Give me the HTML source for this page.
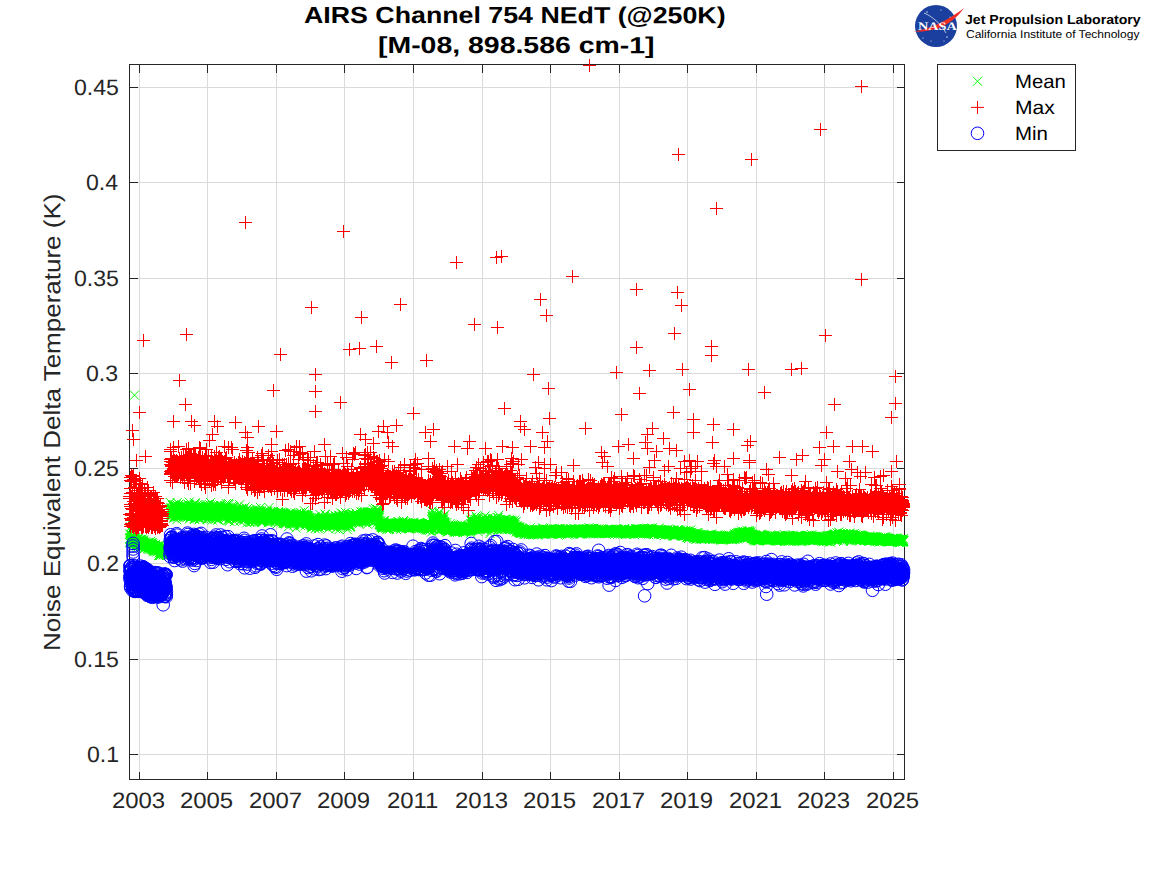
<!DOCTYPE html>
<html><head><meta charset="utf-8"><title>AIRS Channel 754 NEdT</title>
<style>
html,body{margin:0;padding:0;background:#fff;}
body{width:1167px;height:875px;position:relative;overflow:hidden;font-family:"Liberation Sans",sans-serif;}
.t{position:absolute;white-space:nowrap;line-height:1;color:#262626;transform-origin:0 0;font-family:"Liberation Sans",sans-serif;}
</style></head><body>
<svg width="1167" height="875" viewBox="0 0 1167 875" style="position:absolute;left:0;top:0">
<defs>
<marker id="mx" markerUnits="userSpaceOnUse" markerWidth="12" markerHeight="12" refX="6" refY="6" viewBox="0 0 12 12"><path d="M1.5 1.5L10.5 10.5M10.5 1.5L1.5 10.5" stroke="#00ff00" stroke-width="1" fill="none"/></marker>
<marker id="mp" markerUnits="userSpaceOnUse" markerWidth="14" markerHeight="14" refX="7" refY="7" viewBox="0 0 14 14"><path d="M0.5 7H13.5M7 0.5V13.5" stroke="#ff0000" stroke-width="1" fill="none"/></marker>
<marker id="mc" markerUnits="userSpaceOnUse" markerWidth="16" markerHeight="16" refX="8" refY="8" viewBox="0 0 16 16"><circle cx="8" cy="8" r="6.3" stroke="#0000ff" stroke-width="1" fill="none"/></marker>
</defs>
<rect x="0" y="0" width="1167" height="875" fill="#fff"/>
<path d="M139.5 64.5V779.5M207.5 64.5V779.5M276.5 64.5V779.5M344.5 64.5V779.5M413.5 64.5V779.5M482.5 64.5V779.5M550.5 64.5V779.5M619.5 64.5V779.5M687.5 64.5V779.5M756.5 64.5V779.5M824.5 64.5V779.5M893.5 64.5V779.5M129.5 87.5H904.5M129.5 182.5H904.5M129.5 278.5H904.5M129.5 373.5H904.5M129.5 468.5H904.5M129.5 563.5H904.5M129.5 659.5H904.5M129.5 754.5H904.5" stroke="#262626" stroke-opacity="0.17" stroke-width="1" fill="none" shape-rendering="crispEdges"/>
<path d="M129.5 64.5H904.5V779.5H129.5ZM139.5 779.5v-8M139.5 64.5v8M207.5 779.5v-8M207.5 64.5v8M276.5 779.5v-8M276.5 64.5v8M344.5 779.5v-8M344.5 64.5v8M413.5 779.5v-8M413.5 64.5v8M482.5 779.5v-8M482.5 64.5v8M550.5 779.5v-8M550.5 64.5v8M619.5 779.5v-8M619.5 64.5v8M687.5 779.5v-8M687.5 64.5v8M756.5 779.5v-8M756.5 64.5v8M824.5 779.5v-8M824.5 64.5v8M893.5 779.5v-8M893.5 64.5v8M129.5 87.5h8M904.5 87.5h-8M129.5 182.5h8M904.5 182.5h-8M129.5 278.5h8M904.5 278.5h-8M129.5 373.5h8M904.5 373.5h-8M129.5 468.5h8M904.5 468.5h-8M129.5 563.5h8M904.5 563.5h-8M129.5 659.5h8M904.5 659.5h-8M129.5 754.5h8M904.5 754.5h-8" stroke="#262626" stroke-width="1" fill="none" shape-rendering="crispEdges"/>
<polyline points="129.8,539.2 129.9,542.5 130.0,542.2 130.1,537.9 130.2,538.5 130.3,537.9 130.4,540.6 130.5,539.1 130.6,541.1 130.6,534.8 130.7,543.1 130.8,539.1 130.9,541.0 131.0,539.0 131.1,538.5 131.2,540.5 131.3,541.4 131.4,539.0 131.5,539.1 131.6,541.2 131.7,537.5 131.8,536.0 131.9,540.6 132.0,538.1 132.1,535.1 132.2,537.8 132.3,538.7 132.3,537.0 132.4,536.4 132.5,540.0 132.6,542.1 132.7,539.5 132.8,538.3 132.9,541.0 133.0,541.9 133.1,539.5 133.2,541.5 133.3,542.8 133.4,539.9 133.5,538.5 133.6,541.3 133.7,541.1 133.8,543.1 133.9,537.7 134.0,539.2 134.0,538.8 134.1,536.8 134.2,541.2 134.3,542.1 134.4,539.3 134.5,544.2 134.6,543.0 134.7,542.6 134.8,542.1 134.9,543.4 135.0,538.3 135.1,542.7 135.2,542.7 135.3,537.4 135.4,542.3 135.5,541.0 135.6,543.3 135.7,540.6 135.7,541.6 135.8,542.5 135.9,539.8 136.0,543.1 136.1,541.6 136.2,542.9 136.3,540.7 136.4,544.3 136.5,543.3 136.6,541.6 136.7,543.4 136.8,544.8 136.9,546.0 137.0,538.6 137.1,544.0 137.2,543.1 137.3,541.9 137.4,540.0 137.4,544.9 137.5,539.5 137.6,543.4 137.7,545.0 137.8,538.8 137.9,541.6 138.0,539.5 138.1,542.8 138.2,545.5 138.3,546.6 138.4,538.5 138.5,541.1 138.6,543.8 138.7,545.7 138.8,543.3 138.9,540.8 139.0,543.0 139.0,542.4 139.1,542.0 139.2,540.9 139.3,543.3 139.4,543.1 139.5,542.3 139.6,542.1 139.7,539.9 139.8,541.5 139.9,545.1 140.0,542.2 140.1,539.6 140.2,545.4 140.3,543.7 140.4,547.0 140.5,542.8 140.6,541.7 140.7,539.8 140.7,545.4 140.8,548.0 140.9,541.1 141.0,541.5 141.1,544.0 141.2,541.2 141.3,542.3 141.4,542.2 141.5,543.3 141.6,545.2 141.7,543.1 141.8,544.9 141.9,542.2 142.0,543.8 142.1,538.8 142.2,540.2 142.3,544.8 142.4,542.0 142.4,544.5 142.5,544.4 142.6,546.0 142.7,545.0 142.8,545.5 142.9,543.2 143.0,542.1 143.1,542.1 143.2,542.6 143.3,541.3 143.4,542.6 143.5,543.5 143.6,544.3 143.7,543.1 143.8,540.0 143.9,543.8 144.0,544.4 144.1,546.2 144.1,545.2 144.2,542.8 144.3,542.7 144.4,548.3 144.5,545.8 144.6,548.0 144.7,548.7 144.8,542.7 144.9,545.2 145.0,545.4 145.1,545.7 145.2,545.7 145.3,545.0 145.4,545.0 145.5,541.7 145.6,544.4 145.7,543.3 145.7,545.1 145.8,544.0 145.9,546.2 146.0,546.6 146.1,545.7 146.2,545.7 146.3,545.3 146.4,544.2 146.5,544.9 146.6,544.2 146.7,546.0 146.8,545.3 146.9,546.5 147.0,542.7 147.1,547.2 147.2,543.9 147.3,543.9 147.4,545.1 147.4,544.3 147.5,546.1 147.6,544.4 147.7,543.4 147.8,543.8 147.9,548.2 148.0,545.7 148.1,543.2 148.2,545.6 148.3,542.5 148.4,549.3 148.5,542.6 148.6,546.6 148.7,546.8 148.8,542.7 148.9,546.3 149.0,547.7 149.1,546.6 149.1,546.2 149.2,547.6 149.3,546.0 149.4,546.4 149.5,545.4 149.6,547.0 149.7,543.8 149.8,547.3 149.9,544.7 150.0,543.5 150.1,546.5 150.2,549.2 150.3,547.7 150.4,544.8 150.5,547.3 150.6,544.9 150.7,545.6 150.8,546.1 150.8,541.3 150.9,546.4 151.0,544.0 151.1,544.7 151.2,543.1 151.3,543.1 151.4,544.3 151.5,548.0 151.6,549.7 151.7,546.3 151.8,548.7 151.9,546.0 152.0,542.7 152.1,546.9 152.2,547.6 152.3,545.9 152.4,547.4 152.5,548.0 152.5,545.2 152.6,544.0 152.7,546.6 152.8,546.7 152.9,546.4 153.0,549.2 153.1,550.8 153.2,546.5 153.3,548.8 153.4,549.3 153.5,548.9 153.6,549.7 153.7,546.8 153.8,549.1 153.9,551.8 154.0,549.3 154.1,546.5 154.1,549.0 154.2,550.4 154.3,548.6 154.4,546.8 154.5,551.1 154.6,545.5 154.7,549.1 154.8,548.0 154.9,545.7 155.0,550.6 155.1,548.9 155.2,545.8 155.3,549.5 155.4,547.4 155.5,544.4 155.6,546.9 155.7,548.9 155.8,549.7 155.8,548.7 155.9,548.5 156.0,549.4 156.1,548.1 156.2,550.9 156.3,548.9 156.4,549.2 156.5,549.7 156.6,546.5 156.7,547.2 156.8,551.8 156.9,549.4 157.0,548.2 157.1,549.5 157.2,547.9 157.3,549.5 157.4,547.6 157.5,549.6 157.5,545.9 157.6,551.8 157.7,548.1 157.8,546.0 157.9,548.8 158.0,548.5 158.1,549.6 158.2,547.0 158.3,550.2 158.4,555.5 158.5,546.8 158.6,550.1 158.7,548.9 158.8,549.9 158.9,545.9 159.0,547.3 159.1,550.6 159.2,549.6 159.2,553.0 159.3,548.3 159.4,550.1 159.5,555.7 159.6,548.3 159.7,548.0 159.8,549.8 159.9,549.8 160.0,551.7 160.1,550.3 160.2,548.5 160.3,550.5 160.4,555.5 160.5,552.8 160.6,544.6 160.7,550.0 160.8,548.5 160.9,551.6 160.9,550.0 161.0,554.3 161.1,552.3 161.2,552.3 161.3,550.9 161.4,550.5 161.5,551.3 161.6,553.3 161.7,551.8 161.8,550.0 161.9,553.3 162.0,551.2 162.1,550.6 162.2,549.2 162.3,549.7 162.4,549.6 162.5,545.3 162.5,553.0 162.6,552.1 162.7,550.5 162.8,553.1 162.9,551.9 163.0,551.8 163.1,546.1 163.2,550.6 163.3,552.2 163.4,554.4 163.5,554.9 163.6,554.0 163.7,548.8 163.8,546.7 163.9,552.4 164.0,551.3 164.1,553.2 164.2,551.0 164.2,551.7 164.3,548.2 164.4,552.2 164.5,550.4 164.6,552.0 164.7,552.3 164.8,551.1 164.9,552.0 165.0,551.3 165.1,552.9 165.2,552.4 165.3,550.3 165.4,550.3 165.5,555.0 165.6,551.3 165.7,553.5 165.8,552.3 165.9,550.4 165.9,550.1 166.0,551.8 166.1,552.1 166.2,552.9 166.3,549.1 166.4,550.5 170.0,510.4 170.1,516.4 170.2,502.4 170.3,512.3 170.4,508.9 170.5,512.3 170.6,509.0 170.7,512.0 170.8,516.3 170.9,512.0 170.9,512.2 171.0,512.0 171.1,508.1 171.2,512.6 171.3,509.9 171.4,507.8 171.5,510.5 171.6,509.8 171.7,513.3 171.8,510.5 171.9,508.7 172.0,515.7 172.1,514.1 172.2,515.1 172.3,512.7 172.4,510.2 172.5,509.1 172.6,509.6 172.6,513.9 172.7,510.9 172.8,505.3 172.9,510.4 173.0,505.6 173.1,511.1 173.2,506.3 173.3,506.1 173.4,511.0 173.5,510.3 173.6,504.7 173.7,513.2 173.8,518.2 173.9,505.4 174.0,517.0 174.1,508.2 174.2,508.9 174.3,510.0 174.3,505.6 174.4,515.3 174.5,512.4 174.6,508.1 174.7,509.8 174.8,505.5 174.9,509.6 175.0,514.1 175.1,504.9 175.2,509.4 175.3,511.4 175.4,514.6 175.5,515.7 175.6,509.4 175.7,508.4 175.8,512.6 175.9,509.8 176.0,510.0 176.0,514.9 176.1,517.1 176.2,512.1 176.3,510.6 176.4,513.2 176.5,504.7 176.6,511.2 176.7,507.6 176.8,519.7 176.9,513.9 177.0,511.9 177.1,510.7 177.2,502.6 177.3,513.9 177.4,517.1 177.5,508.9 177.6,513.8 177.6,514.0 177.7,506.1 177.8,514.7 177.9,516.2 178.0,512.3 178.1,511.2 178.2,514.2 178.3,506.1 178.4,511.8 178.5,515.1 178.6,507.1 178.7,514.8 178.8,509.9 178.9,504.1 179.0,510.9 179.1,507.9 179.2,512.4 179.3,507.1 179.3,514.9 179.4,508.6 179.5,512.4 179.6,509.0 179.7,509.9 179.8,515.2 179.9,511.7 180.0,509.6 180.1,506.6 180.2,514.9 180.3,513.4 180.4,509.7 180.5,511.6 180.6,507.2 180.7,507.2 180.8,507.8 180.9,511.9 181.0,511.7 181.0,508.0 181.1,513.1 181.2,513.3 181.3,511.1 181.4,514.1 181.5,509.5 181.6,510.1 181.7,512.1 181.8,510.4 181.9,513.2 182.0,506.1 182.1,515.4 182.2,507.8 182.3,509.9 182.4,505.7 182.5,512.6 182.6,515.0 182.7,514.3 182.7,513.5 182.8,505.2 182.9,507.9 183.0,509.1 183.1,507.5 183.2,514.7 183.3,511.5 183.4,510.8 183.5,512.6 183.6,507.7 183.7,507.9 183.8,508.0 183.9,512.8 184.0,512.3 184.1,513.2 184.2,515.0 184.3,506.6 184.4,509.4 184.4,511.9 184.5,506.8 184.6,509.7 184.7,515.1 184.8,515.4 184.9,515.4 185.0,511.8 185.1,511.0 185.2,515.5 185.3,510.5 185.4,512.9 185.5,516.4 185.6,510.5 185.7,509.7 185.8,511.8 185.9,513.9 186.0,513.5 186.0,512.4 186.1,513.7 186.2,506.3 186.3,508.8 186.4,512.3 186.5,508.6 186.6,507.1 186.7,507.6 186.8,508.5 186.9,511.0 187.0,508.1 187.1,512.4 187.2,517.4 187.3,511.0 187.4,515.9 187.5,512.5 187.6,507.6 187.7,510.5 187.7,508.0 187.8,514.0 187.9,507.4 188.0,515.9 188.1,513.3 188.2,504.3 188.3,513.9 188.4,516.6 188.5,508.5 188.6,514.6 188.7,505.0 188.8,512.0 188.9,505.4 189.0,512.8 189.1,505.0 189.2,502.1 189.3,512.5 189.4,519.0 189.4,509.1 189.5,514.0 189.6,511.5 189.7,510.0 189.8,513.3 189.9,516.8 190.0,506.9 190.1,513.1 190.2,512.4 190.3,506.3 190.4,516.7 190.5,517.9 190.6,507.9 190.7,517.1 190.8,511.3 190.9,510.6 191.0,516.3 191.1,511.9 191.1,512.2 191.2,516.3 191.3,515.5 191.4,514.1 191.5,506.3 191.6,505.7 191.7,514.9 191.8,507.8 191.9,511.5 192.0,507.3 192.1,510.4 192.2,506.6 192.3,516.6 192.4,507.5 192.5,510.5 192.6,510.3 192.7,515.1 192.7,506.1 192.8,510.8 192.9,510.2 193.0,512.8 193.1,512.6 193.2,509.4 193.3,511.8 193.4,509.7 193.5,512.6 193.6,510.6 193.7,508.7 193.8,510.9 193.9,512.2 194.0,518.7 194.1,509.3 194.2,512.0 194.3,516.0 194.4,503.9 194.4,505.1 194.5,507.0 194.6,510.7 194.7,519.4 194.8,512.4 194.9,515.2 195.0,510.4 195.1,502.8 195.2,503.3 195.3,514.7 195.4,511.9 195.5,506.8 195.6,515.1 195.7,506.1 195.8,515.2 195.9,516.3 196.0,508.8 196.1,507.6 196.1,514.3 196.2,507.7 196.3,514.4 196.4,507.4 196.5,514.3 196.6,511.8 196.7,510.1 196.8,508.5 196.9,512.4 197.0,505.1 197.1,510.6 197.2,510.2 197.3,513.9 197.4,507.3 197.5,517.4 197.6,510.6 197.7,507.8 197.8,516.3 197.8,517.3 197.9,511.0 198.0,508.6 198.1,511.7 198.2,509.3 198.3,510.6 198.4,516.9 198.5,513.0 198.6,512.1 198.7,512.8 198.8,511.4 198.9,514.5 199.0,514.6 199.1,510.3 199.2,511.9 199.3,519.8 199.4,513.0 199.5,510.9 199.5,518.5 199.6,511.6 199.7,507.8 199.8,513.8 199.9,508.5 200.0,509.8 200.1,512.6 200.2,511.1 200.3,508.9 200.4,509.6 200.5,509.5 200.6,515.5 200.7,509.1 200.8,509.6 200.9,518.4 201.0,509.7 201.1,516.6 201.1,516.0 201.2,511.1 201.3,506.8 201.4,513.1 201.5,513.9 201.6,514.9 201.7,511.9 201.8,515.7 201.9,516.4 202.0,508.1 202.1,516.5 202.2,512.3 202.3,509.8 202.4,510.7 202.5,518.1 202.6,515.1 202.7,505.7 202.8,512.0 202.8,511.3 202.9,511.2 203.0,510.0 203.1,506.8 203.2,514.6 203.3,508.5 203.4,510.5 203.5,509.7 203.6,509.2 203.7,514.2 203.8,512.9 203.9,509.4 204.0,508.5 204.1,510.0 204.2,514.9 204.3,512.0 204.4,512.4 204.5,510.5 204.5,510.7 204.6,512.3 204.7,505.3 204.8,516.9 204.9,508.9 205.0,509.6 205.1,516.0 205.2,512.2 205.3,511.6 205.4,509.5 205.5,506.2 205.6,512.0 205.7,515.4 205.8,508.4 205.9,516.0 206.0,507.6 206.1,508.9 206.2,513.1 206.2,511.4 206.3,513.7 206.4,508.9 206.5,507.9 206.6,505.1 206.7,507.3 206.8,507.8 206.9,506.6 207.0,512.4 207.1,509.1 207.2,504.7 207.3,519.7 207.4,508.6 207.5,507.2 207.6,515.5 207.7,515.3 207.8,507.5 207.9,506.4 207.9,508.0 208.0,515.2 208.1,510.4 208.2,508.7 208.3,511.3 208.4,515.4 208.5,506.8 208.6,510.1 208.7,506.8 208.8,518.7 208.9,517.5 209.0,514.7 209.1,511.1 209.2,513.7 209.3,504.5 209.4,512.5 209.5,507.1 209.5,507.1 209.6,509.2 209.7,510.4 209.8,513.5 209.9,514.0 210.0,512.5 210.1,508.5 210.2,513.9 210.3,511.3 210.4,515.6 210.5,508.6 210.6,502.5 210.7,510.1 210.8,518.9 210.9,513.2 211.0,511.0 211.1,514.6 211.2,513.3 211.2,513.2 211.3,509.9 211.4,511.9 211.5,512.3 211.6,509.5 211.7,507.9 211.8,512.0 211.9,514.8 212.0,513.7 212.1,513.2 212.2,513.2 212.3,520.1 212.4,512.3 212.5,514.9 212.6,517.9 212.7,511.6 212.8,512.3 212.9,514.8 212.9,517.0 213.0,512.4 213.1,512.5 213.2,511.6 213.3,507.3 213.4,515.0 213.5,510.5 213.6,505.6 213.7,510.9 213.8,505.6 213.9,508.0 214.0,511.5 214.1,508.4 214.2,515.0 214.3,506.6 214.4,512.3 214.5,513.3 214.6,516.4 214.6,514.6 214.7,512.3 214.8,511.9 214.9,511.4 215.0,515.4 215.1,509.5 215.2,513.4 215.3,511.4 215.4,512.5 215.5,510.9 215.6,518.8 215.7,509.6 215.8,512.7 215.9,512.7 216.0,513.9 216.1,513.4 216.2,513.3 216.2,515.1 216.3,506.9 216.4,511.9 216.5,507.8 216.6,512.7 216.7,508.0 216.8,508.7 216.9,511.7 217.0,516.5 217.1,513.8 217.2,512.9 217.3,516.5 217.4,508.8 217.5,505.0 217.6,510.5 217.7,511.0 217.8,515.9 217.9,518.9 217.9,507.5 218.0,520.0 218.1,517.0 218.2,514.6 218.3,513.1 218.4,519.8 218.5,512.1 218.6,510.3 218.7,512.3 218.8,507.4 218.9,513.4 219.0,511.5 219.1,513.0 219.2,513.1 219.3,508.5 219.4,516.3 219.5,508.7 219.6,515.0 219.6,506.8 219.7,513.3 219.8,509.4 219.9,512.3 220.0,510.1 220.1,505.1 220.2,508.6 220.3,512.5 220.4,514.4 220.5,507.6 220.6,505.4 220.7,509.6 220.8,511.8 220.9,510.4 221.0,509.9 221.1,515.3 221.2,515.7 221.3,515.0 221.3,509.5 221.4,512.9 221.5,512.0 221.6,508.0 221.7,515.5 221.8,512.9 221.9,511.1 222.0,517.3 222.1,515.1 222.2,515.4 222.3,516.5 222.4,514.9 222.5,508.4 222.6,511.3 222.7,515.8 222.8,510.0 222.9,512.6 223.0,513.8 223.0,517.2 223.1,516.7 223.2,515.3 223.3,511.7 223.4,515.3 223.5,514.0 223.6,511.7 223.7,516.7 223.8,513.8 223.9,509.7 224.0,516.3 224.1,511.3 224.2,514.0 224.3,507.1 224.4,512.0 224.5,508.9 224.6,508.8 224.6,505.7 224.7,518.9 224.8,511.4 224.9,512.7 225.0,515.5 225.1,511.5 225.2,513.6 225.3,507.5 225.4,512.6 225.5,510.6 225.6,513.6 225.7,512.6 225.8,507.6 225.9,506.1 226.0,508.8 226.1,514.6 226.2,513.6 226.3,513.6 226.3,505.7 226.4,503.6 226.5,510.4 226.6,511.4 226.7,510.5 226.8,513.7 226.9,512.0 227.0,508.8 227.1,509.8 227.2,513.2 227.3,513.0 227.4,512.6 227.5,520.3 227.6,512.1 227.7,513.4 227.8,509.8 227.9,511.9 228.0,514.8 228.0,515.0 228.1,512.7 228.2,514.5 228.3,513.4 228.4,507.1 228.5,503.5 228.6,520.8 228.7,516.0 228.8,513.1 228.9,507.7 229.0,509.2 229.1,517.7 229.2,504.3 229.3,512.3 229.4,516.1 229.5,513.8 229.6,515.8 229.7,512.9 229.7,521.0 229.8,509.9 229.9,508.8 230.0,514.1 230.1,517.8 230.2,513.0 230.3,516.5 230.4,511.4 230.5,509.2 230.6,517.6 230.7,518.1 230.8,517.9 230.9,511.5 231.0,509.2 231.1,509.1 231.2,512.1 231.3,514.7 231.4,514.4 231.4,508.1 231.5,513.3 231.6,512.7 231.7,512.9 231.8,512.6 231.9,512.0 232.0,514.5 232.1,513.0 232.2,513.3 232.3,510.3 232.4,513.8 232.5,512.1 232.6,505.6 232.7,514.0 232.8,511.5 232.9,515.4 233.0,511.8 233.0,512.0 233.1,513.0 233.2,512.3 233.3,510.8 233.4,506.5 233.5,518.2 233.6,507.2 233.7,511.1 233.8,514.3 233.9,513.5 234.0,514.1 234.1,514.7 234.2,516.3 234.3,513.2 234.4,521.6 234.5,509.0 234.6,513.0 234.7,511.1 234.7,510.6 234.8,513.3 234.9,517.0 235.0,510.1 235.1,510.1 235.2,514.8 235.3,514.2 235.4,518.8 235.5,515.8 235.6,513.3 235.7,511.6 235.8,513.4 235.9,512.2 236.0,508.5 236.1,512.8 236.2,512.3 236.3,512.2 236.4,511.6 236.4,518.3 236.5,515.2 236.6,516.0 236.7,511.1 236.8,509.9 236.9,512.2 237.0,513.9 237.1,512.1 237.2,512.6 237.3,516.2 237.4,514.1 237.5,510.2 237.6,511.9 237.7,511.2 237.8,513.8 237.9,509.7 238.0,512.8 238.1,515.4 238.1,513.4 238.2,510.6 238.3,511.5 238.4,513.7 238.5,514.8 238.6,515.9 238.7,513.0 238.8,509.4 238.9,517.7 239.0,514.3 239.1,514.7 239.2,514.4 239.3,510.3 239.4,512.5 239.5,514.2 239.6,516.5 239.7,513.7 239.7,504.6 239.8,512.8 239.9,514.5 240.0,517.4 240.1,515.6 240.2,520.9 240.3,517.8 240.4,517.6 240.5,516.4 240.6,509.6 240.7,516.2 240.8,515.5 240.9,512.2 241.0,515.5 241.1,515.0 241.2,512.4 241.3,513.4 241.4,513.1 241.4,514.5 241.5,512.6 241.6,515.5 241.7,508.3 241.8,513.1 241.9,509.0 242.0,512.6 242.1,515.5 242.2,514.1 242.3,513.7 242.4,514.3 242.5,518.7 242.6,510.9 242.7,516.8 242.8,509.7 242.9,512.8 243.0,514.7 243.1,511.7 243.1,514.8 243.2,516.4 243.3,510.8 243.4,514.1 243.5,513.2 243.6,508.6 243.7,513.8 243.8,512.0 243.9,518.3 244.0,511.9 244.1,519.5 244.2,512.9 244.3,520.2 244.4,516.1 244.5,515.9 244.6,517.0 244.7,517.3 244.8,518.8 244.8,519.8 244.9,513.7 245.0,511.1 245.1,506.9 245.2,513.7 245.3,517.1 245.4,516.0 245.5,515.3 245.6,514.0 245.7,513.1 245.8,514.2 245.9,516.2 246.0,510.0 246.1,517.3 246.2,511.0 246.3,514.8 246.4,513.5 246.5,514.3 246.5,512.3 246.6,512.1 246.7,514.8 246.8,512.4 246.9,522.8 247.0,514.4 247.1,513.7 247.2,514.1 247.3,512.6 247.4,508.6 247.5,515.1 247.6,516.7 247.7,511.5 247.8,515.9 247.9,512.4 248.0,515.9 248.1,517.1 248.1,517.5 248.2,517.3 248.3,514.0 248.4,518.7 248.5,514.9 248.6,517.2 248.7,518.3 248.8,515.4 248.9,512.5 249.0,518.1 249.1,513.0 249.2,513.7 249.3,513.1 249.4,518.8 249.5,515.9 249.6,509.8 249.7,518.6 249.8,522.5 249.8,521.7 249.9,514.8 250.0,516.7 250.1,518.0 250.2,519.1 250.3,516.6 250.4,513.3 250.5,518.7 250.6,518.3 250.7,512.6 250.8,515.4 250.9,517.3 251.0,516.5 251.1,518.0 251.2,518.8 251.3,518.1 251.4,516.2 251.5,512.6 251.5,518.3 251.6,520.6 251.7,522.2 251.8,516.4 251.9,516.4 252.0,520.7 252.1,520.7 252.2,517.5 252.3,518.6 252.4,514.3 252.5,518.2 252.6,514.1 252.7,516.0 252.8,516.1 252.9,515.1 253.0,510.3 253.1,514.0 253.2,517.4 253.2,516.2 253.3,515.2 253.4,517.6 253.5,518.4 253.6,518.8 253.7,514.0 253.8,516.4 253.9,515.3 254.0,513.7 254.1,511.9 254.2,516.0 254.3,513.7 254.4,522.5 254.5,515.9 254.6,515.6 254.7,515.1 254.8,521.6 254.9,513.5 254.9,515.7 255.0,514.0 255.1,515.8 255.2,516.1 255.3,519.4 255.4,512.1 255.5,516.1 255.6,520.9 255.7,514.7 255.8,515.7 255.9,513.7 256.0,508.6 256.1,515.9 256.2,519.7 256.3,514.9 256.4,510.9 256.5,517.1 256.5,516.5 256.6,519.2 256.7,519.0 256.8,515.5 256.9,517.5 257.0,511.1 257.1,519.6 257.2,516.9 257.3,519.5 257.4,519.4 257.5,515.5 257.6,515.9 257.7,513.8 257.8,510.4 257.9,515.9 258.0,516.8 258.1,513.2 258.2,518.3 258.2,516.6 258.3,517.6 258.4,514.0 258.5,511.1 258.6,518.4 258.7,517.9 258.8,515.8 258.9,514.9 259.0,515.3 259.1,515.7 259.2,514.6 259.3,510.3 259.4,518.3 259.5,511.7 259.6,515.1 259.7,515.1 259.8,516.8 259.9,511.3 259.9,519.5 260.0,517.9 260.1,518.2 260.2,519.6 260.3,513.7 260.4,507.4 260.5,517.0 260.6,519.8 260.7,519.4 260.8,514.5 260.9,515.8 261.0,516.9 261.1,510.9 261.2,514.2 261.3,514.3 261.4,520.7 261.5,514.3 261.6,520.7 261.6,516.3 261.7,511.5 261.8,522.7 261.9,513.5 262.0,518.1 262.1,521.3 262.2,514.9 262.3,512.9 262.4,519.5 262.5,516.7 262.6,513.0 262.7,513.4 262.8,515.4 262.9,519.3 263.0,515.8 263.1,518.5 263.2,521.4 263.2,520.3 263.3,520.8 263.4,520.2 263.5,512.1 263.6,520.2 263.7,517.6 263.8,516.3 263.9,513.6 264.0,512.1 264.1,513.5 264.2,516.6 264.3,513.3 264.4,514.3 264.5,514.8 264.6,518.5 264.7,515.7 264.8,516.1 264.9,520.3 264.9,515.6 265.0,518.2 265.1,513.5 265.2,517.4 265.3,516.8 265.4,516.9 265.5,515.1 265.6,513.4 265.7,515.5 265.8,515.0 265.9,519.3 266.0,518.9 266.1,512.9 266.2,518.1 266.3,514.9 266.4,517.6 266.5,514.9 266.6,512.1 266.6,519.2 266.7,517.6 266.8,512.8 266.9,510.9 267.0,514.7 267.1,512.9 267.2,515.2 267.3,518.0 267.4,520.4 267.5,515.2 267.6,520.2 267.7,519.6 267.8,515.0 267.9,511.5 268.0,518.7 268.1,518.0 268.2,522.9 268.3,520.3 268.3,518.4 268.4,521.0 268.5,513.2 268.6,516.8 268.7,515.4 268.8,521.1 268.9,517.8 269.0,507.6 269.1,520.0 269.2,513.6 269.3,518.3 269.4,514.8 269.5,516.8 269.6,517.9 269.7,516.6 269.8,513.3 269.9,520.0 270.0,517.1 270.0,515.9 270.1,518.0 270.2,514.5 270.3,521.3 270.4,516.6 270.5,517.0 270.6,516.9 270.7,513.3 270.8,512.6 270.9,516.5 271.0,516.9 271.1,519.7 271.2,517.2 271.3,512.8 271.4,517.4 271.5,518.3 271.6,518.8 271.6,516.9 271.7,512.5 271.8,519.2 271.9,513.9 272.0,517.6 272.1,511.5 272.2,518.2 272.3,513.8 272.4,519.1 272.5,521.1 272.6,519.4 272.7,512.8 272.8,513.5 272.9,513.7 273.0,518.1 273.1,517.2 273.2,516.7 273.3,517.2 273.3,518.0 273.4,518.2 273.5,521.2 273.6,516.2 273.7,517.0 273.8,511.2 273.9,512.7 274.0,514.5 274.1,513.2 274.2,517.2 274.3,519.6 274.4,515.4 274.5,515.3 274.6,515.2 274.7,517.1 274.8,515.1 274.9,517.9 275.0,517.6 275.0,517.7 275.1,518.9 275.2,516.9 275.3,517.2 275.4,521.8 275.5,516.7 275.6,519.1 275.7,516.9 275.8,515.5 275.9,515.5 276.0,514.4 276.1,516.8 276.2,515.0 276.3,515.5 276.4,520.2 276.5,516.3 276.6,519.9 276.7,517.4 276.7,519.1 276.8,514.8 276.9,517.0 277.0,524.1 277.1,518.9 277.2,519.4 277.3,517.1 277.4,518.9 277.5,513.1 277.6,514.0 277.7,517.6 277.8,518.7 277.9,515.2 278.0,515.8 278.1,515.3 278.2,515.8 278.3,512.9 278.3,512.2 278.4,516.1 278.5,511.4 278.6,513.5 278.7,514.5 278.8,513.3 278.9,517.1 279.0,515.1 279.1,516.2 279.2,513.5 279.3,514.3 279.4,517.9 279.5,517.5 279.6,515.2 279.7,517.6 279.8,517.1 279.9,517.1 280.0,521.2 280.0,515.5 280.1,517.9 280.2,518.0 280.3,516.1 280.4,513.5 280.5,518.9 280.6,517.7 280.7,517.1 280.8,517.1 280.9,517.1 281.0,514.5 281.1,518.0 281.2,512.0 281.3,517.2 281.4,513.0 281.5,516.3 281.6,519.4 281.7,516.7 281.7,516.1 281.8,519.0 281.9,516.8 282.0,516.4 282.1,516.5 282.2,522.0 282.3,519.6 282.4,519.1 282.5,514.3 282.6,519.6 282.7,514.1 282.8,519.3 282.9,514.7 283.0,523.6 283.1,513.1 283.2,521.5 283.3,520.3 283.4,512.9 283.4,517.4 283.5,522.3 283.6,521.4 283.7,513.4 283.8,516.7 283.9,514.8 284.0,515.3 284.1,516.4 284.2,523.6 284.3,518.7 284.4,517.7 284.5,517.4 284.6,520.3 284.7,520.4 284.8,515.8 284.9,522.7 285.0,515.4 285.1,517.7 285.1,519.8 285.2,523.5 285.3,517.6 285.4,519.4 285.5,522.4 285.6,520.4 285.7,521.9 285.8,521.6 285.9,519.4 286.0,520.5 286.1,521.3 286.2,518.5 286.3,523.3 286.4,512.9 286.5,515.9 286.6,522.8 286.7,519.8 286.7,516.7 286.8,519.7 286.9,521.7 287.0,516.9 287.1,520.8 287.2,518.2 287.3,518.2 287.4,518.3 287.5,521.7 287.6,515.2 287.7,517.4 287.8,520.4 287.9,514.9 288.0,513.8 288.1,520.1 288.2,518.4 288.3,517.9 288.4,518.8 288.4,515.5 288.5,526.8 288.6,515.5 288.7,517.0 288.8,514.2 288.9,517.1 289.0,522.7 289.1,518.3 289.2,520.0 289.3,516.9 289.4,523.6 289.5,518.8 289.6,514.7 289.7,520.5 289.8,517.2 289.9,520.1 290.0,518.7 290.1,519.1 290.1,518.7 290.2,515.7 290.3,514.0 290.4,521.2 290.5,518.0 290.6,519.2 290.7,517.0 290.8,512.5 290.9,514.7 291.0,522.5 291.1,516.2 291.2,517.3 291.3,514.2 291.4,517.0 291.5,517.4 291.6,517.9 291.7,518.3 291.8,516.7 291.8,516.9 291.9,518.5 292.0,519.5 292.1,518.2 292.2,523.7 292.3,519.2 292.4,519.1 292.5,516.7 292.6,521.6 292.7,515.6 292.8,513.9 292.9,515.8 293.0,520.4 293.1,515.3 293.2,522.4 293.3,518.6 293.4,514.2 293.5,518.0 293.5,523.8 293.6,516.1 293.7,514.8 293.8,520.1 293.9,522.4 294.0,521.6 294.1,517.7 294.2,519.2 294.3,519.6 294.4,522.1 294.5,524.9 294.6,518.4 294.7,522.5 294.8,517.7 294.9,520.4 295.0,516.0 295.1,516.5 295.1,520.0 295.2,516.2 295.3,521.4 295.4,517.2 295.5,519.1 295.6,518.6 295.7,517.9 295.8,519.3 295.9,522.1 296.0,527.9 296.1,515.5 296.2,519.9 296.3,518.5 296.4,516.4 296.5,519.9 296.6,516.5 296.7,518.9 296.8,522.7 296.8,513.3 296.9,519.9 297.0,520.5 297.1,516.5 297.2,520.8 297.3,520.3 297.4,518.3 297.5,522.8 297.6,515.5 297.7,521.2 297.8,518.7 297.9,516.3 298.0,518.9 298.1,518.4 298.2,521.8 298.3,515.1 298.4,518.9 298.5,518.2 298.5,524.1 298.6,516.3 298.7,522.6 298.8,514.5 298.9,520.6 299.0,519.2 299.1,520.7 299.2,517.6 299.3,514.0 299.4,515.1 299.5,523.4 299.6,520.2 299.7,517.1 299.8,522.2 299.9,517.4 300.0,517.4 300.1,516.1 300.2,523.0 300.2,525.2 300.3,516.7 300.4,520.3 300.5,522.3 300.6,525.6 300.7,512.5 300.8,519.8 300.9,521.3 301.0,515.1 301.1,520.5 301.2,519.9 301.3,521.4 301.4,517.6 301.5,520.4 301.6,517.5 301.7,520.9 301.8,519.6 301.8,518.0 301.9,515.0 302.0,523.8 302.1,522.3 302.2,521.6 302.3,517.1 302.4,518.0 302.5,523.8 302.6,521.1 302.7,516.5 302.8,519.0 302.9,519.3 303.0,518.3 303.1,516.1 303.2,522.5 303.3,520.5 303.4,518.3 303.5,514.3 303.5,517.1 303.6,518.8 303.7,521.3 303.8,517.7 303.9,522.0 304.0,519.2 304.1,516.7 304.2,510.7 304.3,515.4 304.4,514.5 304.5,518.4 304.6,519.8 304.7,522.9 304.8,518.8 304.9,515.5 305.0,525.7 305.1,519.8 305.2,518.2 305.2,518.2 305.3,515.1 305.4,520.8 305.5,520.1 305.6,523.6 305.7,522.2 305.8,521.6 305.9,522.7 306.0,518.3 306.1,517.8 306.2,519.0 306.3,515.5 306.4,518.7 306.5,518.2 306.6,521.1 306.7,519.2 306.8,513.7 306.9,519.3 306.9,523.4 307.0,514.0 307.1,517.1 307.2,519.4 307.3,515.5 307.4,517.8 307.5,519.5 307.6,515.6 307.7,520.3 307.8,520.6 307.9,515.8 308.0,519.5 308.1,522.6 308.2,519.0 308.3,520.7 308.4,521.4 308.5,518.8 308.6,522.3 308.6,520.6 308.7,516.7 308.8,521.0 308.9,522.0 309.0,521.9 309.1,517.7 309.2,520.9 309.3,523.5 309.4,520.2 309.5,523.0 309.6,523.3 309.7,519.5 309.8,521.5 309.9,518.8 310.0,522.7 310.1,523.1 310.2,522.2 310.2,523.2 310.3,523.1 310.4,523.9 310.5,524.1 310.6,520.9 310.7,521.9 310.8,523.8 310.9,524.1 311.0,523.3 311.1,528.3 311.2,525.3 311.3,523.0 311.4,524.6 311.5,525.8 311.6,523.9 311.7,519.6 311.8,523.3 311.9,523.2 311.9,527.5 312.0,519.4 312.1,526.4 312.2,522.8 312.3,525.1 312.4,522.6 312.5,523.6 312.6,525.6 312.7,523.4 312.8,525.5 312.9,523.0 313.0,522.3 313.1,522.7 313.2,522.1 313.3,522.9 313.4,526.2 313.5,520.6 313.6,519.5 313.6,523.1 313.7,526.9 313.8,525.4 313.9,526.0 314.0,525.8 314.1,521.3 314.2,523.2 314.3,516.8 314.4,521.5 314.5,524.2 314.6,519.1 314.7,517.9 314.8,519.6 314.9,523.1 315.0,525.3 315.1,528.7 315.2,525.9 315.3,518.8 315.3,516.8 315.4,522.7 315.5,524.9 315.6,518.3 315.7,520.9 315.8,521.1 315.9,522.2 316.0,521.6 316.1,523.4 316.2,524.7 316.3,522.2 316.4,523.9 316.5,526.9 316.6,519.4 316.7,519.3 316.8,523.2 316.9,526.5 317.0,522.3 317.0,524.6 317.1,521.1 317.2,524.2 317.3,520.3 317.4,523.6 317.5,522.9 317.6,522.9 317.7,525.4 317.8,524.6 317.9,520.4 318.0,524.2 318.1,517.7 318.2,524.5 318.3,528.9 318.4,523.4 318.5,523.3 318.6,522.2 318.6,524.2 318.7,521.0 318.8,523.8 318.9,521.4 319.0,521.1 319.1,522.5 319.2,522.0 319.3,517.8 319.4,527.5 319.5,522.6 319.6,517.9 319.7,525.0 319.8,522.2 319.9,522.8 320.0,524.1 320.1,520.0 320.2,514.7 320.3,522.0 320.3,522.9 320.4,524.8 320.5,520.3 320.6,521.6 320.7,523.3 320.8,521.4 320.9,521.6 321.0,522.9 321.1,519.6 321.2,526.3 321.3,519.8 321.4,522.3 321.5,521.3 321.6,520.3 321.7,523.5 321.8,524.8 321.9,525.9 322.0,523.6 322.0,520.9 322.1,524.4 322.2,518.3 322.3,522.2 322.4,523.4 322.5,523.5 322.6,519.0 322.7,518.1 322.8,526.4 322.9,520.7 323.0,517.7 323.1,518.8 323.2,522.1 323.3,525.1 323.4,522.0 323.5,525.2 323.6,522.6 323.7,523.3 323.7,524.6 323.8,521.0 323.9,522.8 324.0,521.0 324.1,520.3 324.2,523.8 324.3,519.8 324.4,522.2 324.5,519.9 324.6,521.8 324.7,520.6 324.8,524.9 324.9,522.2 325.0,522.2 325.1,526.4 325.2,514.2 325.3,519.0 325.3,514.6 325.4,521.9 325.5,523.1 325.6,523.6 325.7,522.6 325.8,519.5 325.9,526.6 326.0,522.7 326.1,521.1 326.2,518.8 326.3,522.9 326.4,520.4 326.5,520.5 326.6,522.3 326.7,522.3 326.8,519.5 326.9,525.1 327.0,518.9 327.0,518.6 327.1,522.4 327.2,521.9 327.3,521.7 327.4,520.4 327.5,521.6 327.6,519.9 327.7,516.9 327.8,523.4 327.9,518.6 328.0,520.8 328.1,523.4 328.2,521.4 328.3,528.9 328.4,517.5 328.5,519.3 328.6,521.6 328.7,525.1 328.7,520.6 328.8,517.4 328.9,524.5 329.0,518.8 329.1,520.8 329.2,523.8 329.3,519.5 329.4,520.1 329.5,522.7 329.6,520.8 329.7,522.1 329.8,518.7 329.9,521.0 330.0,518.3 330.1,517.0 330.2,526.3 330.3,522.7 330.4,524.0 330.4,518.7 330.5,521.4 330.6,520.9 330.7,517.5 330.8,523.0 330.9,519.5 331.0,520.9 331.1,517.3 331.2,524.4 331.3,523.7 331.4,522.7 331.5,519.1 331.6,520.1 331.7,525.1 331.8,520.9 331.9,522.5 332.0,522.1 332.1,518.6 332.1,526.1 332.2,516.1 332.3,522.4 332.4,521.6 332.5,517.2 332.6,522.8 332.7,523.3 332.8,522.0 332.9,519.5 333.0,523.2 333.1,525.1 333.2,522.6 333.3,526.9 333.4,524.4 333.5,524.2 333.6,526.0 333.7,520.1 333.7,520.5 333.8,523.5 333.9,523.5 334.0,526.3 334.1,525.3 334.2,522.5 334.3,522.6 334.4,521.1 334.5,520.9 334.6,520.6 334.7,524.5 334.8,520.5 334.9,520.9 335.0,522.3 335.1,520.4 335.2,521.2 335.3,515.5 335.4,522.9 335.4,520.9 335.5,522.3 335.6,522.8 335.7,516.3 335.8,528.7 335.9,522.1 336.0,522.1 336.1,516.4 336.2,523.4 336.3,522.8 336.4,520.5 336.5,522.2 336.6,525.3 336.7,520.5 336.8,518.8 336.9,525.3 337.0,522.2 337.1,520.8 337.1,528.1 337.2,521.8 337.3,520.8 337.4,522.0 337.5,520.0 337.6,521.8 337.7,521.6 337.8,519.2 337.9,520.3 338.0,522.0 338.1,522.2 338.2,522.8 338.3,523.4 338.4,521.8 338.5,522.5 338.6,519.9 338.7,520.2 338.8,524.1 338.8,515.1 338.9,522.1 339.0,529.6 339.1,515.5 339.2,525.5 339.3,515.8 339.4,522.1 339.5,525.9 339.6,525.5 339.7,518.3 339.8,517.2 339.9,516.8 340.0,523.2 340.1,519.9 340.2,521.1 340.3,521.9 340.4,522.3 340.5,522.7 340.5,521.5 340.6,516.4 340.7,525.5 340.8,513.0 340.9,524.9 341.0,519.4 341.1,520.6 341.2,519.6 341.3,520.1 341.4,521.1 341.5,520.4 341.6,517.9 341.7,523.8 341.8,519.5 341.9,525.2 342.0,520.8 342.1,519.1 342.1,522.5 342.2,523.9 342.3,518.5 342.4,520.4 342.5,525.5 342.6,518.3 342.7,518.7 342.8,521.7 342.9,517.6 343.0,513.9 343.1,516.3 343.2,522.3 343.3,523.2 343.4,523.0 343.5,522.4 343.6,517.5 343.7,523.2 343.8,524.6 343.8,519.1 343.9,524.0 344.0,520.1 344.1,521.7 344.2,522.2 344.3,516.7 344.4,525.5 344.5,518.6 344.6,520.8 344.7,519.6 344.8,522.4 344.9,522.4 345.0,521.1 345.1,525.3 345.2,521.9 345.3,519.8 345.4,512.4 345.5,520.2 345.5,520.1 345.6,518.4 345.7,518.4 345.8,522.7 345.9,524.1 346.0,526.6 346.1,524.3 346.2,518.8 346.3,521.7 346.4,516.8 346.5,523.0 346.6,521.9 346.7,519.0 346.8,520.5 346.9,520.0 347.0,518.9 347.1,524.7 347.2,529.6 347.2,523.2 347.3,523.9 347.4,521.2 347.5,519.6 347.6,527.2 347.7,519.6 347.8,521.8 347.9,520.3 348.0,522.4 348.1,520.5 348.2,522.4 348.3,516.8 348.4,520.3 348.5,524.7 348.6,517.5 348.7,518.6 348.8,524.7 348.8,521.8 348.9,523.8 349.0,513.9 349.1,521.0 349.2,516.8 349.3,516.4 349.4,521.8 349.5,524.1 349.6,516.1 349.7,517.2 349.8,518.8 349.9,520.1 350.0,516.5 350.1,527.1 350.2,522.0 350.3,519.2 350.4,518.6 350.5,526.5 350.5,526.1 350.6,518.4 350.7,520.6 350.8,522.9 350.9,516.4 351.0,517.9 351.1,522.7 351.2,517.4 351.3,518.0 351.4,515.7 351.5,517.1 351.6,520.4 351.7,516.8 351.8,515.6 351.9,517.1 352.0,522.3 352.1,518.8 352.2,517.1 352.2,518.7 352.3,519.3 352.4,518.6 352.5,514.4 352.6,519.0 352.7,517.9 352.8,520.3 352.9,515.4 353.0,520.7 353.1,517.3 353.2,514.6 353.3,521.4 353.4,517.3 353.5,519.3 353.6,518.1 353.7,520.9 353.8,520.9 353.9,520.9 353.9,520.1 354.0,514.8 354.1,514.7 354.2,518.9 354.3,516.3 354.4,519.5 354.5,518.8 354.6,515.2 354.7,516.1 354.8,515.8 354.9,516.4 355.0,517.9 355.1,519.9 355.2,521.4 355.3,516.1 355.4,517.0 355.5,521.9 355.6,520.3 355.6,518.8 355.7,512.8 355.8,515.9 355.9,518.6 356.0,516.8 356.1,522.8 356.2,518.4 356.3,518.8 356.4,515.5 356.5,515.6 356.6,516.5 356.7,516.6 356.8,517.5 356.9,518.9 357.0,518.5 357.1,520.3 357.2,514.8 357.2,518.4 357.3,518.5 357.4,521.6 357.5,517.4 357.6,518.6 357.7,515.9 357.8,518.9 357.9,518.8 358.0,516.4 358.1,516.8 358.2,517.8 358.3,519.3 358.4,515.1 358.5,520.0 358.6,517.1 358.7,522.5 358.8,521.4 358.9,517.0 358.9,516.5 359.0,523.9 359.1,519.5 359.2,519.4 359.3,517.0 359.4,517.8 359.5,520.0 359.6,519.6 359.7,516.1 359.8,521.2 359.9,518.9 360.0,515.8 360.1,520.6 360.2,517.7 360.3,520.1 360.4,516.8 360.5,519.1 360.6,514.2 360.6,519.1 360.7,514.4 360.8,518.5 360.9,511.9 361.0,518.0 361.1,519.9 361.2,519.3 361.3,521.0 361.4,515.4 361.5,521.9 361.6,522.0 361.7,515.0 361.8,516.0 361.9,516.5 362.0,517.8 362.1,518.3 362.2,511.7 362.3,519.2 362.3,517.1 362.4,515.1 362.5,520.0 362.6,516.7 362.7,520.4 362.8,518.9 362.9,516.7 363.0,520.4 363.1,519.4 363.2,516.1 363.3,513.3 363.4,515.9 363.5,518.8 363.6,516.6 363.7,521.6 363.8,517.8 363.9,517.6 364.0,518.1 364.0,514.8 364.1,516.7 364.2,515.3 364.3,511.0 364.4,512.5 364.5,518.9 364.6,515.8 364.7,516.7 364.8,513.2 364.9,515.5 365.0,519.0 365.1,517.2 365.2,515.6 365.3,520.9 365.4,516.8 365.5,516.1 365.6,520.0 365.6,512.5 365.7,518.5 365.8,514.2 365.9,515.0 366.0,515.3 366.1,517.4 366.2,517.4 366.3,517.9 366.4,517.7 366.5,520.8 366.6,521.5 366.7,519.0 366.8,519.1 366.9,516.2 367.0,514.3 367.1,518.7 367.2,517.3 367.3,519.4 367.3,512.4 367.4,524.2 367.5,513.8 367.6,517.2 367.7,519.8 367.8,513.5 367.9,515.6 368.0,511.7 368.1,513.3 368.2,511.9 368.3,517.3 368.4,517.8 368.5,516.1 368.6,520.3 368.7,520.6 368.8,516.9 368.9,516.3 369.0,516.1 369.0,515.6 369.1,520.3 369.2,517.4 369.3,515.8 369.4,516.1 369.5,518.1 369.6,515.5 369.7,517.4 369.8,516.4 369.9,520.1 370.0,519.6 370.1,512.6 370.2,515.9 370.3,518.3 370.4,515.1 370.5,518.5 370.6,517.1 370.7,517.8 370.7,516.0 370.8,517.0 370.9,517.5 371.0,512.1 371.1,513.6 371.2,513.3 371.3,520.6 371.4,516.8 371.5,517.0 371.6,516.4 371.7,514.5 371.8,513.9 371.9,518.2 372.0,514.9 372.1,520.2 372.2,516.4 372.3,516.1 372.3,515.2 372.4,515.6 372.5,515.9 372.6,520.0 372.7,522.3 372.8,512.6 372.9,516.5 373.0,517.7 373.1,513.3 373.2,514.0 373.3,514.5 373.4,509.0 373.5,517.6 373.6,515.6 373.7,515.5 373.8,515.9 373.9,516.4 374.0,522.2 374.0,516.2 374.1,518.0 374.2,514.2 374.3,516.7 374.4,514.8 374.5,515.2 374.6,513.1 374.7,513.3 374.8,516.9 374.9,517.7 375.0,516.9 375.1,513.7 375.2,516.5 375.3,508.3 375.4,518.2 375.5,515.4 375.6,516.3 375.7,518.8 375.7,514.2 375.8,518.2 375.9,514.2 376.0,516.9 376.1,514.2 376.2,516.2 376.3,519.5 376.4,513.4 376.5,513.5 376.6,514.3 376.7,516.1 376.8,523.1 376.9,513.5 377.0,509.3 377.1,513.3 377.2,510.6 377.3,513.5 377.4,515.2 377.4,512.3 377.5,513.1 377.6,509.7 377.7,515.6 377.8,512.9 377.9,518.2 378.0,518.1 378.1,512.6 378.2,514.0 378.3,515.2 378.4,517.3 378.5,510.2 378.6,514.9 378.7,520.6 378.8,514.9 378.9,515.8 379.0,515.1 379.1,511.6 379.1,518.0 379.2,516.1 379.3,515.8 379.4,517.6 379.5,524.3 379.6,521.2 379.7,524.1 379.8,522.8 379.9,523.8 380.0,522.8 380.1,522.7 380.2,525.1 380.3,523.9 380.4,523.6 380.5,523.7 380.6,524.2 380.7,524.2 380.7,520.9 380.8,523.1 380.9,524.1 381.0,525.5 381.1,526.5 381.2,523.1 381.3,527.4 381.4,524.7 381.5,525.3 381.6,523.8 381.7,523.7 381.8,526.8 381.9,524.4 382.0,524.6 382.1,526.4 382.2,527.3 382.3,522.6 382.4,524.5 382.4,524.8 382.5,527.5 382.6,528.5 382.7,524.8 382.8,525.5 382.9,526.2 383.0,526.6 383.1,524.5 383.2,526.2 383.3,524.0 383.4,521.1 383.5,523.0 383.6,525.4 383.7,526.2 383.8,521.8 383.9,522.5 384.0,525.1 384.1,520.6 384.1,526.0 384.2,526.7 384.3,520.8 384.4,526.3 384.5,524.9 384.6,527.3 384.7,525.7 384.8,524.9 384.9,525.4 385.0,526.7 385.1,525.6 385.2,525.4 385.3,523.2 385.4,526.0 385.5,525.4 385.6,528.0 385.7,525.3 385.8,525.2 385.8,524.5 385.9,526.4 386.0,525.1 386.1,524.4 386.2,527.7 386.3,528.0 386.4,524.7 386.5,523.9 386.6,527.1 386.7,524.2 386.8,529.6 386.9,525.2 387.0,526.8 387.1,523.5 387.2,525.4 387.3,527.0 387.4,526.1 387.5,524.6 387.5,529.0 387.6,526.5 387.7,525.1 387.8,524.5 387.9,525.0 388.0,527.3 388.1,524.2 388.2,525.4 388.3,524.1 388.4,527.1 388.5,525.0 388.6,526.5 388.7,526.1 388.8,524.4 388.9,526.3 389.0,526.6 389.1,523.5 389.1,526.2 389.2,529.3 389.3,524.7 389.4,526.1 389.5,523.2 389.6,525.8 389.7,524.3 389.8,526.3 389.9,525.1 390.0,523.4 390.1,526.8 390.2,524.8 390.3,523.7 390.4,525.3 390.5,523.7 390.6,525.7 390.7,525.1 390.8,524.6 390.8,526.1 390.9,523.3 391.0,526.6 391.1,522.2 391.2,527.5 391.3,525.4 391.4,524.8 391.5,524.1 391.6,526.0 391.7,525.0 391.8,524.9 391.9,526.7 392.0,524.6 392.1,524.9 392.2,525.8 392.3,526.8 392.4,525.0 392.5,525.4 392.5,525.3 392.6,526.3 392.7,527.4 392.8,523.8 392.9,525.0 393.0,525.2 393.1,526.1 393.2,527.4 393.3,525.2 393.4,525.6 393.5,526.9 393.6,523.4 393.7,524.1 393.8,524.6 393.9,525.3 394.0,525.6 394.1,524.5 394.2,527.9 394.2,524.3 394.3,525.0 394.4,527.0 394.5,526.5 394.6,525.4 394.7,526.0 394.8,526.6 394.9,525.4 395.0,526.4 395.1,524.1 395.2,525.6 395.3,523.1 395.4,524.2 395.5,523.9 395.6,527.4 395.7,524.9 395.8,526.0 395.8,524.2 395.9,525.3 396.0,525.2 396.1,524.3 396.2,526.9 396.3,523.2 396.4,526.5 396.5,529.5 396.6,524.4 396.7,525.6 396.8,523.3 396.9,525.5 397.0,523.0 397.1,526.5 397.2,524.8 397.3,522.8 397.4,523.6 397.5,523.2 397.5,525.1 397.6,526.7 397.7,524.9 397.8,523.7 397.9,524.2 398.0,525.6 398.1,521.8 398.2,526.3 398.3,526.0 398.4,521.7 398.5,527.1 398.6,522.9 398.7,525.0 398.8,527.0 398.9,522.9 399.0,522.5 399.1,523.6 399.2,523.6 399.2,525.0 399.3,524.4 399.4,524.5 399.5,524.5 399.6,524.9 399.7,523.9 399.8,525.6 399.9,525.1 400.0,523.6 400.1,527.8 400.2,523.2 400.3,526.1 400.4,523.9 400.5,525.5 400.6,525.8 400.7,526.2 400.8,527.1 400.9,523.7 400.9,529.2 401.0,525.5 401.1,523.7 401.2,522.9 401.3,528.3 401.4,527.3 401.5,524.8 401.6,526.0 401.7,526.8 401.8,525.0 401.9,524.2 402.0,524.8 402.1,526.1 402.2,524.9 402.3,523.0 402.4,525.9 402.5,522.3 402.6,523.7 402.6,526.7 402.7,525.2 402.8,525.2 402.9,525.0 403.0,526.4 403.1,524.8 403.2,522.0 403.3,525.3 403.4,520.5 403.5,521.9 403.6,527.3 403.7,526.6 403.8,524.4 403.9,525.0 404.0,525.2 404.1,526.6 404.2,524.0 404.2,523.9 404.3,524.3 404.4,525.4 404.5,525.6 404.6,524.7 404.7,526.4 404.8,523.8 404.9,525.2 405.0,524.3 405.1,523.8 405.2,527.1 405.3,524.9 405.4,523.8 405.5,525.4 405.6,523.9 405.7,526.2 405.8,526.6 405.9,526.9 405.9,523.8 406.0,525.1 406.1,528.1 406.2,525.0 406.3,527.2 406.4,527.6 406.5,523.3 406.6,527.1 406.7,526.4 406.8,526.6 406.9,527.8 407.0,526.0 407.1,525.4 407.2,526.2 407.3,524.8 407.4,526.0 407.5,522.3 407.6,527.9 407.6,524.5 407.7,526.1 407.8,525.8 407.9,525.5 408.0,525.5 408.1,525.5 408.2,523.0 408.3,524.6 408.4,527.2 408.5,524.0 408.6,523.9 408.7,528.7 408.8,527.4 408.9,527.9 409.0,525.6 409.1,526.0 409.2,526.8 409.3,526.5 409.3,525.6 409.4,523.6 409.5,524.7 409.6,523.6 409.7,528.2 409.8,525.3 409.9,525.6 410.0,526.3 410.1,526.0 410.2,526.7 410.3,525.1 410.4,523.7 410.5,528.6 410.6,525.0 410.7,525.3 410.8,524.8 410.9,525.2 411.0,526.0 411.0,527.1 411.1,524.5 411.2,526.4 411.3,525.0 411.4,527.8 411.5,524.2 411.6,526.1 411.7,527.0 411.8,523.9 411.9,526.1 412.0,526.1 412.1,524.7 412.2,525.6 412.3,527.3 412.4,526.2 412.5,525.2 412.6,525.5 412.6,526.4 412.7,527.6 412.8,526.9 412.9,526.8 413.0,528.0 413.1,523.4 413.2,523.5 413.3,522.3 413.4,526.8 413.5,522.2 413.6,525.5 413.7,526.7 413.8,523.5 413.9,524.6 414.0,525.1 414.1,526.6 414.2,523.3 414.3,526.0 414.3,526.5 414.4,525.7 414.5,525.7 414.6,527.3 414.7,525.8 414.8,525.5 414.9,525.0 415.0,526.4 415.1,525.1 415.2,526.4 415.3,525.6 415.4,527.1 415.5,524.3 415.6,525.6 415.7,526.0 415.8,526.0 415.9,527.1 416.0,526.0 416.0,526.7 416.1,528.3 416.2,526.6 416.3,523.9 416.4,523.3 416.5,526.4 416.6,524.8 416.7,525.8 416.8,525.1 416.9,527.3 417.0,527.1 417.1,523.7 417.2,525.7 417.3,524.9 417.4,523.4 417.5,526.2 417.6,525.1 417.7,525.9 417.7,528.9 417.8,527.2 417.9,526.9 418.0,524.7 418.1,523.6 418.2,527.1 418.3,524.9 418.4,525.4 418.5,524.8 418.6,525.6 418.7,528.9 418.8,525.0 418.9,525.1 419.0,525.8 419.1,526.0 419.2,523.8 419.3,523.0 419.3,524.8 419.4,525.4 419.5,524.6 419.6,524.3 419.7,524.4 419.8,525.2 419.9,525.7 420.0,523.5 420.1,525.1 420.2,526.5 420.3,525.8 420.4,524.1 420.5,525.5 420.6,526.1 420.7,527.2 420.8,523.8 420.9,527.2 421.0,525.5 421.0,526.5 421.1,527.3 421.2,525.0 421.3,525.2 421.4,526.2 421.5,527.4 421.6,525.6 421.7,524.4 421.8,525.4 421.9,527.0 422.0,528.1 422.1,525.7 422.2,526.0 422.3,526.2 422.4,526.3 422.5,525.1 422.6,525.9 422.7,526.8 422.7,526.7 422.8,526.5 422.9,525.1 423.0,525.7 423.1,525.5 423.2,528.0 423.3,528.6 423.4,527.0 423.5,528.8 423.6,526.1 423.7,526.1 423.8,524.7 423.9,526.9 424.0,525.9 424.1,526.6 424.2,527.1 424.3,526.0 424.4,524.5 424.4,526.1 424.5,526.0 424.6,526.1 424.7,527.1 424.8,525.5 424.9,525.4 425.0,528.8 425.1,527.6 425.2,525.6 425.3,524.1 425.4,525.0 425.5,526.4 425.6,527.3 425.7,530.1 425.8,525.3 425.9,526.1 426.0,525.1 426.1,525.9 426.1,525.1 426.2,523.8 426.3,527.7 426.4,526.0 426.5,528.2 426.6,524.9 426.7,526.3 426.8,527.1 426.9,522.4 427.0,523.4 427.1,527.3 427.2,526.1 427.3,522.4 427.4,524.5 427.5,523.9 427.6,525.0 427.7,528.9 427.7,524.9 427.8,529.9 427.9,525.6 428.0,524.6 428.1,529.1 428.2,527.9 428.3,528.8 428.4,530.0 428.5,528.3 428.6,528.6 428.7,522.9 428.8,524.6 428.9,527.2 429.0,526.7 429.1,527.8 429.2,525.4 429.3,528.6 429.4,530.5 429.4,527.6 429.5,528.1 429.6,527.5 429.7,528.4 429.8,526.9 429.9,525.5 430.0,526.9 430.1,526.7 430.2,523.4 430.3,527.0 430.4,526.6 430.5,527.0 430.6,525.4 430.7,527.6 430.8,527.9 430.9,525.1 431.0,527.2 431.1,528.2 431.1,528.2 431.2,524.6 431.3,524.4 431.4,526.6 431.5,524.3 431.6,532.0 431.7,524.8 431.8,524.9 431.9,528.0 432.0,525.6 432.1,511.0 432.2,520.2 432.3,516.7 432.4,518.6 432.5,514.1 432.6,517.0 432.7,520.1 432.8,520.5 432.8,516.2 432.9,517.9 433.0,517.3 433.1,521.4 433.2,520.2 433.3,515.8 433.4,523.5 433.5,518.1 433.6,522.5 433.7,517.2 433.8,522.2 433.9,520.5 434.0,521.2 434.1,523.0 434.2,522.8 434.3,521.7 434.4,521.7 434.5,516.0 434.5,520.8 434.6,512.5 434.7,512.3 434.8,519.9 434.9,520.3 435.0,527.1 435.1,523.8 435.2,525.5 435.3,520.0 435.4,523.0 435.5,525.8 435.6,523.3 435.7,522.7 435.8,521.8 435.9,517.8 436.0,518.0 436.1,516.0 436.1,523.0 436.2,520.5 436.3,518.9 436.4,522.9 436.5,519.4 436.6,525.5 436.7,528.8 436.8,523.3 436.9,519.1 437.0,516.1 437.1,529.2 437.2,523.4 437.3,517.4 437.4,525.8 437.5,515.6 437.6,520.2 437.7,521.0 437.8,520.5 437.8,517.7 437.9,530.7 438.0,520.5 438.1,523.3 438.2,522.1 438.3,516.2 438.4,520.0 438.5,522.8 438.6,525.4 438.7,520.8 438.8,523.4 438.9,520.8 439.0,524.2 439.1,513.2 439.2,524.2 439.3,519.9 439.4,520.0 439.5,512.1 439.5,518.4 439.6,524.3 439.7,530.3 439.8,519.7 439.9,519.9 440.0,523.9 440.1,523.2 440.2,520.2 440.3,521.7 440.4,520.9 440.5,524.4 440.6,525.0 440.7,528.3 440.8,525.5 440.9,524.6 441.0,522.9 441.1,525.6 441.2,519.1 441.2,529.7 441.3,523.4 441.4,527.2 441.5,519.8 441.6,526.0 441.7,523.9 441.8,522.0 441.9,520.4 442.0,519.7 442.1,528.6 442.2,526.7 442.3,523.1 442.4,523.4 442.5,520.4 442.6,516.8 442.7,517.0 442.8,520.9 442.8,522.4 442.9,519.1 443.0,525.5 443.1,524.6 443.2,523.5 443.3,517.3 443.4,522.3 443.5,522.9 443.6,519.0 443.7,516.1 443.8,529.1 443.9,525.0 444.0,521.8 444.1,528.1 444.2,526.5 444.3,524.5 444.4,523.8 444.5,525.5 444.5,527.6 444.6,523.3 444.7,522.4 444.8,524.9 444.9,514.5 445.0,528.4 445.1,527.5 445.2,528.2 445.3,527.9 445.4,528.9 445.5,528.4 445.6,528.4 445.7,528.0 445.8,529.1 445.9,527.3 446.0,530.1 446.1,525.1 446.2,528.7 446.2,529.1 446.3,525.9 446.4,527.5 446.5,530.8 446.6,528.1 446.7,526.7 446.8,522.7 446.9,529.0 447.0,528.6 447.1,529.5 447.2,532.2 447.3,528.4 447.4,528.6 447.5,527.1 447.6,528.2 447.7,528.3 447.8,529.8 447.9,529.4 447.9,526.9 448.0,527.4 448.1,530.9 448.2,526.7 448.3,529.8 448.4,531.4 448.5,529.7 448.6,529.0 448.7,530.9 448.8,529.3 448.9,528.7 449.0,528.4 449.1,530.6 449.2,529.8 449.3,531.1 449.4,528.1 449.5,528.1 449.6,527.9 449.6,529.0 449.7,527.5 449.8,530.0 449.9,529.0 450.0,526.9 450.1,523.8 450.2,525.6 450.3,530.7 450.4,528.3 450.5,528.6 450.6,527.7 450.7,529.0 450.8,525.3 450.9,525.2 451.0,525.8 451.1,528.4 451.2,529.4 451.2,529.1 451.3,528.1 451.4,526.3 451.5,529.6 451.6,527.9 451.7,528.3 451.8,528.3 451.9,527.7 452.0,527.3 452.1,527.5 452.2,526.4 452.3,528.9 452.4,528.3 452.5,530.2 452.6,525.7 452.7,530.5 452.8,528.5 452.9,528.4 452.9,527.4 453.0,527.4 453.1,526.4 453.2,530.2 453.3,528.5 453.4,530.0 453.5,530.2 453.6,528.1 453.7,528.5 453.8,528.4 453.9,530.6 454.0,529.2 454.1,529.3 454.2,530.2 454.3,529.0 454.4,532.3 454.5,527.7 454.6,531.1 454.6,531.4 454.7,527.4 454.8,530.6 454.9,529.7 455.0,530.6 455.1,527.4 455.2,529.7 455.3,527.7 455.4,528.8 455.5,531.5 455.6,529.1 455.7,525.7 455.8,527.1 455.9,527.5 456.0,530.9 456.1,528.2 456.2,526.8 456.3,531.0 456.3,529.6 456.4,529.8 456.5,528.0 456.6,531.5 456.7,529.0 456.8,526.1 456.9,527.4 457.0,527.8 457.1,528.9 457.2,530.3 457.3,527.9 457.4,528.1 457.5,532.5 457.6,529.1 457.7,528.2 457.8,529.0 457.9,527.0 458.0,529.8 458.0,530.4 458.1,528.0 458.2,530.5 458.3,528.4 458.4,529.3 458.5,527.6 458.6,527.5 458.7,526.4 458.8,529.1 458.9,528.3 459.0,528.3 459.1,526.9 459.2,526.9 459.3,527.7 459.4,529.4 459.5,529.1 459.6,527.6 459.6,529.1 459.7,531.4 459.8,528.8 459.9,531.8 460.0,529.3 460.1,530.7 460.2,527.8 460.3,530.5 460.4,526.8 460.5,529.1 460.6,528.2 460.7,525.6 460.8,526.6 460.9,530.6 461.0,529.6 461.1,530.9 461.2,529.2 461.3,524.3 461.3,529.3 461.4,528.1 461.5,528.2 461.6,528.3 461.7,527.8 461.8,527.6 461.9,531.1 462.0,529.8 462.1,528.1 462.2,528.5 462.3,530.7 462.4,529.8 462.5,529.5 462.6,527.3 462.7,528.6 462.8,527.5 462.9,526.3 463.0,530.7 463.0,528.8 463.1,528.7 463.2,527.8 463.3,530.5 463.4,532.6 463.5,530.3 463.6,530.8 463.7,527.4 463.8,529.6 463.9,529.7 464.0,531.7 464.1,529.4 464.2,527.8 464.3,529.2 464.4,528.6 464.5,531.6 464.6,530.4 464.7,529.8 464.7,529.6 464.8,530.6 464.9,528.5 465.0,527.8 465.1,526.3 465.2,531.1 465.3,530.0 465.4,530.2 465.5,529.3 465.6,531.8 465.7,527.6 465.8,531.0 465.9,527.8 466.0,528.4 466.1,527.2 466.2,529.2 466.3,528.6 466.3,529.8 466.4,528.1 466.5,526.9 466.6,529.9 466.7,531.1 466.8,530.2 466.9,528.9 467.0,529.6 467.1,526.3 467.2,528.4 467.3,530.8 467.4,529.7 467.5,527.6 467.6,530.3 467.7,528.7 467.8,530.1 467.9,526.7 468.0,528.1 468.0,529.4 468.1,529.4 468.2,529.7 468.3,528.9 468.4,528.6 468.5,529.6 468.6,530.2 468.7,526.5 468.8,528.3 468.9,528.5 469.0,529.1 469.1,530.4 469.2,526.7 469.3,529.7 469.4,526.1 469.5,527.6 469.6,528.0 469.7,528.4 469.7,527.8 469.8,528.0 469.9,528.3 470.0,528.4 470.1,525.9 470.2,526.6 470.3,528.1 470.4,529.6 470.5,530.4 470.6,533.3 470.7,529.0 470.8,527.6 470.9,529.1 471.0,529.9 471.1,524.6 471.2,520.9 471.3,523.9 471.4,524.0 471.4,519.8 471.5,520.4 471.6,527.9 471.7,517.2 471.8,524.6 471.9,523.3 472.0,528.4 472.1,526.0 472.2,521.4 472.3,527.9 472.4,522.3 472.5,530.2 472.6,529.1 472.7,523.7 472.8,526.3 472.9,524.5 473.0,521.1 473.1,527.2 473.1,525.2 473.2,526.5 473.3,527.2 473.4,528.2 473.5,527.0 473.6,523.6 473.7,524.1 473.8,525.1 473.9,523.4 474.0,523.1 474.1,529.5 474.2,525.3 474.3,529.6 474.4,521.4 474.5,523.7 474.6,522.5 474.7,522.6 474.7,522.9 474.8,523.5 474.9,522.5 475.0,529.4 475.1,526.0 475.2,521.6 475.3,522.2 475.4,526.2 475.5,525.6 475.6,522.0 475.7,526.8 475.8,519.5 475.9,522.5 476.0,529.3 476.1,516.0 476.2,523.4 476.3,527.1 476.4,523.6 476.4,521.7 476.5,521.3 476.6,517.7 476.7,520.0 476.8,524.3 476.9,522.4 477.0,524.1 477.1,523.7 477.2,525.1 477.3,519.1 477.4,523.3 477.5,523.2 477.6,523.3 477.7,521.6 477.8,517.6 477.9,526.3 478.0,526.9 478.1,531.7 478.1,526.7 478.2,529.5 478.3,526.3 478.4,523.3 478.5,526.0 478.6,520.9 478.7,525.3 478.8,524.2 478.9,521.3 479.0,528.3 479.1,528.0 479.2,526.0 479.3,527.1 479.4,529.7 479.5,524.2 479.6,520.4 479.7,521.7 479.8,526.8 479.8,525.3 479.9,520.0 480.0,528.7 480.1,525.3 480.2,529.6 480.3,528.1 480.4,523.3 480.5,524.9 480.6,522.3 480.7,522.0 480.8,523.7 480.9,526.1 481.0,528.8 481.1,521.8 481.2,526.7 481.3,524.7 481.4,523.9 481.5,528.0 481.5,523.5 481.6,528.8 481.7,523.5 481.8,521.7 481.9,526.9 482.0,520.0 482.1,520.8 482.2,523.9 482.3,524.5 482.4,523.6 482.5,518.3 482.6,520.3 482.7,526.0 482.8,526.1 482.9,521.3 483.0,525.2 483.1,525.0 483.1,527.5 483.2,522.1 483.3,528.9 483.4,523.4 483.5,528.8 483.6,527.2 483.7,521.2 483.8,523.4 483.9,525.2 484.0,527.5 484.1,520.0 484.2,522.8 484.3,526.2 484.4,525.8 484.5,521.0 484.6,521.5 484.7,525.6 484.8,521.1 484.8,525.0 484.9,527.1 485.0,524.3 485.1,515.9 485.2,527.9 485.3,527.8 485.4,528.6 485.5,526.9 485.6,519.0 485.7,528.6 485.8,525.3 485.9,527.2 486.0,523.8 486.1,523.5 486.2,523.6 486.3,529.2 486.4,525.2 486.5,523.7 486.5,520.4 486.6,525.8 486.7,524.4 486.8,524.9 486.9,527.5 487.0,526.7 487.1,524.5 487.2,525.1 487.3,524.8 487.4,526.7 487.5,526.6 487.6,525.0 487.7,521.9 487.8,527.2 487.9,527.4 488.0,521.3 488.1,525.8 488.2,523.4 488.2,517.9 488.3,524.5 488.4,527.6 488.5,522.4 488.6,522.5 488.7,527.8 488.8,521.3 488.9,521.8 489.0,523.8 489.1,526.7 489.2,526.7 489.3,523.1 489.4,523.8 489.5,525.0 489.6,523.6 489.7,522.1 489.8,521.4 489.8,527.0 489.9,524.1 490.0,533.5 490.1,526.7 490.2,522.5 490.3,524.7 490.4,525.8 490.5,525.9 490.6,526.1 490.7,526.1 490.8,524.3 490.9,526.6 491.0,531.3 491.1,523.3 491.2,523.5 491.3,526.8 491.4,528.4 491.5,527.1 491.5,528.3 491.6,524.4 491.7,523.8 491.8,526.5 491.9,526.6 492.0,529.6 492.1,529.2 492.2,518.9 492.3,526.8 492.4,522.4 492.5,518.1 492.6,525.6 492.7,523.9 492.8,523.3 492.9,520.5 493.0,521.3 493.1,523.7 493.2,519.8 493.2,524.0 493.3,524.7 493.4,523.9 493.5,525.2 493.6,524.1 493.7,520.8 493.8,521.2 493.9,524.7 494.0,527.2 494.1,524.7 494.2,522.7 494.3,524.8 494.4,518.8 494.5,521.3 494.6,523.1 494.7,524.0 494.8,523.3 494.9,523.4 494.9,520.7 495.0,522.5 495.1,525.0 495.2,518.7 495.3,520.6 495.4,523.2 495.5,528.6 495.6,526.2 495.7,528.8 495.8,528.1 495.9,522.8 496.0,523.9 496.1,520.6 496.2,527.6 496.3,526.2 496.4,525.8 496.5,525.9 496.6,525.3 496.6,524.5 496.7,524.7 496.8,527.4 496.9,521.5 497.0,520.7 497.1,523.8 497.2,527.2 497.3,524.4 497.4,523.1 497.5,526.1 497.6,524.0 497.7,518.0 497.8,520.6 497.9,517.4 498.0,522.9 498.1,522.2 498.2,524.9 498.2,529.8 498.3,521.8 498.4,523.6 498.5,522.4 498.6,515.3 498.7,521.3 498.8,521.5 498.9,524.4 499.0,521.2 499.1,519.8 499.2,525.4 499.3,523.5 499.4,521.1 499.5,521.5 499.6,522.9 499.7,526.2 499.8,528.0 499.9,520.0 499.9,527.3 500.0,524.1 500.1,525.0 500.2,526.9 500.3,521.2 500.4,526.6 500.5,520.3 500.6,522.8 500.7,521.7 500.8,529.1 500.9,529.0 501.0,526.4 501.1,525.8 501.2,522.7 501.3,529.4 501.4,528.4 501.5,526.9 501.6,524.0 501.6,523.3 501.7,524.1 501.8,528.2 501.9,521.6 502.0,524.7 502.1,529.1 502.2,526.9 502.3,529.4 502.4,525.5 502.5,525.5 502.6,528.3 502.7,526.2 502.8,525.3 502.9,522.8 503.0,520.0 503.1,528.6 503.2,523.0 503.3,522.1 503.3,526.7 503.4,521.7 503.5,520.3 503.6,522.6 503.7,524.0 503.8,525.0 503.9,525.7 504.0,527.0 504.1,523.8 504.2,525.2 504.3,523.8 504.4,522.3 504.5,525.3 504.6,525.2 504.7,529.5 504.8,525.9 504.9,522.2 505.0,525.9 505.0,523.4 505.1,528.7 505.2,519.3 505.3,522.3 505.4,522.3 505.5,524.5 505.6,523.8 505.7,519.7 505.8,518.9 505.9,524.7 506.0,528.4 506.1,528.3 506.2,523.1 506.3,525.5 506.4,521.8 506.5,520.1 506.6,527.7 506.6,526.2 506.7,523.3 506.8,523.2 506.9,526.8 507.0,525.2 507.1,523.3 507.2,525.0 507.3,524.2 507.4,523.1 507.5,522.2 507.6,526.8 507.7,522.9 507.8,520.9 507.9,529.3 508.0,527.7 508.1,525.7 508.2,524.0 508.3,524.8 508.3,520.2 508.4,524.2 508.5,525.0 508.6,523.7 508.7,525.5 508.8,522.1 508.9,524.8 509.0,519.9 509.1,524.2 509.2,522.6 509.3,520.6 509.4,523.2 509.5,524.4 509.6,522.7 509.7,527.0 509.8,522.5 509.9,527.0 510.0,526.5 510.0,522.8 510.1,528.4 510.2,520.7 510.3,526.0 510.4,524.7 510.5,526.7 510.6,520.2 510.7,521.3 510.8,522.3 510.9,524.7 511.0,524.9 511.1,524.7 511.2,523.9 511.3,522.7 511.4,520.9 511.5,523.6 511.6,526.2 511.7,527.6 511.7,523.4 511.8,527.8 511.9,521.2 512.0,527.1 512.1,522.0 512.2,525.7 512.3,522.6 512.4,522.6 512.5,523.9 512.6,529.1 512.7,523.7 512.8,527.2 512.9,526.0 513.0,526.5 513.1,526.6 513.2,527.4 513.3,522.9 513.3,526.1 513.4,526.9 513.5,524.7 513.6,527.0 513.7,523.7 513.8,528.1 513.9,524.7 514.0,525.8 514.1,528.4 514.2,529.1 514.3,525.3 514.4,525.2 514.5,529.1 514.6,520.2 514.7,530.0 514.8,529.9 514.9,524.6 515.0,529.8 515.0,528.0 515.1,528.2 515.2,522.2 515.3,526.3 515.4,527.0 515.5,526.6 515.6,526.8 515.7,527.1 515.8,521.7 515.9,527.4 516.0,526.5 516.1,527.8 516.2,527.0 516.3,528.1 516.4,528.8 516.5,531.8 516.6,526.7 516.7,531.8 516.7,528.1 516.8,526.9 516.9,525.9 517.0,530.4 517.1,526.0 517.2,530.6 517.3,529.6 517.4,528.0 517.5,527.9 517.6,530.1 517.7,529.5 517.8,530.6 517.9,529.4 518.0,528.5 518.1,530.4 518.2,527.5 518.3,531.0 518.4,529.7 518.4,527.8 518.5,528.1 518.6,529.3 518.7,526.9 518.8,532.2 518.9,531.5 519.0,528.3 519.1,529.9 519.2,532.7 519.3,530.7 519.4,528.6 519.5,527.0 519.6,527.8 519.7,532.1 519.8,530.8 519.9,528.5 520.0,531.4 520.1,530.0 520.1,529.6 520.2,529.9 520.3,530.0 520.4,533.0 520.5,529.5 520.6,530.3 520.7,532.6 520.8,532.9 520.9,529.7 521.0,533.7 521.1,532.4 521.2,529.1 521.3,533.3 521.4,529.1 521.5,531.9 521.6,529.5 521.7,528.7 521.7,532.1 521.8,531.5 521.9,530.9 522.0,531.2 522.1,530.9 522.2,530.7 522.3,529.6 522.4,531.8 522.5,531.0 522.6,530.7 522.7,530.3 522.8,530.7 522.9,529.1 523.0,530.6 523.1,529.8 523.2,532.7 523.3,529.8 523.4,530.5 523.4,531.1 523.5,532.1 523.6,531.6 523.7,531.1 523.8,533.8 523.9,531.0 524.0,531.5 524.1,534.6 524.2,529.9 524.3,532.3 524.4,531.6 524.5,529.4 524.6,530.3 524.7,532.2 524.8,529.2 524.9,530.9 525.0,532.3 525.1,530.8 525.1,531.5 525.2,530.3 525.3,530.4 525.4,530.4 525.5,530.7 525.6,532.0 525.7,531.3 525.8,533.8 525.9,531.9 526.0,531.6 526.1,534.1 526.2,531.1 526.3,530.3 526.4,531.5 526.5,529.9 526.6,532.0 526.7,533.1 526.8,532.2 526.8,530.9 526.9,531.2 527.0,532.0 527.1,532.9 527.2,530.9 527.3,530.9 527.4,532.8 527.5,531.7 527.6,531.9 527.7,532.1 527.8,530.5 527.9,531.3 528.0,532.8 528.1,531.2 528.2,531.2 528.3,531.8 528.4,531.9 528.4,534.7 528.5,530.4 528.6,531.6 528.7,534.0 528.8,531.5 528.9,531.9 529.0,529.6 529.1,532.7 529.2,532.5 529.3,532.5 529.4,531.2 529.5,531.9 529.6,531.3 529.7,532.5 529.8,531.4 529.9,532.4 530.0,529.7 530.1,531.0 530.1,527.8 530.2,531.3 530.3,532.5 530.4,531.2 530.5,534.5 530.6,530.3 530.7,531.1 530.8,530.4 530.9,531.0 531.0,531.1 531.1,529.8 531.2,530.5 531.3,534.4 531.4,531.5 531.5,533.0 531.6,530.3 531.7,531.8 531.8,532.6 531.8,531.8 531.9,531.4 532.0,531.8 532.1,532.1 532.2,533.2 532.3,533.7 532.4,530.5 532.5,529.6 532.6,532.0 532.7,532.3 532.8,533.2 532.9,533.6 533.0,531.4 533.1,534.9 533.2,532.7 533.3,530.1 533.4,533.6 533.5,532.7 533.5,532.7 533.6,530.3 533.7,532.0 533.8,532.6 533.9,532.2 534.0,533.2 534.1,533.9 534.2,534.3 534.3,533.9 534.4,532.1 534.5,534.5 534.6,532.7 534.7,533.4 534.8,532.0 534.9,530.5 535.0,529.4 535.1,532.5 535.2,531.4 535.2,532.3 535.3,533.4 535.4,530.4 535.5,530.1 535.6,532.6 535.7,532.7 535.8,531.9 535.9,531.6 536.0,530.3 536.1,532.2 536.2,531.3 536.3,532.8 536.4,533.5 536.5,531.6 536.6,532.8 536.7,532.5 536.8,533.1 536.8,534.2 536.9,533.1 537.0,533.2 537.1,533.3 537.2,531.7 537.3,532.2 537.4,532.7 537.5,533.8 537.6,533.9 537.7,535.1 537.8,530.9 537.9,532.2 538.0,530.1 538.1,531.6 538.2,530.2 538.3,533.7 538.4,533.2 538.5,530.9 538.5,532.7 538.6,533.2 538.7,534.4 538.8,533.3 538.9,532.4 539.0,532.1 539.1,533.0 539.2,532.5 539.3,531.5 539.4,530.6 539.5,533.4 539.6,531.2 539.7,531.7 539.8,533.1 539.9,532.0 540.0,533.4 540.1,530.6 540.2,532.9 540.2,530.3 540.3,530.0 540.4,530.6 540.5,532.0 540.6,531.0 540.7,530.1 540.8,533.3 540.9,530.6 541.0,531.6 541.1,532.1 541.2,531.1 541.3,532.2 541.4,532.5 541.5,531.6 541.6,533.0 541.7,530.9 541.8,530.3 541.9,531.9 541.9,530.4 542.0,532.1 542.1,531.5 542.2,531.0 542.3,532.3 542.4,532.2 542.5,527.8 542.6,531.1 542.7,531.7 542.8,532.2 542.9,530.9 543.0,530.1 543.1,531.7 543.2,532.4 543.3,529.0 543.4,529.7 543.5,530.8 543.6,528.3 543.6,530.8 543.7,532.6 543.8,530.2 543.9,531.7 544.0,530.5 544.1,532.1 544.2,532.4 544.3,533.2 544.4,531.7 544.5,532.9 544.6,532.1 544.7,531.0 544.8,533.4 544.9,530.8 545.0,531.7 545.1,534.6 545.2,532.6 545.2,530.4 545.3,531.8 545.4,530.7 545.5,531.2 545.6,529.5 545.7,531.6 545.8,529.4 545.9,531.8 546.0,531.8 546.1,532.3 546.2,534.0 546.3,529.2 546.4,529.7 546.5,529.9 546.6,530.5 546.7,532.3 546.8,530.7 546.9,530.4 546.9,529.7 547.0,530.3 547.1,530.6 547.2,531.0 547.3,529.3 547.4,531.0 547.5,531.8 547.6,531.6 547.7,529.6 547.8,532.2 547.9,532.2 548.0,531.6 548.1,529.7 548.2,529.4 548.3,531.3 548.4,530.0 548.5,529.7 548.6,532.5 548.6,532.5 548.7,532.2 548.8,533.1 548.9,532.7 549.0,530.1 549.1,533.0 549.2,531.8 549.3,532.3 549.4,533.7 549.5,532.3 549.6,533.8 549.7,531.9 549.8,531.4 549.9,531.1 550.0,531.8 550.1,529.9 550.2,532.0 550.3,531.9 550.3,531.4 550.4,529.3 550.5,529.5 550.6,533.1 550.7,531.0 550.8,533.9 550.9,531.3 551.0,532.6 551.1,530.4 551.2,531.4 551.3,531.9 551.4,532.9 551.5,534.2 551.6,533.3 551.7,530.3 551.8,532.1 551.9,531.8 551.9,531.2 552.0,532.7 552.1,533.9 552.2,531.3 552.3,533.2 552.4,533.6 552.5,530.5 552.6,533.9 552.7,533.8 552.8,532.0 552.9,533.7 553.0,531.9 553.1,533.0 553.2,532.3 553.3,530.4 553.4,531.8 553.5,531.2 553.6,530.8 553.6,529.9 553.7,530.4 553.8,529.8 553.9,532.7 554.0,528.8 554.1,531.4 554.2,530.5 554.3,529.7 554.4,532.1 554.5,530.2 554.6,532.7 554.7,531.0 554.8,531.6 554.9,531.1 555.0,532.0 555.1,532.4 555.2,530.7 555.3,531.3 555.3,533.5 555.4,530.6 555.5,533.5 555.6,530.8 555.7,530.6 555.8,529.3 555.9,530.3 556.0,529.2 556.1,530.7 556.2,532.2 556.3,531.3 556.4,530.6 556.5,530.1 556.6,530.5 556.7,529.6 556.8,529.8 556.9,533.8 557.0,531.7 557.0,530.2 557.1,532.2 557.2,533.2 557.3,530.5 557.4,531.2 557.5,529.7 557.6,529.3 557.7,532.9 557.8,534.9 557.9,530.3 558.0,529.2 558.1,532.9 558.2,532.4 558.3,531.7 558.4,532.9 558.5,530.7 558.6,531.4 558.7,532.0 558.7,530.6 558.8,531.6 558.9,530.7 559.0,531.6 559.1,531.2 559.2,528.5 559.3,531.1 559.4,529.2 559.5,529.9 559.6,528.9 559.7,532.0 559.8,530.6 559.9,530.5 560.0,532.5 560.1,531.8 560.2,530.7 560.3,528.4 560.3,531.8 560.4,530.7 560.5,530.6 560.6,532.0 560.7,530.3 560.8,531.0 560.9,532.2 561.0,531.8 561.1,530.4 561.2,533.0 561.3,532.6 561.4,533.5 561.5,531.2 561.6,531.5 561.7,532.6 561.8,531.8 561.9,531.5 562.0,531.2 562.0,531.0 562.1,530.6 562.2,530.6 562.3,531.9 562.4,531.0 562.5,529.7 562.6,531.5 562.7,533.5 562.8,533.1 562.9,529.0 563.0,530.4 563.1,532.4 563.2,531.6 563.3,531.6 563.4,531.3 563.5,531.5 563.6,530.2 563.7,532.9 563.7,530.2 563.8,531.3 563.9,533.3 564.0,532.8 564.1,531.4 564.2,531.4 564.3,530.7 564.4,530.8 564.5,531.1 564.6,533.0 564.7,530.8 564.8,532.1 564.9,531.9 565.0,531.9 565.1,531.0 565.2,532.2 565.3,531.5 565.4,531.5 565.4,530.8 565.5,528.7 565.6,532.2 565.7,532.3 565.8,530.7 565.9,531.1 566.0,531.7 566.1,530.2 566.2,532.2 566.3,532.2 566.4,532.4 566.5,532.5 566.6,529.1 566.7,532.0 566.8,530.9 566.9,532.8 567.0,532.7 567.1,532.4 567.1,531.4 567.2,534.9 567.3,531.4 567.4,530.2 567.5,532.7 567.6,529.8 567.7,533.9 567.8,532.8 567.9,533.2 568.0,532.9 568.1,532.1 568.2,530.1 568.3,531.0 568.4,532.4 568.5,531.5 568.6,532.2 568.7,530.9 568.7,530.8 568.8,532.1 568.9,532.7 569.0,531.8 569.1,530.6 569.2,529.8 569.3,534.2 569.4,530.4 569.5,530.7 569.6,530.9 569.7,532.8 569.8,530.8 569.9,532.4 570.0,532.0 570.1,530.3 570.2,531.8 570.3,530.2 570.4,531.4 570.4,532.5 570.5,531.3 570.6,530.5 570.7,531.0 570.8,531.3 570.9,531.9 571.0,528.7 571.1,529.2 571.2,532.0 571.3,531.3 571.4,531.4 571.5,531.6 571.6,531.2 571.7,530.8 571.8,531.5 571.9,532.1 572.0,531.7 572.1,531.3 572.1,530.1 572.2,531.6 572.3,529.9 572.4,530.5 572.5,531.5 572.6,531.4 572.7,532.6 572.8,532.3 572.9,531.9 573.0,530.9 573.1,531.3 573.2,531.0 573.3,533.3 573.4,531.8 573.5,530.5 573.6,530.2 573.7,532.7 573.8,530.2 573.8,531.6 573.9,531.4 574.0,532.5 574.1,530.2 574.2,531.7 574.3,531.4 574.4,532.1 574.5,532.8 574.6,531.3 574.7,530.9 574.8,532.2 574.9,529.5 575.0,531.4 575.1,530.0 575.2,529.7 575.3,529.2 575.4,529.1 575.4,532.1 575.5,532.1 575.6,531.2 575.7,532.3 575.8,531.1 575.9,530.5 576.0,529.8 576.1,531.9 576.2,532.0 576.3,532.5 576.4,530.1 576.5,530.7 576.6,529.4 576.7,532.4 576.8,531.9 576.9,531.6 577.0,531.0 577.1,530.9 577.1,530.6 577.2,532.4 577.3,530.3 577.4,532.1 577.5,531.4 577.6,529.9 577.7,529.4 577.8,530.2 577.9,531.1 578.0,529.7 578.1,531.9 578.2,532.6 578.3,531.9 578.4,529.3 578.5,528.5 578.6,532.3 578.7,533.1 578.8,530.9 578.8,532.0 578.9,531.1 579.0,530.6 579.1,532.6 579.2,530.8 579.3,532.4 579.4,533.5 579.5,531.3 579.6,533.7 579.7,529.9 579.8,532.6 579.9,531.5 580.0,534.5 580.1,531.5 580.2,530.6 580.3,533.4 580.4,529.7 580.5,532.0 580.5,530.6 580.6,533.2 580.7,531.4 580.8,532.6 580.9,531.5 581.0,530.2 581.1,529.0 581.2,533.7 581.3,531.8 581.4,530.2 581.5,531.2 581.6,532.7 581.7,529.8 581.8,534.2 581.9,531.3 582.0,531.1 582.1,533.1 582.2,531.8 582.2,530.3 582.3,532.6 582.4,532.1 582.5,532.9 582.6,530.4 582.7,530.2 582.8,532.3 582.9,531.0 583.0,528.9 583.1,530.8 583.2,532.2 583.3,530.6 583.4,533.0 583.5,530.9 583.6,531.3 583.7,529.5 583.8,530.5 583.8,531.2 583.9,532.1 584.0,531.6 584.1,532.6 584.2,528.8 584.3,531.4 584.4,531.2 584.5,530.1 584.6,531.3 584.7,530.4 584.8,531.8 584.9,530.9 585.0,531.9 585.1,530.2 585.2,532.7 585.3,531.7 585.4,533.3 585.5,531.0 585.5,530.6 585.6,531.3 585.7,530.6 585.8,529.9 585.9,531.1 586.0,531.0 586.1,530.3 586.2,530.6 586.3,529.9 586.4,531.2 586.5,529.4 586.6,533.0 586.7,531.0 586.8,532.0 586.9,529.5 587.0,531.3 587.1,530.7 587.2,532.0 587.2,531.9 587.3,528.9 587.4,532.2 587.5,529.0 587.6,532.4 587.7,530.7 587.8,529.3 587.9,531.6 588.0,530.8 588.1,529.6 588.2,529.8 588.3,531.3 588.4,529.1 588.5,529.7 588.6,532.9 588.7,529.8 588.8,531.1 588.9,531.2 588.9,531.8 589.0,531.7 589.1,527.7 589.2,530.1 589.3,532.0 589.4,529.7 589.5,532.8 589.6,530.9 589.7,529.2 589.8,531.3 589.9,532.9 590.0,529.8 590.1,531.3 590.2,529.6 590.3,529.9 590.4,530.7 590.5,531.2 590.6,531.0 590.6,530.8 590.7,533.4 590.8,529.3 590.9,528.4 591.0,531.3 591.1,530.8 591.2,528.9 591.3,532.6 591.4,529.8 591.5,528.9 591.6,531.1 591.7,531.3 591.8,533.4 591.9,528.8 592.0,529.1 592.1,530.3 592.2,530.1 592.2,530.5 592.3,529.8 592.4,528.8 592.5,530.1 592.6,531.5 592.7,531.6 592.8,529.9 592.9,531.3 593.0,531.2 593.1,530.1 593.2,530.3 593.3,530.8 593.4,534.1 593.5,531.0 593.6,529.7 593.7,530.6 593.8,530.2 593.9,532.2 593.9,528.3 594.0,529.6 594.1,531.9 594.2,531.4 594.3,531.0 594.4,531.8 594.5,529.5 594.6,531.5 594.7,529.7 594.8,529.6 594.9,531.7 595.0,530.2 595.1,530.7 595.2,531.9 595.3,530.0 595.4,531.9 595.5,533.9 595.6,531.0 595.6,532.4 595.7,532.2 595.8,529.8 595.9,529.7 596.0,531.4 596.1,528.9 596.2,531.4 596.3,531.7 596.4,532.0 596.5,532.0 596.6,533.0 596.7,531.1 596.8,533.1 596.9,532.1 597.0,532.1 597.1,531.3 597.2,532.7 597.3,530.7 597.3,532.4 597.4,532.9 597.5,530.8 597.6,530.5 597.7,530.7 597.8,531.6 597.9,532.0 598.0,532.6 598.1,533.8 598.2,533.5 598.3,532.0 598.4,531.2 598.5,530.2 598.6,532.6 598.7,532.3 598.8,531.3 598.9,531.5 598.9,531.5 599.0,528.7 599.1,531.6 599.2,532.1 599.3,531.5 599.4,530.4 599.5,531.8 599.6,532.3 599.7,533.8 599.8,533.0 599.9,532.4 600.0,531.7 600.1,530.2 600.2,531.2 600.3,530.1 600.4,531.6 600.5,533.0 600.6,532.9 600.6,532.8 600.7,531.7 600.8,532.9 600.9,531.4 601.0,529.4 601.1,531.9 601.2,531.7 601.3,529.6 601.4,531.1 601.5,528.8 601.6,531.1 601.7,533.1 601.8,530.9 601.9,533.2 602.0,531.9 602.1,530.7 602.2,529.5 602.3,532.4 602.3,532.3 602.4,529.8 602.5,531.0 602.6,532.8 602.7,530.6 602.8,532.0 602.9,529.2 603.0,530.4 603.1,532.3 603.2,530.1 603.3,529.8 603.4,529.9 603.5,531.0 603.6,529.6 603.7,531.3 603.8,532.1 603.9,533.2 604.0,531.0 604.0,533.3 604.1,532.1 604.2,531.2 604.3,532.1 604.4,533.2 604.5,533.2 604.6,532.4 604.7,531.4 604.8,532.5 604.9,531.7 605.0,531.7 605.1,531.8 605.2,533.6 605.3,530.1 605.4,531.4 605.5,530.3 605.6,532.5 605.7,532.8 605.7,533.1 605.8,531.1 605.9,531.6 606.0,532.4 606.1,531.8 606.2,531.9 606.3,531.8 606.4,531.9 606.5,531.4 606.6,532.1 606.7,529.9 606.8,531.1 606.9,530.1 607.0,531.5 607.1,530.8 607.2,532.2 607.3,533.1 607.3,530.2 607.4,530.7 607.5,532.0 607.6,533.3 607.7,532.5 607.8,532.1 607.9,531.5 608.0,531.1 608.1,532.0 608.2,532.1 608.3,531.7 608.4,530.9 608.5,529.7 608.6,530.6 608.7,531.1 608.8,530.2 608.9,531.9 609.0,529.9 609.0,531.2 609.1,531.9 609.2,532.4 609.3,531.8 609.4,532.9 609.5,530.8 609.6,530.6 609.7,532.7 609.8,530.5 609.9,531.3 610.0,529.5 610.1,532.7 610.2,532.3 610.3,530.6 610.4,529.4 610.5,531.7 610.6,531.7 610.7,532.7 610.7,533.5 610.8,531.6 610.9,531.1 611.0,531.1 611.1,531.0 611.2,529.8 611.3,530.3 611.4,531.2 611.5,529.4 611.6,529.8 611.7,532.7 611.8,530.5 611.9,532.2 612.0,532.5 612.1,531.3 612.2,532.2 612.3,531.1 612.4,530.3 612.4,531.1 612.5,531.3 612.6,531.4 612.7,531.3 612.8,530.8 612.9,532.5 613.0,531.0 613.1,530.8 613.2,532.3 613.3,530.1 613.4,531.2 613.5,532.9 613.6,531.3 613.7,532.8 613.8,530.9 613.9,530.6 614.0,531.0 614.1,530.5 614.1,530.7 614.2,530.6 614.3,532.0 614.4,531.6 614.5,530.9 614.6,530.2 614.7,534.4 614.8,530.9 614.9,532.7 615.0,529.7 615.1,530.2 615.2,532.5 615.3,529.8 615.4,529.9 615.5,531.0 615.6,530.2 615.7,530.7 615.7,531.3 615.8,532.1 615.9,531.3 616.0,531.4 616.1,532.6 616.2,532.7 616.3,530.7 616.4,529.0 616.5,530.0 616.6,532.4 616.7,530.6 616.8,530.4 616.9,530.7 617.0,533.0 617.1,531.3 617.2,530.8 617.3,530.5 617.4,530.0 617.4,534.5 617.5,531.3 617.6,531.5 617.7,531.0 617.8,532.5 617.9,530.2 618.0,529.2 618.1,530.7 618.2,531.8 618.3,533.9 618.4,531.3 618.5,530.4 618.6,531.2 618.7,530.5 618.8,530.5 618.9,531.5 619.0,531.8 619.1,530.7 619.1,532.7 619.2,531.3 619.3,531.5 619.4,530.8 619.5,531.8 619.6,531.9 619.7,532.1 619.8,530.5 619.9,532.1 620.0,530.7 620.1,531.5 620.2,532.2 620.3,533.0 620.4,530.8 620.5,530.1 620.6,531.4 620.7,532.6 620.8,530.9 620.8,534.0 620.9,529.1 621.0,532.9 621.1,532.5 621.2,532.4 621.3,530.2 621.4,532.7 621.5,532.5 621.6,532.5 621.7,530.9 621.8,530.8 621.9,532.6 622.0,531.5 622.1,530.7 622.2,530.1 622.3,531.4 622.4,529.5 622.4,531.7 622.5,531.2 622.6,529.3 622.7,531.6 622.8,532.4 622.9,531.3 623.0,529.6 623.1,530.4 623.2,532.0 623.3,529.6 623.4,530.7 623.5,532.4 623.6,530.8 623.7,530.5 623.8,532.1 623.9,533.0 624.0,531.7 624.1,529.8 624.1,529.5 624.2,531.0 624.3,529.3 624.4,531.3 624.5,532.4 624.6,528.5 624.7,531.3 624.8,531.8 624.9,530.9 625.0,532.0 625.1,532.1 625.2,532.7 625.3,534.6 625.4,532.0 625.5,530.6 625.6,530.5 625.7,530.3 625.8,532.5 625.8,532.1 625.9,532.3 626.0,532.0 626.1,533.5 626.2,533.0 626.3,532.9 626.4,531.0 626.5,531.4 626.6,530.3 626.7,531.0 626.8,531.9 626.9,530.4 627.0,531.0 627.1,534.0 627.2,531.5 627.3,530.1 627.4,530.3 627.5,531.6 627.5,532.6 627.6,531.6 627.7,532.6 627.8,532.0 627.9,530.4 628.0,532.7 628.1,531.1 628.2,533.6 628.3,530.9 628.4,531.3 628.5,530.9 628.6,531.2 628.7,531.9 628.8,531.2 628.9,532.7 629.0,531.8 629.1,533.1 629.2,531.4 629.2,532.7 629.3,532.6 629.4,531.1 629.5,534.1 629.6,532.9 629.7,531.8 629.8,531.0 629.9,531.1 630.0,531.0 630.1,531.5 630.2,529.9 630.3,531.2 630.4,530.5 630.5,533.0 630.6,532.0 630.7,533.0 630.8,533.8 630.8,531.7 630.9,533.4 631.0,531.5 631.1,531.8 631.2,530.1 631.3,531.2 631.4,532.7 631.5,531.7 631.6,530.7 631.7,531.1 631.8,530.3 631.9,530.4 632.0,529.6 632.1,532.4 632.2,532.4 632.3,531.1 632.4,529.7 632.5,531.0 632.5,533.4 632.6,529.8 632.7,530.7 632.8,530.8 632.9,532.2 633.0,529.9 633.1,531.6 633.2,530.4 633.3,531.0 633.4,530.0 633.5,532.0 633.6,530.9 633.7,530.8 633.8,532.6 633.9,531.8 634.0,534.1 634.1,531.9 634.2,531.6 634.2,531.6 634.3,534.5 634.4,532.9 634.5,531.2 634.6,531.9 634.7,530.9 634.8,532.2 634.9,531.0 635.0,530.9 635.1,532.0 635.2,533.0 635.3,532.4 635.4,532.3 635.5,531.5 635.6,528.8 635.7,531.2 635.8,531.1 635.9,531.9 635.9,533.2 636.0,532.1 636.1,529.4 636.2,531.3 636.3,531.0 636.4,532.0 636.5,531.1 636.6,529.0 636.7,530.1 636.8,530.7 636.9,528.8 637.0,530.9 637.1,530.7 637.2,532.1 637.3,530.8 637.4,530.2 637.5,530.7 637.6,530.9 637.6,531.9 637.7,529.8 637.8,528.3 637.9,533.8 638.0,531.6 638.1,530.8 638.2,533.5 638.3,529.6 638.4,530.0 638.5,530.3 638.6,531.4 638.7,530.4 638.8,531.7 638.9,530.5 639.0,532.3 639.1,531.5 639.2,529.2 639.2,531.0 639.3,529.8 639.4,530.9 639.5,531.1 639.6,533.6 639.7,530.9 639.8,529.4 639.9,531.3 640.0,530.0 640.1,533.3 640.2,532.1 640.3,533.0 640.4,530.9 640.5,530.2 640.6,531.7 640.7,529.9 640.8,530.3 640.9,530.6 640.9,531.2 641.0,529.7 641.1,529.2 641.2,533.0 641.3,530.8 641.4,531.2 641.5,532.0 641.6,531.8 641.7,530.6 641.8,530.8 641.9,533.1 642.0,532.6 642.1,532.1 642.2,533.0 642.3,529.1 642.4,531.3 642.5,530.8 642.6,529.0 642.6,531.4 642.7,531.7 642.8,531.3 642.9,529.0 643.0,530.7 643.1,531.2 643.2,530.6 643.3,531.2 643.4,531.4 643.5,532.4 643.6,531.1 643.7,533.7 643.8,531.1 643.9,531.1 644.0,531.7 644.1,530.8 644.2,530.5 644.3,532.2 644.3,528.5 644.4,529.0 644.5,533.2 644.6,531.7 644.7,531.6 644.8,531.3 644.9,531.3 645.0,530.0 645.1,530.8 645.2,530.0 645.3,532.4 645.4,531.8 645.5,531.4 645.6,531.6 645.7,531.0 645.8,529.9 645.9,533.1 645.9,532.0 646.0,531.1 646.1,531.9 646.2,532.7 646.3,532.6 646.4,532.0 646.5,532.2 646.6,531.0 646.7,532.9 646.8,532.4 646.9,532.4 647.0,529.8 647.1,532.1 647.2,532.1 647.3,532.2 647.4,528.3 647.5,529.1 647.6,531.6 647.6,530.2 647.7,531.7 647.8,531.2 647.9,532.3 648.0,530.6 648.1,530.0 648.2,531.8 648.3,530.9 648.4,529.8 648.5,528.8 648.6,534.6 648.7,530.7 648.8,530.8 648.9,528.7 649.0,529.9 649.1,530.9 649.2,531.5 649.3,532.0 649.3,530.2 649.4,531.7 649.5,532.5 649.6,530.4 649.7,531.0 649.8,528.8 649.9,530.0 650.0,529.3 650.1,531.9 650.2,530.8 650.3,533.0 650.4,531.3 650.5,532.1 650.6,531.7 650.7,531.3 650.8,529.7 650.9,533.2 651.0,531.0 651.0,528.8 651.1,530.4 651.2,529.8 651.3,532.6 651.4,532.5 651.5,533.1 651.6,533.9 651.7,530.4 651.8,528.9 651.9,530.1 652.0,531.8 652.1,527.9 652.2,530.5 652.3,532.4 652.4,530.3 652.5,531.2 652.6,530.2 652.7,533.6 652.7,533.8 652.8,530.1 652.9,530.3 653.0,531.6 653.1,532.3 653.2,532.0 653.3,532.3 653.4,532.7 653.5,533.0 653.6,533.9 653.7,531.8 653.8,531.0 653.9,531.5 654.0,534.4 654.1,532.7 654.2,532.5 654.3,533.3 654.3,533.2 654.4,534.6 654.5,530.6 654.6,531.9 654.7,532.5 654.8,532.6 654.9,531.1 655.0,529.5 655.1,531.2 655.2,530.7 655.3,531.4 655.4,532.9 655.5,532.4 655.6,530.1 655.7,530.6 655.8,531.7 655.9,532.9 656.0,531.4 656.0,531.7 656.1,529.6 656.2,530.8 656.3,530.5 656.4,531.7 656.5,531.1 656.6,530.3 656.7,530.1 656.8,531.7 656.9,530.6 657.0,532.8 657.1,531.6 657.2,531.1 657.3,532.6 657.4,530.0 657.5,532.6 657.6,530.6 657.7,532.4 657.7,530.6 657.8,530.3 657.9,529.2 658.0,531.6 658.1,532.1 658.2,529.8 658.3,533.7 658.4,531.5 658.5,530.1 658.6,534.0 658.7,531.1 658.8,533.4 658.9,528.1 659.0,534.3 659.1,531.8 659.2,531.6 659.3,532.0 659.4,530.2 659.4,532.8 659.5,532.2 659.6,532.0 659.7,530.9 659.8,530.2 659.9,532.1 660.0,532.7 660.1,531.8 660.2,531.4 660.3,531.0 660.4,532.6 660.5,533.5 660.6,531.5 660.7,530.7 660.8,534.8 660.9,529.9 661.0,532.1 661.1,531.7 661.1,533.5 661.2,531.7 661.3,529.9 661.4,530.5 661.5,532.1 661.6,532.0 661.7,531.2 661.8,531.3 661.9,530.1 662.0,530.3 662.1,531.3 662.2,531.3 662.3,532.0 662.4,530.7 662.5,534.1 662.6,530.1 662.7,533.3 662.7,532.9 662.8,534.2 662.9,534.0 663.0,530.7 663.1,532.7 663.2,533.2 663.3,533.5 663.4,533.0 663.5,531.6 663.6,533.9 663.7,532.2 663.8,531.7 663.9,532.6 664.0,531.8 664.1,531.5 664.2,532.5 664.3,535.6 664.4,532.7 664.4,532.4 664.5,531.8 664.6,532.8 664.7,530.9 664.8,532.9 664.9,532.6 665.0,532.4 665.1,532.9 665.2,532.0 665.3,533.1 665.4,532.9 665.5,532.9 665.6,532.3 665.7,533.3 665.8,532.0 665.9,533.8 666.0,532.1 666.1,533.8 666.1,532.5 666.2,532.2 666.3,531.0 666.4,533.0 666.5,532.6 666.6,532.2 666.7,532.7 666.8,532.3 666.9,531.1 667.0,530.8 667.1,532.9 667.2,532.4 667.3,534.0 667.4,534.6 667.5,533.2 667.6,532.9 667.7,532.8 667.8,532.3 667.8,531.4 667.9,529.0 668.0,533.0 668.1,532.8 668.2,532.1 668.3,532.2 668.4,533.2 668.5,533.2 668.6,532.3 668.7,531.7 668.8,532.8 668.9,533.0 669.0,534.7 669.1,530.9 669.2,532.6 669.3,530.9 669.4,531.4 669.4,534.8 669.5,531.5 669.6,531.8 669.7,531.3 669.8,533.0 669.9,531.4 670.0,529.9 670.1,532.1 670.2,533.0 670.3,531.9 670.4,532.2 670.5,531.1 670.6,530.9 670.7,532.0 670.8,530.6 670.9,531.5 671.0,530.9 671.1,531.8 671.1,533.1 671.2,532.1 671.3,533.6 671.4,532.6 671.5,532.0 671.6,531.1 671.7,532.4 671.8,530.8 671.9,533.3 672.0,530.7 672.1,530.6 672.2,531.3 672.3,530.3 672.4,532.6 672.5,531.6 672.6,532.0 672.7,533.4 672.8,529.8 672.8,532.4 672.9,533.2 673.0,534.1 673.1,533.0 673.2,532.0 673.3,534.1 673.4,534.2 673.5,535.9 673.6,535.9 673.7,532.8 673.8,534.9 673.9,533.4 674.0,531.8 674.1,534.1 674.2,535.0 674.3,530.1 674.4,535.1 674.5,532.2 674.5,535.5 674.6,533.7 674.7,533.6 674.8,535.2 674.9,532.9 675.0,536.2 675.1,532.1 675.2,532.6 675.3,531.9 675.4,534.1 675.5,533.3 675.6,534.4 675.7,534.8 675.8,534.4 675.9,534.8 676.0,534.8 676.1,533.1 676.2,532.2 676.2,531.8 676.3,534.2 676.4,532.4 676.5,531.8 676.6,531.9 676.7,532.8 676.8,533.4 676.9,532.7 677.0,531.5 677.1,533.7 677.2,529.8 677.3,532.5 677.4,534.4 677.5,533.3 677.6,534.5 677.7,533.0 677.8,533.7 677.8,532.9 677.9,532.2 678.0,533.3 678.1,534.2 678.2,530.0 678.3,531.6 678.4,529.8 678.5,531.4 678.6,530.9 678.7,532.1 678.8,532.4 678.9,534.2 679.0,534.6 679.1,531.7 679.2,532.1 679.3,533.8 679.4,531.9 679.5,532.3 679.5,530.2 679.6,534.0 679.7,533.4 679.8,531.6 679.9,531.0 680.0,531.4 680.1,533.7 680.2,532.3 680.3,531.3 680.4,532.6 680.5,534.4 680.6,535.0 680.7,535.2 680.8,533.4 680.9,533.6 681.0,533.7 681.1,534.3 681.2,534.2 681.2,531.9 681.3,532.2 681.4,532.8 681.5,534.5 681.6,532.6 681.7,532.2 681.8,535.0 681.9,535.7 682.0,532.1 682.1,533.3 682.2,535.3 682.3,532.9 682.4,534.9 682.5,531.3 682.6,533.2 682.7,534.6 682.8,535.9 682.9,535.0 682.9,531.0 683.0,531.1 683.1,532.2 683.2,534.9 683.3,534.7 683.4,535.3 683.5,534.7 683.6,532.7 683.7,533.0 683.8,532.2 683.9,535.0 684.0,531.6 684.1,533.8 684.2,534.1 684.3,535.7 684.4,532.5 684.5,534.4 684.6,532.1 684.6,535.4 684.7,533.2 684.8,533.3 684.9,532.3 685.0,532.8 685.1,532.8 685.2,532.9 685.3,535.8 685.4,532.3 685.5,534.3 685.6,535.3 685.7,532.1 685.8,530.4 685.9,534.8 686.0,531.3 686.1,532.7 686.2,533.9 686.2,534.5 686.3,533.6 686.4,532.9 686.5,535.8 686.6,534.5 686.7,537.4 686.8,532.6 686.9,534.0 687.0,534.1 687.1,535.1 687.2,534.6 687.3,534.3 687.4,537.6 687.5,534.0 687.6,535.0 687.7,534.6 687.8,533.3 687.9,535.6 687.9,531.1 688.0,536.3 688.1,531.7 688.2,533.8 688.3,534.5 688.4,533.5 688.5,533.5 688.6,536.5 688.7,538.5 688.8,536.2 688.9,534.7 689.0,533.4 689.1,533.1 689.2,536.6 689.3,536.0 689.4,536.8 689.5,536.2 689.6,536.8 689.6,533.5 689.7,533.1 689.8,532.8 689.9,534.5 690.0,534.2 690.1,534.8 690.2,532.5 690.3,534.9 690.4,536.1 690.5,534.8 690.6,530.1 690.7,534.7 690.8,534.2 690.9,536.4 691.0,534.6 691.1,535.9 691.2,534.2 691.3,535.5 691.3,536.6 691.4,534.5 691.5,535.5 691.6,535.3 691.7,536.1 691.8,534.9 691.9,535.9 692.0,532.2 692.1,534.9 692.2,536.6 692.3,536.4 692.4,533.8 692.5,534.1 692.6,536.1 692.7,536.0 692.8,536.2 692.9,535.6 692.9,535.8 693.0,537.2 693.1,534.2 693.2,533.6 693.3,537.3 693.4,534.6 693.5,536.8 693.6,534.8 693.7,534.2 693.8,538.2 693.9,535.8 694.0,533.8 694.1,535.6 694.2,535.7 694.3,535.6 694.4,536.2 694.5,534.3 694.6,535.6 694.6,536.7 694.7,536.9 694.8,536.2 694.9,534.9 695.0,533.3 695.1,538.1 695.2,534.5 695.3,535.4 695.4,536.1 695.5,536.7 695.6,536.1 695.7,535.0 695.8,536.0 695.9,538.9 696.0,539.5 696.1,535.8 696.2,537.0 696.3,533.8 696.3,536.4 696.4,537.0 696.5,535.7 696.6,538.5 696.7,537.2 696.8,536.9 696.9,532.7 697.0,535.3 697.1,537.0 697.2,535.5 697.3,533.9 697.4,535.4 697.5,538.0 697.6,536.9 697.7,537.1 697.8,536.3 697.9,538.0 698.0,532.7 698.0,534.7 698.1,538.4 698.2,537.4 698.3,536.4 698.4,535.8 698.5,534.1 698.6,535.7 698.7,536.1 698.8,535.2 698.9,537.8 699.0,537.5 699.1,536.0 699.2,537.3 699.3,536.3 699.4,536.7 699.5,535.9 699.6,539.2 699.7,534.8 699.7,536.3 699.8,537.6 699.9,537.6 700.0,534.8 700.1,535.6 700.2,536.5 700.3,535.8 700.4,535.9 700.5,536.4 700.6,536.5 700.7,537.9 700.8,534.9 700.9,537.8 701.0,536.5 701.1,537.4 701.2,536.4 701.3,539.3 701.3,534.9 701.4,538.1 701.5,536.4 701.6,536.6 701.7,538.4 701.8,536.7 701.9,537.9 702.0,538.5 702.1,536.4 702.2,539.1 702.3,538.4 702.4,536.8 702.5,537.3 702.6,536.3 702.7,537.4 702.8,538.0 702.9,538.2 703.0,537.4 703.0,536.6 703.1,536.5 703.2,536.2 703.3,536.9 703.4,537.8 703.5,536.6 703.6,536.5 703.7,536.1 703.8,537.8 703.9,537.0 704.0,535.6 704.1,538.4 704.2,538.4 704.3,537.3 704.4,536.9 704.5,537.2 704.6,536.3 704.7,538.3 704.7,538.7 704.8,538.3 704.9,537.5 705.0,537.5 705.1,537.8 705.2,539.0 705.3,536.4 705.4,537.2 705.5,536.5 705.6,535.9 705.7,537.5 705.8,538.3 705.9,536.0 706.0,538.1 706.1,537.7 706.2,537.5 706.3,538.4 706.4,536.3 706.4,538.5 706.5,536.5 706.6,537.4 706.7,535.2 706.8,537.8 706.9,536.8 707.0,536.1 707.1,535.6 707.2,536.9 707.3,538.0 707.4,537.1 707.5,536.2 707.6,535.8 707.7,535.5 707.8,536.2 707.9,534.8 708.0,536.1 708.1,537.5 708.1,536.3 708.2,536.2 708.3,535.8 708.4,537.1 708.5,537.0 708.6,537.8 708.7,535.6 708.8,535.2 708.9,535.7 709.0,535.1 709.1,536.3 709.2,535.9 709.3,535.5 709.4,536.3 709.5,537.4 709.6,537.1 709.7,535.8 709.7,536.4 709.8,536.7 709.9,537.1 710.0,536.1 710.1,535.2 710.2,536.8 710.3,535.5 710.4,536.2 710.5,536.3 710.6,537.5 710.7,536.1 710.8,536.8 710.9,536.4 711.0,536.1 711.1,537.5 711.2,536.2 711.3,537.2 711.4,537.0 711.4,534.9 711.5,535.2 711.6,533.9 711.7,537.1 711.8,537.1 711.9,536.3 712.0,536.3 712.1,536.6 712.2,536.3 712.3,536.9 712.4,536.9 712.5,536.1 712.6,538.3 712.7,537.9 712.8,536.6 712.9,539.1 713.0,539.4 713.1,538.2 713.1,538.2 713.2,536.5 713.3,536.7 713.4,535.5 713.5,536.7 713.6,538.0 713.7,536.7 713.8,535.5 713.9,538.7 714.0,539.0 714.1,538.6 714.2,535.7 714.3,538.0 714.4,536.4 714.5,537.1 714.6,537.9 714.7,538.7 714.8,536.7 714.8,536.9 714.9,536.1 715.0,537.3 715.1,536.4 715.2,536.8 715.3,538.0 715.4,537.3 715.5,537.4 715.6,537.6 715.7,538.1 715.8,538.7 715.9,536.2 716.0,535.8 716.1,537.8 716.2,538.0 716.3,538.7 716.4,538.1 716.4,539.0 716.5,537.8 716.6,536.7 716.7,538.3 716.8,536.5 716.9,536.7 717.0,537.7 717.1,537.1 717.2,538.2 717.3,537.0 717.4,539.1 717.5,536.3 717.6,538.0 717.7,536.9 717.8,538.7 717.9,536.7 718.0,538.0 718.1,534.4 718.1,536.6 718.2,538.9 718.3,537.5 718.4,537.4 718.5,538.1 718.6,539.6 718.7,536.2 718.8,537.2 718.9,536.8 719.0,538.0 719.1,536.6 719.2,535.8 719.3,535.9 719.4,538.0 719.5,537.6 719.6,538.2 719.7,535.9 719.8,536.6 719.8,536.9 719.9,538.3 720.0,538.0 720.1,537.4 720.2,536.6 720.3,537.8 720.4,537.2 720.5,538.5 720.6,539.4 720.7,537.8 720.8,536.7 720.9,540.1 721.0,538.4 721.1,538.3 721.2,538.0 721.3,538.0 721.4,538.0 721.5,538.2 721.5,536.5 721.6,537.3 721.7,537.9 721.8,538.1 721.9,538.2 722.0,538.4 722.1,536.2 722.2,537.1 722.3,537.4 722.4,538.1 722.5,537.8 722.6,539.9 722.7,537.7 722.8,537.8 722.9,536.5 723.0,539.8 723.1,538.1 723.2,537.9 723.2,537.4 723.3,538.1 723.4,537.7 723.5,539.2 723.6,537.2 723.7,537.6 723.8,537.4 723.9,538.5 724.0,538.3 724.1,538.9 724.2,538.4 724.3,538.5 724.4,537.9 724.5,538.8 724.6,538.3 724.7,538.2 724.8,536.3 724.8,537.4 724.9,537.2 725.0,536.1 725.1,539.1 725.2,539.2 725.3,538.8 725.4,538.3 725.5,539.2 725.6,536.2 725.7,539.0 725.8,535.8 725.9,537.9 726.0,537.9 726.1,538.3 726.2,538.4 726.3,538.5 726.4,537.1 726.5,537.1 726.5,537.0 726.6,537.9 726.7,537.4 726.8,536.2 726.9,538.7 727.0,536.7 727.1,537.3 727.2,537.0 727.3,537.0 727.4,538.3 727.5,537.1 727.6,536.4 727.7,537.1 727.8,536.7 727.9,536.3 728.0,538.6 728.1,538.9 728.2,536.3 728.2,539.3 728.3,539.5 728.4,536.4 728.5,538.2 728.6,537.5 728.7,538.6 728.8,534.9 728.9,538.4 729.0,537.4 729.1,538.2 729.2,538.6 729.3,535.5 729.4,537.7 729.5,537.8 729.6,538.4 729.7,538.9 729.8,538.5 729.9,537.0 729.9,538.5 730.0,537.0 730.1,538.5 730.2,537.6 730.3,537.6 730.4,537.9 730.5,536.2 730.6,537.4 730.7,536.5 730.8,538.6 730.9,538.9 731.0,536.3 731.1,535.5 731.2,537.9 731.3,537.1 731.4,536.7 731.5,539.8 731.6,537.2 731.6,536.6 731.7,537.3 731.8,537.8 731.9,539.1 732.0,537.8 732.1,536.3 732.2,537.0 732.3,539.3 732.4,535.8 732.5,537.4 732.6,538.6 732.7,537.7 732.8,537.3 732.9,536.6 733.0,537.6 733.1,538.0 733.2,537.7 733.2,538.5 733.3,537.7 733.4,538.7 733.5,537.6 733.6,538.4 733.7,537.1 733.8,539.2 733.9,538.7 734.0,538.2 734.1,536.4 734.2,537.5 734.3,534.3 734.4,536.9 734.5,537.3 734.6,536.2 734.7,537.2 734.8,537.7 734.9,538.9 734.9,536.9 735.0,535.1 735.1,534.1 735.2,536.5 735.3,537.6 735.4,537.8 735.5,536.6 735.6,535.7 735.7,535.5 735.8,536.1 735.9,536.3 736.0,536.9 736.1,536.2 736.2,538.5 736.3,536.2 736.4,536.5 736.5,537.1 736.6,537.0 736.6,534.9 736.7,533.5 736.8,533.9 736.9,536.0 737.0,536.2 737.1,535.9 737.2,536.4 737.3,537.1 737.4,534.2 737.5,538.7 737.6,538.9 737.7,536.2 737.8,534.9 737.9,535.4 738.0,533.0 738.1,535.0 738.2,533.8 738.3,534.8 738.3,534.4 738.4,537.9 738.5,533.6 738.6,535.3 738.7,534.2 738.8,537.2 738.9,536.4 739.0,532.4 739.1,533.2 739.2,535.1 739.3,533.6 739.4,535.3 739.5,534.7 739.6,532.8 739.7,534.0 739.8,535.2 739.9,534.2 739.9,534.5 740.0,534.9 740.1,534.1 740.2,536.5 740.3,532.3 740.4,535.1 740.5,533.5 740.6,535.0 740.7,535.8 740.8,535.4 740.9,535.5 741.0,535.6 741.1,535.3 741.2,534.0 741.3,535.6 741.4,536.0 741.5,535.8 741.6,534.8 741.6,534.8 741.7,531.1 741.8,533.0 741.9,534.0 742.0,536.0 742.1,536.3 742.2,534.6 742.3,532.5 742.4,535.1 742.5,536.0 742.6,535.6 742.7,533.2 742.8,532.5 742.9,532.8 743.0,532.5 743.1,536.0 743.2,534.8 743.3,537.9 743.3,537.0 743.4,536.0 743.5,533.2 743.6,535.4 743.7,535.0 743.8,531.9 743.9,532.2 744.0,533.1 744.1,536.4 744.2,533.6 744.3,532.0 744.4,534.5 744.5,535.3 744.6,532.3 744.7,537.5 744.8,533.1 744.9,536.1 745.0,535.5 745.0,533.1 745.1,534.2 745.2,534.4 745.3,533.8 745.4,535.7 745.5,534.5 745.6,531.5 745.7,534.6 745.8,532.5 745.9,534.1 746.0,534.9 746.1,534.3 746.2,536.2 746.3,534.4 746.4,533.6 746.5,537.3 746.6,535.8 746.7,534.3 746.7,534.6 746.8,533.9 746.9,534.7 747.0,533.0 747.1,537.6 747.2,536.7 747.3,530.9 747.4,533.1 747.5,534.6 747.6,533.6 747.7,531.1 747.8,535.9 747.9,532.7 748.0,535.9 748.1,535.6 748.2,537.4 748.3,533.3 748.3,537.9 748.4,532.7 748.5,537.4 748.6,536.7 748.7,535.6 748.8,533.0 748.9,537.6 749.0,536.2 749.1,532.0 749.2,530.5 749.3,533.8 749.4,533.5 749.5,536.2 749.6,535.3 749.7,535.6 749.8,534.3 749.9,536.7 750.0,534.2 750.0,532.7 750.1,531.3 750.2,536.1 750.3,534.3 750.4,532.6 750.5,534.0 750.6,534.8 750.7,536.6 750.8,532.1 750.9,534.9 751.0,536.8 751.1,536.4 751.2,537.0 751.3,538.8 751.4,534.4 751.5,534.9 751.6,537.5 751.7,538.4 751.7,536.5 751.8,535.5 751.9,534.2 752.0,537.0 752.1,536.7 752.2,534.5 752.3,535.4 752.4,534.8 752.5,537.2 752.6,536.1 752.7,538.2 752.8,538.4 752.9,537.0 753.0,538.3 753.1,538.1 753.2,538.8 753.3,536.0 753.4,537.6 753.4,539.4 753.5,537.8 753.6,536.3 753.7,537.3 753.8,540.2 753.9,536.5 754.0,536.2 754.1,538.4 754.2,536.7 754.3,535.0 754.4,535.1 754.5,537.4 754.6,536.5 754.7,539.5 754.8,536.7 754.9,535.7 755.0,536.6 755.1,536.0 755.1,539.4 755.2,536.8 755.3,539.9 755.4,538.7 755.5,540.8 755.6,538.0 755.7,539.3 755.8,535.5 755.9,537.7 756.0,537.5 756.1,539.9 756.2,538.3 756.3,539.4 756.4,537.6 756.5,536.9 756.6,538.4 756.7,540.3 756.7,538.5 756.8,540.6 756.9,538.2 757.0,538.2 757.1,538.2 757.2,538.3 757.3,537.8 757.4,538.4 757.5,537.6 757.6,537.3 757.7,540.6 757.8,539.8 757.9,538.3 758.0,537.9 758.1,536.6 758.2,539.4 758.3,537.7 758.4,541.0 758.4,536.3 758.5,538.9 758.6,540.0 758.7,537.7 758.8,541.0 758.9,539.7 759.0,539.6 759.1,537.2 759.2,539.6 759.3,539.5 759.4,538.3 759.5,540.4 759.6,538.5 759.7,535.1 759.8,538.4 759.9,540.2 760.0,537.1 760.1,538.9 760.1,537.0 760.2,537.8 760.3,534.3 760.4,535.4 760.5,537.3 760.6,536.9 760.7,535.2 760.8,538.6 760.9,538.1 761.0,536.5 761.1,534.9 761.2,538.3 761.3,536.9 761.4,538.5 761.5,539.0 761.6,537.1 761.7,537.2 761.8,538.5 761.8,537.2 761.9,535.0 762.0,538.3 762.1,538.0 762.2,536.8 762.3,538.3 762.4,537.1 762.5,537.1 762.6,538.7 762.7,535.9 762.8,535.6 762.9,537.5 763.0,536.0 763.1,538.9 763.2,536.8 763.3,535.6 763.4,537.3 763.4,535.0 763.5,539.7 763.6,537.9 763.7,538.9 763.8,538.7 763.9,538.3 764.0,536.7 764.1,539.1 764.2,537.7 764.3,537.1 764.4,535.5 764.5,539.8 764.6,537.9 764.7,537.7 764.8,535.7 764.9,539.5 765.0,538.1 765.1,539.6 765.1,538.2 765.2,537.2 765.3,539.1 765.4,536.3 765.5,536.3 765.6,538.3 765.7,539.4 765.8,539.9 765.9,538.3 766.0,538.3 766.1,538.7 766.2,538.2 766.3,537.9 766.4,539.2 766.5,537.9 766.6,538.3 766.7,540.2 766.8,538.9 766.8,537.9 766.9,539.5 767.0,538.5 767.1,539.5 767.2,537.5 767.3,537.7 767.4,536.8 767.5,540.2 767.6,540.5 767.7,540.3 767.8,539.2 767.9,539.0 768.0,538.4 768.1,539.4 768.2,538.4 768.3,537.3 768.4,540.0 768.5,539.8 768.5,539.3 768.6,538.5 768.7,538.1 768.8,538.7 768.9,538.8 769.0,537.0 769.1,537.9 769.2,537.1 769.3,539.9 769.4,536.6 769.5,536.8 769.6,537.2 769.7,538.5 769.8,537.0 769.9,540.5 770.0,539.1 770.1,535.0 770.2,538.3 770.2,538.5 770.3,536.3 770.4,537.8 770.5,538.0 770.6,537.0 770.7,537.7 770.8,538.2 770.9,537.0 771.0,537.6 771.1,536.1 771.2,538.4 771.3,536.8 771.4,539.1 771.5,540.2 771.6,539.7 771.7,536.9 771.8,538.1 771.8,537.2 771.9,538.1 772.0,536.4 772.1,536.2 772.2,537.4 772.3,536.5 772.4,539.1 772.5,538.5 772.6,538.0 772.7,537.4 772.8,537.4 772.9,538.9 773.0,537.7 773.1,537.7 773.2,540.1 773.3,537.9 773.4,537.4 773.5,537.5 773.5,539.5 773.6,537.2 773.7,537.3 773.8,539.4 773.9,539.5 774.0,539.9 774.1,537.0 774.2,538.7 774.3,537.4 774.4,538.8 774.5,536.2 774.6,538.1 774.7,539.8 774.8,538.7 774.9,535.3 775.0,539.8 775.1,539.0 775.2,538.2 775.2,538.6 775.3,538.3 775.4,540.2 775.5,538.7 775.6,536.7 775.7,537.7 775.8,541.0 775.9,540.4 776.0,540.0 776.1,537.9 776.2,539.7 776.3,540.4 776.4,539.2 776.5,540.0 776.6,540.6 776.7,540.5 776.8,539.7 776.9,539.7 776.9,537.5 777.0,538.7 777.1,540.2 777.2,541.3 777.3,539.3 777.4,540.5 777.5,539.1 777.6,537.8 777.7,539.5 777.8,539.5 777.9,537.8 778.0,537.8 778.1,538.9 778.2,538.1 778.3,539.4 778.4,536.9 778.5,539.7 778.5,537.8 778.6,539.0 778.7,536.5 778.8,539.7 778.9,538.7 779.0,541.2 779.1,536.2 779.2,535.9 779.3,539.2 779.4,539.4 779.5,535.9 779.6,538.9 779.7,539.4 779.8,539.9 779.9,538.3 780.0,536.0 780.1,535.5 780.2,540.7 780.2,538.5 780.3,539.3 780.4,537.5 780.5,537.7 780.6,537.7 780.7,536.7 780.8,537.6 780.9,536.5 781.0,537.4 781.1,539.4 781.2,538.0 781.3,537.1 781.4,540.2 781.5,539.7 781.6,538.1 781.7,535.8 781.8,539.7 781.9,539.8 781.9,537.3 782.0,540.0 782.1,537.0 782.2,537.8 782.3,537.6 782.4,538.4 782.5,538.0 782.6,540.1 782.7,537.8 782.8,538.8 782.9,538.3 783.0,538.6 783.1,537.2 783.2,538.3 783.3,540.1 783.4,539.4 783.5,536.8 783.6,537.8 783.6,537.0 783.7,537.4 783.8,537.5 783.9,536.7 784.0,538.9 784.1,539.5 784.2,538.5 784.3,537.6 784.4,538.5 784.5,537.2 784.6,539.6 784.7,541.3 784.8,534.7 784.9,538.7 785.0,538.2 785.1,538.4 785.2,537.8 785.3,536.2 785.3,538.0 785.4,537.6 785.5,537.9 785.6,538.0 785.7,537.4 785.8,541.0 785.9,536.4 786.0,537.5 786.1,536.3 786.2,537.7 786.3,539.9 786.4,537.8 786.5,536.8 786.6,536.1 786.7,538.5 786.8,536.9 786.9,538.6 786.9,536.8 787.0,537.0 787.1,537.6 787.2,535.6 787.3,539.3 787.4,536.2 787.5,537.9 787.6,538.3 787.7,540.7 787.8,538.3 787.9,538.8 788.0,537.0 788.1,537.5 788.2,537.7 788.3,539.1 788.4,536.4 788.5,538.2 788.6,541.4 788.6,536.5 788.7,535.4 788.8,537.1 788.9,537.6 789.0,539.9 789.1,538.4 789.2,539.3 789.3,536.9 789.4,537.8 789.5,538.2 789.6,536.8 789.7,538.2 789.8,537.5 789.9,538.2 790.0,536.1 790.1,535.3 790.2,539.7 790.3,538.0 790.3,537.8 790.4,541.3 790.5,539.3 790.6,538.6 790.7,537.2 790.8,538.5 790.9,538.4 791.0,537.8 791.1,540.0 791.2,539.1 791.3,538.9 791.4,537.1 791.5,537.3 791.6,539.6 791.7,538.5 791.8,537.5 791.9,538.6 792.0,538.3 792.0,537.7 792.1,538.0 792.2,539.2 792.3,538.7 792.4,537.1 792.5,537.3 792.6,538.7 792.7,536.9 792.8,538.4 792.9,538.1 793.0,536.6 793.1,535.2 793.2,537.2 793.3,538.3 793.4,538.3 793.5,539.9 793.6,538.3 793.7,538.2 793.7,538.8 793.8,537.8 793.9,540.6 794.0,537.6 794.1,537.2 794.2,537.7 794.3,539.9 794.4,537.6 794.5,537.4 794.6,539.1 794.7,539.9 794.8,537.8 794.9,539.2 795.0,537.5 795.1,540.1 795.2,536.9 795.3,538.0 795.3,537.7 795.4,537.1 795.5,538.2 795.6,539.1 795.7,537.2 795.8,540.7 795.9,538.6 796.0,538.7 796.1,537.3 796.2,538.2 796.3,539.4 796.4,537.0 796.5,537.4 796.6,537.2 796.7,536.6 796.8,539.1 796.9,537.3 797.0,540.4 797.0,536.7 797.1,537.9 797.2,538.4 797.3,537.0 797.4,535.6 797.5,537.5 797.6,538.3 797.7,537.1 797.8,538.7 797.9,536.0 798.0,538.8 798.1,541.1 798.2,539.7 798.3,539.7 798.4,538.0 798.5,537.9 798.6,539.9 798.7,538.0 798.7,539.3 798.8,537.2 798.9,539.0 799.0,538.8 799.1,535.7 799.2,538.4 799.3,539.3 799.4,539.3 799.5,539.1 799.6,540.3 799.7,538.5 799.8,537.6 799.9,539.8 800.0,541.4 800.1,538.2 800.2,540.6 800.3,538.4 800.4,536.7 800.4,537.5 800.5,537.5 800.6,540.2 800.7,538.8 800.8,537.9 800.9,538.8 801.0,540.5 801.1,538.6 801.2,537.7 801.3,539.1 801.4,537.6 801.5,539.4 801.6,540.0 801.7,539.0 801.8,538.2 801.9,538.9 802.0,536.9 802.0,540.8 802.1,541.8 802.2,538.8 802.3,536.1 802.4,537.9 802.5,536.9 802.6,536.4 802.7,538.6 802.8,538.6 802.9,538.0 803.0,540.3 803.1,538.9 803.2,537.6 803.3,539.4 803.4,537.2 803.5,538.4 803.6,537.8 803.7,539.2 803.7,538.5 803.8,538.1 803.9,539.2 804.0,539.4 804.1,539.1 804.2,540.3 804.3,537.4 804.4,539.3 804.5,541.0 804.6,538.8 804.7,535.9 804.8,540.0 804.9,538.5 805.0,539.5 805.1,539.0 805.2,539.5 805.3,540.2 805.4,538.8 805.4,539.6 805.5,536.9 805.6,537.4 805.7,538.3 805.8,540.5 805.9,537.4 806.0,538.0 806.1,539.2 806.2,537.7 806.3,536.6 806.4,535.7 806.5,539.3 806.6,536.7 806.7,538.6 806.8,538.8 806.9,536.8 807.0,538.7 807.1,535.3 807.1,537.9 807.2,536.7 807.3,538.3 807.4,538.3 807.5,538.2 807.6,538.8 807.7,537.1 807.8,536.1 807.9,536.4 808.0,539.3 808.1,536.6 808.2,537.5 808.3,538.4 808.4,537.8 808.5,536.7 808.6,535.3 808.7,539.2 808.8,537.3 808.8,535.9 808.9,537.2 809.0,538.1 809.1,535.5 809.2,538.3 809.3,538.1 809.4,538.7 809.5,538.2 809.6,536.9 809.7,536.1 809.8,537.9 809.9,537.5 810.0,540.2 810.1,537.9 810.2,538.8 810.3,538.4 810.4,536.0 810.4,539.3 810.5,537.8 810.6,536.5 810.7,538.9 810.8,540.0 810.9,538.2 811.0,538.0 811.1,537.6 811.2,537.9 811.3,539.9 811.4,538.5 811.5,539.0 811.6,539.2 811.7,534.7 811.8,538.6 811.9,539.2 812.0,538.7 812.1,536.5 812.1,537.4 812.2,539.3 812.3,538.9 812.4,539.0 812.5,536.9 812.6,538.7 812.7,540.2 812.8,538.4 812.9,540.1 813.0,539.4 813.1,539.4 813.2,537.4 813.3,537.4 813.4,537.4 813.5,539.7 813.6,539.9 813.7,536.9 813.8,536.6 813.8,538.4 813.9,539.9 814.0,538.6 814.1,539.0 814.2,538.8 814.3,539.0 814.4,538.0 814.5,538.8 814.6,539.1 814.7,538.1 814.8,540.4 814.9,536.9 815.0,537.7 815.1,537.2 815.2,539.6 815.3,539.7 815.4,537.3 815.5,538.4 815.5,537.7 815.6,536.5 815.7,537.2 815.8,538.7 815.9,539.0 816.0,537.3 816.1,538.3 816.2,539.3 816.3,540.1 816.4,538.7 816.5,537.3 816.6,536.3 816.7,538.4 816.8,537.9 816.9,537.6 817.0,537.4 817.1,537.6 817.2,538.5 817.2,539.2 817.3,537.3 817.4,540.7 817.5,540.2 817.6,538.0 817.7,538.7 817.8,540.3 817.9,537.2 818.0,537.6 818.1,537.6 818.2,537.1 818.3,539.3 818.4,538.1 818.5,538.5 818.6,538.5 818.7,538.1 818.8,540.3 818.8,538.2 818.9,537.3 819.0,536.6 819.1,537.5 819.2,538.6 819.3,538.6 819.4,538.7 819.5,537.8 819.6,538.9 819.7,539.0 819.8,536.9 819.9,538.9 820.0,538.9 820.1,538.0 820.2,539.8 820.3,538.5 820.4,537.4 820.5,539.6 820.5,540.7 820.6,536.9 820.7,538.3 820.8,539.6 820.9,539.2 821.0,539.7 821.1,540.1 821.2,536.2 821.3,539.3 821.4,536.4 821.5,537.2 821.6,537.1 821.7,539.1 821.8,536.3 821.9,538.6 822.0,536.5 822.1,541.0 822.2,537.8 822.2,538.5 822.3,537.0 822.4,537.8 822.5,540.2 822.6,538.8 822.7,537.0 822.8,537.9 822.9,538.3 823.0,540.8 823.1,538.4 823.2,539.1 823.3,539.9 823.4,541.7 823.5,539.5 823.6,537.3 823.7,537.4 823.8,540.9 823.9,539.2 823.9,536.2 824.0,538.1 824.1,538.2 824.2,538.3 824.3,539.6 824.4,539.6 824.5,540.5 824.6,536.4 824.7,539.2 824.8,538.6 824.9,537.5 825.0,539.9 825.1,537.1 825.2,537.0 825.3,540.9 825.4,539.4 825.5,539.9 825.5,540.5 825.6,537.2 825.7,540.6 825.8,539.0 825.9,539.5 826.0,539.9 826.1,539.6 826.2,538.3 826.3,538.8 826.4,539.0 826.5,540.2 826.6,535.9 826.7,540.6 826.8,537.6 826.9,541.6 827.0,539.4 827.1,541.0 827.2,538.4 827.2,540.9 827.3,539.2 827.4,539.2 827.5,539.2 827.6,535.4 827.7,536.7 827.8,536.5 827.9,538.7 828.0,538.3 828.1,539.6 828.2,538.9 828.3,540.1 828.4,537.5 828.5,538.9 828.6,537.7 828.7,536.8 828.8,536.0 828.9,538.2 828.9,537.0 829.0,537.5 829.1,536.9 829.2,536.7 829.3,541.9 829.4,538.2 829.5,536.3 829.6,537.8 829.7,538.1 829.8,536.0 829.9,539.4 830.0,536.7 830.1,538.7 830.2,537.3 830.3,536.8 830.4,542.0 830.5,537.0 830.6,535.7 830.6,537.0 830.7,536.3 830.8,539.2 830.9,538.3 831.0,536.0 831.1,540.1 831.2,537.2 831.3,535.7 831.4,539.0 831.5,538.4 831.6,536.0 831.7,535.7 831.8,537.1 831.9,536.3 832.0,538.0 832.1,537.6 832.2,535.4 832.3,535.5 832.3,536.7 832.4,538.9 832.5,536.1 832.6,537.8 832.7,536.0 832.8,537.5 832.9,536.0 833.0,537.4 833.1,535.5 833.2,535.6 833.3,539.6 833.4,538.0 833.5,534.8 833.6,538.4 833.7,536.3 833.8,538.6 833.9,534.5 833.9,536.4 834.0,535.9 834.1,535.4 834.2,534.7 834.3,539.4 834.4,536.5 834.5,536.0 834.6,533.9 834.7,538.2 834.8,538.2 834.9,536.2 835.0,534.3 835.1,537.3 835.2,536.5 835.3,534.2 835.4,539.7 835.5,537.6 835.6,534.9 835.6,535.2 835.7,537.7 835.8,538.3 835.9,537.3 836.0,537.2 836.1,535.8 836.2,539.7 836.3,536.0 836.4,536.8 836.5,537.0 836.6,536.0 836.7,537.6 836.8,538.8 836.9,532.9 837.0,536.0 837.1,538.3 837.2,538.5 837.3,535.6 837.3,537.3 837.4,536.5 837.5,536.5 837.6,535.2 837.7,537.8 837.8,538.0 837.9,538.6 838.0,536.5 838.1,536.3 838.2,537.9 838.3,540.7 838.4,535.7 838.5,535.9 838.6,538.8 838.7,534.3 838.8,532.1 838.9,537.5 839.0,538.2 839.0,538.1 839.1,537.6 839.2,537.7 839.3,535.0 839.4,537.7 839.5,534.5 839.6,533.7 839.7,535.8 839.8,534.1 839.9,534.5 840.0,535.2 840.1,535.6 840.2,536.5 840.3,534.7 840.4,535.4 840.5,536.1 840.6,536.6 840.7,537.1 840.7,537.6 840.8,536.8 840.9,537.2 841.0,537.6 841.1,536.6 841.2,536.9 841.3,535.3 841.4,537.1 841.5,538.3 841.6,535.8 841.7,538.8 841.8,536.1 841.9,538.5 842.0,539.5 842.1,537.3 842.2,536.4 842.3,537.7 842.3,536.4 842.4,535.6 842.5,538.7 842.6,534.1 842.7,538.5 842.8,535.9 842.9,538.5 843.0,536.3 843.1,539.9 843.2,536.4 843.3,533.7 843.4,541.6 843.5,537.2 843.6,537.0 843.7,537.2 843.8,536.7 843.9,537.6 844.0,536.0 844.0,540.5 844.1,536.1 844.2,538.2 844.3,539.2 844.4,536.8 844.5,538.5 844.6,536.3 844.7,535.6 844.8,535.9 844.9,538.8 845.0,538.7 845.1,535.7 845.2,538.6 845.3,535.7 845.4,537.3 845.5,538.1 845.6,533.8 845.7,537.9 845.7,536.5 845.8,534.6 845.9,537.9 846.0,537.3 846.1,537.3 846.2,536.4 846.3,535.7 846.4,534.7 846.5,536.3 846.6,535.1 846.7,536.0 846.8,537.2 846.9,537.8 847.0,537.2 847.1,537.0 847.2,536.1 847.3,537.9 847.4,538.2 847.4,535.7 847.5,535.8 847.6,535.0 847.7,536.0 847.8,535.8 847.9,539.3 848.0,538.4 848.1,534.4 848.2,537.6 848.3,536.0 848.4,533.8 848.5,536.8 848.6,535.4 848.7,536.9 848.8,537.2 848.9,535.5 849.0,538.7 849.0,536.7 849.1,535.3 849.2,534.1 849.3,539.9 849.4,535.4 849.5,536.7 849.6,537.0 849.7,537.9 849.8,534.6 849.9,533.0 850.0,536.8 850.1,534.5 850.2,536.3 850.3,539.8 850.4,535.9 850.5,537.8 850.6,535.2 850.7,541.3 850.7,536.3 850.8,537.5 850.9,536.7 851.0,536.0 851.1,538.5 851.2,536.6 851.3,535.6 851.4,536.1 851.5,536.5 851.6,537.1 851.7,537.1 851.8,535.7 851.9,536.1 852.0,540.0 852.1,536.5 852.2,538.9 852.3,536.3 852.4,537.5 852.4,536.0 852.5,534.1 852.6,536.2 852.7,538.3 852.8,538.9 852.9,538.6 853.0,536.2 853.1,536.6 853.2,535.4 853.3,537.5 853.4,538.3 853.5,537.4 853.6,536.1 853.7,537.7 853.8,537.3 853.9,537.9 854.0,537.0 854.1,537.5 854.1,536.2 854.2,536.1 854.3,533.7 854.4,537.6 854.5,537.5 854.6,536.0 854.7,539.5 854.8,539.1 854.9,539.8 855.0,537.3 855.1,537.1 855.2,537.9 855.3,538.7 855.4,539.6 855.5,536.2 855.6,537.3 855.7,534.8 855.8,537.2 855.8,538.8 855.9,538.5 856.0,540.8 856.1,538.6 856.2,537.1 856.3,536.7 856.4,538.0 856.5,539.9 856.6,536.0 856.7,536.4 856.8,537.8 856.9,537.3 857.0,538.9 857.1,537.1 857.2,537.8 857.3,537.7 857.4,538.0 857.4,539.5 857.5,536.0 857.6,535.5 857.7,535.8 857.8,537.3 857.9,537.9 858.0,538.4 858.1,538.1 858.2,537.9 858.3,535.4 858.4,536.9 858.5,538.2 858.6,536.1 858.7,537.1 858.8,537.2 858.9,538.3 859.0,536.6 859.1,535.7 859.1,537.3 859.2,537.4 859.3,538.8 859.4,537.1 859.5,537.5 859.6,537.2 859.7,537.2 859.8,540.4 859.9,534.8 860.0,538.6 860.1,536.9 860.2,537.9 860.3,536.0 860.4,538.1 860.5,536.9 860.6,538.5 860.7,539.5 860.8,536.3 860.8,535.9 860.9,539.2 861.0,540.1 861.1,537.8 861.2,535.2 861.3,535.8 861.4,538.9 861.5,539.8 861.6,537.5 861.7,536.0 861.8,539.0 861.9,536.0 862.0,536.8 862.1,536.9 862.2,536.8 862.3,538.3 862.4,536.5 862.5,537.8 862.5,538.9 862.6,538.9 862.7,539.3 862.8,537.2 862.9,535.6 863.0,537.9 863.1,538.0 863.2,538.1 863.3,537.3 863.4,538.3 863.5,536.6 863.6,538.8 863.7,540.0 863.8,538.1 863.9,538.1 864.0,538.8 864.1,538.7 864.2,538.8 864.2,538.4 864.3,537.9 864.4,540.1 864.5,536.9 864.6,539.7 864.7,537.4 864.8,539.0 864.9,537.4 865.0,536.7 865.1,537.4 865.2,537.5 865.3,540.3 865.4,538.0 865.5,538.0 865.6,537.7 865.7,538.8 865.8,538.9 865.8,539.6 865.9,538.2 866.0,537.6 866.1,539.0 866.2,540.1 866.3,540.0 866.4,537.9 866.5,538.5 866.6,539.5 866.7,538.5 866.8,537.5 866.9,539.4 867.0,538.7 867.1,539.5 867.2,540.2 867.3,538.6 867.4,537.8 867.5,538.3 867.5,540.1 867.6,539.3 867.7,540.1 867.8,538.7 867.9,540.0 868.0,538.6 868.1,538.4 868.2,539.1 868.3,539.0 868.4,538.8 868.5,539.2 868.6,540.2 868.7,538.3 868.8,537.0 868.9,539.6 869.0,541.3 869.1,540.3 869.2,537.7 869.2,539.6 869.3,540.4 869.4,540.1 869.5,541.2 869.6,540.0 869.7,535.8 869.8,539.7 869.9,538.1 870.0,537.9 870.1,537.0 870.2,537.5 870.3,538.5 870.4,540.2 870.5,540.2 870.6,539.6 870.7,540.3 870.8,538.3 870.9,537.8 870.9,541.0 871.0,539.3 871.1,538.3 871.2,539.5 871.3,537.7 871.4,540.4 871.5,537.0 871.6,537.9 871.7,538.3 871.8,538.3 871.9,537.0 872.0,539.4 872.1,539.1 872.2,538.5 872.3,539.1 872.4,537.9 872.5,539.5 872.5,537.7 872.6,537.1 872.7,538.2 872.8,538.2 872.9,538.8 873.0,539.2 873.1,540.4 873.2,536.9 873.3,536.6 873.4,538.8 873.5,540.0 873.6,539.7 873.7,538.4 873.8,538.3 873.9,538.2 874.0,540.6 874.1,538.4 874.2,539.0 874.2,537.3 874.3,539.7 874.4,538.6 874.5,538.5 874.6,538.5 874.7,538.7 874.8,541.9 874.9,539.6 875.0,539.7 875.1,538.1 875.2,537.4 875.3,536.6 875.4,538.4 875.5,539.2 875.6,539.3 875.7,537.4 875.8,539.8 875.9,538.5 875.9,540.4 876.0,538.9 876.1,539.2 876.2,538.4 876.3,538.4 876.4,539.2 876.5,539.8 876.6,540.0 876.7,538.4 876.8,537.9 876.9,539.7 877.0,540.7 877.1,538.7 877.2,538.8 877.3,538.8 877.4,539.6 877.5,540.3 877.6,538.3 877.6,539.8 877.7,540.9 877.8,539.9 877.9,538.5 878.0,537.7 878.1,539.4 878.2,540.8 878.3,540.2 878.4,540.9 878.5,539.0 878.6,539.5 878.7,538.5 878.8,540.0 878.9,539.2 879.0,538.6 879.1,539.0 879.2,540.1 879.3,540.4 879.3,540.3 879.4,542.0 879.5,540.3 879.6,538.5 879.7,540.7 879.8,538.6 879.9,538.4 880.0,540.3 880.1,538.9 880.2,539.5 880.3,539.0 880.4,539.3 880.5,537.7 880.6,540.5 880.7,540.8 880.8,539.3 880.9,540.8 880.9,540.4 881.0,540.8 881.1,541.0 881.2,538.2 881.3,540.3 881.4,539.3 881.5,540.2 881.6,539.2 881.7,541.6 881.8,541.1 881.9,539.4 882.0,539.8 882.1,539.6 882.2,539.6 882.3,540.3 882.4,538.3 882.5,537.8 882.6,540.4 882.6,539.6 882.7,538.7 882.8,538.5 882.9,537.7 883.0,538.9 883.1,537.4 883.2,539.3 883.3,539.4 883.4,538.5 883.5,540.2 883.6,539.9 883.7,539.3 883.8,538.4 883.9,538.5 884.0,538.2 884.1,537.2 884.2,539.2 884.3,539.9 884.3,537.6 884.4,539.6 884.5,539.0 884.6,539.4 884.7,540.0 884.8,540.2 884.9,538.6 885.0,540.1 885.1,538.9 885.2,536.8 885.3,541.4 885.4,539.5 885.5,539.1 885.6,540.8 885.7,539.9 885.8,539.0 885.9,539.7 886.0,539.9 886.0,539.4 886.1,537.2 886.2,539.8 886.3,538.7 886.4,538.6 886.5,539.7 886.6,541.8 886.7,538.5 886.8,540.0 886.9,538.3 887.0,538.2 887.1,539.4 887.2,540.7 887.3,540.1 887.4,540.1 887.5,541.1 887.6,540.4 887.7,539.3 887.7,539.0 887.8,539.7 887.9,540.3 888.0,539.7 888.1,539.8 888.2,539.5 888.3,539.3 888.4,538.9 888.5,539.3 888.6,541.8 888.7,541.1 888.8,541.4 888.9,540.2 889.0,540.0 889.1,540.9 889.2,539.8 889.3,541.3 889.3,540.3 889.4,541.0 889.5,539.5 889.6,542.0 889.7,540.4 889.8,540.9 889.9,539.5 890.0,539.6 890.1,540.9 890.2,538.7 890.3,541.4 890.4,539.7 890.5,541.2 890.6,539.6 890.7,540.2 890.8,540.3 890.9,541.1 891.0,539.4 891.0,540.7 891.1,540.5 891.2,540.9 891.3,539.4 891.4,540.2 891.5,539.5 891.6,539.8 891.7,541.2 891.8,541.3 891.9,539.3 892.0,540.0 892.1,540.1 892.2,539.2 892.3,539.7 892.4,539.1 892.5,540.6 892.6,539.2 892.7,541.3 892.7,538.2 892.8,540.5 892.9,540.5 893.0,539.4 893.1,538.4 893.2,540.1 893.3,538.8 893.4,540.9 893.5,540.0 893.6,539.8 893.7,539.9 893.8,540.5 893.9,539.8 894.0,540.3 894.1,540.1 894.2,539.3 894.3,540.7 894.4,541.2 894.4,540.7 894.5,539.8 894.6,540.3 894.7,538.8 894.8,539.0 894.9,538.9 895.0,539.2 895.1,540.5 895.2,539.0 895.3,539.2 895.4,538.4 895.5,539.1 895.6,538.3 895.7,540.5 895.8,539.6 895.9,540.6 896.0,541.0 896.0,540.2 896.1,540.1 896.2,539.9 896.3,539.4 896.4,538.0 896.5,540.0 896.6,539.3 896.7,539.0 896.8,539.4 896.9,539.9 897.0,540.5 897.1,539.1 897.2,538.9 897.3,540.9 897.4,540.5 897.5,540.7 897.6,539.8 897.7,538.9 897.7,541.2 897.8,541.2 897.9,539.6 898.0,540.5 898.1,541.1 898.2,542.3 898.3,541.2 898.4,540.7 898.5,540.1 898.6,539.9 898.7,540.2 898.8,539.7 898.9,540.8 899.0,540.4 899.1,540.1 899.2,539.5 899.3,540.4 899.4,540.1 899.4,540.7 899.5,539.6 899.6,540.9 899.7,540.3 899.8,541.9 899.9,539.7 900.0,542.0 900.1,542.8 900.2,540.4 900.3,542.1 900.4,541.3 900.5,539.4 900.6,540.0 900.7,541.3 900.8,540.7 900.9,541.2 901.0,540.8 901.1,541.7 901.1,540.3 901.2,539.7 901.3,540.0 901.4,540.5 901.5,539.8 901.6,540.5 901.7,540.4 901.8,540.3 901.9,540.6 902.0,540.3 902.1,541.4 902.2,540.7 902.3,541.2 902.4,539.5 902.5,540.7 902.6,540.3 902.7,539.1 902.8,542.3 902.8,539.6 902.9,541.3 903.0,541.3 903.1,541.6 903.2,540.3 903.3,538.7 903.4,541.2 903.5,540.6 903.6,541.2 134.5,395.2 129.8,534.0 130.3,530.0 130.8,527.0 131.5,531.0 132.3,525.0 133.0,536.0" fill="none" stroke="none" marker-start="url(#mx)" marker-mid="url(#mx)" marker-end="url(#mx)"/>
<polyline points="129.5,498.5 129.5,496.5 129.5,514.5 130.5,480.5 130.5,526.5 130.5,477.5 130.5,488.5 130.5,493.5 130.5,524.5 130.5,518.5 130.5,506.5 130.5,504.5 130.5,526.5 131.5,520.5 131.5,519.5 131.5,496.5 131.5,515.5 131.5,481.5 131.5,523.5 131.5,506.5 131.5,508.5 131.5,518.5 131.5,513.5 131.5,475.5 132.5,518.5 132.5,509.5 132.5,518.5 132.5,513.5 132.5,525.5 132.5,476.5 132.5,492.5 132.5,523.5 132.5,518.5 132.5,526.5 133.5,517.5 133.5,523.5 133.5,480.5 133.5,525.5 133.5,525.5 133.5,526.5 133.5,479.5 133.5,527.5 133.5,501.5 133.5,479.5 133.5,475.5 134.5,520.5 134.5,480.5 134.5,493.5 134.5,498.5 134.5,487.5 134.5,522.5 134.5,481.5 134.5,522.5 134.5,503.5 134.5,525.5 134.5,480.5 135.5,518.5 135.5,504.5 135.5,499.5 135.5,527.5 135.5,507.5 135.5,526.5 135.5,506.5 135.5,480.5 135.5,515.5 135.5,524.5 136.5,518.5 136.5,493.5 136.5,480.5 136.5,496.5 136.5,529.5 136.5,484.5 136.5,506.5 136.5,519.5 136.5,487.5 136.5,510.5 136.5,524.5 137.5,509.5 137.5,518.5 137.5,515.5 137.5,509.5 137.5,501.5 137.5,506.5 137.5,494.5 137.5,527.5 137.5,496.5 137.5,515.5 138.5,524.5 138.5,510.5 138.5,515.5 138.5,527.5 138.5,500.5 138.5,525.5 138.5,490.5 138.5,523.5 138.5,518.5 138.5,513.5 138.5,505.5 139.5,496.5 139.5,524.5 139.5,511.5 139.5,507.5 139.5,484.5 139.5,511.5 139.5,478.5 139.5,521.5 139.5,487.5 139.5,524.5 139.5,520.5 140.5,493.5 140.5,521.5 140.5,496.5 140.5,504.5 140.5,483.5 140.5,516.5 140.5,524.5 140.5,511.5 140.5,494.5 140.5,498.5 141.5,503.5 141.5,502.5 141.5,501.5 141.5,527.5 141.5,516.5 141.5,525.5 141.5,520.5 141.5,499.5 141.5,488.5 141.5,520.5 141.5,502.5 142.5,521.5 142.5,527.5 142.5,518.5 142.5,524.5 142.5,527.5 142.5,484.5 142.5,493.5 142.5,518.5 142.5,503.5 142.5,521.5 143.5,501.5 143.5,502.5 143.5,523.5 143.5,511.5 143.5,514.5 143.5,526.5 143.5,514.5 143.5,515.5 143.5,512.5 143.5,499.5 143.5,518.5 144.5,512.5 144.5,516.5 144.5,503.5 144.5,494.5 144.5,504.5 144.5,490.5 144.5,521.5 144.5,504.5 144.5,517.5 144.5,515.5 144.5,512.5 145.5,524.5 145.5,518.5 145.5,495.5 145.5,513.5 145.5,513.5 145.5,516.5 145.5,516.5 145.5,505.5 145.5,515.5 145.5,526.5 146.5,526.5 146.5,525.5 146.5,516.5 146.5,516.5 146.5,511.5 146.5,524.5 146.5,524.5 146.5,505.5 146.5,511.5 146.5,519.5 146.5,527.5 147.5,519.5 147.5,503.5 147.5,526.5 147.5,502.5 147.5,495.5 147.5,487.5 147.5,524.5 147.5,514.5 147.5,494.5 147.5,519.5 148.5,526.5 148.5,490.5 148.5,520.5 148.5,493.5 148.5,492.5 148.5,527.5 148.5,495.5 148.5,517.5 148.5,524.5 148.5,519.5 148.5,507.5 149.5,517.5 149.5,509.5 149.5,516.5 149.5,498.5 149.5,524.5 149.5,525.5 149.5,512.5 149.5,524.5 149.5,507.5 149.5,510.5 149.5,511.5 150.5,496.5 150.5,513.5 150.5,506.5 150.5,523.5 150.5,518.5 150.5,505.5 150.5,504.5 150.5,499.5 150.5,509.5 150.5,510.5 151.5,521.5 151.5,516.5 151.5,523.5 151.5,518.5 151.5,514.5 151.5,524.5 151.5,524.5 151.5,527.5 151.5,496.5 151.5,500.5 151.5,524.5 152.5,518.5 152.5,517.5 152.5,515.5 152.5,519.5 152.5,519.5 152.5,516.5 152.5,527.5 152.5,521.5 152.5,507.5 152.5,520.5 153.5,523.5 153.5,510.5 153.5,523.5 153.5,516.5 153.5,500.5 153.5,521.5 153.5,513.5 153.5,502.5 153.5,492.5 153.5,524.5 153.5,505.5 154.5,524.5 154.5,524.5 154.5,524.5 154.5,526.5 154.5,509.5 154.5,500.5 154.5,522.5 154.5,514.5 154.5,504.5 154.5,502.5 154.5,510.5 155.5,526.5 155.5,523.5 155.5,509.5 155.5,509.5 155.5,496.5 155.5,503.5 155.5,511.5 155.5,528.5 155.5,509.5 155.5,505.5 156.5,510.5 156.5,523.5 156.5,509.5 156.5,511.5 156.5,498.5 156.5,524.5 156.5,498.5 156.5,509.5 156.5,523.5 156.5,516.5 156.5,512.5 157.5,518.5 157.5,520.5 157.5,520.5 157.5,527.5 157.5,520.5 157.5,498.5 157.5,509.5 157.5,526.5 157.5,502.5 157.5,523.5 158.5,526.5 158.5,503.5 158.5,510.5 158.5,523.5 158.5,526.5 158.5,523.5 158.5,507.5 158.5,523.5 158.5,518.5 158.5,525.5 158.5,505.5 159.5,527.5 159.5,506.5 159.5,511.5 159.5,527.5 159.5,515.5 159.5,525.5 159.5,513.5 159.5,521.5 159.5,527.5 159.5,521.5 160.5,511.5 160.5,526.5 160.5,524.5 160.5,506.5 160.5,525.5 160.5,505.5 160.5,512.5 160.5,524.5 160.5,506.5 160.5,515.5 160.5,514.5 161.5,525.5 161.5,525.5 161.5,520.5 161.5,511.5 161.5,525.5 161.5,523.5 161.5,523.5 161.5,524.5 161.5,521.5 161.5,521.5 161.5,515.5 162.5,513.5 162.5,511.5 162.5,525.5 162.5,518.5 162.5,514.5 162.5,516.5 162.5,525.5 162.5,525.5 162.5,509.5 162.5,513.5 170.5,451.5 170.5,474.5 170.5,473.5 170.5,471.5 170.5,461.5 170.5,480.5 170.5,449.5 170.5,471.5 170.5,459.5 170.5,464.5 170.5,473.5 171.5,472.5 171.5,461.5 171.5,466.5 171.5,472.5 171.5,458.5 171.5,470.5 171.5,459.5 171.5,470.5 171.5,465.5 171.5,471.5 171.5,464.5 172.5,465.5 172.5,465.5 172.5,462.5 172.5,465.5 172.5,461.5 172.5,482.5 172.5,470.5 172.5,465.5 172.5,471.5 172.5,470.5 173.5,470.5 173.5,461.5 173.5,468.5 173.5,473.5 173.5,471.5 173.5,447.5 173.5,474.5 173.5,459.5 173.5,469.5 173.5,469.5 173.5,465.5 174.5,460.5 174.5,467.5 174.5,466.5 174.5,476.5 174.5,473.5 174.5,464.5 174.5,461.5 174.5,462.5 174.5,466.5 174.5,463.5 175.5,476.5 175.5,461.5 175.5,466.5 175.5,467.5 175.5,469.5 175.5,462.5 175.5,465.5 175.5,467.5 175.5,468.5 175.5,464.5 175.5,465.5 176.5,468.5 176.5,476.5 176.5,461.5 176.5,470.5 176.5,474.5 176.5,460.5 176.5,474.5 176.5,474.5 176.5,467.5 176.5,472.5 176.5,474.5 177.5,466.5 177.5,468.5 177.5,462.5 177.5,464.5 177.5,467.5 177.5,467.5 177.5,475.5 177.5,466.5 177.5,461.5 177.5,471.5 178.5,472.5 178.5,469.5 178.5,466.5 178.5,463.5 178.5,464.5 178.5,474.5 178.5,471.5 178.5,468.5 178.5,446.5 178.5,465.5 178.5,462.5 179.5,465.5 179.5,467.5 179.5,459.5 179.5,460.5 179.5,458.5 179.5,465.5 179.5,470.5 179.5,460.5 179.5,461.5 179.5,459.5 180.5,464.5 180.5,461.5 180.5,462.5 180.5,461.5 180.5,477.5 180.5,466.5 180.5,463.5 180.5,464.5 180.5,471.5 180.5,471.5 180.5,468.5 181.5,457.5 181.5,471.5 181.5,472.5 181.5,470.5 181.5,469.5 181.5,467.5 181.5,473.5 181.5,465.5 181.5,472.5 181.5,464.5 181.5,465.5 182.5,465.5 182.5,464.5 182.5,464.5 182.5,471.5 182.5,475.5 182.5,463.5 182.5,462.5 182.5,473.5 182.5,465.5 182.5,468.5 183.5,468.5 183.5,471.5 183.5,463.5 183.5,473.5 183.5,471.5 183.5,456.5 183.5,466.5 183.5,465.5 183.5,469.5 183.5,467.5 183.5,463.5 184.5,465.5 184.5,469.5 184.5,467.5 184.5,466.5 184.5,478.5 184.5,482.5 184.5,462.5 184.5,468.5 184.5,469.5 184.5,462.5 185.5,468.5 185.5,463.5 185.5,456.5 185.5,469.5 185.5,470.5 185.5,470.5 185.5,466.5 185.5,464.5 185.5,468.5 185.5,469.5 185.5,471.5 186.5,473.5 186.5,471.5 186.5,464.5 186.5,467.5 186.5,460.5 186.5,470.5 186.5,470.5 186.5,473.5 186.5,469.5 186.5,449.5 186.5,463.5 187.5,468.5 187.5,466.5 187.5,466.5 187.5,458.5 187.5,463.5 187.5,457.5 187.5,465.5 187.5,463.5 187.5,480.5 187.5,458.5 188.5,464.5 188.5,466.5 188.5,483.5 188.5,475.5 188.5,469.5 188.5,463.5 188.5,476.5 188.5,473.5 188.5,455.5 188.5,465.5 188.5,448.5 189.5,467.5 189.5,462.5 189.5,465.5 189.5,467.5 189.5,455.5 189.5,467.5 189.5,474.5 189.5,467.5 189.5,472.5 189.5,475.5 190.5,468.5 190.5,469.5 190.5,469.5 190.5,465.5 190.5,478.5 190.5,469.5 190.5,483.5 190.5,472.5 190.5,454.5 190.5,461.5 190.5,462.5 191.5,456.5 191.5,470.5 191.5,461.5 191.5,461.5 191.5,471.5 191.5,471.5 191.5,466.5 191.5,466.5 191.5,464.5 191.5,462.5 191.5,463.5 192.5,468.5 192.5,466.5 192.5,472.5 192.5,461.5 192.5,459.5 192.5,470.5 192.5,463.5 192.5,466.5 192.5,467.5 192.5,461.5 193.5,460.5 193.5,469.5 193.5,454.5 193.5,470.5 193.5,459.5 193.5,471.5 193.5,469.5 193.5,468.5 193.5,470.5 193.5,468.5 193.5,460.5 194.5,471.5 194.5,468.5 194.5,469.5 194.5,455.5 194.5,481.5 194.5,472.5 194.5,472.5 194.5,468.5 194.5,461.5 194.5,463.5 195.5,462.5 195.5,473.5 195.5,470.5 195.5,455.5 195.5,466.5 195.5,464.5 195.5,471.5 195.5,462.5 195.5,463.5 195.5,471.5 195.5,470.5 196.5,467.5 196.5,461.5 196.5,461.5 196.5,472.5 196.5,469.5 196.5,475.5 196.5,465.5 196.5,467.5 196.5,463.5 196.5,476.5 196.5,459.5 197.5,471.5 197.5,476.5 197.5,463.5 197.5,461.5 197.5,463.5 197.5,461.5 197.5,470.5 197.5,468.5 197.5,464.5 197.5,467.5 198.5,475.5 198.5,467.5 198.5,466.5 198.5,478.5 198.5,464.5 198.5,466.5 198.5,475.5 198.5,468.5 198.5,459.5 198.5,464.5 198.5,457.5 199.5,465.5 199.5,470.5 199.5,448.5 199.5,476.5 199.5,475.5 199.5,481.5 199.5,465.5 199.5,468.5 199.5,471.5 199.5,473.5 200.5,475.5 200.5,458.5 200.5,465.5 200.5,463.5 200.5,448.5 200.5,469.5 200.5,480.5 200.5,456.5 200.5,473.5 200.5,469.5 200.5,468.5 201.5,477.5 201.5,463.5 201.5,472.5 201.5,479.5 201.5,484.5 201.5,466.5 201.5,464.5 201.5,462.5 201.5,466.5 201.5,468.5 201.5,469.5 202.5,474.5 202.5,467.5 202.5,470.5 202.5,460.5 202.5,465.5 202.5,468.5 202.5,457.5 202.5,469.5 202.5,473.5 202.5,469.5 203.5,469.5 203.5,468.5 203.5,462.5 203.5,468.5 203.5,465.5 203.5,469.5 203.5,468.5 203.5,469.5 203.5,462.5 203.5,468.5 203.5,477.5 204.5,483.5 204.5,467.5 204.5,464.5 204.5,473.5 204.5,468.5 204.5,459.5 204.5,466.5 204.5,476.5 204.5,460.5 204.5,468.5 205.5,464.5 205.5,487.5 205.5,466.5 205.5,464.5 205.5,455.5 205.5,467.5 205.5,468.5 205.5,467.5 205.5,463.5 205.5,465.5 205.5,479.5 206.5,462.5 206.5,466.5 206.5,462.5 206.5,467.5 206.5,449.5 206.5,474.5 206.5,469.5 206.5,468.5 206.5,470.5 206.5,471.5 207.5,468.5 207.5,468.5 207.5,474.5 207.5,465.5 207.5,468.5 207.5,464.5 207.5,466.5 207.5,476.5 207.5,465.5 207.5,471.5 207.5,479.5 208.5,471.5 208.5,468.5 208.5,465.5 208.5,456.5 208.5,464.5 208.5,464.5 208.5,473.5 208.5,472.5 208.5,462.5 208.5,472.5 208.5,465.5 209.5,478.5 209.5,481.5 209.5,472.5 209.5,467.5 209.5,477.5 209.5,473.5 209.5,474.5 209.5,471.5 209.5,481.5 209.5,473.5 210.5,465.5 210.5,473.5 210.5,470.5 210.5,461.5 210.5,471.5 210.5,468.5 210.5,467.5 210.5,468.5 210.5,473.5 210.5,463.5 210.5,463.5 211.5,472.5 211.5,469.5 211.5,460.5 211.5,469.5 211.5,485.5 211.5,456.5 211.5,470.5 211.5,471.5 211.5,461.5 211.5,464.5 212.5,472.5 212.5,461.5 212.5,471.5 212.5,467.5 212.5,469.5 212.5,464.5 212.5,471.5 212.5,470.5 212.5,472.5 212.5,480.5 212.5,467.5 213.5,468.5 213.5,463.5 213.5,477.5 213.5,466.5 213.5,472.5 213.5,462.5 213.5,467.5 213.5,471.5 213.5,484.5 213.5,467.5 213.5,472.5 214.5,469.5 214.5,473.5 214.5,481.5 214.5,471.5 214.5,466.5 214.5,474.5 214.5,468.5 214.5,468.5 214.5,465.5 214.5,456.5 215.5,469.5 215.5,467.5 215.5,484.5 215.5,465.5 215.5,473.5 215.5,476.5 215.5,460.5 215.5,473.5 215.5,471.5 215.5,469.5 215.5,470.5 216.5,462.5 216.5,471.5 216.5,470.5 216.5,461.5 216.5,468.5 216.5,463.5 216.5,469.5 216.5,464.5 216.5,452.5 216.5,462.5 217.5,466.5 217.5,467.5 217.5,468.5 217.5,474.5 217.5,479.5 217.5,461.5 217.5,473.5 217.5,467.5 217.5,467.5 217.5,467.5 217.5,468.5 218.5,469.5 218.5,473.5 218.5,457.5 218.5,471.5 218.5,469.5 218.5,472.5 218.5,471.5 218.5,478.5 218.5,465.5 218.5,462.5 218.5,468.5 219.5,471.5 219.5,468.5 219.5,470.5 219.5,456.5 219.5,465.5 219.5,466.5 219.5,462.5 219.5,466.5 219.5,468.5 219.5,471.5 220.5,464.5 220.5,461.5 220.5,471.5 220.5,478.5 220.5,470.5 220.5,469.5 220.5,464.5 220.5,470.5 220.5,477.5 220.5,459.5 220.5,474.5 221.5,459.5 221.5,476.5 221.5,473.5 221.5,468.5 221.5,470.5 221.5,477.5 221.5,464.5 221.5,475.5 221.5,472.5 221.5,482.5 222.5,476.5 222.5,461.5 222.5,469.5 222.5,463.5 222.5,469.5 222.5,472.5 222.5,461.5 222.5,471.5 222.5,471.5 222.5,466.5 222.5,469.5 223.5,474.5 223.5,471.5 223.5,477.5 223.5,464.5 223.5,463.5 223.5,475.5 223.5,462.5 223.5,475.5 223.5,469.5 223.5,472.5 223.5,467.5 224.5,446.5 224.5,475.5 224.5,475.5 224.5,471.5 224.5,462.5 224.5,473.5 224.5,469.5 224.5,475.5 224.5,461.5 224.5,471.5 225.5,467.5 225.5,469.5 225.5,473.5 225.5,473.5 225.5,476.5 225.5,458.5 225.5,472.5 225.5,471.5 225.5,464.5 225.5,474.5 225.5,465.5 226.5,467.5 226.5,471.5 226.5,466.5 226.5,467.5 226.5,457.5 226.5,465.5 226.5,464.5 226.5,466.5 226.5,472.5 226.5,468.5 227.5,469.5 227.5,470.5 227.5,475.5 227.5,475.5 227.5,472.5 227.5,469.5 227.5,474.5 227.5,469.5 227.5,469.5 227.5,472.5 227.5,468.5 228.5,465.5 228.5,464.5 228.5,469.5 228.5,471.5 228.5,473.5 228.5,447.5 228.5,471.5 228.5,485.5 228.5,487.5 228.5,482.5 228.5,467.5 229.5,466.5 229.5,471.5 229.5,478.5 229.5,469.5 229.5,477.5 229.5,465.5 229.5,468.5 229.5,469.5 229.5,469.5 229.5,470.5 230.5,470.5 230.5,469.5 230.5,465.5 230.5,472.5 230.5,470.5 230.5,471.5 230.5,476.5 230.5,473.5 230.5,471.5 230.5,477.5 230.5,468.5 231.5,447.5 231.5,467.5 231.5,464.5 231.5,469.5 231.5,469.5 231.5,470.5 231.5,471.5 231.5,473.5 231.5,472.5 231.5,471.5 232.5,469.5 232.5,468.5 232.5,470.5 232.5,469.5 232.5,465.5 232.5,468.5 232.5,473.5 232.5,470.5 232.5,466.5 232.5,471.5 232.5,449.5 233.5,465.5 233.5,478.5 233.5,475.5 233.5,469.5 233.5,475.5 233.5,471.5 233.5,473.5 233.5,466.5 233.5,468.5 233.5,469.5 233.5,470.5 234.5,468.5 234.5,463.5 234.5,465.5 234.5,472.5 234.5,469.5 234.5,478.5 234.5,477.5 234.5,469.5 234.5,471.5 234.5,462.5 235.5,474.5 235.5,475.5 235.5,467.5 235.5,467.5 235.5,483.5 235.5,474.5 235.5,475.5 235.5,466.5 235.5,469.5 235.5,473.5 235.5,471.5 236.5,469.5 236.5,473.5 236.5,466.5 236.5,464.5 236.5,473.5 236.5,474.5 236.5,476.5 236.5,469.5 236.5,467.5 236.5,471.5 237.5,470.5 237.5,471.5 237.5,470.5 237.5,477.5 237.5,472.5 237.5,477.5 237.5,467.5 237.5,466.5 237.5,475.5 237.5,465.5 237.5,465.5 238.5,465.5 238.5,462.5 238.5,473.5 238.5,478.5 238.5,473.5 238.5,474.5 238.5,469.5 238.5,466.5 238.5,473.5 238.5,465.5 238.5,464.5 239.5,467.5 239.5,476.5 239.5,472.5 239.5,470.5 239.5,459.5 239.5,466.5 239.5,472.5 239.5,470.5 239.5,467.5 239.5,476.5 240.5,468.5 240.5,463.5 240.5,470.5 240.5,476.5 240.5,474.5 240.5,475.5 240.5,467.5 240.5,473.5 240.5,471.5 240.5,470.5 240.5,465.5 241.5,476.5 241.5,471.5 241.5,468.5 241.5,474.5 241.5,482.5 241.5,464.5 241.5,472.5 241.5,479.5 241.5,479.5 241.5,466.5 242.5,468.5 242.5,461.5 242.5,470.5 242.5,463.5 242.5,465.5 242.5,477.5 242.5,465.5 242.5,462.5 242.5,471.5 242.5,471.5 242.5,472.5 243.5,476.5 243.5,467.5 243.5,470.5 243.5,474.5 243.5,469.5 243.5,477.5 243.5,475.5 243.5,471.5 243.5,470.5 243.5,471.5 243.5,472.5 244.5,462.5 244.5,465.5 244.5,467.5 244.5,467.5 244.5,468.5 244.5,468.5 244.5,471.5 244.5,469.5 244.5,472.5 244.5,472.5 245.5,470.5 245.5,469.5 245.5,467.5 245.5,474.5 245.5,469.5 245.5,472.5 245.5,475.5 245.5,484.5 245.5,463.5 245.5,467.5 245.5,481.5 246.5,463.5 246.5,477.5 246.5,466.5 246.5,472.5 246.5,476.5 246.5,466.5 246.5,476.5 246.5,450.5 246.5,487.5 246.5,468.5 247.5,474.5 247.5,489.5 247.5,478.5 247.5,477.5 247.5,470.5 247.5,447.5 247.5,474.5 247.5,469.5 247.5,461.5 247.5,460.5 247.5,470.5 248.5,470.5 248.5,472.5 248.5,473.5 248.5,458.5 248.5,473.5 248.5,466.5 248.5,474.5 248.5,472.5 248.5,480.5 248.5,474.5 248.5,452.5 249.5,470.5 249.5,472.5 249.5,475.5 249.5,476.5 249.5,467.5 249.5,466.5 249.5,476.5 249.5,472.5 249.5,478.5 249.5,475.5 250.5,482.5 250.5,476.5 250.5,465.5 250.5,470.5 250.5,475.5 250.5,466.5 250.5,472.5 250.5,476.5 250.5,478.5 250.5,477.5 250.5,463.5 251.5,479.5 251.5,467.5 251.5,472.5 251.5,467.5 251.5,488.5 251.5,472.5 251.5,473.5 251.5,475.5 251.5,472.5 251.5,469.5 252.5,480.5 252.5,459.5 252.5,477.5 252.5,463.5 252.5,461.5 252.5,482.5 252.5,476.5 252.5,463.5 252.5,475.5 252.5,473.5 252.5,467.5 253.5,470.5 253.5,483.5 253.5,469.5 253.5,475.5 253.5,468.5 253.5,464.5 253.5,486.5 253.5,477.5 253.5,470.5 253.5,471.5 254.5,472.5 254.5,467.5 254.5,476.5 254.5,490.5 254.5,471.5 254.5,473.5 254.5,466.5 254.5,475.5 254.5,463.5 254.5,473.5 254.5,482.5 255.5,472.5 255.5,489.5 255.5,468.5 255.5,472.5 255.5,474.5 255.5,479.5 255.5,481.5 255.5,475.5 255.5,466.5 255.5,482.5 255.5,478.5 256.5,478.5 256.5,465.5 256.5,477.5 256.5,473.5 256.5,479.5 256.5,484.5 256.5,469.5 256.5,474.5 256.5,474.5 256.5,470.5 257.5,477.5 257.5,492.5 257.5,469.5 257.5,469.5 257.5,475.5 257.5,464.5 257.5,476.5 257.5,457.5 257.5,479.5 257.5,469.5 257.5,484.5 258.5,485.5 258.5,468.5 258.5,484.5 258.5,481.5 258.5,479.5 258.5,470.5 258.5,480.5 258.5,469.5 258.5,475.5 258.5,461.5 259.5,477.5 259.5,473.5 259.5,477.5 259.5,474.5 259.5,476.5 259.5,471.5 259.5,469.5 259.5,472.5 259.5,469.5 259.5,481.5 259.5,489.5 260.5,479.5 260.5,481.5 260.5,470.5 260.5,474.5 260.5,469.5 260.5,479.5 260.5,476.5 260.5,470.5 260.5,483.5 260.5,475.5 260.5,479.5 261.5,480.5 261.5,455.5 261.5,482.5 261.5,475.5 261.5,474.5 261.5,472.5 261.5,470.5 261.5,484.5 261.5,472.5 261.5,482.5 262.5,470.5 262.5,453.5 262.5,480.5 262.5,474.5 262.5,470.5 262.5,483.5 262.5,468.5 262.5,470.5 262.5,478.5 262.5,482.5 262.5,474.5 263.5,470.5 263.5,486.5 263.5,474.5 263.5,471.5 263.5,475.5 263.5,460.5 263.5,459.5 263.5,469.5 263.5,478.5 263.5,477.5 264.5,474.5 264.5,491.5 264.5,477.5 264.5,480.5 264.5,471.5 264.5,472.5 264.5,478.5 264.5,472.5 264.5,467.5 264.5,473.5 264.5,468.5 265.5,477.5 265.5,479.5 265.5,471.5 265.5,474.5 265.5,476.5 265.5,481.5 265.5,480.5 265.5,476.5 265.5,477.5 265.5,482.5 265.5,478.5 266.5,478.5 266.5,470.5 266.5,476.5 266.5,478.5 266.5,476.5 266.5,470.5 266.5,466.5 266.5,479.5 266.5,479.5 266.5,476.5 267.5,471.5 267.5,473.5 267.5,476.5 267.5,480.5 267.5,476.5 267.5,472.5 267.5,473.5 267.5,470.5 267.5,485.5 267.5,473.5 267.5,463.5 268.5,478.5 268.5,486.5 268.5,471.5 268.5,480.5 268.5,472.5 268.5,472.5 268.5,473.5 268.5,470.5 268.5,455.5 268.5,475.5 269.5,485.5 269.5,474.5 269.5,469.5 269.5,479.5 269.5,483.5 269.5,463.5 269.5,479.5 269.5,469.5 269.5,467.5 269.5,480.5 269.5,484.5 270.5,486.5 270.5,477.5 270.5,460.5 270.5,477.5 270.5,479.5 270.5,481.5 270.5,484.5 270.5,463.5 270.5,480.5 270.5,478.5 270.5,473.5 271.5,451.5 271.5,484.5 271.5,481.5 271.5,466.5 271.5,485.5 271.5,473.5 271.5,489.5 271.5,488.5 271.5,481.5 271.5,487.5 272.5,473.5 272.5,476.5 272.5,459.5 272.5,479.5 272.5,477.5 272.5,478.5 272.5,478.5 272.5,485.5 272.5,477.5 272.5,475.5 272.5,478.5 273.5,480.5 273.5,479.5 273.5,472.5 273.5,475.5 273.5,475.5 273.5,472.5 273.5,469.5 273.5,474.5 273.5,463.5 273.5,475.5 274.5,470.5 274.5,475.5 274.5,476.5 274.5,487.5 274.5,487.5 274.5,488.5 274.5,477.5 274.5,474.5 274.5,481.5 274.5,471.5 274.5,476.5 275.5,473.5 275.5,476.5 275.5,480.5 275.5,471.5 275.5,478.5 275.5,477.5 275.5,477.5 275.5,479.5 275.5,474.5 275.5,476.5 275.5,474.5 276.5,468.5 276.5,484.5 276.5,480.5 276.5,479.5 276.5,472.5 276.5,467.5 276.5,477.5 276.5,471.5 276.5,485.5 276.5,485.5 277.5,473.5 277.5,483.5 277.5,479.5 277.5,475.5 277.5,462.5 277.5,460.5 277.5,480.5 277.5,480.5 277.5,491.5 277.5,476.5 277.5,476.5 278.5,476.5 278.5,473.5 278.5,482.5 278.5,479.5 278.5,474.5 278.5,478.5 278.5,481.5 278.5,478.5 278.5,478.5 278.5,480.5 279.5,472.5 279.5,480.5 279.5,473.5 279.5,477.5 279.5,483.5 279.5,474.5 279.5,482.5 279.5,480.5 279.5,484.5 279.5,469.5 279.5,459.5 280.5,472.5 280.5,488.5 280.5,478.5 280.5,475.5 280.5,477.5 280.5,479.5 280.5,476.5 280.5,489.5 280.5,478.5 280.5,470.5 280.5,470.5 281.5,477.5 281.5,477.5 281.5,482.5 281.5,482.5 281.5,483.5 281.5,472.5 281.5,479.5 281.5,474.5 281.5,478.5 281.5,472.5 282.5,484.5 282.5,464.5 282.5,479.5 282.5,472.5 282.5,483.5 282.5,499.5 282.5,470.5 282.5,481.5 282.5,482.5 282.5,480.5 282.5,468.5 283.5,481.5 283.5,482.5 283.5,474.5 283.5,483.5 283.5,480.5 283.5,482.5 283.5,468.5 283.5,475.5 283.5,479.5 283.5,469.5 284.5,477.5 284.5,486.5 284.5,490.5 284.5,484.5 284.5,481.5 284.5,472.5 284.5,472.5 284.5,472.5 284.5,478.5 284.5,464.5 284.5,480.5 285.5,468.5 285.5,474.5 285.5,474.5 285.5,480.5 285.5,471.5 285.5,472.5 285.5,483.5 285.5,485.5 285.5,476.5 285.5,474.5 285.5,450.5 286.5,477.5 286.5,476.5 286.5,471.5 286.5,464.5 286.5,477.5 286.5,476.5 286.5,482.5 286.5,482.5 286.5,485.5 286.5,474.5 287.5,480.5 287.5,470.5 287.5,478.5 287.5,479.5 287.5,472.5 287.5,476.5 287.5,490.5 287.5,472.5 287.5,482.5 287.5,474.5 287.5,481.5 288.5,463.5 288.5,469.5 288.5,475.5 288.5,486.5 288.5,476.5 288.5,470.5 288.5,474.5 288.5,449.5 288.5,468.5 288.5,477.5 289.5,476.5 289.5,474.5 289.5,479.5 289.5,473.5 289.5,480.5 289.5,480.5 289.5,486.5 289.5,479.5 289.5,477.5 289.5,471.5 289.5,474.5 290.5,470.5 290.5,484.5 290.5,464.5 290.5,479.5 290.5,480.5 290.5,481.5 290.5,451.5 290.5,489.5 290.5,475.5 290.5,468.5 290.5,473.5 291.5,473.5 291.5,484.5 291.5,477.5 291.5,472.5 291.5,491.5 291.5,476.5 291.5,474.5 291.5,476.5 291.5,482.5 291.5,469.5 292.5,473.5 292.5,478.5 292.5,469.5 292.5,480.5 292.5,485.5 292.5,478.5 292.5,482.5 292.5,475.5 292.5,477.5 292.5,479.5 292.5,477.5 293.5,491.5 293.5,475.5 293.5,482.5 293.5,475.5 293.5,486.5 293.5,485.5 293.5,479.5 293.5,455.5 293.5,472.5 293.5,463.5 294.5,482.5 294.5,474.5 294.5,473.5 294.5,477.5 294.5,493.5 294.5,451.5 294.5,478.5 294.5,482.5 294.5,489.5 294.5,472.5 294.5,482.5 295.5,474.5 295.5,471.5 295.5,479.5 295.5,477.5 295.5,469.5 295.5,477.5 295.5,488.5 295.5,473.5 295.5,473.5 295.5,484.5 295.5,479.5 296.5,473.5 296.5,480.5 296.5,475.5 296.5,473.5 296.5,446.5 296.5,473.5 296.5,482.5 296.5,487.5 296.5,474.5 296.5,474.5 297.5,474.5 297.5,478.5 297.5,473.5 297.5,478.5 297.5,482.5 297.5,472.5 297.5,479.5 297.5,484.5 297.5,483.5 297.5,473.5 297.5,485.5 298.5,473.5 298.5,484.5 298.5,469.5 298.5,481.5 298.5,476.5 298.5,476.5 298.5,459.5 298.5,473.5 298.5,480.5 298.5,479.5 299.5,482.5 299.5,473.5 299.5,482.5 299.5,454.5 299.5,473.5 299.5,485.5 299.5,486.5 299.5,471.5 299.5,473.5 299.5,446.5 299.5,480.5 300.5,477.5 300.5,473.5 300.5,482.5 300.5,452.5 300.5,480.5 300.5,479.5 300.5,481.5 300.5,482.5 300.5,476.5 300.5,481.5 301.5,481.5 301.5,477.5 301.5,474.5 301.5,479.5 301.5,487.5 301.5,477.5 301.5,475.5 301.5,480.5 301.5,475.5 301.5,479.5 301.5,478.5 302.5,475.5 302.5,480.5 302.5,453.5 302.5,474.5 302.5,469.5 302.5,474.5 302.5,479.5 302.5,485.5 302.5,495.5 302.5,477.5 302.5,476.5 303.5,489.5 303.5,459.5 303.5,483.5 303.5,480.5 303.5,487.5 303.5,477.5 303.5,479.5 303.5,468.5 303.5,474.5 303.5,477.5 304.5,475.5 304.5,474.5 304.5,483.5 304.5,469.5 304.5,468.5 304.5,469.5 304.5,473.5 304.5,472.5 304.5,475.5 304.5,473.5 304.5,487.5 305.5,473.5 305.5,476.5 305.5,480.5 305.5,490.5 305.5,476.5 305.5,474.5 305.5,483.5 305.5,475.5 305.5,468.5 305.5,468.5 306.5,474.5 306.5,469.5 306.5,483.5 306.5,479.5 306.5,487.5 306.5,478.5 306.5,475.5 306.5,481.5 306.5,481.5 306.5,472.5 306.5,487.5 307.5,478.5 307.5,482.5 307.5,474.5 307.5,483.5 307.5,457.5 307.5,477.5 307.5,472.5 307.5,478.5 307.5,478.5 307.5,481.5 307.5,469.5 308.5,483.5 308.5,479.5 308.5,476.5 308.5,471.5 308.5,479.5 308.5,460.5 308.5,460.5 308.5,480.5 308.5,478.5 308.5,479.5 309.5,470.5 309.5,486.5 309.5,483.5 309.5,476.5 309.5,478.5 309.5,470.5 309.5,473.5 309.5,480.5 309.5,473.5 309.5,471.5 309.5,475.5 310.5,460.5 310.5,476.5 310.5,484.5 310.5,484.5 310.5,457.5 310.5,484.5 310.5,481.5 310.5,503.5 310.5,486.5 310.5,476.5 311.5,487.5 311.5,474.5 311.5,480.5 311.5,482.5 311.5,471.5 311.5,484.5 311.5,487.5 311.5,475.5 311.5,480.5 311.5,485.5 311.5,485.5 312.5,486.5 312.5,503.5 312.5,480.5 312.5,487.5 312.5,473.5 312.5,474.5 312.5,480.5 312.5,480.5 312.5,473.5 312.5,476.5 312.5,480.5 313.5,481.5 313.5,490.5 313.5,486.5 313.5,482.5 313.5,481.5 313.5,485.5 313.5,495.5 313.5,479.5 313.5,477.5 313.5,465.5 314.5,481.5 314.5,475.5 314.5,471.5 314.5,477.5 314.5,477.5 314.5,486.5 314.5,489.5 314.5,479.5 314.5,479.5 314.5,487.5 314.5,481.5 315.5,479.5 315.5,468.5 315.5,466.5 315.5,485.5 315.5,492.5 315.5,474.5 315.5,484.5 315.5,480.5 315.5,498.5 315.5,486.5 316.5,477.5 316.5,480.5 316.5,476.5 316.5,486.5 316.5,494.5 316.5,462.5 316.5,485.5 316.5,478.5 316.5,475.5 316.5,474.5 316.5,475.5 317.5,462.5 317.5,479.5 317.5,483.5 317.5,480.5 317.5,487.5 317.5,484.5 317.5,488.5 317.5,477.5 317.5,474.5 317.5,487.5 317.5,465.5 318.5,470.5 318.5,478.5 318.5,483.5 318.5,487.5 318.5,493.5 318.5,487.5 318.5,482.5 318.5,478.5 318.5,476.5 318.5,477.5 319.5,475.5 319.5,481.5 319.5,486.5 319.5,483.5 319.5,476.5 319.5,484.5 319.5,487.5 319.5,480.5 319.5,480.5 319.5,481.5 319.5,483.5 320.5,470.5 320.5,464.5 320.5,474.5 320.5,481.5 320.5,483.5 320.5,478.5 320.5,486.5 320.5,482.5 320.5,482.5 320.5,481.5 321.5,474.5 321.5,489.5 321.5,482.5 321.5,472.5 321.5,484.5 321.5,485.5 321.5,474.5 321.5,481.5 321.5,489.5 321.5,483.5 321.5,481.5 322.5,481.5 322.5,483.5 322.5,475.5 322.5,478.5 322.5,482.5 322.5,480.5 322.5,487.5 322.5,471.5 322.5,491.5 322.5,478.5 322.5,477.5 323.5,480.5 323.5,486.5 323.5,479.5 323.5,488.5 323.5,487.5 323.5,481.5 323.5,480.5 323.5,480.5 323.5,482.5 323.5,474.5 324.5,488.5 324.5,482.5 324.5,483.5 324.5,478.5 324.5,479.5 324.5,489.5 324.5,473.5 324.5,484.5 324.5,479.5 324.5,475.5 324.5,502.5 325.5,479.5 325.5,486.5 325.5,481.5 325.5,474.5 325.5,483.5 325.5,456.5 325.5,483.5 325.5,482.5 325.5,486.5 325.5,484.5 326.5,483.5 326.5,482.5 326.5,478.5 326.5,475.5 326.5,485.5 326.5,479.5 326.5,482.5 326.5,487.5 326.5,488.5 326.5,488.5 326.5,485.5 327.5,486.5 327.5,486.5 327.5,485.5 327.5,497.5 327.5,463.5 327.5,488.5 327.5,484.5 327.5,465.5 327.5,473.5 327.5,479.5 327.5,494.5 328.5,479.5 328.5,486.5 328.5,489.5 328.5,488.5 328.5,484.5 328.5,483.5 328.5,478.5 328.5,491.5 328.5,484.5 328.5,489.5 329.5,473.5 329.5,475.5 329.5,469.5 329.5,487.5 329.5,482.5 329.5,482.5 329.5,485.5 329.5,484.5 329.5,484.5 329.5,481.5 329.5,479.5 330.5,484.5 330.5,488.5 330.5,481.5 330.5,484.5 330.5,482.5 330.5,486.5 330.5,479.5 330.5,492.5 330.5,491.5 330.5,484.5 331.5,483.5 331.5,476.5 331.5,488.5 331.5,485.5 331.5,485.5 331.5,477.5 331.5,487.5 331.5,492.5 331.5,479.5 331.5,469.5 331.5,489.5 332.5,487.5 332.5,487.5 332.5,498.5 332.5,490.5 332.5,485.5 332.5,472.5 332.5,483.5 332.5,478.5 332.5,479.5 332.5,490.5 332.5,479.5 333.5,483.5 333.5,490.5 333.5,481.5 333.5,482.5 333.5,479.5 333.5,482.5 333.5,477.5 333.5,464.5 333.5,481.5 333.5,469.5 334.5,486.5 334.5,483.5 334.5,463.5 334.5,482.5 334.5,486.5 334.5,487.5 334.5,485.5 334.5,490.5 334.5,470.5 334.5,483.5 334.5,486.5 335.5,477.5 335.5,481.5 335.5,475.5 335.5,485.5 335.5,494.5 335.5,478.5 335.5,480.5 335.5,481.5 335.5,489.5 335.5,485.5 336.5,489.5 336.5,486.5 336.5,487.5 336.5,475.5 336.5,475.5 336.5,489.5 336.5,494.5 336.5,478.5 336.5,479.5 336.5,494.5 336.5,493.5 337.5,479.5 337.5,481.5 337.5,488.5 337.5,485.5 337.5,485.5 337.5,487.5 337.5,479.5 337.5,480.5 337.5,490.5 337.5,476.5 337.5,487.5 338.5,481.5 338.5,489.5 338.5,483.5 338.5,482.5 338.5,488.5 338.5,483.5 338.5,470.5 338.5,473.5 338.5,486.5 338.5,482.5 339.5,488.5 339.5,481.5 339.5,478.5 339.5,489.5 339.5,483.5 339.5,482.5 339.5,477.5 339.5,490.5 339.5,488.5 339.5,479.5 339.5,487.5 340.5,486.5 340.5,489.5 340.5,484.5 340.5,493.5 340.5,475.5 340.5,476.5 340.5,487.5 340.5,488.5 340.5,486.5 340.5,497.5 341.5,486.5 341.5,477.5 341.5,491.5 341.5,485.5 341.5,483.5 341.5,487.5 341.5,487.5 341.5,483.5 341.5,488.5 341.5,486.5 341.5,484.5 342.5,484.5 342.5,475.5 342.5,480.5 342.5,481.5 342.5,482.5 342.5,491.5 342.5,484.5 342.5,482.5 342.5,478.5 342.5,482.5 342.5,479.5 343.5,479.5 343.5,483.5 343.5,476.5 343.5,480.5 343.5,487.5 343.5,483.5 343.5,479.5 343.5,481.5 343.5,463.5 343.5,488.5 344.5,488.5 344.5,472.5 344.5,481.5 344.5,482.5 344.5,486.5 344.5,477.5 344.5,480.5 344.5,487.5 344.5,480.5 344.5,478.5 344.5,484.5 345.5,481.5 345.5,495.5 345.5,483.5 345.5,474.5 345.5,485.5 345.5,483.5 345.5,484.5 345.5,483.5 345.5,485.5 345.5,474.5 346.5,482.5 346.5,489.5 346.5,479.5 346.5,478.5 346.5,479.5 346.5,475.5 346.5,493.5 346.5,480.5 346.5,485.5 346.5,477.5 346.5,457.5 347.5,477.5 347.5,474.5 347.5,479.5 347.5,486.5 347.5,478.5 347.5,486.5 347.5,490.5 347.5,466.5 347.5,487.5 347.5,488.5 348.5,479.5 348.5,480.5 348.5,474.5 348.5,480.5 348.5,488.5 348.5,484.5 348.5,482.5 348.5,480.5 348.5,479.5 348.5,481.5 348.5,493.5 349.5,489.5 349.5,484.5 349.5,482.5 349.5,480.5 349.5,488.5 349.5,481.5 349.5,482.5 349.5,482.5 349.5,490.5 349.5,484.5 349.5,491.5 350.5,480.5 350.5,480.5 350.5,478.5 350.5,484.5 350.5,478.5 350.5,481.5 350.5,490.5 350.5,486.5 350.5,482.5 350.5,483.5 351.5,469.5 351.5,473.5 351.5,486.5 351.5,478.5 351.5,479.5 351.5,469.5 351.5,477.5 351.5,483.5 351.5,481.5 351.5,484.5 351.5,483.5 352.5,491.5 352.5,459.5 352.5,490.5 352.5,480.5 352.5,483.5 352.5,485.5 352.5,491.5 352.5,487.5 352.5,483.5 352.5,477.5 353.5,483.5 353.5,478.5 353.5,478.5 353.5,480.5 353.5,481.5 353.5,480.5 353.5,488.5 353.5,482.5 353.5,478.5 353.5,483.5 353.5,476.5 354.5,484.5 354.5,485.5 354.5,486.5 354.5,478.5 354.5,454.5 354.5,487.5 354.5,491.5 354.5,485.5 354.5,483.5 354.5,482.5 354.5,480.5 355.5,479.5 355.5,480.5 355.5,487.5 355.5,482.5 355.5,452.5 355.5,481.5 355.5,485.5 355.5,487.5 355.5,486.5 355.5,478.5 356.5,482.5 356.5,493.5 356.5,485.5 356.5,483.5 356.5,480.5 356.5,476.5 356.5,474.5 356.5,481.5 356.5,483.5 356.5,478.5 356.5,482.5 357.5,485.5 357.5,484.5 357.5,487.5 357.5,475.5 357.5,483.5 357.5,485.5 357.5,483.5 357.5,476.5 357.5,475.5 357.5,489.5 358.5,493.5 358.5,483.5 358.5,479.5 358.5,478.5 358.5,483.5 358.5,486.5 358.5,481.5 358.5,480.5 358.5,485.5 358.5,480.5 358.5,480.5 359.5,479.5 359.5,482.5 359.5,480.5 359.5,480.5 359.5,479.5 359.5,482.5 359.5,486.5 359.5,480.5 359.5,477.5 359.5,490.5 359.5,485.5 360.5,478.5 360.5,473.5 360.5,486.5 360.5,477.5 360.5,480.5 360.5,468.5 360.5,483.5 360.5,485.5 360.5,467.5 360.5,478.5 361.5,479.5 361.5,473.5 361.5,473.5 361.5,484.5 361.5,495.5 361.5,479.5 361.5,478.5 361.5,495.5 361.5,478.5 361.5,481.5 361.5,482.5 362.5,476.5 362.5,478.5 362.5,480.5 362.5,483.5 362.5,480.5 362.5,480.5 362.5,473.5 362.5,475.5 362.5,480.5 362.5,476.5 363.5,477.5 363.5,478.5 363.5,485.5 363.5,473.5 363.5,482.5 363.5,481.5 363.5,479.5 363.5,473.5 363.5,477.5 363.5,474.5 363.5,481.5 364.5,477.5 364.5,477.5 364.5,455.5 364.5,483.5 364.5,466.5 364.5,489.5 364.5,471.5 364.5,472.5 364.5,473.5 364.5,467.5 364.5,481.5 365.5,471.5 365.5,463.5 365.5,480.5 365.5,478.5 365.5,464.5 365.5,466.5 365.5,458.5 365.5,454.5 365.5,478.5 365.5,473.5 366.5,481.5 366.5,481.5 366.5,477.5 366.5,475.5 366.5,481.5 366.5,483.5 366.5,476.5 366.5,474.5 366.5,479.5 366.5,472.5 366.5,477.5 367.5,479.5 367.5,468.5 367.5,459.5 367.5,464.5 367.5,471.5 367.5,478.5 367.5,472.5 367.5,477.5 367.5,475.5 367.5,452.5 368.5,483.5 368.5,474.5 368.5,481.5 368.5,477.5 368.5,475.5 368.5,485.5 368.5,473.5 368.5,459.5 368.5,483.5 368.5,477.5 368.5,471.5 369.5,473.5 369.5,468.5 369.5,479.5 369.5,482.5 369.5,479.5 369.5,480.5 369.5,483.5 369.5,477.5 369.5,471.5 369.5,472.5 369.5,478.5 370.5,477.5 370.5,477.5 370.5,469.5 370.5,452.5 370.5,484.5 370.5,476.5 370.5,483.5 370.5,478.5 370.5,456.5 370.5,483.5 371.5,486.5 371.5,480.5 371.5,484.5 371.5,474.5 371.5,470.5 371.5,466.5 371.5,477.5 371.5,485.5 371.5,473.5 371.5,468.5 371.5,477.5 372.5,476.5 372.5,476.5 372.5,470.5 372.5,485.5 372.5,472.5 372.5,475.5 372.5,467.5 372.5,479.5 372.5,486.5 372.5,482.5 373.5,469.5 373.5,480.5 373.5,469.5 373.5,474.5 373.5,473.5 373.5,457.5 373.5,478.5 373.5,474.5 373.5,475.5 373.5,484.5 373.5,467.5 374.5,472.5 374.5,488.5 374.5,476.5 374.5,470.5 374.5,479.5 374.5,481.5 374.5,471.5 374.5,476.5 374.5,473.5 374.5,458.5 374.5,478.5 375.5,473.5 375.5,482.5 375.5,474.5 375.5,489.5 375.5,484.5 375.5,475.5 375.5,478.5 375.5,483.5 375.5,480.5 375.5,470.5 376.5,473.5 376.5,473.5 376.5,474.5 376.5,466.5 376.5,480.5 376.5,495.5 376.5,477.5 376.5,477.5 376.5,475.5 376.5,479.5 376.5,461.5 377.5,474.5 377.5,479.5 377.5,462.5 377.5,472.5 377.5,485.5 377.5,480.5 377.5,476.5 377.5,477.5 377.5,461.5 377.5,480.5 378.5,474.5 378.5,483.5 378.5,478.5 378.5,480.5 378.5,467.5 378.5,467.5 378.5,488.5 378.5,475.5 378.5,474.5 378.5,484.5 378.5,480.5 379.5,492.5 379.5,487.5 379.5,478.5 379.5,460.5 379.5,474.5 379.5,472.5 379.5,483.5 379.5,483.5 379.5,480.5 379.5,497.5 379.5,479.5 380.5,481.5 380.5,480.5 380.5,481.5 380.5,487.5 380.5,481.5 380.5,466.5 380.5,497.5 380.5,482.5 380.5,480.5 380.5,481.5 381.5,490.5 381.5,498.5 381.5,486.5 381.5,482.5 381.5,499.5 381.5,494.5 381.5,493.5 381.5,479.5 381.5,468.5 381.5,481.5 381.5,481.5 382.5,465.5 382.5,491.5 382.5,483.5 382.5,478.5 382.5,488.5 382.5,504.5 382.5,475.5 382.5,485.5 382.5,478.5 382.5,478.5 383.5,478.5 383.5,490.5 383.5,485.5 383.5,479.5 383.5,483.5 383.5,485.5 383.5,475.5 383.5,470.5 383.5,470.5 383.5,479.5 383.5,503.5 384.5,459.5 384.5,489.5 384.5,489.5 384.5,482.5 384.5,489.5 384.5,484.5 384.5,480.5 384.5,485.5 384.5,481.5 384.5,482.5 384.5,479.5 385.5,497.5 385.5,489.5 385.5,483.5 385.5,476.5 385.5,479.5 385.5,479.5 385.5,477.5 385.5,482.5 385.5,483.5 385.5,492.5 386.5,491.5 386.5,476.5 386.5,490.5 386.5,478.5 386.5,488.5 386.5,484.5 386.5,483.5 386.5,484.5 386.5,479.5 386.5,477.5 386.5,492.5 387.5,475.5 387.5,487.5 387.5,478.5 387.5,485.5 387.5,483.5 387.5,484.5 387.5,479.5 387.5,485.5 387.5,492.5 387.5,487.5 388.5,490.5 388.5,461.5 388.5,481.5 388.5,487.5 388.5,475.5 388.5,488.5 388.5,483.5 388.5,482.5 388.5,491.5 388.5,479.5 388.5,490.5 389.5,477.5 389.5,477.5 389.5,488.5 389.5,489.5 389.5,476.5 389.5,497.5 389.5,493.5 389.5,483.5 389.5,477.5 389.5,481.5 389.5,483.5 390.5,482.5 390.5,478.5 390.5,480.5 390.5,485.5 390.5,487.5 390.5,483.5 390.5,486.5 390.5,496.5 390.5,476.5 390.5,491.5 391.5,491.5 391.5,484.5 391.5,483.5 391.5,484.5 391.5,485.5 391.5,488.5 391.5,489.5 391.5,483.5 391.5,479.5 391.5,479.5 391.5,492.5 392.5,483.5 392.5,478.5 392.5,472.5 392.5,487.5 392.5,483.5 392.5,484.5 392.5,471.5 392.5,480.5 392.5,480.5 392.5,483.5 393.5,493.5 393.5,480.5 393.5,477.5 393.5,488.5 393.5,487.5 393.5,480.5 393.5,483.5 393.5,479.5 393.5,492.5 393.5,485.5 393.5,475.5 394.5,487.5 394.5,488.5 394.5,476.5 394.5,483.5 394.5,471.5 394.5,475.5 394.5,474.5 394.5,497.5 394.5,478.5 394.5,486.5 395.5,487.5 395.5,488.5 395.5,488.5 395.5,484.5 395.5,479.5 395.5,477.5 395.5,486.5 395.5,479.5 395.5,488.5 395.5,482.5 395.5,490.5 396.5,475.5 396.5,492.5 396.5,482.5 396.5,486.5 396.5,477.5 396.5,498.5 396.5,485.5 396.5,489.5 396.5,487.5 396.5,494.5 396.5,476.5 397.5,482.5 397.5,477.5 397.5,483.5 397.5,489.5 397.5,489.5 397.5,481.5 397.5,477.5 397.5,484.5 397.5,487.5 397.5,500.5 398.5,485.5 398.5,480.5 398.5,486.5 398.5,481.5 398.5,490.5 398.5,482.5 398.5,485.5 398.5,472.5 398.5,470.5 398.5,483.5 398.5,484.5 399.5,487.5 399.5,487.5 399.5,486.5 399.5,482.5 399.5,484.5 399.5,488.5 399.5,477.5 399.5,490.5 399.5,484.5 399.5,491.5 400.5,483.5 400.5,487.5 400.5,467.5 400.5,490.5 400.5,491.5 400.5,482.5 400.5,489.5 400.5,484.5 400.5,488.5 400.5,483.5 400.5,483.5 401.5,487.5 401.5,489.5 401.5,486.5 401.5,487.5 401.5,483.5 401.5,490.5 401.5,498.5 401.5,480.5 401.5,493.5 401.5,479.5 401.5,502.5 402.5,486.5 402.5,487.5 402.5,496.5 402.5,482.5 402.5,480.5 402.5,479.5 402.5,485.5 402.5,491.5 402.5,484.5 402.5,485.5 403.5,486.5 403.5,484.5 403.5,486.5 403.5,479.5 403.5,475.5 403.5,481.5 403.5,482.5 403.5,490.5 403.5,487.5 403.5,480.5 403.5,491.5 404.5,489.5 404.5,464.5 404.5,495.5 404.5,486.5 404.5,482.5 404.5,465.5 404.5,489.5 404.5,487.5 404.5,480.5 404.5,494.5 405.5,485.5 405.5,482.5 405.5,485.5 405.5,487.5 405.5,494.5 405.5,493.5 405.5,477.5 405.5,484.5 405.5,486.5 405.5,487.5 405.5,498.5 406.5,489.5 406.5,481.5 406.5,494.5 406.5,490.5 406.5,477.5 406.5,491.5 406.5,487.5 406.5,480.5 406.5,487.5 406.5,489.5 406.5,487.5 407.5,482.5 407.5,485.5 407.5,485.5 407.5,484.5 407.5,488.5 407.5,498.5 407.5,487.5 407.5,488.5 407.5,491.5 407.5,488.5 408.5,484.5 408.5,484.5 408.5,483.5 408.5,494.5 408.5,484.5 408.5,482.5 408.5,484.5 408.5,490.5 408.5,490.5 408.5,479.5 408.5,491.5 409.5,486.5 409.5,470.5 409.5,493.5 409.5,483.5 409.5,482.5 409.5,482.5 409.5,484.5 409.5,488.5 409.5,488.5 409.5,488.5 410.5,490.5 410.5,485.5 410.5,471.5 410.5,465.5 410.5,492.5 410.5,485.5 410.5,483.5 410.5,490.5 410.5,470.5 410.5,489.5 410.5,486.5 411.5,489.5 411.5,485.5 411.5,483.5 411.5,487.5 411.5,479.5 411.5,489.5 411.5,496.5 411.5,481.5 411.5,482.5 411.5,488.5 411.5,483.5 412.5,488.5 412.5,485.5 412.5,484.5 412.5,490.5 412.5,483.5 412.5,483.5 412.5,480.5 412.5,488.5 412.5,485.5 412.5,483.5 413.5,489.5 413.5,467.5 413.5,491.5 413.5,490.5 413.5,484.5 413.5,483.5 413.5,492.5 413.5,485.5 413.5,483.5 413.5,485.5 413.5,478.5 414.5,464.5 414.5,480.5 414.5,489.5 414.5,483.5 414.5,487.5 414.5,493.5 414.5,492.5 414.5,477.5 414.5,488.5 414.5,482.5 415.5,488.5 415.5,492.5 415.5,491.5 415.5,492.5 415.5,489.5 415.5,482.5 415.5,468.5 415.5,483.5 415.5,491.5 415.5,487.5 415.5,486.5 416.5,484.5 416.5,489.5 416.5,490.5 416.5,490.5 416.5,482.5 416.5,490.5 416.5,486.5 416.5,479.5 416.5,491.5 416.5,478.5 416.5,482.5 417.5,492.5 417.5,463.5 417.5,495.5 417.5,491.5 417.5,489.5 417.5,483.5 417.5,497.5 417.5,483.5 417.5,487.5 417.5,491.5 418.5,488.5 418.5,479.5 418.5,488.5 418.5,487.5 418.5,493.5 418.5,488.5 418.5,494.5 418.5,492.5 418.5,482.5 418.5,491.5 418.5,497.5 419.5,493.5 419.5,493.5 419.5,489.5 419.5,488.5 419.5,485.5 419.5,483.5 419.5,485.5 419.5,492.5 419.5,487.5 419.5,489.5 420.5,488.5 420.5,490.5 420.5,491.5 420.5,495.5 420.5,486.5 420.5,497.5 420.5,490.5 420.5,488.5 420.5,489.5 420.5,495.5 420.5,493.5 421.5,496.5 421.5,490.5 421.5,496.5 421.5,491.5 421.5,493.5 421.5,489.5 421.5,501.5 421.5,490.5 421.5,469.5 421.5,494.5 421.5,482.5 422.5,492.5 422.5,492.5 422.5,487.5 422.5,488.5 422.5,495.5 422.5,491.5 422.5,494.5 422.5,494.5 422.5,483.5 422.5,496.5 423.5,487.5 423.5,490.5 423.5,491.5 423.5,493.5 423.5,493.5 423.5,491.5 423.5,491.5 423.5,493.5 423.5,495.5 423.5,490.5 423.5,493.5 424.5,493.5 424.5,490.5 424.5,491.5 424.5,491.5 424.5,499.5 424.5,493.5 424.5,494.5 424.5,494.5 424.5,490.5 424.5,493.5 425.5,487.5 425.5,487.5 425.5,493.5 425.5,491.5 425.5,493.5 425.5,494.5 425.5,499.5 425.5,492.5 425.5,492.5 425.5,485.5 425.5,497.5 426.5,492.5 426.5,490.5 426.5,495.5 426.5,492.5 426.5,490.5 426.5,490.5 426.5,495.5 426.5,496.5 426.5,493.5 426.5,492.5 426.5,500.5 427.5,492.5 427.5,490.5 427.5,495.5 427.5,491.5 427.5,488.5 427.5,494.5 427.5,492.5 427.5,499.5 427.5,495.5 427.5,497.5 428.5,498.5 428.5,495.5 428.5,497.5 428.5,466.5 428.5,491.5 428.5,493.5 428.5,497.5 428.5,458.5 428.5,496.5 428.5,497.5 428.5,480.5 429.5,491.5 429.5,491.5 429.5,498.5 429.5,488.5 429.5,489.5 429.5,495.5 429.5,490.5 429.5,495.5 429.5,491.5 429.5,502.5 430.5,491.5 430.5,495.5 430.5,494.5 430.5,481.5 430.5,495.5 430.5,495.5 430.5,491.5 430.5,483.5 430.5,502.5 430.5,488.5 430.5,489.5 431.5,493.5 431.5,494.5 431.5,498.5 431.5,491.5 431.5,489.5 431.5,495.5 431.5,492.5 431.5,491.5 431.5,492.5 431.5,486.5 431.5,493.5 432.5,489.5 432.5,487.5 432.5,484.5 432.5,486.5 432.5,492.5 432.5,482.5 432.5,497.5 432.5,468.5 432.5,488.5 432.5,502.5 433.5,487.5 433.5,484.5 433.5,487.5 433.5,479.5 433.5,494.5 433.5,487.5 433.5,486.5 433.5,482.5 433.5,488.5 433.5,491.5 433.5,471.5 434.5,478.5 434.5,489.5 434.5,483.5 434.5,485.5 434.5,479.5 434.5,466.5 434.5,492.5 434.5,488.5 434.5,489.5 434.5,469.5 435.5,487.5 435.5,488.5 435.5,488.5 435.5,482.5 435.5,491.5 435.5,492.5 435.5,486.5 435.5,472.5 435.5,486.5 435.5,487.5 435.5,490.5 436.5,484.5 436.5,489.5 436.5,485.5 436.5,486.5 436.5,485.5 436.5,470.5 436.5,493.5 436.5,491.5 436.5,481.5 436.5,491.5 436.5,485.5 437.5,488.5 437.5,472.5 437.5,491.5 437.5,485.5 437.5,485.5 437.5,487.5 437.5,481.5 437.5,482.5 437.5,473.5 437.5,473.5 438.5,484.5 438.5,488.5 438.5,489.5 438.5,484.5 438.5,490.5 438.5,476.5 438.5,485.5 438.5,489.5 438.5,483.5 438.5,487.5 438.5,484.5 439.5,469.5 439.5,492.5 439.5,483.5 439.5,484.5 439.5,488.5 439.5,485.5 439.5,488.5 439.5,486.5 439.5,488.5 439.5,481.5 440.5,488.5 440.5,492.5 440.5,481.5 440.5,489.5 440.5,488.5 440.5,490.5 440.5,476.5 440.5,486.5 440.5,485.5 440.5,490.5 440.5,491.5 441.5,473.5 441.5,483.5 441.5,489.5 441.5,489.5 441.5,489.5 441.5,482.5 441.5,484.5 441.5,489.5 441.5,491.5 441.5,500.5 442.5,482.5 442.5,471.5 442.5,484.5 442.5,485.5 442.5,486.5 442.5,489.5 442.5,490.5 442.5,498.5 442.5,487.5 442.5,502.5 442.5,496.5 443.5,492.5 443.5,484.5 443.5,491.5 443.5,481.5 443.5,491.5 443.5,492.5 443.5,485.5 443.5,499.5 443.5,490.5 443.5,485.5 443.5,492.5 444.5,485.5 444.5,488.5 444.5,481.5 444.5,494.5 444.5,486.5 444.5,483.5 444.5,486.5 444.5,493.5 444.5,507.5 444.5,487.5 445.5,487.5 445.5,491.5 445.5,490.5 445.5,493.5 445.5,490.5 445.5,492.5 445.5,481.5 445.5,484.5 445.5,489.5 445.5,484.5 445.5,485.5 446.5,494.5 446.5,489.5 446.5,489.5 446.5,489.5 446.5,487.5 446.5,487.5 446.5,488.5 446.5,492.5 446.5,490.5 446.5,490.5 447.5,496.5 447.5,491.5 447.5,494.5 447.5,466.5 447.5,494.5 447.5,486.5 447.5,485.5 447.5,493.5 447.5,491.5 447.5,493.5 447.5,483.5 448.5,500.5 448.5,489.5 448.5,499.5 448.5,488.5 448.5,488.5 448.5,480.5 448.5,491.5 448.5,490.5 448.5,488.5 448.5,492.5 448.5,487.5 449.5,493.5 449.5,492.5 449.5,491.5 449.5,487.5 449.5,487.5 449.5,496.5 449.5,490.5 449.5,490.5 449.5,490.5 449.5,489.5 450.5,484.5 450.5,491.5 450.5,488.5 450.5,502.5 450.5,495.5 450.5,500.5 450.5,489.5 450.5,492.5 450.5,484.5 450.5,494.5 450.5,490.5 451.5,494.5 451.5,494.5 451.5,489.5 451.5,493.5 451.5,489.5 451.5,491.5 451.5,471.5 451.5,484.5 451.5,486.5 451.5,501.5 452.5,482.5 452.5,492.5 452.5,496.5 452.5,493.5 452.5,488.5 452.5,502.5 452.5,493.5 452.5,496.5 452.5,490.5 452.5,493.5 452.5,486.5 453.5,489.5 453.5,484.5 453.5,491.5 453.5,488.5 453.5,486.5 453.5,494.5 453.5,489.5 453.5,489.5 453.5,492.5 453.5,487.5 453.5,491.5 454.5,490.5 454.5,488.5 454.5,490.5 454.5,494.5 454.5,491.5 454.5,490.5 454.5,487.5 454.5,493.5 454.5,496.5 454.5,490.5 455.5,485.5 455.5,501.5 455.5,491.5 455.5,499.5 455.5,484.5 455.5,484.5 455.5,486.5 455.5,488.5 455.5,478.5 455.5,482.5 455.5,490.5 456.5,487.5 456.5,492.5 456.5,504.5 456.5,486.5 456.5,489.5 456.5,490.5 456.5,485.5 456.5,492.5 456.5,492.5 456.5,491.5 457.5,489.5 457.5,490.5 457.5,491.5 457.5,492.5 457.5,490.5 457.5,464.5 457.5,493.5 457.5,497.5 457.5,496.5 457.5,485.5 457.5,500.5 458.5,483.5 458.5,492.5 458.5,503.5 458.5,489.5 458.5,495.5 458.5,495.5 458.5,493.5 458.5,488.5 458.5,492.5 458.5,490.5 458.5,490.5 459.5,486.5 459.5,488.5 459.5,494.5 459.5,486.5 459.5,485.5 459.5,492.5 459.5,492.5 459.5,489.5 459.5,497.5 459.5,491.5 460.5,492.5 460.5,478.5 460.5,491.5 460.5,495.5 460.5,485.5 460.5,494.5 460.5,489.5 460.5,489.5 460.5,488.5 460.5,484.5 460.5,480.5 461.5,481.5 461.5,494.5 461.5,491.5 461.5,482.5 461.5,493.5 461.5,492.5 461.5,488.5 461.5,504.5 461.5,492.5 461.5,491.5 462.5,495.5 462.5,486.5 462.5,491.5 462.5,497.5 462.5,499.5 462.5,491.5 462.5,498.5 462.5,489.5 462.5,484.5 462.5,494.5 462.5,496.5 463.5,489.5 463.5,496.5 463.5,484.5 463.5,486.5 463.5,488.5 463.5,490.5 463.5,491.5 463.5,492.5 463.5,507.5 463.5,488.5 463.5,489.5 464.5,498.5 464.5,490.5 464.5,494.5 464.5,492.5 464.5,491.5 464.5,493.5 464.5,488.5 464.5,492.5 464.5,494.5 464.5,492.5 465.5,490.5 465.5,489.5 465.5,490.5 465.5,496.5 465.5,493.5 465.5,489.5 465.5,497.5 465.5,489.5 465.5,480.5 465.5,491.5 465.5,485.5 466.5,477.5 466.5,488.5 466.5,490.5 466.5,490.5 466.5,489.5 466.5,492.5 466.5,491.5 466.5,487.5 466.5,493.5 466.5,493.5 467.5,489.5 467.5,491.5 467.5,490.5 467.5,489.5 467.5,491.5 467.5,494.5 467.5,493.5 467.5,486.5 467.5,491.5 467.5,495.5 467.5,496.5 468.5,490.5 468.5,494.5 468.5,492.5 468.5,487.5 468.5,493.5 468.5,489.5 468.5,487.5 468.5,510.5 468.5,496.5 468.5,493.5 468.5,488.5 469.5,494.5 469.5,491.5 469.5,494.5 469.5,491.5 469.5,493.5 469.5,487.5 469.5,492.5 469.5,493.5 469.5,496.5 469.5,485.5 470.5,499.5 470.5,499.5 470.5,492.5 470.5,489.5 470.5,495.5 470.5,485.5 470.5,490.5 470.5,494.5 470.5,496.5 470.5,493.5 470.5,491.5 471.5,485.5 471.5,485.5 471.5,488.5 471.5,477.5 471.5,483.5 471.5,484.5 471.5,482.5 471.5,483.5 471.5,487.5 471.5,482.5 472.5,482.5 472.5,487.5 472.5,483.5 472.5,481.5 472.5,478.5 472.5,482.5 472.5,478.5 472.5,481.5 472.5,484.5 472.5,481.5 472.5,482.5 473.5,484.5 473.5,486.5 473.5,488.5 473.5,487.5 473.5,485.5 473.5,484.5 473.5,483.5 473.5,481.5 473.5,474.5 473.5,483.5 473.5,480.5 474.5,486.5 474.5,478.5 474.5,477.5 474.5,481.5 474.5,486.5 474.5,481.5 474.5,481.5 474.5,486.5 474.5,482.5 474.5,484.5 475.5,491.5 475.5,482.5 475.5,492.5 475.5,470.5 475.5,487.5 475.5,476.5 475.5,476.5 475.5,486.5 475.5,482.5 475.5,483.5 475.5,485.5 476.5,481.5 476.5,477.5 476.5,483.5 476.5,480.5 476.5,488.5 476.5,483.5 476.5,467.5 476.5,478.5 476.5,495.5 476.5,484.5 477.5,485.5 477.5,474.5 477.5,485.5 477.5,487.5 477.5,482.5 477.5,482.5 477.5,485.5 477.5,486.5 477.5,482.5 477.5,486.5 477.5,489.5 478.5,485.5 478.5,483.5 478.5,486.5 478.5,499.5 478.5,488.5 478.5,484.5 478.5,486.5 478.5,482.5 478.5,484.5 478.5,482.5 478.5,464.5 479.5,483.5 479.5,482.5 479.5,483.5 479.5,483.5 479.5,480.5 479.5,482.5 479.5,485.5 479.5,482.5 479.5,474.5 479.5,491.5 480.5,468.5 480.5,484.5 480.5,485.5 480.5,479.5 480.5,482.5 480.5,477.5 480.5,485.5 480.5,486.5 480.5,484.5 480.5,483.5 480.5,481.5 481.5,485.5 481.5,480.5 481.5,487.5 481.5,479.5 481.5,478.5 481.5,482.5 481.5,484.5 481.5,481.5 481.5,483.5 481.5,484.5 482.5,481.5 482.5,486.5 482.5,483.5 482.5,485.5 482.5,481.5 482.5,478.5 482.5,485.5 482.5,486.5 482.5,481.5 482.5,483.5 482.5,479.5 483.5,478.5 483.5,487.5 483.5,488.5 483.5,481.5 483.5,489.5 483.5,481.5 483.5,485.5 483.5,483.5 483.5,484.5 483.5,475.5 483.5,462.5 484.5,480.5 484.5,483.5 484.5,487.5 484.5,479.5 484.5,483.5 484.5,483.5 484.5,483.5 484.5,479.5 484.5,485.5 484.5,479.5 485.5,483.5 485.5,489.5 485.5,483.5 485.5,478.5 485.5,483.5 485.5,476.5 485.5,480.5 485.5,483.5 485.5,480.5 485.5,481.5 485.5,471.5 486.5,482.5 486.5,486.5 486.5,474.5 486.5,481.5 486.5,487.5 486.5,483.5 486.5,482.5 486.5,483.5 486.5,483.5 486.5,486.5 487.5,490.5 487.5,483.5 487.5,480.5 487.5,461.5 487.5,486.5 487.5,484.5 487.5,483.5 487.5,480.5 487.5,476.5 487.5,486.5 487.5,477.5 488.5,476.5 488.5,478.5 488.5,483.5 488.5,485.5 488.5,484.5 488.5,461.5 488.5,470.5 488.5,489.5 488.5,481.5 488.5,486.5 489.5,470.5 489.5,481.5 489.5,495.5 489.5,479.5 489.5,489.5 489.5,482.5 489.5,484.5 489.5,476.5 489.5,481.5 489.5,491.5 489.5,488.5 490.5,466.5 490.5,483.5 490.5,481.5 490.5,486.5 490.5,487.5 490.5,484.5 490.5,481.5 490.5,459.5 490.5,483.5 490.5,482.5 490.5,482.5 491.5,475.5 491.5,479.5 491.5,478.5 491.5,484.5 491.5,481.5 491.5,460.5 491.5,482.5 491.5,476.5 491.5,482.5 491.5,481.5 492.5,485.5 492.5,479.5 492.5,485.5 492.5,477.5 492.5,484.5 492.5,482.5 492.5,479.5 492.5,475.5 492.5,465.5 492.5,491.5 492.5,476.5 493.5,486.5 493.5,478.5 493.5,483.5 493.5,483.5 493.5,479.5 493.5,484.5 493.5,476.5 493.5,493.5 493.5,487.5 493.5,478.5 494.5,482.5 494.5,483.5 494.5,482.5 494.5,482.5 494.5,479.5 494.5,482.5 494.5,478.5 494.5,478.5 494.5,484.5 494.5,478.5 494.5,478.5 495.5,478.5 495.5,485.5 495.5,475.5 495.5,487.5 495.5,472.5 495.5,481.5 495.5,483.5 495.5,489.5 495.5,479.5 495.5,479.5 495.5,485.5 496.5,482.5 496.5,493.5 496.5,476.5 496.5,466.5 496.5,497.5 496.5,481.5 496.5,475.5 496.5,486.5 496.5,483.5 496.5,493.5 497.5,459.5 497.5,476.5 497.5,481.5 497.5,480.5 497.5,489.5 497.5,483.5 497.5,487.5 497.5,477.5 497.5,484.5 497.5,485.5 497.5,485.5 498.5,484.5 498.5,482.5 498.5,495.5 498.5,484.5 498.5,484.5 498.5,480.5 498.5,483.5 498.5,485.5 498.5,468.5 498.5,490.5 499.5,471.5 499.5,489.5 499.5,477.5 499.5,487.5 499.5,476.5 499.5,486.5 499.5,488.5 499.5,493.5 499.5,476.5 499.5,487.5 499.5,490.5 500.5,478.5 500.5,477.5 500.5,479.5 500.5,484.5 500.5,479.5 500.5,477.5 500.5,487.5 500.5,485.5 500.5,481.5 500.5,484.5 500.5,474.5 501.5,480.5 501.5,484.5 501.5,484.5 501.5,478.5 501.5,485.5 501.5,474.5 501.5,480.5 501.5,479.5 501.5,489.5 501.5,494.5 502.5,485.5 502.5,474.5 502.5,475.5 502.5,487.5 502.5,492.5 502.5,481.5 502.5,485.5 502.5,477.5 502.5,476.5 502.5,488.5 502.5,491.5 503.5,485.5 503.5,484.5 503.5,483.5 503.5,481.5 503.5,481.5 503.5,489.5 503.5,485.5 503.5,484.5 503.5,484.5 503.5,478.5 504.5,481.5 504.5,484.5 504.5,480.5 504.5,476.5 504.5,486.5 504.5,484.5 504.5,479.5 504.5,482.5 504.5,486.5 504.5,483.5 504.5,486.5 505.5,484.5 505.5,486.5 505.5,495.5 505.5,485.5 505.5,487.5 505.5,488.5 505.5,491.5 505.5,491.5 505.5,482.5 505.5,474.5 505.5,483.5 506.5,489.5 506.5,466.5 506.5,480.5 506.5,475.5 506.5,504.5 506.5,485.5 506.5,487.5 506.5,481.5 506.5,477.5 506.5,490.5 507.5,474.5 507.5,493.5 507.5,484.5 507.5,482.5 507.5,479.5 507.5,484.5 507.5,479.5 507.5,486.5 507.5,481.5 507.5,487.5 507.5,479.5 508.5,477.5 508.5,477.5 508.5,491.5 508.5,484.5 508.5,483.5 508.5,493.5 508.5,479.5 508.5,488.5 508.5,486.5 508.5,486.5 509.5,488.5 509.5,487.5 509.5,494.5 509.5,501.5 509.5,477.5 509.5,486.5 509.5,480.5 509.5,489.5 509.5,483.5 509.5,490.5 509.5,495.5 510.5,485.5 510.5,484.5 510.5,482.5 510.5,486.5 510.5,481.5 510.5,470.5 510.5,464.5 510.5,479.5 510.5,498.5 510.5,483.5 510.5,486.5 511.5,487.5 511.5,481.5 511.5,495.5 511.5,473.5 511.5,482.5 511.5,477.5 511.5,458.5 511.5,492.5 511.5,490.5 511.5,478.5 512.5,484.5 512.5,473.5 512.5,484.5 512.5,463.5 512.5,488.5 512.5,473.5 512.5,501.5 512.5,487.5 512.5,484.5 512.5,483.5 512.5,494.5 513.5,461.5 513.5,493.5 513.5,482.5 513.5,486.5 513.5,484.5 513.5,489.5 513.5,492.5 513.5,481.5 513.5,494.5 513.5,484.5 514.5,490.5 514.5,480.5 514.5,486.5 514.5,486.5 514.5,489.5 514.5,497.5 514.5,493.5 514.5,490.5 514.5,492.5 514.5,491.5 514.5,487.5 515.5,490.5 515.5,498.5 515.5,493.5 515.5,492.5 515.5,498.5 515.5,486.5 515.5,488.5 515.5,483.5 515.5,492.5 515.5,490.5 515.5,479.5 516.5,488.5 516.5,489.5 516.5,488.5 516.5,500.5 516.5,493.5 516.5,491.5 516.5,495.5 516.5,495.5 516.5,483.5 516.5,486.5 517.5,491.5 517.5,479.5 517.5,492.5 517.5,489.5 517.5,488.5 517.5,491.5 517.5,495.5 517.5,494.5 517.5,477.5 517.5,492.5 517.5,495.5 518.5,488.5 518.5,494.5 518.5,464.5 518.5,491.5 518.5,494.5 518.5,491.5 518.5,485.5 518.5,491.5 518.5,486.5 518.5,489.5 519.5,490.5 519.5,492.5 519.5,489.5 519.5,499.5 519.5,493.5 519.5,494.5 519.5,493.5 519.5,494.5 519.5,488.5 519.5,475.5 519.5,497.5 520.5,496.5 520.5,494.5 520.5,500.5 520.5,487.5 520.5,487.5 520.5,488.5 520.5,495.5 520.5,484.5 520.5,495.5 520.5,490.5 520.5,496.5 521.5,497.5 521.5,494.5 521.5,488.5 521.5,489.5 521.5,499.5 521.5,459.5 521.5,492.5 521.5,494.5 521.5,501.5 521.5,495.5 522.5,500.5 522.5,492.5 522.5,492.5 522.5,492.5 522.5,493.5 522.5,499.5 522.5,489.5 522.5,499.5 522.5,491.5 522.5,497.5 522.5,490.5 523.5,493.5 523.5,506.5 523.5,491.5 523.5,495.5 523.5,493.5 523.5,486.5 523.5,497.5 523.5,492.5 523.5,488.5 523.5,492.5 524.5,498.5 524.5,486.5 524.5,499.5 524.5,486.5 524.5,497.5 524.5,490.5 524.5,488.5 524.5,503.5 524.5,495.5 524.5,496.5 524.5,489.5 525.5,500.5 525.5,498.5 525.5,495.5 525.5,492.5 525.5,498.5 525.5,491.5 525.5,498.5 525.5,498.5 525.5,499.5 525.5,485.5 525.5,496.5 526.5,493.5 526.5,491.5 526.5,478.5 526.5,491.5 526.5,494.5 526.5,496.5 526.5,493.5 526.5,500.5 526.5,496.5 526.5,499.5 527.5,488.5 527.5,497.5 527.5,494.5 527.5,500.5 527.5,493.5 527.5,496.5 527.5,491.5 527.5,492.5 527.5,490.5 527.5,502.5 527.5,492.5 528.5,494.5 528.5,493.5 528.5,493.5 528.5,497.5 528.5,496.5 528.5,494.5 528.5,495.5 528.5,500.5 528.5,491.5 528.5,488.5 529.5,492.5 529.5,497.5 529.5,498.5 529.5,491.5 529.5,496.5 529.5,491.5 529.5,496.5 529.5,491.5 529.5,496.5 529.5,494.5 529.5,486.5 530.5,492.5 530.5,491.5 530.5,504.5 530.5,492.5 530.5,497.5 530.5,488.5 530.5,505.5 530.5,499.5 530.5,493.5 530.5,489.5 530.5,492.5 531.5,489.5 531.5,497.5 531.5,484.5 531.5,496.5 531.5,503.5 531.5,497.5 531.5,502.5 531.5,496.5 531.5,494.5 531.5,493.5 532.5,492.5 532.5,503.5 532.5,491.5 532.5,490.5 532.5,496.5 532.5,494.5 532.5,499.5 532.5,499.5 532.5,505.5 532.5,481.5 532.5,496.5 533.5,494.5 533.5,492.5 533.5,495.5 533.5,495.5 533.5,496.5 533.5,496.5 533.5,501.5 533.5,504.5 533.5,491.5 533.5,495.5 534.5,497.5 534.5,494.5 534.5,491.5 534.5,496.5 534.5,488.5 534.5,497.5 534.5,489.5 534.5,491.5 534.5,494.5 534.5,503.5 534.5,502.5 535.5,497.5 535.5,501.5 535.5,498.5 535.5,491.5 535.5,494.5 535.5,467.5 535.5,492.5 535.5,497.5 535.5,493.5 535.5,492.5 536.5,494.5 536.5,494.5 536.5,489.5 536.5,499.5 536.5,497.5 536.5,487.5 536.5,492.5 536.5,504.5 536.5,473.5 536.5,495.5 536.5,499.5 537.5,488.5 537.5,500.5 537.5,494.5 537.5,496.5 537.5,483.5 537.5,499.5 537.5,499.5 537.5,502.5 537.5,493.5 537.5,493.5 537.5,497.5 538.5,462.5 538.5,496.5 538.5,490.5 538.5,491.5 538.5,495.5 538.5,494.5 538.5,487.5 538.5,487.5 538.5,498.5 538.5,493.5 539.5,496.5 539.5,494.5 539.5,484.5 539.5,478.5 539.5,508.5 539.5,494.5 539.5,490.5 539.5,489.5 539.5,495.5 539.5,500.5 539.5,489.5 540.5,500.5 540.5,500.5 540.5,494.5 540.5,504.5 540.5,492.5 540.5,491.5 540.5,494.5 540.5,498.5 540.5,493.5 540.5,506.5 541.5,498.5 541.5,489.5 541.5,492.5 541.5,502.5 541.5,492.5 541.5,496.5 541.5,493.5 541.5,496.5 541.5,493.5 541.5,493.5 541.5,489.5 542.5,497.5 542.5,498.5 542.5,494.5 542.5,496.5 542.5,496.5 542.5,494.5 542.5,498.5 542.5,492.5 542.5,496.5 542.5,493.5 542.5,488.5 543.5,486.5 543.5,492.5 543.5,486.5 543.5,492.5 543.5,495.5 543.5,490.5 543.5,490.5 543.5,502.5 543.5,494.5 543.5,493.5 544.5,468.5 544.5,490.5 544.5,485.5 544.5,498.5 544.5,485.5 544.5,492.5 544.5,495.5 544.5,495.5 544.5,464.5 544.5,485.5 544.5,480.5 545.5,497.5 545.5,490.5 545.5,493.5 545.5,498.5 545.5,491.5 545.5,495.5 545.5,491.5 545.5,495.5 545.5,497.5 545.5,493.5 546.5,488.5 546.5,492.5 546.5,493.5 546.5,480.5 546.5,492.5 546.5,498.5 546.5,494.5 546.5,496.5 546.5,510.5 546.5,498.5 546.5,495.5 547.5,494.5 547.5,495.5 547.5,497.5 547.5,494.5 547.5,488.5 547.5,500.5 547.5,493.5 547.5,498.5 547.5,488.5 547.5,495.5 547.5,488.5 548.5,495.5 548.5,496.5 548.5,494.5 548.5,490.5 548.5,501.5 548.5,496.5 548.5,488.5 548.5,491.5 548.5,502.5 548.5,488.5 549.5,487.5 549.5,502.5 549.5,509.5 549.5,503.5 549.5,492.5 549.5,496.5 549.5,497.5 549.5,495.5 549.5,491.5 549.5,499.5 549.5,498.5 550.5,497.5 550.5,464.5 550.5,492.5 550.5,489.5 550.5,505.5 550.5,493.5 550.5,500.5 550.5,495.5 550.5,496.5 550.5,500.5 551.5,490.5 551.5,503.5 551.5,496.5 551.5,503.5 551.5,500.5 551.5,492.5 551.5,495.5 551.5,488.5 551.5,493.5 551.5,500.5 551.5,497.5 552.5,491.5 552.5,497.5 552.5,493.5 552.5,492.5 552.5,495.5 552.5,496.5 552.5,491.5 552.5,497.5 552.5,493.5 552.5,494.5 552.5,487.5 553.5,496.5 553.5,500.5 553.5,497.5 553.5,492.5 553.5,498.5 553.5,506.5 553.5,499.5 553.5,498.5 553.5,489.5 553.5,499.5 554.5,494.5 554.5,492.5 554.5,498.5 554.5,494.5 554.5,487.5 554.5,494.5 554.5,496.5 554.5,493.5 554.5,498.5 554.5,499.5 554.5,498.5 555.5,489.5 555.5,497.5 555.5,494.5 555.5,493.5 555.5,495.5 555.5,498.5 555.5,501.5 555.5,497.5 555.5,475.5 555.5,490.5 556.5,496.5 556.5,489.5 556.5,493.5 556.5,501.5 556.5,495.5 556.5,491.5 556.5,494.5 556.5,496.5 556.5,496.5 556.5,499.5 556.5,472.5 557.5,498.5 557.5,494.5 557.5,497.5 557.5,494.5 557.5,500.5 557.5,491.5 557.5,496.5 557.5,497.5 557.5,497.5 557.5,508.5 557.5,490.5 558.5,493.5 558.5,489.5 558.5,493.5 558.5,500.5 558.5,496.5 558.5,497.5 558.5,502.5 558.5,495.5 558.5,495.5 558.5,499.5 559.5,497.5 559.5,497.5 559.5,493.5 559.5,494.5 559.5,494.5 559.5,497.5 559.5,498.5 559.5,498.5 559.5,491.5 559.5,499.5 559.5,490.5 560.5,497.5 560.5,494.5 560.5,492.5 560.5,492.5 560.5,490.5 560.5,494.5 560.5,497.5 560.5,495.5 560.5,495.5 560.5,497.5 561.5,472.5 561.5,472.5 561.5,495.5 561.5,498.5 561.5,486.5 561.5,496.5 561.5,496.5 561.5,489.5 561.5,504.5 561.5,500.5 561.5,497.5 562.5,482.5 562.5,503.5 562.5,498.5 562.5,501.5 562.5,497.5 562.5,496.5 562.5,497.5 562.5,493.5 562.5,499.5 562.5,494.5 562.5,501.5 563.5,496.5 563.5,493.5 563.5,507.5 563.5,490.5 563.5,489.5 563.5,502.5 563.5,492.5 563.5,502.5 563.5,498.5 563.5,496.5 564.5,498.5 564.5,493.5 564.5,488.5 564.5,497.5 564.5,503.5 564.5,492.5 564.5,493.5 564.5,490.5 564.5,501.5 564.5,492.5 564.5,493.5 565.5,506.5 565.5,492.5 565.5,488.5 565.5,504.5 565.5,492.5 565.5,490.5 565.5,491.5 565.5,501.5 565.5,504.5 565.5,495.5 566.5,492.5 566.5,481.5 566.5,489.5 566.5,478.5 566.5,488.5 566.5,498.5 566.5,494.5 566.5,489.5 566.5,498.5 566.5,484.5 566.5,496.5 567.5,497.5 567.5,497.5 567.5,489.5 567.5,490.5 567.5,495.5 567.5,496.5 567.5,493.5 567.5,497.5 567.5,495.5 567.5,507.5 567.5,497.5 568.5,495.5 568.5,497.5 568.5,496.5 568.5,479.5 568.5,498.5 568.5,496.5 568.5,490.5 568.5,491.5 568.5,497.5 568.5,498.5 569.5,495.5 569.5,487.5 569.5,496.5 569.5,492.5 569.5,493.5 569.5,495.5 569.5,500.5 569.5,505.5 569.5,492.5 569.5,500.5 569.5,494.5 570.5,492.5 570.5,501.5 570.5,491.5 570.5,500.5 570.5,490.5 570.5,493.5 570.5,499.5 570.5,493.5 570.5,491.5 570.5,494.5 571.5,497.5 571.5,508.5 571.5,496.5 571.5,490.5 571.5,490.5 571.5,495.5 571.5,497.5 571.5,497.5 571.5,499.5 571.5,490.5 571.5,493.5 572.5,498.5 572.5,494.5 572.5,494.5 572.5,492.5 572.5,493.5 572.5,505.5 572.5,487.5 572.5,492.5 572.5,496.5 572.5,489.5 572.5,496.5 573.5,495.5 573.5,481.5 573.5,499.5 573.5,490.5 573.5,495.5 573.5,494.5 573.5,465.5 573.5,490.5 573.5,496.5 573.5,498.5 574.5,501.5 574.5,491.5 574.5,493.5 574.5,497.5 574.5,495.5 574.5,497.5 574.5,492.5 574.5,488.5 574.5,498.5 574.5,493.5 574.5,486.5 575.5,494.5 575.5,513.5 575.5,495.5 575.5,494.5 575.5,492.5 575.5,497.5 575.5,495.5 575.5,494.5 575.5,505.5 575.5,499.5 576.5,491.5 576.5,498.5 576.5,493.5 576.5,495.5 576.5,489.5 576.5,486.5 576.5,489.5 576.5,496.5 576.5,493.5 576.5,497.5 576.5,487.5 577.5,501.5 577.5,500.5 577.5,500.5 577.5,499.5 577.5,499.5 577.5,490.5 577.5,490.5 577.5,497.5 577.5,494.5 577.5,499.5 577.5,485.5 578.5,513.5 578.5,497.5 578.5,497.5 578.5,492.5 578.5,499.5 578.5,492.5 578.5,500.5 578.5,494.5 578.5,494.5 578.5,488.5 579.5,490.5 579.5,495.5 579.5,492.5 579.5,492.5 579.5,488.5 579.5,493.5 579.5,495.5 579.5,498.5 579.5,505.5 579.5,502.5 579.5,481.5 580.5,493.5 580.5,481.5 580.5,499.5 580.5,493.5 580.5,500.5 580.5,494.5 580.5,494.5 580.5,488.5 580.5,497.5 580.5,504.5 581.5,500.5 581.5,494.5 581.5,494.5 581.5,494.5 581.5,488.5 581.5,489.5 581.5,497.5 581.5,494.5 581.5,493.5 581.5,496.5 581.5,495.5 582.5,493.5 582.5,493.5 582.5,496.5 582.5,487.5 582.5,493.5 582.5,507.5 582.5,501.5 582.5,480.5 582.5,497.5 582.5,495.5 583.5,495.5 583.5,499.5 583.5,489.5 583.5,497.5 583.5,493.5 583.5,500.5 583.5,501.5 583.5,490.5 583.5,492.5 583.5,484.5 583.5,502.5 584.5,500.5 584.5,495.5 584.5,488.5 584.5,486.5 584.5,493.5 584.5,495.5 584.5,497.5 584.5,490.5 584.5,487.5 584.5,496.5 584.5,506.5 585.5,505.5 585.5,496.5 585.5,492.5 585.5,498.5 585.5,492.5 585.5,501.5 585.5,493.5 585.5,503.5 585.5,491.5 585.5,493.5 586.5,490.5 586.5,496.5 586.5,497.5 586.5,497.5 586.5,496.5 586.5,491.5 586.5,497.5 586.5,501.5 586.5,496.5 586.5,501.5 586.5,492.5 587.5,492.5 587.5,498.5 587.5,505.5 587.5,489.5 587.5,493.5 587.5,498.5 587.5,492.5 587.5,488.5 587.5,499.5 587.5,493.5 588.5,495.5 588.5,494.5 588.5,493.5 588.5,498.5 588.5,490.5 588.5,496.5 588.5,497.5 588.5,479.5 588.5,497.5 588.5,487.5 588.5,498.5 589.5,498.5 589.5,498.5 589.5,490.5 589.5,505.5 589.5,488.5 589.5,491.5 589.5,510.5 589.5,489.5 589.5,491.5 589.5,497.5 589.5,491.5 590.5,501.5 590.5,497.5 590.5,501.5 590.5,496.5 590.5,493.5 590.5,498.5 590.5,498.5 590.5,497.5 590.5,480.5 590.5,501.5 591.5,494.5 591.5,488.5 591.5,495.5 591.5,492.5 591.5,496.5 591.5,497.5 591.5,503.5 591.5,495.5 591.5,497.5 591.5,496.5 591.5,496.5 592.5,485.5 592.5,502.5 592.5,501.5 592.5,494.5 592.5,486.5 592.5,491.5 592.5,483.5 592.5,495.5 592.5,498.5 592.5,500.5 593.5,507.5 593.5,494.5 593.5,501.5 593.5,486.5 593.5,494.5 593.5,498.5 593.5,493.5 593.5,493.5 593.5,503.5 593.5,489.5 593.5,504.5 594.5,492.5 594.5,495.5 594.5,491.5 594.5,498.5 594.5,495.5 594.5,491.5 594.5,493.5 594.5,484.5 594.5,493.5 594.5,492.5 594.5,503.5 595.5,492.5 595.5,495.5 595.5,494.5 595.5,496.5 595.5,499.5 595.5,492.5 595.5,496.5 595.5,496.5 595.5,500.5 595.5,496.5 596.5,499.5 596.5,495.5 596.5,497.5 596.5,494.5 596.5,492.5 596.5,498.5 596.5,493.5 596.5,490.5 596.5,499.5 596.5,489.5 596.5,505.5 597.5,494.5 597.5,492.5 597.5,492.5 597.5,493.5 597.5,493.5 597.5,498.5 597.5,499.5 597.5,503.5 597.5,498.5 597.5,494.5 598.5,496.5 598.5,493.5 598.5,507.5 598.5,492.5 598.5,491.5 598.5,502.5 598.5,495.5 598.5,495.5 598.5,487.5 598.5,496.5 598.5,497.5 599.5,505.5 599.5,494.5 599.5,493.5 599.5,495.5 599.5,494.5 599.5,498.5 599.5,495.5 599.5,493.5 599.5,494.5 599.5,495.5 599.5,493.5 600.5,495.5 600.5,495.5 600.5,495.5 600.5,487.5 600.5,496.5 600.5,495.5 600.5,502.5 600.5,494.5 600.5,486.5 600.5,493.5 601.5,497.5 601.5,501.5 601.5,491.5 601.5,496.5 601.5,500.5 601.5,497.5 601.5,487.5 601.5,484.5 601.5,498.5 601.5,490.5 601.5,500.5 602.5,498.5 602.5,501.5 602.5,497.5 602.5,501.5 602.5,497.5 602.5,462.5 602.5,496.5 602.5,494.5 602.5,497.5 602.5,485.5 603.5,505.5 603.5,496.5 603.5,491.5 603.5,501.5 603.5,487.5 603.5,483.5 603.5,499.5 603.5,493.5 603.5,493.5 603.5,494.5 603.5,495.5 604.5,499.5 604.5,496.5 604.5,497.5 604.5,500.5 604.5,498.5 604.5,494.5 604.5,490.5 604.5,491.5 604.5,483.5 604.5,496.5 604.5,493.5 605.5,499.5 605.5,497.5 605.5,489.5 605.5,494.5 605.5,506.5 605.5,495.5 605.5,490.5 605.5,492.5 605.5,487.5 605.5,492.5 606.5,491.5 606.5,498.5 606.5,498.5 606.5,500.5 606.5,496.5 606.5,491.5 606.5,500.5 606.5,491.5 606.5,497.5 606.5,499.5 606.5,495.5 607.5,493.5 607.5,494.5 607.5,466.5 607.5,496.5 607.5,493.5 607.5,498.5 607.5,492.5 607.5,487.5 607.5,496.5 607.5,495.5 608.5,507.5 608.5,504.5 608.5,497.5 608.5,493.5 608.5,487.5 608.5,501.5 608.5,492.5 608.5,500.5 608.5,485.5 608.5,501.5 608.5,492.5 609.5,497.5 609.5,484.5 609.5,495.5 609.5,497.5 609.5,506.5 609.5,495.5 609.5,505.5 609.5,490.5 609.5,492.5 609.5,496.5 609.5,497.5 610.5,495.5 610.5,500.5 610.5,510.5 610.5,485.5 610.5,489.5 610.5,495.5 610.5,484.5 610.5,498.5 610.5,495.5 610.5,490.5 611.5,493.5 611.5,496.5 611.5,495.5 611.5,498.5 611.5,498.5 611.5,500.5 611.5,494.5 611.5,477.5 611.5,496.5 611.5,506.5 611.5,490.5 612.5,495.5 612.5,501.5 612.5,492.5 612.5,496.5 612.5,495.5 612.5,495.5 612.5,498.5 612.5,496.5 612.5,492.5 612.5,498.5 613.5,498.5 613.5,494.5 613.5,488.5 613.5,497.5 613.5,487.5 613.5,496.5 613.5,494.5 613.5,481.5 613.5,494.5 613.5,499.5 613.5,494.5 614.5,502.5 614.5,492.5 614.5,491.5 614.5,498.5 614.5,494.5 614.5,497.5 614.5,478.5 614.5,494.5 614.5,495.5 614.5,495.5 614.5,494.5 615.5,489.5 615.5,488.5 615.5,501.5 615.5,492.5 615.5,491.5 615.5,493.5 615.5,492.5 615.5,494.5 615.5,492.5 615.5,495.5 616.5,488.5 616.5,497.5 616.5,500.5 616.5,491.5 616.5,497.5 616.5,500.5 616.5,495.5 616.5,491.5 616.5,503.5 616.5,498.5 616.5,495.5 617.5,491.5 617.5,488.5 617.5,492.5 617.5,501.5 617.5,491.5 617.5,500.5 617.5,495.5 617.5,495.5 617.5,494.5 617.5,494.5 618.5,501.5 618.5,490.5 618.5,491.5 618.5,500.5 618.5,495.5 618.5,496.5 618.5,498.5 618.5,490.5 618.5,496.5 618.5,489.5 618.5,492.5 619.5,505.5 619.5,495.5 619.5,498.5 619.5,497.5 619.5,493.5 619.5,493.5 619.5,508.5 619.5,488.5 619.5,494.5 619.5,499.5 619.5,491.5 620.5,493.5 620.5,495.5 620.5,502.5 620.5,502.5 620.5,497.5 620.5,499.5 620.5,490.5 620.5,492.5 620.5,489.5 620.5,492.5 621.5,496.5 621.5,495.5 621.5,495.5 621.5,476.5 621.5,493.5 621.5,494.5 621.5,499.5 621.5,498.5 621.5,497.5 621.5,492.5 621.5,505.5 622.5,502.5 622.5,495.5 622.5,494.5 622.5,501.5 622.5,493.5 622.5,497.5 622.5,491.5 622.5,506.5 622.5,502.5 622.5,483.5 623.5,491.5 623.5,498.5 623.5,493.5 623.5,492.5 623.5,499.5 623.5,498.5 623.5,495.5 623.5,497.5 623.5,494.5 623.5,501.5 623.5,498.5 624.5,492.5 624.5,498.5 624.5,490.5 624.5,490.5 624.5,493.5 624.5,488.5 624.5,495.5 624.5,497.5 624.5,495.5 624.5,497.5 624.5,498.5 625.5,494.5 625.5,482.5 625.5,498.5 625.5,497.5 625.5,494.5 625.5,495.5 625.5,493.5 625.5,494.5 625.5,485.5 625.5,495.5 626.5,489.5 626.5,492.5 626.5,494.5 626.5,495.5 626.5,484.5 626.5,496.5 626.5,497.5 626.5,495.5 626.5,497.5 626.5,497.5 626.5,490.5 627.5,496.5 627.5,501.5 627.5,491.5 627.5,499.5 627.5,478.5 627.5,491.5 627.5,496.5 627.5,496.5 627.5,492.5 627.5,498.5 628.5,496.5 628.5,496.5 628.5,495.5 628.5,493.5 628.5,497.5 628.5,497.5 628.5,494.5 628.5,498.5 628.5,494.5 628.5,499.5 628.5,495.5 629.5,494.5 629.5,495.5 629.5,498.5 629.5,505.5 629.5,492.5 629.5,496.5 629.5,492.5 629.5,492.5 629.5,494.5 629.5,493.5 630.5,502.5 630.5,497.5 630.5,493.5 630.5,494.5 630.5,506.5 630.5,496.5 630.5,494.5 630.5,494.5 630.5,503.5 630.5,492.5 630.5,498.5 631.5,484.5 631.5,496.5 631.5,498.5 631.5,498.5 631.5,493.5 631.5,494.5 631.5,503.5 631.5,492.5 631.5,493.5 631.5,497.5 631.5,484.5 632.5,489.5 632.5,495.5 632.5,497.5 632.5,503.5 632.5,497.5 632.5,494.5 632.5,492.5 632.5,499.5 632.5,497.5 632.5,497.5 633.5,497.5 633.5,506.5 633.5,497.5 633.5,494.5 633.5,496.5 633.5,496.5 633.5,475.5 633.5,490.5 633.5,493.5 633.5,495.5 633.5,458.5 634.5,495.5 634.5,490.5 634.5,495.5 634.5,493.5 634.5,476.5 634.5,496.5 634.5,493.5 634.5,496.5 634.5,493.5 634.5,494.5 635.5,491.5 635.5,491.5 635.5,502.5 635.5,495.5 635.5,494.5 635.5,488.5 635.5,496.5 635.5,492.5 635.5,488.5 635.5,495.5 635.5,498.5 636.5,498.5 636.5,505.5 636.5,495.5 636.5,497.5 636.5,491.5 636.5,500.5 636.5,491.5 636.5,493.5 636.5,504.5 636.5,490.5 636.5,495.5 637.5,495.5 637.5,492.5 637.5,492.5 637.5,499.5 637.5,487.5 637.5,494.5 637.5,498.5 637.5,498.5 637.5,495.5 637.5,490.5 638.5,494.5 638.5,491.5 638.5,490.5 638.5,496.5 638.5,490.5 638.5,498.5 638.5,488.5 638.5,494.5 638.5,495.5 638.5,493.5 638.5,500.5 639.5,491.5 639.5,495.5 639.5,497.5 639.5,497.5 639.5,493.5 639.5,479.5 639.5,496.5 639.5,499.5 639.5,489.5 639.5,497.5 640.5,493.5 640.5,494.5 640.5,494.5 640.5,494.5 640.5,497.5 640.5,498.5 640.5,497.5 640.5,496.5 640.5,484.5 640.5,489.5 640.5,497.5 641.5,498.5 641.5,499.5 641.5,483.5 641.5,499.5 641.5,497.5 641.5,496.5 641.5,497.5 641.5,507.5 641.5,497.5 641.5,494.5 641.5,487.5 642.5,495.5 642.5,491.5 642.5,498.5 642.5,497.5 642.5,498.5 642.5,491.5 642.5,498.5 642.5,496.5 642.5,492.5 642.5,493.5 643.5,496.5 643.5,493.5 643.5,497.5 643.5,495.5 643.5,502.5 643.5,499.5 643.5,498.5 643.5,496.5 643.5,499.5 643.5,497.5 643.5,490.5 644.5,496.5 644.5,497.5 644.5,493.5 644.5,497.5 644.5,496.5 644.5,475.5 644.5,496.5 644.5,502.5 644.5,494.5 644.5,493.5 645.5,493.5 645.5,500.5 645.5,494.5 645.5,495.5 645.5,496.5 645.5,499.5 645.5,494.5 645.5,494.5 645.5,492.5 645.5,501.5 645.5,492.5 646.5,497.5 646.5,492.5 646.5,491.5 646.5,496.5 646.5,499.5 646.5,475.5 646.5,493.5 646.5,498.5 646.5,495.5 646.5,493.5 646.5,495.5 647.5,497.5 647.5,503.5 647.5,493.5 647.5,497.5 647.5,499.5 647.5,497.5 647.5,493.5 647.5,500.5 647.5,507.5 647.5,499.5 648.5,497.5 648.5,491.5 648.5,499.5 648.5,501.5 648.5,489.5 648.5,492.5 648.5,494.5 648.5,496.5 648.5,507.5 648.5,490.5 648.5,500.5 649.5,494.5 649.5,489.5 649.5,493.5 649.5,502.5 649.5,492.5 649.5,467.5 649.5,491.5 649.5,491.5 649.5,504.5 649.5,499.5 650.5,496.5 650.5,500.5 650.5,492.5 650.5,497.5 650.5,490.5 650.5,491.5 650.5,493.5 650.5,497.5 650.5,487.5 650.5,494.5 650.5,486.5 651.5,489.5 651.5,493.5 651.5,489.5 651.5,494.5 651.5,498.5 651.5,493.5 651.5,504.5 651.5,496.5 651.5,492.5 651.5,488.5 651.5,496.5 652.5,495.5 652.5,493.5 652.5,491.5 652.5,496.5 652.5,491.5 652.5,499.5 652.5,499.5 652.5,496.5 652.5,496.5 652.5,496.5 653.5,494.5 653.5,492.5 653.5,494.5 653.5,480.5 653.5,496.5 653.5,497.5 653.5,487.5 653.5,477.5 653.5,495.5 653.5,495.5 653.5,486.5 654.5,487.5 654.5,493.5 654.5,496.5 654.5,498.5 654.5,494.5 654.5,495.5 654.5,495.5 654.5,493.5 654.5,495.5 654.5,492.5 655.5,494.5 655.5,501.5 655.5,491.5 655.5,488.5 655.5,490.5 655.5,493.5 655.5,493.5 655.5,487.5 655.5,490.5 655.5,496.5 655.5,493.5 656.5,488.5 656.5,498.5 656.5,501.5 656.5,493.5 656.5,491.5 656.5,500.5 656.5,499.5 656.5,497.5 656.5,499.5 656.5,496.5 656.5,494.5 657.5,496.5 657.5,492.5 657.5,496.5 657.5,504.5 657.5,491.5 657.5,494.5 657.5,492.5 657.5,496.5 657.5,498.5 657.5,500.5 658.5,507.5 658.5,495.5 658.5,500.5 658.5,492.5 658.5,497.5 658.5,495.5 658.5,485.5 658.5,486.5 658.5,498.5 658.5,491.5 658.5,498.5 659.5,498.5 659.5,499.5 659.5,494.5 659.5,491.5 659.5,496.5 659.5,493.5 659.5,496.5 659.5,494.5 659.5,495.5 659.5,493.5 660.5,505.5 660.5,487.5 660.5,486.5 660.5,496.5 660.5,493.5 660.5,481.5 660.5,491.5 660.5,495.5 660.5,492.5 660.5,497.5 660.5,498.5 661.5,504.5 661.5,501.5 661.5,496.5 661.5,488.5 661.5,497.5 661.5,500.5 661.5,496.5 661.5,497.5 661.5,489.5 661.5,496.5 661.5,492.5 662.5,486.5 662.5,487.5 662.5,491.5 662.5,491.5 662.5,492.5 662.5,496.5 662.5,497.5 662.5,492.5 662.5,496.5 662.5,497.5 663.5,494.5 663.5,500.5 663.5,489.5 663.5,490.5 663.5,495.5 663.5,490.5 663.5,495.5 663.5,498.5 663.5,493.5 663.5,494.5 663.5,494.5 664.5,493.5 664.5,486.5 664.5,484.5 664.5,492.5 664.5,489.5 664.5,496.5 664.5,491.5 664.5,494.5 664.5,470.5 664.5,488.5 665.5,497.5 665.5,493.5 665.5,497.5 665.5,487.5 665.5,500.5 665.5,494.5 665.5,500.5 665.5,489.5 665.5,497.5 665.5,494.5 665.5,496.5 666.5,493.5 666.5,502.5 666.5,500.5 666.5,489.5 666.5,499.5 666.5,496.5 666.5,497.5 666.5,490.5 666.5,504.5 666.5,498.5 666.5,496.5 667.5,488.5 667.5,498.5 667.5,497.5 667.5,499.5 667.5,498.5 667.5,488.5 667.5,498.5 667.5,502.5 667.5,495.5 667.5,489.5 668.5,490.5 668.5,488.5 668.5,495.5 668.5,495.5 668.5,492.5 668.5,505.5 668.5,497.5 668.5,492.5 668.5,466.5 668.5,497.5 668.5,493.5 669.5,504.5 669.5,490.5 669.5,492.5 669.5,496.5 669.5,487.5 669.5,490.5 669.5,494.5 669.5,494.5 669.5,490.5 669.5,492.5 670.5,496.5 670.5,498.5 670.5,493.5 670.5,491.5 670.5,497.5 670.5,508.5 670.5,497.5 670.5,499.5 670.5,492.5 670.5,498.5 670.5,498.5 671.5,492.5 671.5,497.5 671.5,491.5 671.5,500.5 671.5,490.5 671.5,497.5 671.5,492.5 671.5,483.5 671.5,492.5 671.5,488.5 671.5,495.5 672.5,492.5 672.5,492.5 672.5,493.5 672.5,496.5 672.5,494.5 672.5,492.5 672.5,495.5 672.5,504.5 672.5,496.5 672.5,496.5 673.5,491.5 673.5,495.5 673.5,498.5 673.5,489.5 673.5,489.5 673.5,496.5 673.5,485.5 673.5,490.5 673.5,496.5 673.5,493.5 673.5,489.5 674.5,505.5 674.5,497.5 674.5,491.5 674.5,493.5 674.5,488.5 674.5,490.5 674.5,492.5 674.5,499.5 674.5,505.5 674.5,491.5 675.5,497.5 675.5,484.5 675.5,498.5 675.5,498.5 675.5,493.5 675.5,496.5 675.5,486.5 675.5,497.5 675.5,485.5 675.5,497.5 675.5,493.5 676.5,492.5 676.5,505.5 676.5,497.5 676.5,502.5 676.5,492.5 676.5,489.5 676.5,478.5 676.5,493.5 676.5,498.5 676.5,494.5 676.5,493.5 677.5,499.5 677.5,492.5 677.5,491.5 677.5,499.5 677.5,495.5 677.5,496.5 677.5,489.5 677.5,494.5 677.5,509.5 677.5,496.5 678.5,492.5 678.5,486.5 678.5,491.5 678.5,492.5 678.5,493.5 678.5,495.5 678.5,494.5 678.5,495.5 678.5,488.5 678.5,491.5 678.5,495.5 679.5,498.5 679.5,500.5 679.5,490.5 679.5,494.5 679.5,492.5 679.5,507.5 679.5,489.5 679.5,488.5 679.5,494.5 679.5,490.5 680.5,494.5 680.5,495.5 680.5,493.5 680.5,498.5 680.5,510.5 680.5,494.5 680.5,491.5 680.5,500.5 680.5,492.5 680.5,468.5 680.5,495.5 681.5,493.5 681.5,488.5 681.5,498.5 681.5,492.5 681.5,496.5 681.5,495.5 681.5,498.5 681.5,496.5 681.5,492.5 681.5,499.5 682.5,498.5 682.5,496.5 682.5,489.5 682.5,499.5 682.5,499.5 682.5,496.5 682.5,500.5 682.5,505.5 682.5,493.5 682.5,492.5 682.5,498.5 683.5,495.5 683.5,491.5 683.5,489.5 683.5,497.5 683.5,502.5 683.5,492.5 683.5,502.5 683.5,491.5 683.5,498.5 683.5,500.5 683.5,492.5 684.5,490.5 684.5,495.5 684.5,500.5 684.5,495.5 684.5,494.5 684.5,493.5 684.5,514.5 684.5,494.5 684.5,479.5 684.5,505.5 685.5,493.5 685.5,488.5 685.5,495.5 685.5,496.5 685.5,491.5 685.5,494.5 685.5,492.5 685.5,493.5 685.5,496.5 685.5,496.5 685.5,492.5 686.5,495.5 686.5,497.5 686.5,492.5 686.5,489.5 686.5,491.5 686.5,472.5 686.5,497.5 686.5,487.5 686.5,492.5 686.5,499.5 687.5,494.5 687.5,495.5 687.5,489.5 687.5,491.5 687.5,490.5 687.5,503.5 687.5,502.5 687.5,496.5 687.5,491.5 687.5,495.5 687.5,485.5 688.5,497.5 688.5,499.5 688.5,500.5 688.5,497.5 688.5,497.5 688.5,489.5 688.5,500.5 688.5,498.5 688.5,497.5 688.5,488.5 688.5,497.5 689.5,494.5 689.5,495.5 689.5,496.5 689.5,494.5 689.5,497.5 689.5,489.5 689.5,493.5 689.5,496.5 689.5,496.5 689.5,490.5 690.5,503.5 690.5,466.5 690.5,471.5 690.5,494.5 690.5,500.5 690.5,490.5 690.5,496.5 690.5,488.5 690.5,501.5 690.5,496.5 690.5,490.5 691.5,498.5 691.5,468.5 691.5,493.5 691.5,497.5 691.5,492.5 691.5,496.5 691.5,499.5 691.5,496.5 691.5,495.5 691.5,501.5 692.5,491.5 692.5,499.5 692.5,494.5 692.5,498.5 692.5,496.5 692.5,501.5 692.5,496.5 692.5,497.5 692.5,492.5 692.5,485.5 692.5,496.5 693.5,499.5 693.5,491.5 693.5,497.5 693.5,492.5 693.5,500.5 693.5,498.5 693.5,488.5 693.5,497.5 693.5,495.5 693.5,506.5 693.5,488.5 694.5,494.5 694.5,504.5 694.5,503.5 694.5,492.5 694.5,492.5 694.5,493.5 694.5,488.5 694.5,506.5 694.5,496.5 694.5,498.5 695.5,500.5 695.5,493.5 695.5,466.5 695.5,480.5 695.5,498.5 695.5,501.5 695.5,491.5 695.5,502.5 695.5,502.5 695.5,502.5 695.5,493.5 696.5,489.5 696.5,492.5 696.5,494.5 696.5,505.5 696.5,497.5 696.5,493.5 696.5,510.5 696.5,491.5 696.5,493.5 696.5,497.5 697.5,506.5 697.5,500.5 697.5,491.5 697.5,505.5 697.5,500.5 697.5,507.5 697.5,504.5 697.5,496.5 697.5,494.5 697.5,494.5 697.5,501.5 698.5,495.5 698.5,498.5 698.5,494.5 698.5,490.5 698.5,488.5 698.5,494.5 698.5,497.5 698.5,497.5 698.5,492.5 698.5,495.5 698.5,498.5 699.5,497.5 699.5,498.5 699.5,491.5 699.5,506.5 699.5,493.5 699.5,502.5 699.5,496.5 699.5,493.5 699.5,492.5 699.5,497.5 700.5,502.5 700.5,501.5 700.5,494.5 700.5,495.5 700.5,502.5 700.5,497.5 700.5,499.5 700.5,502.5 700.5,491.5 700.5,497.5 700.5,501.5 701.5,499.5 701.5,496.5 701.5,492.5 701.5,492.5 701.5,496.5 701.5,494.5 701.5,487.5 701.5,471.5 701.5,494.5 701.5,484.5 702.5,496.5 702.5,493.5 702.5,502.5 702.5,501.5 702.5,490.5 702.5,497.5 702.5,491.5 702.5,490.5 702.5,493.5 702.5,498.5 702.5,496.5 703.5,503.5 703.5,496.5 703.5,493.5 703.5,503.5 703.5,497.5 703.5,499.5 703.5,490.5 703.5,501.5 703.5,494.5 703.5,494.5 703.5,492.5 704.5,497.5 704.5,492.5 704.5,495.5 704.5,502.5 704.5,489.5 704.5,491.5 704.5,492.5 704.5,488.5 704.5,495.5 704.5,499.5 705.5,493.5 705.5,505.5 705.5,498.5 705.5,501.5 705.5,500.5 705.5,493.5 705.5,494.5 705.5,497.5 705.5,495.5 705.5,496.5 705.5,490.5 706.5,499.5 706.5,491.5 706.5,501.5 706.5,508.5 706.5,492.5 706.5,495.5 706.5,495.5 706.5,491.5 706.5,498.5 706.5,499.5 707.5,498.5 707.5,487.5 707.5,497.5 707.5,501.5 707.5,494.5 707.5,495.5 707.5,493.5 707.5,505.5 707.5,493.5 707.5,506.5 707.5,500.5 708.5,502.5 708.5,500.5 708.5,495.5 708.5,496.5 708.5,488.5 708.5,491.5 708.5,488.5 708.5,502.5 708.5,494.5 708.5,514.5 708.5,493.5 709.5,501.5 709.5,495.5 709.5,493.5 709.5,496.5 709.5,495.5 709.5,494.5 709.5,501.5 709.5,495.5 709.5,497.5 709.5,493.5 710.5,492.5 710.5,498.5 710.5,490.5 710.5,495.5 710.5,486.5 710.5,497.5 710.5,509.5 710.5,495.5 710.5,495.5 710.5,492.5 710.5,497.5 711.5,502.5 711.5,508.5 711.5,498.5 711.5,500.5 711.5,501.5 711.5,504.5 711.5,498.5 711.5,494.5 711.5,492.5 711.5,495.5 712.5,495.5 712.5,497.5 712.5,505.5 712.5,496.5 712.5,502.5 712.5,495.5 712.5,495.5 712.5,493.5 712.5,498.5 712.5,492.5 712.5,503.5 713.5,496.5 713.5,500.5 713.5,495.5 713.5,510.5 713.5,492.5 713.5,496.5 713.5,498.5 713.5,493.5 713.5,494.5 713.5,463.5 713.5,497.5 714.5,493.5 714.5,495.5 714.5,501.5 714.5,504.5 714.5,498.5 714.5,511.5 714.5,493.5 714.5,496.5 714.5,503.5 714.5,495.5 715.5,492.5 715.5,494.5 715.5,503.5 715.5,498.5 715.5,496.5 715.5,494.5 715.5,497.5 715.5,502.5 715.5,497.5 715.5,501.5 715.5,498.5 716.5,503.5 716.5,498.5 716.5,517.5 716.5,508.5 716.5,466.5 716.5,511.5 716.5,498.5 716.5,500.5 716.5,495.5 716.5,494.5 717.5,487.5 717.5,502.5 717.5,501.5 717.5,500.5 717.5,503.5 717.5,495.5 717.5,497.5 717.5,501.5 717.5,505.5 717.5,503.5 717.5,493.5 718.5,502.5 718.5,495.5 718.5,504.5 718.5,500.5 718.5,502.5 718.5,492.5 718.5,496.5 718.5,505.5 718.5,495.5 718.5,485.5 718.5,494.5 719.5,488.5 719.5,501.5 719.5,496.5 719.5,480.5 719.5,501.5 719.5,499.5 719.5,499.5 719.5,491.5 719.5,493.5 719.5,505.5 720.5,493.5 720.5,501.5 720.5,488.5 720.5,502.5 720.5,502.5 720.5,501.5 720.5,499.5 720.5,493.5 720.5,494.5 720.5,499.5 720.5,501.5 721.5,489.5 721.5,504.5 721.5,501.5 721.5,504.5 721.5,502.5 721.5,500.5 721.5,495.5 721.5,494.5 721.5,493.5 721.5,497.5 722.5,496.5 722.5,503.5 722.5,504.5 722.5,504.5 722.5,495.5 722.5,502.5 722.5,496.5 722.5,497.5 722.5,497.5 722.5,505.5 722.5,497.5 723.5,507.5 723.5,507.5 723.5,493.5 723.5,492.5 723.5,501.5 723.5,495.5 723.5,500.5 723.5,504.5 723.5,500.5 723.5,490.5 723.5,500.5 724.5,501.5 724.5,494.5 724.5,497.5 724.5,501.5 724.5,508.5 724.5,495.5 724.5,466.5 724.5,498.5 724.5,493.5 724.5,496.5 725.5,495.5 725.5,497.5 725.5,498.5 725.5,497.5 725.5,496.5 725.5,498.5 725.5,498.5 725.5,501.5 725.5,499.5 725.5,508.5 725.5,488.5 726.5,495.5 726.5,499.5 726.5,502.5 726.5,496.5 726.5,499.5 726.5,495.5 726.5,502.5 726.5,504.5 726.5,504.5 726.5,493.5 727.5,495.5 727.5,474.5 727.5,498.5 727.5,497.5 727.5,503.5 727.5,495.5 727.5,495.5 727.5,503.5 727.5,495.5 727.5,500.5 727.5,480.5 728.5,500.5 728.5,501.5 728.5,490.5 728.5,497.5 728.5,499.5 728.5,491.5 728.5,497.5 728.5,480.5 728.5,503.5 728.5,494.5 729.5,498.5 729.5,500.5 729.5,499.5 729.5,498.5 729.5,493.5 729.5,497.5 729.5,498.5 729.5,495.5 729.5,510.5 729.5,500.5 729.5,490.5 730.5,499.5 730.5,490.5 730.5,495.5 730.5,496.5 730.5,511.5 730.5,500.5 730.5,497.5 730.5,495.5 730.5,503.5 730.5,498.5 730.5,490.5 731.5,503.5 731.5,498.5 731.5,499.5 731.5,497.5 731.5,498.5 731.5,496.5 731.5,501.5 731.5,493.5 731.5,509.5 731.5,501.5 732.5,498.5 732.5,501.5 732.5,499.5 732.5,501.5 732.5,497.5 732.5,496.5 732.5,498.5 732.5,503.5 732.5,485.5 732.5,501.5 732.5,499.5 733.5,500.5 733.5,496.5 733.5,503.5 733.5,479.5 733.5,501.5 733.5,491.5 733.5,502.5 733.5,501.5 733.5,500.5 733.5,495.5 734.5,486.5 734.5,506.5 734.5,509.5 734.5,500.5 734.5,493.5 734.5,499.5 734.5,495.5 734.5,490.5 734.5,505.5 734.5,502.5 734.5,503.5 735.5,495.5 735.5,495.5 735.5,502.5 735.5,502.5 735.5,496.5 735.5,502.5 735.5,492.5 735.5,502.5 735.5,502.5 735.5,502.5 735.5,502.5 736.5,501.5 736.5,501.5 736.5,501.5 736.5,498.5 736.5,491.5 736.5,496.5 736.5,498.5 736.5,493.5 736.5,499.5 736.5,502.5 737.5,500.5 737.5,506.5 737.5,501.5 737.5,500.5 737.5,496.5 737.5,494.5 737.5,497.5 737.5,487.5 737.5,497.5 737.5,493.5 737.5,496.5 738.5,508.5 738.5,512.5 738.5,505.5 738.5,496.5 738.5,501.5 738.5,513.5 738.5,502.5 738.5,502.5 738.5,499.5 738.5,500.5 739.5,495.5 739.5,502.5 739.5,480.5 739.5,501.5 739.5,494.5 739.5,500.5 739.5,497.5 739.5,498.5 739.5,501.5 739.5,504.5 739.5,495.5 740.5,501.5 740.5,498.5 740.5,509.5 740.5,507.5 740.5,496.5 740.5,494.5 740.5,505.5 740.5,499.5 740.5,495.5 740.5,507.5 740.5,508.5 741.5,511.5 741.5,501.5 741.5,498.5 741.5,500.5 741.5,500.5 741.5,501.5 741.5,495.5 741.5,502.5 741.5,510.5 741.5,498.5 742.5,505.5 742.5,488.5 742.5,498.5 742.5,500.5 742.5,499.5 742.5,499.5 742.5,501.5 742.5,495.5 742.5,501.5 742.5,491.5 742.5,495.5 743.5,499.5 743.5,504.5 743.5,507.5 743.5,509.5 743.5,501.5 743.5,502.5 743.5,503.5 743.5,504.5 743.5,504.5 743.5,504.5 744.5,508.5 744.5,497.5 744.5,497.5 744.5,498.5 744.5,499.5 744.5,499.5 744.5,509.5 744.5,499.5 744.5,477.5 744.5,495.5 744.5,499.5 745.5,497.5 745.5,502.5 745.5,478.5 745.5,506.5 745.5,508.5 745.5,498.5 745.5,503.5 745.5,506.5 745.5,507.5 745.5,502.5 745.5,504.5 746.5,477.5 746.5,501.5 746.5,502.5 746.5,502.5 746.5,494.5 746.5,505.5 746.5,501.5 746.5,499.5 746.5,503.5 746.5,502.5 747.5,505.5 747.5,501.5 747.5,500.5 747.5,498.5 747.5,498.5 747.5,500.5 747.5,496.5 747.5,500.5 747.5,501.5 747.5,501.5 747.5,496.5 748.5,507.5 748.5,499.5 748.5,499.5 748.5,503.5 748.5,501.5 748.5,503.5 748.5,503.5 748.5,502.5 748.5,502.5 748.5,500.5 749.5,504.5 749.5,491.5 749.5,501.5 749.5,501.5 749.5,505.5 749.5,505.5 749.5,503.5 749.5,495.5 749.5,504.5 749.5,498.5 749.5,460.5 750.5,496.5 750.5,499.5 750.5,489.5 750.5,500.5 750.5,501.5 750.5,495.5 750.5,495.5 750.5,496.5 750.5,499.5 750.5,496.5 750.5,498.5 751.5,505.5 751.5,499.5 751.5,503.5 751.5,507.5 751.5,496.5 751.5,498.5 751.5,495.5 751.5,499.5 751.5,498.5 751.5,499.5 752.5,505.5 752.5,482.5 752.5,497.5 752.5,496.5 752.5,501.5 752.5,499.5 752.5,494.5 752.5,503.5 752.5,500.5 752.5,504.5 752.5,502.5 753.5,499.5 753.5,500.5 753.5,500.5 753.5,493.5 753.5,497.5 753.5,496.5 753.5,502.5 753.5,496.5 753.5,488.5 753.5,500.5 754.5,491.5 754.5,503.5 754.5,505.5 754.5,506.5 754.5,497.5 754.5,502.5 754.5,498.5 754.5,502.5 754.5,502.5 754.5,480.5 754.5,506.5 755.5,488.5 755.5,497.5 755.5,495.5 755.5,499.5 755.5,500.5 755.5,505.5 755.5,499.5 755.5,504.5 755.5,498.5 755.5,494.5 755.5,502.5 756.5,501.5 756.5,496.5 756.5,504.5 756.5,502.5 756.5,498.5 756.5,501.5 756.5,501.5 756.5,502.5 756.5,515.5 756.5,493.5 757.5,500.5 757.5,499.5 757.5,502.5 757.5,501.5 757.5,499.5 757.5,498.5 757.5,503.5 757.5,494.5 757.5,510.5 757.5,498.5 757.5,497.5 758.5,498.5 758.5,499.5 758.5,501.5 758.5,507.5 758.5,496.5 758.5,507.5 758.5,505.5 758.5,502.5 758.5,501.5 758.5,505.5 759.5,501.5 759.5,502.5 759.5,501.5 759.5,505.5 759.5,499.5 759.5,496.5 759.5,502.5 759.5,513.5 759.5,500.5 759.5,499.5 759.5,500.5 760.5,509.5 760.5,502.5 760.5,511.5 760.5,502.5 760.5,512.5 760.5,498.5 760.5,482.5 760.5,498.5 760.5,501.5 760.5,497.5 760.5,504.5 761.5,501.5 761.5,499.5 761.5,509.5 761.5,498.5 761.5,496.5 761.5,508.5 761.5,498.5 761.5,499.5 761.5,501.5 761.5,510.5 762.5,496.5 762.5,499.5 762.5,483.5 762.5,494.5 762.5,499.5 762.5,498.5 762.5,498.5 762.5,493.5 762.5,504.5 762.5,494.5 762.5,496.5 763.5,504.5 763.5,495.5 763.5,502.5 763.5,495.5 763.5,498.5 763.5,498.5 763.5,508.5 763.5,505.5 763.5,499.5 763.5,498.5 764.5,490.5 764.5,510.5 764.5,496.5 764.5,498.5 764.5,494.5 764.5,501.5 764.5,497.5 764.5,498.5 764.5,503.5 764.5,508.5 764.5,501.5 765.5,502.5 765.5,498.5 765.5,492.5 765.5,504.5 765.5,500.5 765.5,505.5 765.5,497.5 765.5,500.5 765.5,505.5 765.5,502.5 765.5,504.5 766.5,495.5 766.5,502.5 766.5,501.5 766.5,504.5 766.5,494.5 766.5,498.5 766.5,498.5 766.5,499.5 766.5,499.5 766.5,469.5 767.5,505.5 767.5,503.5 767.5,500.5 767.5,500.5 767.5,505.5 767.5,497.5 767.5,497.5 767.5,501.5 767.5,492.5 767.5,501.5 767.5,503.5 768.5,504.5 768.5,501.5 768.5,505.5 768.5,497.5 768.5,501.5 768.5,502.5 768.5,490.5 768.5,474.5 768.5,500.5 768.5,501.5 769.5,500.5 769.5,505.5 769.5,514.5 769.5,509.5 769.5,500.5 769.5,497.5 769.5,499.5 769.5,505.5 769.5,500.5 769.5,499.5 769.5,488.5 770.5,498.5 770.5,504.5 770.5,505.5 770.5,496.5 770.5,511.5 770.5,499.5 770.5,512.5 770.5,495.5 770.5,504.5 770.5,507.5 770.5,512.5 771.5,502.5 771.5,503.5 771.5,499.5 771.5,503.5 771.5,501.5 771.5,504.5 771.5,511.5 771.5,504.5 771.5,498.5 771.5,497.5 772.5,499.5 772.5,502.5 772.5,504.5 772.5,504.5 772.5,507.5 772.5,500.5 772.5,502.5 772.5,504.5 772.5,505.5 772.5,509.5 772.5,501.5 773.5,499.5 773.5,498.5 773.5,503.5 773.5,491.5 773.5,505.5 773.5,507.5 773.5,505.5 773.5,483.5 773.5,503.5 773.5,497.5 774.5,491.5 774.5,504.5 774.5,504.5 774.5,506.5 774.5,501.5 774.5,495.5 774.5,500.5 774.5,503.5 774.5,499.5 774.5,503.5 774.5,490.5 775.5,500.5 775.5,498.5 775.5,504.5 775.5,500.5 775.5,501.5 775.5,502.5 775.5,512.5 775.5,504.5 775.5,502.5 775.5,501.5 776.5,496.5 776.5,495.5 776.5,497.5 776.5,497.5 776.5,507.5 776.5,495.5 776.5,498.5 776.5,506.5 776.5,496.5 776.5,504.5 776.5,506.5 777.5,498.5 777.5,506.5 777.5,498.5 777.5,506.5 777.5,502.5 777.5,505.5 777.5,496.5 777.5,504.5 777.5,495.5 777.5,504.5 777.5,505.5 778.5,496.5 778.5,506.5 778.5,505.5 778.5,501.5 778.5,499.5 778.5,505.5 778.5,499.5 778.5,499.5 778.5,501.5 778.5,502.5 779.5,507.5 779.5,496.5 779.5,500.5 779.5,500.5 779.5,502.5 779.5,500.5 779.5,499.5 779.5,505.5 779.5,501.5 779.5,496.5 779.5,497.5 780.5,496.5 780.5,501.5 780.5,500.5 780.5,496.5 780.5,493.5 780.5,495.5 780.5,504.5 780.5,505.5 780.5,499.5 780.5,507.5 781.5,498.5 781.5,504.5 781.5,497.5 781.5,503.5 781.5,496.5 781.5,492.5 781.5,499.5 781.5,503.5 781.5,499.5 781.5,500.5 781.5,497.5 782.5,502.5 782.5,498.5 782.5,511.5 782.5,501.5 782.5,500.5 782.5,504.5 782.5,497.5 782.5,496.5 782.5,495.5 782.5,506.5 782.5,502.5 783.5,506.5 783.5,496.5 783.5,491.5 783.5,501.5 783.5,506.5 783.5,503.5 783.5,503.5 783.5,504.5 783.5,502.5 783.5,504.5 784.5,505.5 784.5,502.5 784.5,502.5 784.5,497.5 784.5,500.5 784.5,505.5 784.5,512.5 784.5,504.5 784.5,499.5 784.5,503.5 784.5,498.5 785.5,512.5 785.5,498.5 785.5,501.5 785.5,502.5 785.5,494.5 785.5,499.5 785.5,504.5 785.5,500.5 785.5,498.5 785.5,514.5 786.5,497.5 786.5,504.5 786.5,503.5 786.5,492.5 786.5,502.5 786.5,500.5 786.5,500.5 786.5,507.5 786.5,491.5 786.5,513.5 786.5,500.5 787.5,506.5 787.5,497.5 787.5,504.5 787.5,512.5 787.5,499.5 787.5,501.5 787.5,502.5 787.5,501.5 787.5,505.5 787.5,504.5 787.5,506.5 788.5,494.5 788.5,502.5 788.5,498.5 788.5,500.5 788.5,501.5 788.5,496.5 788.5,498.5 788.5,501.5 788.5,501.5 788.5,503.5 789.5,508.5 789.5,497.5 789.5,497.5 789.5,502.5 789.5,508.5 789.5,499.5 789.5,495.5 789.5,498.5 789.5,506.5 789.5,510.5 789.5,501.5 790.5,502.5 790.5,506.5 790.5,503.5 790.5,505.5 790.5,501.5 790.5,504.5 790.5,505.5 790.5,497.5 790.5,502.5 790.5,499.5 791.5,493.5 791.5,501.5 791.5,475.5 791.5,504.5 791.5,510.5 791.5,496.5 791.5,491.5 791.5,498.5 791.5,501.5 791.5,507.5 791.5,507.5 792.5,507.5 792.5,489.5 792.5,502.5 792.5,508.5 792.5,500.5 792.5,494.5 792.5,498.5 792.5,502.5 792.5,507.5 792.5,495.5 792.5,518.5 793.5,500.5 793.5,492.5 793.5,504.5 793.5,497.5 793.5,498.5 793.5,499.5 793.5,508.5 793.5,499.5 793.5,501.5 793.5,499.5 794.5,499.5 794.5,493.5 794.5,505.5 794.5,503.5 794.5,500.5 794.5,503.5 794.5,488.5 794.5,508.5 794.5,501.5 794.5,501.5 794.5,505.5 795.5,499.5 795.5,501.5 795.5,504.5 795.5,491.5 795.5,506.5 795.5,508.5 795.5,501.5 795.5,491.5 795.5,501.5 795.5,505.5 796.5,506.5 796.5,496.5 796.5,504.5 796.5,498.5 796.5,497.5 796.5,499.5 796.5,505.5 796.5,503.5 796.5,503.5 796.5,498.5 796.5,500.5 797.5,502.5 797.5,503.5 797.5,500.5 797.5,499.5 797.5,503.5 797.5,495.5 797.5,499.5 797.5,493.5 797.5,499.5 797.5,495.5 797.5,501.5 798.5,498.5 798.5,492.5 798.5,507.5 798.5,500.5 798.5,497.5 798.5,495.5 798.5,514.5 798.5,501.5 798.5,504.5 798.5,500.5 799.5,498.5 799.5,503.5 799.5,502.5 799.5,498.5 799.5,500.5 799.5,499.5 799.5,510.5 799.5,506.5 799.5,501.5 799.5,501.5 799.5,496.5 800.5,500.5 800.5,509.5 800.5,501.5 800.5,497.5 800.5,495.5 800.5,501.5 800.5,506.5 800.5,505.5 800.5,500.5 800.5,499.5 801.5,490.5 801.5,494.5 801.5,501.5 801.5,497.5 801.5,495.5 801.5,506.5 801.5,506.5 801.5,502.5 801.5,517.5 801.5,502.5 801.5,502.5 802.5,509.5 802.5,502.5 802.5,500.5 802.5,503.5 802.5,501.5 802.5,502.5 802.5,499.5 802.5,492.5 802.5,508.5 802.5,505.5 802.5,503.5 803.5,500.5 803.5,509.5 803.5,507.5 803.5,504.5 803.5,499.5 803.5,506.5 803.5,506.5 803.5,499.5 803.5,498.5 803.5,491.5 804.5,501.5 804.5,508.5 804.5,502.5 804.5,504.5 804.5,504.5 804.5,496.5 804.5,507.5 804.5,502.5 804.5,495.5 804.5,503.5 804.5,488.5 805.5,500.5 805.5,503.5 805.5,505.5 805.5,481.5 805.5,505.5 805.5,496.5 805.5,514.5 805.5,501.5 805.5,508.5 805.5,505.5 806.5,504.5 806.5,499.5 806.5,504.5 806.5,496.5 806.5,497.5 806.5,501.5 806.5,512.5 806.5,499.5 806.5,499.5 806.5,513.5 806.5,500.5 807.5,504.5 807.5,510.5 807.5,500.5 807.5,496.5 807.5,515.5 807.5,501.5 807.5,505.5 807.5,508.5 807.5,505.5 807.5,501.5 807.5,497.5 808.5,505.5 808.5,498.5 808.5,496.5 808.5,495.5 808.5,487.5 808.5,505.5 808.5,502.5 808.5,514.5 808.5,503.5 808.5,497.5 809.5,496.5 809.5,502.5 809.5,501.5 809.5,507.5 809.5,499.5 809.5,493.5 809.5,519.5 809.5,504.5 809.5,507.5 809.5,508.5 809.5,508.5 810.5,502.5 810.5,506.5 810.5,498.5 810.5,504.5 810.5,497.5 810.5,504.5 810.5,496.5 810.5,506.5 810.5,499.5 810.5,495.5 811.5,506.5 811.5,503.5 811.5,499.5 811.5,500.5 811.5,502.5 811.5,504.5 811.5,502.5 811.5,500.5 811.5,509.5 811.5,504.5 811.5,501.5 812.5,498.5 812.5,506.5 812.5,497.5 812.5,505.5 812.5,502.5 812.5,497.5 812.5,503.5 812.5,503.5 812.5,502.5 812.5,512.5 812.5,500.5 813.5,504.5 813.5,504.5 813.5,497.5 813.5,520.5 813.5,502.5 813.5,492.5 813.5,506.5 813.5,504.5 813.5,502.5 813.5,502.5 814.5,503.5 814.5,496.5 814.5,498.5 814.5,497.5 814.5,503.5 814.5,498.5 814.5,497.5 814.5,507.5 814.5,501.5 814.5,502.5 814.5,494.5 815.5,503.5 815.5,497.5 815.5,501.5 815.5,488.5 815.5,498.5 815.5,499.5 815.5,502.5 815.5,504.5 815.5,505.5 815.5,500.5 816.5,499.5 816.5,492.5 816.5,505.5 816.5,507.5 816.5,500.5 816.5,506.5 816.5,507.5 816.5,499.5 816.5,500.5 816.5,502.5 816.5,499.5 817.5,504.5 817.5,497.5 817.5,505.5 817.5,503.5 817.5,503.5 817.5,510.5 817.5,502.5 817.5,508.5 817.5,501.5 817.5,487.5 817.5,500.5 818.5,500.5 818.5,500.5 818.5,503.5 818.5,508.5 818.5,512.5 818.5,506.5 818.5,503.5 818.5,503.5 818.5,501.5 818.5,502.5 819.5,505.5 819.5,507.5 819.5,504.5 819.5,493.5 819.5,502.5 819.5,505.5 819.5,510.5 819.5,504.5 819.5,493.5 819.5,501.5 819.5,502.5 820.5,503.5 820.5,501.5 820.5,504.5 820.5,501.5 820.5,502.5 820.5,499.5 820.5,498.5 820.5,496.5 820.5,505.5 820.5,496.5 821.5,502.5 821.5,499.5 821.5,500.5 821.5,506.5 821.5,513.5 821.5,498.5 821.5,498.5 821.5,501.5 821.5,501.5 821.5,465.5 821.5,505.5 822.5,506.5 822.5,511.5 822.5,501.5 822.5,505.5 822.5,499.5 822.5,501.5 822.5,501.5 822.5,501.5 822.5,503.5 822.5,497.5 823.5,504.5 823.5,499.5 823.5,495.5 823.5,501.5 823.5,502.5 823.5,505.5 823.5,504.5 823.5,497.5 823.5,497.5 823.5,508.5 823.5,492.5 824.5,504.5 824.5,505.5 824.5,498.5 824.5,507.5 824.5,509.5 824.5,499.5 824.5,505.5 824.5,500.5 824.5,506.5 824.5,501.5 824.5,498.5 825.5,503.5 825.5,503.5 825.5,500.5 825.5,498.5 825.5,514.5 825.5,501.5 825.5,502.5 825.5,502.5 825.5,501.5 825.5,509.5 826.5,500.5 826.5,499.5 826.5,500.5 826.5,492.5 826.5,502.5 826.5,499.5 826.5,504.5 826.5,500.5 826.5,482.5 826.5,498.5 826.5,503.5 827.5,500.5 827.5,501.5 827.5,501.5 827.5,498.5 827.5,493.5 827.5,497.5 827.5,505.5 827.5,497.5 827.5,510.5 827.5,504.5 828.5,498.5 828.5,501.5 828.5,506.5 828.5,495.5 828.5,503.5 828.5,496.5 828.5,520.5 828.5,489.5 828.5,507.5 828.5,497.5 828.5,502.5 829.5,506.5 829.5,501.5 829.5,501.5 829.5,498.5 829.5,503.5 829.5,504.5 829.5,488.5 829.5,497.5 829.5,500.5 829.5,493.5 829.5,504.5 830.5,504.5 830.5,494.5 830.5,495.5 830.5,506.5 830.5,508.5 830.5,519.5 830.5,516.5 830.5,504.5 830.5,498.5 830.5,505.5 831.5,514.5 831.5,497.5 831.5,506.5 831.5,508.5 831.5,504.5 831.5,501.5 831.5,499.5 831.5,497.5 831.5,498.5 831.5,504.5 831.5,502.5 832.5,496.5 832.5,506.5 832.5,507.5 832.5,500.5 832.5,507.5 832.5,505.5 832.5,496.5 832.5,505.5 832.5,498.5 832.5,512.5 833.5,500.5 833.5,514.5 833.5,506.5 833.5,512.5 833.5,497.5 833.5,500.5 833.5,508.5 833.5,493.5 833.5,503.5 833.5,495.5 833.5,492.5 834.5,500.5 834.5,509.5 834.5,496.5 834.5,502.5 834.5,508.5 834.5,499.5 834.5,505.5 834.5,503.5 834.5,503.5 834.5,508.5 834.5,505.5 835.5,508.5 835.5,501.5 835.5,502.5 835.5,500.5 835.5,510.5 835.5,501.5 835.5,496.5 835.5,506.5 835.5,495.5 835.5,504.5 836.5,489.5 836.5,501.5 836.5,498.5 836.5,503.5 836.5,494.5 836.5,515.5 836.5,503.5 836.5,499.5 836.5,502.5 836.5,504.5 836.5,501.5 837.5,503.5 837.5,471.5 837.5,495.5 837.5,508.5 837.5,491.5 837.5,493.5 837.5,502.5 837.5,506.5 837.5,502.5 837.5,505.5 838.5,501.5 838.5,500.5 838.5,505.5 838.5,500.5 838.5,504.5 838.5,502.5 838.5,495.5 838.5,500.5 838.5,504.5 838.5,502.5 838.5,500.5 839.5,501.5 839.5,496.5 839.5,499.5 839.5,506.5 839.5,502.5 839.5,498.5 839.5,498.5 839.5,505.5 839.5,502.5 839.5,502.5 839.5,504.5 840.5,505.5 840.5,510.5 840.5,503.5 840.5,514.5 840.5,503.5 840.5,501.5 840.5,495.5 840.5,505.5 840.5,502.5 840.5,499.5 841.5,507.5 841.5,495.5 841.5,499.5 841.5,508.5 841.5,513.5 841.5,506.5 841.5,514.5 841.5,492.5 841.5,504.5 841.5,509.5 841.5,510.5 842.5,502.5 842.5,505.5 842.5,505.5 842.5,507.5 842.5,503.5 842.5,500.5 842.5,503.5 842.5,498.5 842.5,505.5 842.5,502.5 843.5,511.5 843.5,496.5 843.5,508.5 843.5,510.5 843.5,505.5 843.5,497.5 843.5,500.5 843.5,500.5 843.5,508.5 843.5,500.5 843.5,505.5 844.5,503.5 844.5,501.5 844.5,497.5 844.5,500.5 844.5,498.5 844.5,503.5 844.5,501.5 844.5,506.5 844.5,504.5 844.5,509.5 844.5,501.5 845.5,500.5 845.5,502.5 845.5,507.5 845.5,508.5 845.5,504.5 845.5,478.5 845.5,500.5 845.5,510.5 845.5,505.5 845.5,501.5 846.5,508.5 846.5,509.5 846.5,499.5 846.5,498.5 846.5,509.5 846.5,488.5 846.5,504.5 846.5,505.5 846.5,506.5 846.5,498.5 846.5,502.5 847.5,506.5 847.5,513.5 847.5,505.5 847.5,504.5 847.5,509.5 847.5,499.5 847.5,494.5 847.5,485.5 847.5,503.5 847.5,500.5 848.5,507.5 848.5,499.5 848.5,504.5 848.5,501.5 848.5,509.5 848.5,510.5 848.5,497.5 848.5,504.5 848.5,501.5 848.5,508.5 848.5,498.5 849.5,502.5 849.5,515.5 849.5,500.5 849.5,503.5 849.5,502.5 849.5,501.5 849.5,497.5 849.5,502.5 849.5,504.5 849.5,504.5 849.5,506.5 850.5,501.5 850.5,485.5 850.5,505.5 850.5,507.5 850.5,508.5 850.5,515.5 850.5,499.5 850.5,503.5 850.5,504.5 850.5,502.5 851.5,501.5 851.5,504.5 851.5,469.5 851.5,506.5 851.5,504.5 851.5,503.5 851.5,502.5 851.5,502.5 851.5,501.5 851.5,504.5 851.5,503.5 852.5,507.5 852.5,505.5 852.5,502.5 852.5,508.5 852.5,503.5 852.5,504.5 852.5,500.5 852.5,503.5 852.5,508.5 852.5,496.5 853.5,503.5 853.5,510.5 853.5,503.5 853.5,499.5 853.5,506.5 853.5,502.5 853.5,506.5 853.5,500.5 853.5,511.5 853.5,506.5 853.5,506.5 854.5,500.5 854.5,499.5 854.5,501.5 854.5,507.5 854.5,516.5 854.5,502.5 854.5,499.5 854.5,506.5 854.5,507.5 854.5,505.5 854.5,501.5 855.5,501.5 855.5,501.5 855.5,511.5 855.5,509.5 855.5,503.5 855.5,506.5 855.5,496.5 855.5,501.5 855.5,502.5 855.5,503.5 856.5,506.5 856.5,505.5 856.5,494.5 856.5,509.5 856.5,508.5 856.5,503.5 856.5,504.5 856.5,506.5 856.5,498.5 856.5,502.5 856.5,502.5 857.5,501.5 857.5,501.5 857.5,472.5 857.5,503.5 857.5,507.5 857.5,510.5 857.5,499.5 857.5,505.5 857.5,506.5 857.5,503.5 858.5,497.5 858.5,502.5 858.5,506.5 858.5,503.5 858.5,496.5 858.5,504.5 858.5,507.5 858.5,506.5 858.5,499.5 858.5,505.5 858.5,509.5 859.5,499.5 859.5,507.5 859.5,500.5 859.5,500.5 859.5,501.5 859.5,510.5 859.5,489.5 859.5,505.5 859.5,505.5 859.5,503.5 859.5,502.5 860.5,502.5 860.5,498.5 860.5,508.5 860.5,503.5 860.5,506.5 860.5,476.5 860.5,498.5 860.5,495.5 860.5,501.5 860.5,496.5 861.5,501.5 861.5,515.5 861.5,505.5 861.5,503.5 861.5,504.5 861.5,499.5 861.5,514.5 861.5,499.5 861.5,505.5 861.5,508.5 861.5,495.5 862.5,499.5 862.5,509.5 862.5,508.5 862.5,511.5 862.5,504.5 862.5,501.5 862.5,503.5 862.5,504.5 862.5,516.5 862.5,501.5 863.5,504.5 863.5,505.5 863.5,509.5 863.5,499.5 863.5,507.5 863.5,502.5 863.5,503.5 863.5,502.5 863.5,511.5 863.5,496.5 863.5,503.5 864.5,502.5 864.5,506.5 864.5,504.5 864.5,500.5 864.5,504.5 864.5,497.5 864.5,498.5 864.5,504.5 864.5,510.5 864.5,507.5 864.5,498.5 865.5,502.5 865.5,504.5 865.5,501.5 865.5,502.5 865.5,498.5 865.5,472.5 865.5,501.5 865.5,503.5 865.5,501.5 865.5,504.5 866.5,500.5 866.5,499.5 866.5,505.5 866.5,503.5 866.5,502.5 866.5,504.5 866.5,510.5 866.5,507.5 866.5,505.5 866.5,509.5 866.5,499.5 867.5,497.5 867.5,499.5 867.5,509.5 867.5,503.5 867.5,509.5 867.5,501.5 867.5,500.5 867.5,498.5 867.5,500.5 867.5,503.5 868.5,504.5 868.5,501.5 868.5,510.5 868.5,506.5 868.5,500.5 868.5,504.5 868.5,510.5 868.5,503.5 868.5,512.5 868.5,503.5 868.5,506.5 869.5,501.5 869.5,502.5 869.5,500.5 869.5,507.5 869.5,504.5 869.5,506.5 869.5,504.5 869.5,507.5 869.5,499.5 869.5,504.5 870.5,505.5 870.5,507.5 870.5,509.5 870.5,506.5 870.5,505.5 870.5,495.5 870.5,500.5 870.5,502.5 870.5,503.5 870.5,506.5 870.5,503.5 871.5,509.5 871.5,504.5 871.5,513.5 871.5,484.5 871.5,504.5 871.5,498.5 871.5,503.5 871.5,506.5 871.5,511.5 871.5,504.5 871.5,503.5 872.5,501.5 872.5,500.5 872.5,504.5 872.5,505.5 872.5,500.5 872.5,504.5 872.5,502.5 872.5,498.5 872.5,498.5 872.5,505.5 873.5,502.5 873.5,503.5 873.5,504.5 873.5,503.5 873.5,516.5 873.5,501.5 873.5,513.5 873.5,499.5 873.5,501.5 873.5,498.5 873.5,505.5 874.5,502.5 874.5,506.5 874.5,508.5 874.5,502.5 874.5,504.5 874.5,502.5 874.5,505.5 874.5,510.5 874.5,496.5 874.5,477.5 875.5,485.5 875.5,502.5 875.5,509.5 875.5,506.5 875.5,505.5 875.5,504.5 875.5,511.5 875.5,502.5 875.5,504.5 875.5,502.5 875.5,499.5 876.5,506.5 876.5,503.5 876.5,485.5 876.5,498.5 876.5,505.5 876.5,503.5 876.5,507.5 876.5,502.5 876.5,502.5 876.5,500.5 876.5,491.5 877.5,504.5 877.5,497.5 877.5,509.5 877.5,503.5 877.5,504.5 877.5,507.5 877.5,507.5 877.5,506.5 877.5,503.5 877.5,501.5 878.5,512.5 878.5,505.5 878.5,494.5 878.5,506.5 878.5,504.5 878.5,502.5 878.5,502.5 878.5,501.5 878.5,497.5 878.5,505.5 878.5,513.5 879.5,501.5 879.5,497.5 879.5,504.5 879.5,505.5 879.5,499.5 879.5,504.5 879.5,504.5 879.5,499.5 879.5,507.5 879.5,505.5 880.5,488.5 880.5,476.5 880.5,504.5 880.5,500.5 880.5,498.5 880.5,501.5 880.5,501.5 880.5,506.5 880.5,504.5 880.5,499.5 880.5,505.5 881.5,507.5 881.5,495.5 881.5,492.5 881.5,506.5 881.5,507.5 881.5,495.5 881.5,503.5 881.5,506.5 881.5,504.5 881.5,507.5 881.5,505.5 882.5,501.5 882.5,495.5 882.5,514.5 882.5,519.5 882.5,501.5 882.5,499.5 882.5,501.5 882.5,505.5 882.5,500.5 882.5,504.5 883.5,497.5 883.5,506.5 883.5,501.5 883.5,501.5 883.5,507.5 883.5,505.5 883.5,475.5 883.5,509.5 883.5,507.5 883.5,504.5 883.5,517.5 884.5,502.5 884.5,501.5 884.5,504.5 884.5,506.5 884.5,505.5 884.5,500.5 884.5,505.5 884.5,498.5 884.5,499.5 884.5,506.5 885.5,502.5 885.5,506.5 885.5,501.5 885.5,505.5 885.5,499.5 885.5,499.5 885.5,501.5 885.5,501.5 885.5,498.5 885.5,500.5 885.5,503.5 886.5,501.5 886.5,502.5 886.5,504.5 886.5,505.5 886.5,503.5 886.5,510.5 886.5,507.5 886.5,498.5 886.5,508.5 886.5,514.5 886.5,502.5 887.5,490.5 887.5,498.5 887.5,493.5 887.5,503.5 887.5,500.5 887.5,507.5 887.5,497.5 887.5,504.5 887.5,505.5 887.5,501.5 888.5,505.5 888.5,503.5 888.5,507.5 888.5,500.5 888.5,502.5 888.5,511.5 888.5,504.5 888.5,509.5 888.5,502.5 888.5,507.5 888.5,506.5 889.5,502.5 889.5,508.5 889.5,496.5 889.5,507.5 889.5,508.5 889.5,505.5 889.5,504.5 889.5,506.5 889.5,502.5 889.5,507.5 890.5,501.5 890.5,500.5 890.5,519.5 890.5,504.5 890.5,510.5 890.5,502.5 890.5,503.5 890.5,505.5 890.5,500.5 890.5,504.5 890.5,498.5 891.5,471.5 891.5,504.5 891.5,509.5 891.5,503.5 891.5,505.5 891.5,486.5 891.5,503.5 891.5,499.5 891.5,514.5 891.5,503.5 891.5,505.5 892.5,517.5 892.5,495.5 892.5,506.5 892.5,508.5 892.5,502.5 892.5,506.5 892.5,503.5 892.5,490.5 892.5,507.5 892.5,503.5 893.5,502.5 893.5,504.5 893.5,506.5 893.5,503.5 893.5,510.5 893.5,505.5 893.5,509.5 893.5,511.5 893.5,500.5 893.5,506.5 893.5,497.5 894.5,508.5 894.5,508.5 894.5,504.5 894.5,500.5 894.5,508.5 894.5,504.5 894.5,493.5 894.5,506.5 894.5,500.5 894.5,500.5 895.5,508.5 895.5,509.5 895.5,500.5 895.5,499.5 895.5,503.5 895.5,510.5 895.5,520.5 895.5,507.5 895.5,500.5 895.5,508.5 895.5,505.5 896.5,500.5 896.5,497.5 896.5,499.5 896.5,507.5 896.5,503.5 896.5,497.5 896.5,503.5 896.5,498.5 896.5,499.5 896.5,503.5 896.5,493.5 897.5,498.5 897.5,506.5 897.5,507.5 897.5,506.5 897.5,498.5 897.5,503.5 897.5,509.5 897.5,502.5 897.5,506.5 897.5,502.5 898.5,504.5 898.5,504.5 898.5,504.5 898.5,508.5 898.5,501.5 898.5,501.5 898.5,496.5 898.5,514.5 898.5,503.5 898.5,503.5 898.5,504.5 899.5,503.5 899.5,484.5 899.5,502.5 899.5,489.5 899.5,502.5 899.5,506.5 899.5,503.5 899.5,508.5 899.5,504.5 899.5,488.5 900.5,513.5 900.5,501.5 900.5,506.5 900.5,502.5 900.5,512.5 900.5,503.5 900.5,512.5 900.5,504.5 900.5,506.5 900.5,510.5 900.5,501.5 901.5,506.5 901.5,504.5 901.5,502.5 901.5,499.5 901.5,499.5 901.5,509.5 901.5,499.5 901.5,501.5 901.5,515.5 901.5,500.5 901.5,496.5 902.5,503.5 902.5,505.5 902.5,510.5 902.5,505.5 902.5,500.5 902.5,502.5 902.5,497.5 902.5,501.5 902.5,501.5 902.5,510.5 903.5,505.5 903.5,503.5 903.5,504.5 903.5,506.5 903.5,504.5 903.5,504.5 903.5,507.5 245.5,222.5 343.5,231.5 143.5,340.5 186.5,334.5 311.5,307.5 361.5,317.5 400.5,304.5 280.5,354.5 349.5,349.5 359.5,348.5 376.5,346.5 391.5,362.5 179.5,380.5 315.5,374.5 273.5,390.5 315.5,391.5 340.5,402.5 185.5,404.5 315.5,411.5 139.5,412.5 413.5,413.5 173.5,421.5 191.5,421.5 194.5,425.5 214.5,421.5 217.5,426.5 235.5,422.5 258.5,426.5 245.5,432.5 276.5,431.5 396.5,425.5 383.5,426.5 378.5,431.5 387.5,432.5 360.5,434.5 365.5,439.5 373.5,443.5 388.5,442.5 392.5,446.5 324.5,444.5 132.5,430.5 133.5,439.5 145.5,456.5 136.5,460.5 212.5,434.5 209.5,440.5 247.5,437.5 199.5,447.5 271.5,444.5 296.5,447.5 314.5,451.5 353.5,453.5 415.5,459.5 330.5,456.5 342.5,453.5 589.5,65.5 678.5,154.5 456.5,262.5 496.5,257.5 501.5,256.5 572.5,276.5 636.5,289.5 677.5,292.5 681.5,305.5 540.5,299.5 546.5,315.5 474.5,324.5 497.5,327.5 674.5,333.5 636.5,347.5 711.5,346.5 711.5,355.5 426.5,360.5 533.5,374.5 616.5,372.5 649.5,370.5 682.5,369.5 548.5,388.5 639.5,393.5 689.5,389.5 504.5,408.5 621.5,414.5 673.5,412.5 549.5,418.5 693.5,419.5 520.5,421.5 520.5,426.5 524.5,429.5 585.5,428.5 652.5,428.5 693.5,432.5 713.5,424.5 542.5,432.5 433.5,429.5 425.5,432.5 430.5,441.5 454.5,446.5 469.5,441.5 467.5,448.5 485.5,448.5 502.5,446.5 512.5,447.5 530.5,446.5 547.5,441.5 544.5,447.5 647.5,434.5 645.5,442.5 663.5,438.5 628.5,444.5 618.5,446.5 861.5,86.5 820.5,129.5 751.5,159.5 716.5,208.5 861.5,279.5 825.5,335.5 748.5,369.5 791.5,369.5 801.5,368.5 895.5,376.5 764.5,392.5 834.5,404.5 895.5,403.5 891.5,417.5 733.5,429.5 826.5,432.5 712.5,442.5 750.5,441.5 747.5,445.5 656.5,451.5 669.5,448.5 676.5,450.5 819.5,447.5 833.5,446.5 852.5,446.5 862.5,446.5 872.5,451.5 779.5,457.5 796.5,459.5 802.5,455.5 824.5,459.5 733.5,458.5 714.5,460.5 684.5,461.5 689.5,460.5 697.5,461.5 654.5,460.5 749.5,462.5 896.5,461.5 849.5,461.5 601.5,452.5 604.5,456.5 647.5,448.5" fill="none" stroke="none" marker-start="url(#mp)" marker-mid="url(#mp)" marker-end="url(#mp)"/>
<polyline points="129.8,576.7 129.9,569.7 130.0,565.5 130.1,579.6 130.2,566.1 130.3,571.5 130.4,572.1 130.5,565.9 130.6,586.1 130.6,577.1 130.7,587.7 130.8,578.7 130.9,569.1 131.0,575.1 131.1,583.7 131.2,575.5 131.3,574.5 131.4,569.7 131.5,567.6 131.6,574.8 131.7,573.9 131.8,578.6 131.9,573.7 132.0,582.3 132.1,573.3 132.2,583.2 132.3,581.0 132.3,590.2 132.4,580.3 132.5,588.1 132.6,581.8 132.7,586.7 132.8,584.3 132.9,577.4 133.0,565.7 133.1,576.3 133.2,576.6 133.3,577.3 133.4,572.4 133.5,574.2 133.6,582.0 133.7,587.1 133.8,590.0 133.9,577.9 134.0,574.6 134.0,583.8 134.1,578.1 134.2,567.4 134.3,591.2 134.4,584.9 134.5,572.0 134.6,574.3 134.7,591.3 134.8,568.5 134.9,572.0 135.0,578.0 135.1,589.3 135.2,583.0 135.3,574.4 135.4,579.3 135.5,572.7 135.6,571.8 135.7,566.0 135.7,571.7 135.8,591.4 135.9,571.5 136.0,590.2 136.1,571.5 136.2,577.5 136.3,578.3 136.4,581.0 136.5,589.6 136.6,571.8 136.7,590.7 136.8,576.8 136.9,572.1 137.0,586.7 137.1,575.5 137.2,575.9 137.3,584.1 137.4,583.9 137.4,571.6 137.5,585.1 137.6,583.8 137.7,585.0 137.8,568.1 137.9,578.5 138.0,575.8 138.1,591.4 138.2,583.4 138.3,584.7 138.4,577.5 138.5,576.6 138.6,590.8 138.7,576.8 138.8,588.0 138.9,570.6 139.0,591.1 139.0,582.3 139.1,585.4 139.2,588.6 139.3,567.6 139.4,580.2 139.5,586.9 139.6,576.8 139.7,580.7 139.8,574.6 139.9,572.9 140.0,576.4 140.1,575.6 140.2,585.3 140.3,580.7 140.4,567.8 140.5,587.2 140.6,573.8 140.7,566.1 140.7,571.3 140.8,591.4 140.9,587.1 141.0,585.3 141.1,580.2 141.2,571.2 141.3,591.5 141.4,576.8 141.5,579.6 141.6,584.9 141.7,571.9 141.8,580.9 141.9,576.0 142.0,575.7 142.1,578.9 142.2,585.5 142.3,572.0 142.4,567.5 142.4,588.0 142.5,569.0 142.6,577.5 142.7,579.0 142.8,581.8 142.9,586.8 143.0,579.5 143.1,568.3 143.2,583.4 143.3,566.9 143.4,590.8 143.5,567.1 143.6,584.1 143.7,587.1 143.8,575.4 143.9,589.6 144.0,578.6 144.1,578.7 144.1,587.5 144.2,568.3 144.3,572.1 144.4,584.7 144.5,577.9 144.6,583.5 144.7,568.9 144.8,592.8 144.9,574.9 145.0,577.7 145.1,582.5 145.2,578.8 145.3,590.9 145.4,568.5 145.5,572.4 145.6,587.4 145.7,575.0 145.7,573.2 145.8,583.0 145.9,586.5 146.0,587.4 146.1,568.8 146.2,590.1 146.3,593.8 146.4,584.1 146.5,569.9 146.6,577.3 146.7,587.6 146.8,573.7 146.9,573.2 147.0,571.3 147.1,576.6 147.2,581.0 147.3,594.5 147.4,595.4 147.4,588.6 147.5,577.5 147.6,594.3 147.7,585.5 147.8,592.9 147.9,569.9 148.0,590.5 148.1,579.2 148.2,593.6 148.3,591.1 148.4,591.1 148.5,571.8 148.6,586.4 148.7,576.6 148.8,591.8 148.9,574.4 149.0,584.0 149.1,591.6 149.1,588.0 149.2,593.6 149.3,577.4 149.4,595.7 149.5,582.7 149.6,592.3 149.7,596.1 149.8,590.5 149.9,592.7 150.0,581.9 150.1,593.1 150.2,579.3 150.3,590.5 150.4,577.8 150.5,572.7 150.6,571.9 150.7,578.3 150.8,596.0 150.8,594.3 150.9,596.8 151.0,593.3 151.1,585.7 151.2,586.7 151.3,578.8 151.4,587.4 151.5,589.2 151.6,586.9 151.7,587.4 151.8,588.6 151.9,594.0 152.0,578.0 152.1,587.9 152.2,583.0 152.3,577.9 152.4,576.0 152.5,580.1 152.5,597.3 152.6,581.2 152.7,592.5 152.8,592.0 152.9,587.4 153.0,596.6 153.1,573.4 153.2,592.4 153.3,591.7 153.4,587.7 153.5,580.2 153.6,575.8 153.7,579.6 153.8,594.7 153.9,590.3 154.0,581.0 154.1,594.0 154.1,579.9 154.2,576.5 154.3,588.1 154.4,593.7 154.5,576.7 154.6,577.1 154.7,586.9 154.8,572.6 154.9,576.7 155.0,592.4 155.1,588.3 155.2,583.4 155.3,577.0 155.4,579.2 155.5,582.3 155.6,577.6 155.7,583.0 155.8,585.4 155.8,572.9 155.9,592.4 156.0,578.2 156.1,574.2 156.2,587.7 156.3,589.2 156.4,589.1 156.5,580.4 156.6,577.6 156.7,588.6 156.8,590.1 156.9,582.6 157.0,594.0 157.1,596.0 157.2,584.0 157.3,595.1 157.4,582.6 157.5,590.7 157.5,595.4 157.6,586.6 157.7,573.0 157.8,593.2 157.9,597.1 158.0,591.8 158.1,596.1 158.2,582.6 158.3,589.2 158.4,577.4 158.5,585.7 158.6,588.6 158.7,573.2 158.8,592.1 158.9,580.9 159.0,591.0 159.1,586.7 159.2,577.5 159.2,581.4 159.3,587.0 159.4,579.7 159.5,591.6 159.6,584.8 159.7,576.3 159.8,592.8 159.9,595.7 160.0,584.2 160.1,581.8 160.2,595.2 160.3,585.0 160.4,594.3 160.5,593.5 160.6,589.7 160.7,592.5 160.8,581.9 160.9,592.2 160.9,583.5 161.0,595.7 161.1,589.9 161.2,591.6 161.3,581.8 161.4,594.2 161.5,590.3 161.6,592.1 161.7,585.1 161.8,581.2 161.9,593.3 162.0,586.4 162.1,575.8 162.2,582.2 162.3,574.9 162.4,590.9 162.5,577.9 162.5,577.6 162.6,593.4 162.7,587.0 162.8,587.3 162.9,578.4 163.0,576.1 163.1,589.5 163.2,586.8 163.3,579.7 163.4,583.8 163.5,591.3 163.6,589.3 163.7,589.4 163.8,576.1 163.9,582.4 164.0,574.0 164.1,586.8 164.2,576.9 164.2,590.8 164.3,596.4 164.4,582.4 164.5,596.4 164.6,584.4 164.7,575.4 164.8,589.2 164.9,588.2 165.0,581.6 165.1,574.3 165.2,574.6 165.3,583.9 165.4,584.7 165.5,587.1 165.6,593.0 165.7,587.4 165.8,574.6 165.9,574.9 165.9,594.0 166.0,574.4 166.1,587.2 166.2,596.7 166.3,594.8 166.4,591.5 170.0,553.7 170.1,547.8 170.2,540.4 170.3,556.6 170.4,547.6 170.5,550.1 170.6,534.8 170.7,543.2 170.8,546.2 170.9,549.2 170.9,542.1 171.0,538.3 171.1,537.7 171.2,545.0 171.3,548.9 171.4,548.6 171.5,537.1 171.6,543.0 171.7,546.5 171.8,552.8 171.9,550.2 172.0,548.5 172.1,537.2 172.2,553.3 172.3,546.4 172.4,548.2 172.5,543.0 172.6,545.7 172.6,544.9 172.7,544.5 172.8,541.7 172.9,550.8 173.0,552.1 173.1,543.7 173.2,542.0 173.3,542.1 173.4,545.0 173.5,555.0 173.6,546.0 173.7,557.3 173.8,539.4 173.9,540.4 174.0,542.2 174.1,541.7 174.2,548.6 174.3,556.7 174.3,542.4 174.4,548.6 174.5,554.3 174.6,560.5 174.7,547.8 174.8,552.3 174.9,554.3 175.0,547.2 175.1,549.9 175.2,544.6 175.3,541.5 175.4,543.2 175.5,553.3 175.6,554.4 175.7,548.1 175.8,539.6 175.9,553.8 176.0,546.7 176.0,555.4 176.1,547.3 176.2,540.1 176.3,545.1 176.4,543.0 176.5,556.0 176.6,533.7 176.7,543.4 176.8,545.1 176.9,535.1 177.0,549.3 177.1,550.4 177.2,551.8 177.3,551.7 177.4,546.4 177.5,552.4 177.6,544.4 177.6,547.1 177.7,548.2 177.8,547.4 177.9,549.9 178.0,543.2 178.1,546.3 178.2,543.6 178.3,547.4 178.4,548.8 178.5,542.7 178.6,555.3 178.7,558.2 178.8,550.2 178.9,547.6 179.0,543.4 179.1,546.0 179.2,545.8 179.3,551.0 179.3,546.9 179.4,551.0 179.5,550.2 179.6,544.2 179.7,539.3 179.8,540.2 179.9,540.8 180.0,546.8 180.1,553.7 180.2,541.6 180.3,550.6 180.4,545.9 180.5,554.1 180.6,559.8 180.7,553.0 180.8,548.8 180.9,549.8 181.0,554.4 181.0,545.2 181.1,542.5 181.2,547.9 181.3,556.2 181.4,542.9 181.5,553.4 181.6,552.0 181.7,545.7 181.8,542.5 181.9,537.7 182.0,540.4 182.1,548.0 182.2,551.3 182.3,543.4 182.4,543.8 182.5,542.6 182.6,561.1 182.7,539.2 182.7,538.6 182.8,553.2 182.9,540.8 183.0,552.9 183.1,542.4 183.2,553.1 183.3,555.1 183.4,544.6 183.5,547.1 183.6,541.6 183.7,552.3 183.8,545.5 183.9,541.9 184.0,549.9 184.1,549.5 184.2,547.1 184.3,544.9 184.4,552.9 184.4,543.7 184.5,542.5 184.6,546.0 184.7,550.4 184.8,545.2 184.9,543.8 185.0,541.6 185.1,542.8 185.2,543.6 185.3,558.9 185.4,537.1 185.5,544.8 185.6,547.8 185.7,542.3 185.8,540.5 185.9,550.6 186.0,555.3 186.0,553.7 186.1,547.4 186.2,544.8 186.3,551.1 186.4,537.8 186.5,542.4 186.6,555.7 186.7,549.7 186.8,548.2 186.9,546.1 187.0,545.0 187.1,542.3 187.2,550.5 187.3,550.1 187.4,550.2 187.5,533.1 187.6,554.5 187.7,552.1 187.7,556.2 187.8,543.9 187.9,534.5 188.0,539.5 188.1,541.9 188.2,558.6 188.3,542.7 188.4,544.3 188.5,552.7 188.6,552.1 188.7,552.6 188.8,544.3 188.9,557.7 189.0,549.2 189.1,542.0 189.2,549.2 189.3,538.7 189.4,539.7 189.4,542.9 189.5,540.0 189.6,544.0 189.7,543.1 189.8,544.1 189.9,541.8 190.0,553.3 190.1,541.1 190.2,543.8 190.3,541.6 190.4,543.4 190.5,539.4 190.6,559.0 190.7,545.3 190.8,551.6 190.9,544.8 191.0,539.4 191.1,544.0 191.1,543.1 191.2,539.9 191.3,547.6 191.4,556.3 191.5,548.2 191.6,553.1 191.7,554.6 191.8,536.1 191.9,558.2 192.0,539.7 192.1,557.9 192.2,548.6 192.3,550.9 192.4,560.1 192.5,553.5 192.6,538.3 192.7,537.2 192.7,540.7 192.8,553.4 192.9,549.5 193.0,552.9 193.1,550.2 193.2,554.7 193.3,541.8 193.4,537.2 193.5,543.9 193.6,552.5 193.7,542.0 193.8,534.4 193.9,544.8 194.0,551.8 194.1,565.6 194.2,546.0 194.3,545.1 194.4,535.9 194.4,547.8 194.5,558.8 194.6,545.1 194.7,557.3 194.8,563.4 194.9,545.5 195.0,545.1 195.1,547.7 195.2,537.5 195.3,554.5 195.4,545.9 195.5,535.3 195.6,551.3 195.7,548.4 195.8,540.4 195.9,547.0 196.0,552.3 196.1,551.7 196.1,549.8 196.2,544.1 196.3,549.6 196.4,555.4 196.5,560.5 196.6,551.8 196.7,552.9 196.8,553.9 196.9,546.9 197.0,538.4 197.1,545.1 197.2,547.2 197.3,549.4 197.4,548.0 197.5,543.6 197.6,544.4 197.7,545.9 197.8,542.1 197.8,542.1 197.9,536.9 198.0,544.5 198.1,546.9 198.2,542.5 198.3,544.6 198.4,546.5 198.5,539.7 198.6,542.2 198.7,540.6 198.8,548.4 198.9,539.4 199.0,545.9 199.1,534.3 199.2,555.7 199.3,549.0 199.4,541.4 199.5,545.8 199.5,556.9 199.6,546.8 199.7,538.0 199.8,546.3 199.9,543.8 200.0,549.6 200.1,547.8 200.2,537.9 200.3,548.4 200.4,552.7 200.5,555.2 200.6,549.3 200.7,558.0 200.8,555.7 200.9,552.0 201.0,556.4 201.1,533.4 201.1,554.7 201.2,555.9 201.3,547.1 201.4,552.3 201.5,544.0 201.6,546.7 201.7,546.6 201.8,541.7 201.9,546.3 202.0,537.6 202.1,546.7 202.2,557.1 202.3,558.2 202.4,547.4 202.5,557.3 202.6,549.8 202.7,540.3 202.8,543.9 202.8,547.1 202.9,547.3 203.0,551.1 203.1,543.5 203.2,545.1 203.3,553.3 203.4,548.2 203.5,549.8 203.6,547.2 203.7,551.5 203.8,551.8 203.9,543.2 204.0,554.0 204.1,544.0 204.2,549.7 204.3,546.0 204.4,551.5 204.5,549.3 204.5,551.0 204.6,548.6 204.7,547.2 204.8,549.0 204.9,547.8 205.0,543.3 205.1,539.2 205.2,551.0 205.3,555.2 205.4,542.6 205.5,550.9 205.6,544.7 205.7,549.2 205.8,553.1 205.9,550.2 206.0,546.9 206.1,537.4 206.2,547.1 206.2,548.1 206.3,555.1 206.4,544.4 206.5,547.7 206.6,549.3 206.7,555.3 206.8,541.6 206.9,552.9 207.0,547.7 207.1,544.5 207.2,540.7 207.3,542.9 207.4,552.9 207.5,545.4 207.6,543.0 207.7,546.0 207.8,555.7 207.9,553.8 207.9,552.8 208.0,553.7 208.1,552.6 208.2,546.0 208.3,542.1 208.4,555.1 208.5,547.5 208.6,548.9 208.7,545.6 208.8,551.0 208.9,555.6 209.0,545.9 209.1,549.0 209.2,548.5 209.3,551.8 209.4,548.1 209.5,548.3 209.5,544.8 209.6,548.3 209.7,544.1 209.8,552.1 209.9,547.3 210.0,557.1 210.1,544.3 210.2,542.3 210.3,553.1 210.4,551.5 210.5,540.4 210.6,562.4 210.7,547.0 210.8,554.1 210.9,545.8 211.0,551.8 211.1,554.1 211.2,545.3 211.2,549.9 211.3,552.8 211.4,559.3 211.5,553.5 211.6,555.8 211.7,551.4 211.8,552.0 211.9,551.3 212.0,547.1 212.1,538.2 212.2,539.0 212.3,550.2 212.4,550.9 212.5,548.6 212.6,545.1 212.7,545.5 212.8,541.3 212.9,554.7 212.9,539.1 213.0,557.2 213.1,545.8 213.2,562.2 213.3,550.9 213.4,546.6 213.5,549.0 213.6,545.7 213.7,556.7 213.8,548.2 213.9,549.7 214.0,543.5 214.1,551.6 214.2,540.2 214.3,544.7 214.4,555.3 214.5,537.1 214.6,550.1 214.6,554.9 214.7,549.1 214.8,556.6 214.9,555.4 215.0,551.3 215.1,539.8 215.2,546.0 215.3,546.8 215.4,554.0 215.5,548.1 215.6,546.9 215.7,541.5 215.8,547.4 215.9,549.7 216.0,535.0 216.1,548.0 216.2,550.4 216.2,546.8 216.3,547.5 216.4,545.1 216.5,553.1 216.6,545.2 216.7,554.7 216.8,550.1 216.9,537.7 217.0,546.5 217.1,549.6 217.2,552.6 217.3,548.7 217.4,547.3 217.5,552.4 217.6,556.6 217.7,538.1 217.8,544.5 217.9,557.0 217.9,549.4 218.0,542.5 218.1,557.1 218.2,558.5 218.3,546.5 218.4,551.8 218.5,547.8 218.6,549.7 218.7,553.0 218.8,546.2 218.9,547.2 219.0,545.9 219.1,538.2 219.2,549.9 219.3,551.9 219.4,548.2 219.5,547.5 219.6,551.7 219.6,543.4 219.7,541.5 219.8,549.6 219.9,548.0 220.0,556.6 220.1,539.4 220.2,546.8 220.3,540.4 220.4,558.6 220.5,544.8 220.6,551.2 220.7,535.0 220.8,541.8 220.9,551.2 221.0,544.9 221.1,543.8 221.2,550.8 221.3,547.8 221.3,547.8 221.4,548.6 221.5,544.6 221.6,555.6 221.7,552.8 221.8,546.7 221.9,545.5 222.0,537.5 222.1,541.4 222.2,554.7 222.3,541.2 222.4,545.4 222.5,556.7 222.6,553.5 222.7,549.7 222.8,550.1 222.9,546.2 223.0,548.9 223.0,548.3 223.1,555.2 223.2,552.3 223.3,544.3 223.4,555.9 223.5,552.9 223.6,554.4 223.7,555.3 223.8,552.8 223.9,549.8 224.0,555.7 224.1,555.0 224.2,547.6 224.3,548.0 224.4,550.3 224.5,551.8 224.6,548.8 224.6,541.6 224.7,555.4 224.8,545.5 224.9,542.9 225.0,544.6 225.1,549.4 225.2,547.8 225.3,536.7 225.4,540.7 225.5,540.5 225.6,544.9 225.7,549.6 225.8,545.4 225.9,559.3 226.0,553.5 226.1,556.7 226.2,552.8 226.3,542.3 226.3,551.6 226.4,541.3 226.5,543.8 226.6,550.3 226.7,549.4 226.8,552.5 226.9,547.9 227.0,555.0 227.1,553.6 227.2,551.2 227.3,545.6 227.4,546.3 227.5,555.0 227.6,564.7 227.7,547.1 227.8,550.5 227.9,544.9 228.0,536.6 228.0,552.8 228.1,550.4 228.2,553.2 228.3,546.2 228.4,545.2 228.5,557.4 228.6,544.7 228.7,553.3 228.8,554.6 228.9,549.5 229.0,546.6 229.1,550.8 229.2,540.2 229.3,548.0 229.4,547.5 229.5,542.1 229.6,548.0 229.7,554.2 229.7,561.7 229.8,543.8 229.9,551.9 230.0,551.8 230.1,548.0 230.2,546.6 230.3,552.3 230.4,553.5 230.5,542.1 230.6,557.6 230.7,548.9 230.8,550.2 230.9,546.7 231.0,556.1 231.1,542.7 231.2,547.1 231.3,550.4 231.4,544.8 231.4,548.4 231.5,552.3 231.6,555.8 231.7,548.7 231.8,547.2 231.9,552.1 232.0,550.3 232.1,544.3 232.2,554.2 232.3,548.2 232.4,545.0 232.5,554.8 232.6,552.7 232.7,545.6 232.8,553.3 232.9,546.1 233.0,546.8 233.0,544.5 233.1,554.1 233.2,548.9 233.3,552.7 233.4,542.8 233.5,547.4 233.6,540.8 233.7,546.1 233.8,547.4 233.9,548.4 234.0,541.4 234.1,554.9 234.2,540.8 234.3,555.6 234.4,548.7 234.5,554.9 234.6,544.0 234.7,550.0 234.7,552.4 234.8,560.8 234.9,551.7 235.0,558.7 235.1,551.5 235.2,557.1 235.3,549.8 235.4,550.4 235.5,554.9 235.6,543.6 235.7,541.7 235.8,551.1 235.9,561.3 236.0,557.9 236.1,550.8 236.2,553.6 236.3,551.5 236.4,552.5 236.4,557.8 236.5,544.5 236.6,544.2 236.7,540.4 236.8,545.9 236.9,555.8 237.0,550.0 237.1,543.6 237.2,547.1 237.3,547.9 237.4,555.7 237.5,552.9 237.6,552.5 237.7,556.8 237.8,553.3 237.9,556.2 238.0,546.4 238.1,545.6 238.1,548.6 238.2,561.1 238.3,544.6 238.4,551.5 238.5,553.3 238.6,545.6 238.7,544.1 238.8,561.2 238.9,549.7 239.0,548.6 239.1,552.4 239.2,551.0 239.3,543.0 239.4,541.4 239.5,549.3 239.6,546.3 239.7,550.0 239.7,544.1 239.8,563.6 239.9,552.7 240.0,560.8 240.1,547.9 240.2,550.0 240.3,548.1 240.4,551.1 240.5,553.1 240.6,548.2 240.7,545.4 240.8,547.3 240.9,549.8 241.0,555.2 241.1,542.6 241.2,546.6 241.3,552.8 241.4,557.7 241.4,548.3 241.5,552.2 241.6,549.5 241.7,549.2 241.8,551.3 241.9,547.6 242.0,549.2 242.1,548.8 242.2,558.7 242.3,550.3 242.4,559.3 242.5,549.8 242.6,551.2 242.7,546.0 242.8,551.4 242.9,557.9 243.0,559.0 243.1,544.6 243.1,563.7 243.2,552.2 243.3,553.2 243.4,555.8 243.5,550.8 243.6,545.9 243.7,550.8 243.8,548.6 243.9,561.0 244.0,550.8 244.1,538.3 244.2,557.8 244.3,553.8 244.4,550.3 244.5,540.3 244.6,567.8 244.7,548.7 244.8,548.7 244.8,547.4 244.9,551.5 245.0,550.1 245.1,552.3 245.2,553.3 245.3,550.7 245.4,556.7 245.5,544.9 245.6,555.9 245.7,552.8 245.8,550.9 245.9,554.8 246.0,552.2 246.1,552.0 246.2,548.3 246.3,546.2 246.4,542.6 246.5,543.9 246.5,547.3 246.6,555.4 246.7,549.6 246.8,551.7 246.9,545.0 247.0,542.4 247.1,551.4 247.2,564.1 247.3,544.7 247.4,558.5 247.5,544.5 247.6,544.2 247.7,545.8 247.8,546.2 247.9,555.7 248.0,552.1 248.1,551.5 248.1,548.0 248.2,556.3 248.3,561.5 248.4,552.9 248.5,549.3 248.6,545.4 248.7,549.7 248.8,544.5 248.9,559.3 249.0,547.4 249.1,558.5 249.2,545.0 249.3,557.1 249.4,555.6 249.5,556.7 249.6,554.1 249.7,546.4 249.8,568.2 249.8,544.4 249.9,559.0 250.0,551.5 250.1,546.2 250.2,557.2 250.3,561.0 250.4,558.5 250.5,544.9 250.6,548.2 250.7,555.8 250.8,554.8 250.9,557.9 251.0,551.2 251.1,542.1 251.2,545.1 251.3,553.6 251.4,545.9 251.5,543.8 251.5,555.3 251.6,559.7 251.7,547.9 251.8,550.5 251.9,550.9 252.0,556.9 252.1,550.0 252.2,549.9 252.3,551.1 252.4,544.3 252.5,558.9 252.6,560.2 252.7,551.6 252.8,552.0 252.9,552.5 253.0,551.4 253.1,546.8 253.2,555.0 253.2,555.3 253.3,557.0 253.4,545.3 253.5,552.0 253.6,543.3 253.7,561.4 253.8,542.1 253.9,550.0 254.0,559.8 254.1,540.8 254.2,551.5 254.3,541.1 254.4,556.0 254.5,548.6 254.6,547.4 254.7,545.3 254.8,553.8 254.9,551.6 254.9,554.9 255.0,555.6 255.1,567.3 255.2,552.6 255.3,558.6 255.4,554.2 255.5,553.7 255.6,552.0 255.7,548.9 255.8,551.7 255.9,551.3 256.0,565.8 256.1,550.1 256.2,546.0 256.3,553.9 256.4,550.4 256.5,548.1 256.5,556.4 256.6,550.8 256.7,547.2 256.8,555.1 256.9,563.1 257.0,559.4 257.1,553.4 257.2,553.7 257.3,551.7 257.4,556.0 257.5,550.8 257.6,554.0 257.7,551.1 257.8,553.2 257.9,540.6 258.0,551.9 258.1,548.8 258.2,550.1 258.2,554.2 258.3,544.8 258.4,547.0 258.5,553.0 258.6,552.4 258.7,557.3 258.8,554.0 258.9,542.9 259.0,554.4 259.1,551.2 259.2,552.9 259.3,557.8 259.4,552.7 259.5,551.0 259.6,543.0 259.7,549.6 259.8,556.8 259.9,555.1 259.9,545.2 260.0,544.3 260.1,549.9 260.2,554.7 260.3,547.9 260.4,559.8 260.5,564.2 260.6,545.7 260.7,563.6 260.8,563.1 260.9,540.5 261.0,542.7 261.1,551.1 261.2,551.9 261.3,547.0 261.4,551.9 261.5,556.3 261.6,546.8 261.6,539.0 261.7,550.0 261.8,556.3 261.9,560.2 262.0,557.8 262.1,536.0 262.2,544.9 262.3,551.1 262.4,546.8 262.5,554.8 262.6,554.3 262.7,556.8 262.8,559.9 262.9,548.7 263.0,561.9 263.1,543.9 263.2,545.8 263.2,545.6 263.3,546.9 263.4,555.7 263.5,561.5 263.6,543.5 263.7,556.2 263.8,558.9 263.9,553.7 264.0,540.6 264.1,554.7 264.2,557.3 264.3,542.0 264.4,549.4 264.5,558.3 264.6,554.2 264.7,558.8 264.8,559.6 264.9,545.2 264.9,545.5 265.0,557.4 265.1,550.4 265.2,557.2 265.3,555.5 265.4,547.5 265.5,557.5 265.6,554.6 265.7,548.4 265.8,549.0 265.9,548.6 266.0,553.4 266.1,557.1 266.2,554.6 266.3,550.5 266.4,543.6 266.5,551.9 266.6,550.7 266.6,547.5 266.7,546.1 266.8,560.0 266.9,559.6 267.0,543.1 267.1,556.5 267.2,553.1 267.3,561.1 267.4,546.2 267.5,556.3 267.6,547.6 267.7,549.4 267.8,551.8 267.9,556.0 268.0,551.3 268.1,541.8 268.2,555.3 268.3,550.5 268.3,549.2 268.4,540.8 268.5,548.1 268.6,557.1 268.7,557.6 268.8,553.2 268.9,545.5 269.0,554.9 269.1,545.7 269.2,555.1 269.3,547.6 269.4,542.0 269.5,553.1 269.6,551.8 269.7,551.9 269.8,545.7 269.9,544.9 270.0,557.1 270.0,550.5 270.1,560.0 270.2,560.1 270.3,544.9 270.4,549.0 270.5,534.8 270.6,550.6 270.7,547.4 270.8,552.4 270.9,549.3 271.0,548.3 271.1,546.8 271.2,547.1 271.3,558.1 271.4,555.0 271.5,563.3 271.6,556.0 271.6,549.6 271.7,549.2 271.8,560.6 271.9,541.7 272.0,552.5 272.1,551.1 272.2,540.8 272.3,558.0 272.4,552.3 272.5,551.1 272.6,547.7 272.7,552.1 272.8,551.7 272.9,557.8 273.0,550.7 273.1,565.3 273.2,549.4 273.3,553.4 273.3,549.3 273.4,557.2 273.5,550.6 273.6,560.4 273.7,558.3 273.8,555.2 273.9,544.5 274.0,553.0 274.1,552.7 274.2,556.4 274.3,546.0 274.4,556.5 274.5,556.8 274.6,552.9 274.7,554.8 274.8,550.9 274.9,558.2 275.0,547.5 275.0,550.1 275.1,566.5 275.2,553.3 275.3,553.4 275.4,549.0 275.5,552.4 275.6,555.1 275.7,547.9 275.8,546.6 275.9,551.8 276.0,562.0 276.1,552.5 276.2,567.2 276.3,560.3 276.4,557.4 276.5,551.9 276.6,556.9 276.7,569.3 276.7,547.6 276.8,556.3 276.9,562.9 277.0,559.3 277.1,555.0 277.2,552.1 277.3,559.1 277.4,545.5 277.5,563.4 277.6,550.0 277.7,544.1 277.8,552.6 277.9,553.3 278.0,552.2 278.1,545.7 278.2,550.1 278.3,557.7 278.3,555.7 278.4,559.7 278.5,554.7 278.6,548.4 278.7,552.4 278.8,554.3 278.9,555.1 279.0,555.5 279.1,555.3 279.2,557.5 279.3,557.7 279.4,549.9 279.5,559.8 279.6,557.4 279.7,552.2 279.8,555.0 279.9,552.9 280.0,555.0 280.0,544.6 280.1,544.4 280.2,558.1 280.3,552.1 280.4,560.8 280.5,561.6 280.6,555.7 280.7,563.6 280.8,549.5 280.9,555.3 281.0,547.9 281.1,555.3 281.2,560.1 281.3,555.3 281.4,556.0 281.5,549.4 281.6,555.7 281.7,550.5 281.7,554.9 281.8,550.7 281.9,559.0 282.0,557.4 282.1,556.4 282.2,558.5 282.3,560.7 282.4,554.4 282.5,550.8 282.6,551.2 282.7,562.6 282.8,556.1 282.9,548.6 283.0,548.9 283.1,560.2 283.2,552.8 283.3,562.8 283.4,561.7 283.4,552.7 283.5,552.5 283.6,549.2 283.7,557.7 283.8,546.8 283.9,555.9 284.0,551.8 284.1,561.3 284.2,551.8 284.3,549.7 284.4,556.5 284.5,548.4 284.6,556.9 284.7,551.9 284.8,550.5 284.9,551.8 285.0,552.2 285.1,547.1 285.1,556.4 285.2,553.1 285.3,550.4 285.4,560.0 285.5,554.8 285.6,561.8 285.7,544.7 285.8,560.5 285.9,554.5 286.0,562.3 286.1,554.4 286.2,551.6 286.3,550.8 286.4,556.0 286.5,546.1 286.6,552.1 286.7,548.9 286.7,565.6 286.8,556.5 286.9,552.5 287.0,539.0 287.1,553.1 287.2,550.5 287.3,553.2 287.4,553.5 287.5,549.7 287.6,546.8 287.7,551.8 287.8,552.6 287.9,552.9 288.0,553.1 288.1,555.3 288.2,549.0 288.3,557.6 288.4,551.2 288.4,554.1 288.5,551.0 288.6,554.5 288.7,561.1 288.8,555.7 288.9,554.1 289.0,553.9 289.1,550.4 289.2,547.1 289.3,542.8 289.4,553.7 289.5,555.7 289.6,556.6 289.7,543.6 289.8,549.0 289.9,555.2 290.0,550.9 290.1,556.7 290.1,557.7 290.2,546.8 290.3,557.5 290.4,552.7 290.5,550.7 290.6,554.9 290.7,550.1 290.8,545.2 290.9,557.7 291.0,556.2 291.1,556.2 291.2,554.5 291.3,546.6 291.4,553.6 291.5,561.9 291.6,555.8 291.7,554.1 291.8,555.2 291.8,552.9 291.9,554.2 292.0,554.1 292.1,550.7 292.2,553.0 292.3,553.7 292.4,554.1 292.5,566.2 292.6,552.2 292.7,547.8 292.8,553.2 292.9,545.3 293.0,562.9 293.1,550.9 293.2,553.1 293.3,555.0 293.4,558.5 293.5,551.3 293.5,555.9 293.6,553.1 293.7,554.0 293.8,557.1 293.9,550.9 294.0,561.4 294.1,553.6 294.2,558.6 294.3,551.4 294.4,554.1 294.5,550.3 294.6,557.9 294.7,554.0 294.8,550.8 294.9,548.7 295.0,564.9 295.1,556.5 295.1,557.8 295.2,560.4 295.3,556.9 295.4,561.0 295.5,554.0 295.6,556.0 295.7,563.1 295.8,548.8 295.9,555.5 296.0,551.5 296.1,562.3 296.2,553.0 296.3,555.4 296.4,555.0 296.5,550.2 296.6,552.7 296.7,551.1 296.8,558.9 296.8,551.1 296.9,560.0 297.0,556.1 297.1,558.6 297.2,561.2 297.3,559.2 297.4,556.9 297.5,551.5 297.6,553.9 297.7,555.3 297.8,558.6 297.9,554.9 298.0,553.8 298.1,564.1 298.2,557.3 298.3,557.6 298.4,551.6 298.5,552.4 298.5,552.6 298.6,550.1 298.7,554.8 298.8,556.2 298.9,551.3 299.0,552.4 299.1,559.7 299.2,547.1 299.3,554.1 299.4,562.2 299.5,559.2 299.6,558.4 299.7,563.6 299.8,561.9 299.9,558.9 300.0,552.2 300.1,548.9 300.2,551.2 300.2,561.3 300.3,551.9 300.4,552.8 300.5,560.4 300.6,553.6 300.7,556.9 300.8,548.4 300.9,552.3 301.0,552.1 301.1,551.6 301.2,547.3 301.3,551.0 301.4,559.3 301.5,555.8 301.6,559.0 301.7,551.7 301.8,564.2 301.8,552.3 301.9,553.5 302.0,557.4 302.1,553.1 302.2,556.4 302.3,563.0 302.4,558.1 302.5,553.7 302.6,561.8 302.7,553.0 302.8,553.8 302.9,557.4 303.0,557.7 303.1,545.8 303.2,557.7 303.3,553.4 303.4,549.5 303.5,549.5 303.5,549.8 303.6,547.5 303.7,559.5 303.8,561.8 303.9,554.5 304.0,555.1 304.1,555.3 304.2,560.9 304.3,557.3 304.4,563.9 304.5,557.9 304.6,562.5 304.7,548.0 304.8,550.6 304.9,556.1 305.0,554.3 305.1,551.3 305.2,549.8 305.2,547.9 305.3,555.2 305.4,553.3 305.5,558.9 305.6,552.4 305.7,555.4 305.8,557.8 305.9,559.1 306.0,552.7 306.1,555.2 306.2,564.0 306.3,543.9 306.4,571.1 306.5,556.7 306.6,553.7 306.7,546.2 306.8,554.7 306.9,551.5 306.9,552.4 307.0,550.7 307.1,549.2 307.2,554.4 307.3,548.0 307.4,558.4 307.5,555.1 307.6,552.1 307.7,554.8 307.8,558.7 307.9,553.1 308.0,558.9 308.1,567.5 308.2,555.8 308.3,557.4 308.4,552.3 308.5,555.2 308.6,551.4 308.6,562.6 308.7,551.3 308.8,557.6 308.9,551.5 309.0,555.0 309.1,550.0 309.2,549.3 309.3,561.0 309.4,559.6 309.5,555.5 309.6,552.8 309.7,553.7 309.8,548.9 309.9,555.3 310.0,561.4 310.1,552.3 310.2,566.3 310.2,557.3 310.3,563.1 310.4,558.9 310.5,551.9 310.6,551.2 310.7,563.1 310.8,562.2 310.9,553.2 311.0,566.2 311.1,556.7 311.2,570.8 311.3,555.5 311.4,561.6 311.5,557.7 311.6,554.0 311.7,560.3 311.8,553.4 311.9,552.5 311.9,556.3 312.0,550.3 312.1,550.7 312.2,555.2 312.3,557.7 312.4,560.7 312.5,562.6 312.6,556.4 312.7,564.4 312.8,558.6 312.9,556.4 313.0,561.6 313.1,562.8 313.2,557.1 313.3,555.0 313.4,558.7 313.5,556.7 313.6,550.9 313.6,556.6 313.7,556.4 313.8,557.2 313.9,558.4 314.0,562.2 314.1,552.7 314.2,557.3 314.3,560.1 314.4,546.0 314.5,562.2 314.6,557.5 314.7,568.9 314.8,560.3 314.9,552.7 315.0,557.1 315.1,555.4 315.2,558.6 315.3,550.0 315.3,557.7 315.4,555.3 315.5,555.3 315.6,558.6 315.7,557.2 315.8,565.5 315.9,558.0 316.0,560.0 316.1,553.9 316.2,553.7 316.3,563.6 316.4,554.2 316.5,551.3 316.6,551.2 316.7,552.8 316.8,551.7 316.9,553.1 317.0,562.3 317.0,555.7 317.1,559.1 317.2,566.1 317.3,553.8 317.4,554.0 317.5,549.2 317.6,561.8 317.7,558.4 317.8,548.7 317.9,562.7 318.0,561.4 318.1,544.6 318.2,551.3 318.3,560.5 318.4,552.0 318.5,555.4 318.6,559.4 318.6,558.1 318.7,554.2 318.8,559.8 318.9,563.0 319.0,555.5 319.1,569.5 319.2,560.2 319.3,559.2 319.4,551.7 319.5,552.8 319.6,553.3 319.7,561.4 319.8,552.5 319.9,563.1 320.0,561.6 320.1,554.3 320.2,556.8 320.3,564.3 320.3,553.4 320.4,546.9 320.5,554.0 320.6,558.0 320.7,561.7 320.8,559.6 320.9,569.0 321.0,562.4 321.1,559.0 321.2,563.0 321.3,563.2 321.4,558.5 321.5,561.2 321.6,560.4 321.7,558.4 321.8,557.3 321.9,552.1 322.0,556.5 322.0,552.7 322.1,560.3 322.2,557.3 322.3,551.4 322.4,556.0 322.5,555.1 322.6,549.9 322.7,553.4 322.8,557.0 322.9,563.5 323.0,556.4 323.1,559.0 323.2,562.9 323.3,561.8 323.4,557.3 323.5,559.5 323.6,555.5 323.7,554.7 323.7,556.3 323.8,557.0 323.9,560.9 324.0,559.5 324.1,560.7 324.2,548.7 324.3,554.4 324.4,555.7 324.5,550.4 324.6,545.1 324.7,558.1 324.8,566.0 324.9,551.2 325.0,556.7 325.1,564.8 325.2,555.5 325.3,555.1 325.3,550.7 325.4,555.5 325.5,560.2 325.6,560.9 325.7,554.9 325.8,560.7 325.9,568.6 326.0,553.6 326.1,557.3 326.2,557.3 326.3,560.9 326.4,555.0 326.5,546.0 326.6,561.7 326.7,565.6 326.8,558.4 326.9,554.8 327.0,553.6 327.0,556.3 327.1,549.1 327.2,556.4 327.3,554.0 327.4,548.3 327.5,556.2 327.6,558.0 327.7,564.2 327.8,555.8 327.9,563.5 328.0,553.1 328.1,553.9 328.2,557.7 328.3,552.3 328.4,556.6 328.5,552.0 328.6,551.8 328.7,553.5 328.7,559.2 328.8,555.8 328.9,553.5 329.0,563.6 329.1,555.7 329.2,559.7 329.3,557.9 329.4,560.3 329.5,556.3 329.6,553.4 329.7,558.2 329.8,558.6 329.9,559.7 330.0,559.2 330.1,558.9 330.2,552.1 330.3,561.7 330.4,561.7 330.4,556.6 330.5,558.4 330.6,557.9 330.7,564.1 330.8,550.1 330.9,556.2 331.0,560.6 331.1,550.0 331.2,554.6 331.3,565.9 331.4,551.4 331.5,557.4 331.6,553.6 331.7,556.9 331.8,553.9 331.9,558.2 332.0,550.5 332.1,565.6 332.1,559.4 332.2,559.3 332.3,555.6 332.4,558.8 332.5,556.7 332.6,560.4 332.7,556.1 332.8,556.1 332.9,564.4 333.0,562.9 333.1,565.8 333.2,562.4 333.3,549.8 333.4,560.3 333.5,562.0 333.6,559.4 333.7,563.1 333.7,563.1 333.8,559.6 333.9,560.7 334.0,558.2 334.1,564.8 334.2,552.1 334.3,551.6 334.4,562.9 334.5,550.4 334.6,560.4 334.7,558.7 334.8,564.3 334.9,553.8 335.0,553.6 335.1,557.7 335.2,557.5 335.3,554.4 335.4,553.8 335.4,558.1 335.5,561.7 335.6,547.9 335.7,562.4 335.8,560.3 335.9,555.8 336.0,553.1 336.1,554.7 336.2,548.2 336.3,558.0 336.4,557.6 336.5,557.3 336.6,559.1 336.7,551.7 336.8,561.7 336.9,556.8 337.0,557.9 337.1,558.9 337.1,558.9 337.2,561.4 337.3,558.8 337.4,558.7 337.5,553.7 337.6,555.3 337.7,550.5 337.8,558.6 337.9,556.2 338.0,557.2 338.1,560.4 338.2,555.9 338.3,564.1 338.4,552.0 338.5,564.4 338.6,562.8 338.7,556.0 338.8,559.5 338.8,562.2 338.9,555.0 339.0,558.9 339.1,562.3 339.2,560.0 339.3,556.1 339.4,550.8 339.5,560.9 339.6,561.4 339.7,565.4 339.8,561.7 339.9,551.8 340.0,552.8 340.1,550.6 340.2,560.3 340.3,556.4 340.4,557.9 340.5,554.6 340.5,549.3 340.6,558.0 340.7,548.8 340.8,547.2 340.9,551.9 341.0,558.5 341.1,562.8 341.2,558.3 341.3,557.5 341.4,559.1 341.5,561.0 341.6,562.6 341.7,552.9 341.8,553.9 341.9,571.2 342.0,550.6 342.1,546.2 342.1,553.8 342.2,554.1 342.3,552.7 342.4,564.6 342.5,561.8 342.6,552.6 342.7,568.6 342.8,555.0 342.9,557.9 343.0,553.2 343.1,552.7 343.2,559.4 343.3,564.3 343.4,560.2 343.5,557.4 343.6,556.1 343.7,563.7 343.8,550.3 343.8,555.9 343.9,552.7 344.0,556.0 344.1,555.7 344.2,553.5 344.3,551.6 344.4,558.8 344.5,567.4 344.6,558.9 344.7,556.6 344.8,553.5 344.9,560.3 345.0,559.5 345.1,567.0 345.2,556.0 345.3,564.9 345.4,553.3 345.5,559.6 345.5,561.0 345.6,554.9 345.7,548.7 345.8,558.1 345.9,558.8 346.0,563.1 346.1,562.5 346.2,565.8 346.3,552.6 346.4,564.9 346.5,559.2 346.6,560.9 346.7,547.1 346.8,559.1 346.9,557.1 347.0,557.3 347.1,569.6 347.2,553.2 347.2,554.5 347.3,557.6 347.4,557.9 347.5,550.6 347.6,550.2 347.7,555.8 347.8,549.8 347.9,558.7 348.0,553.1 348.1,548.4 348.2,558.8 348.3,558.0 348.4,558.5 348.5,556.0 348.6,558.1 348.7,553.5 348.8,546.4 348.8,553.3 348.9,553.6 349.0,552.7 349.1,556.2 349.2,563.4 349.3,559.0 349.4,557.3 349.5,558.0 349.6,549.8 349.7,564.9 349.8,555.6 349.9,561.4 350.0,560.2 350.1,560.2 350.2,563.7 350.3,554.8 350.4,559.7 350.5,553.8 350.5,554.5 350.6,543.6 350.7,554.9 350.8,553.9 350.9,555.9 351.0,549.5 351.1,548.2 351.2,555.6 351.3,552.8 351.4,556.5 351.5,548.4 351.6,545.6 351.7,556.1 351.8,555.1 351.9,554.7 352.0,555.6 352.1,554.5 352.2,552.7 352.2,548.7 352.3,554.4 352.4,552.8 352.5,551.4 352.6,545.7 352.7,550.7 352.8,555.9 352.9,556.8 353.0,545.6 353.1,558.0 353.2,549.9 353.3,558.4 353.4,552.2 353.5,547.7 353.6,558.3 353.7,545.3 353.8,554.8 353.9,552.8 353.9,555.3 354.0,556.1 354.1,554.6 354.2,559.2 354.3,544.5 354.4,557.0 354.5,559.7 354.6,545.2 354.7,545.2 354.8,549.6 354.9,546.9 355.0,557.7 355.1,555.7 355.2,549.1 355.3,550.0 355.4,561.6 355.5,549.8 355.6,549.0 355.6,563.0 355.7,559.4 355.8,550.8 355.9,556.3 356.0,544.3 356.1,558.0 356.2,568.4 356.3,550.7 356.4,556.7 356.5,552.4 356.6,548.2 356.7,552.4 356.8,550.4 356.9,546.0 357.0,553.3 357.1,554.9 357.2,556.2 357.2,555.4 357.3,555.1 357.4,553.9 357.5,551.4 357.6,545.9 357.7,553.3 357.8,550.9 357.9,545.8 358.0,552.9 358.1,556.5 358.2,561.1 358.3,548.6 358.4,559.8 358.5,549.5 358.6,554.3 358.7,560.0 358.8,553.2 358.9,551.3 358.9,547.7 359.0,558.8 359.1,548.5 359.2,554.0 359.3,552.5 359.4,555.3 359.5,560.5 359.6,555.8 359.7,564.1 359.8,562.4 359.9,552.4 360.0,546.4 360.1,551.5 360.2,551.3 360.3,560.3 360.4,552.9 360.5,556.1 360.6,544.9 360.6,555.9 360.7,561.5 360.8,553.4 360.9,548.4 361.0,551.9 361.1,553.9 361.2,553.5 361.3,553.3 361.4,554.8 361.5,548.8 361.6,551.8 361.7,551.2 361.8,551.3 361.9,543.4 362.0,553.4 362.1,554.9 362.2,546.1 362.3,561.0 362.3,551.4 362.4,552.0 362.5,555.3 362.6,552.9 362.7,557.7 362.8,558.3 362.9,541.1 363.0,552.5 363.1,557.5 363.2,555.7 363.3,557.1 363.4,553.8 363.5,551.2 363.6,546.4 363.7,562.2 363.8,554.8 363.9,554.3 364.0,554.8 364.0,552.9 364.1,554.0 364.2,559.3 364.3,555.6 364.4,546.7 364.5,552.9 364.6,551.0 364.7,553.2 364.8,552.3 364.9,560.6 365.0,546.7 365.1,556.3 365.2,555.8 365.3,550.0 365.4,545.0 365.5,552.9 365.6,544.7 365.6,559.4 365.7,556.3 365.8,540.4 365.9,553.4 366.0,550.5 366.1,548.4 366.2,548.0 366.3,560.9 366.4,547.9 366.5,548.6 366.6,558.2 366.7,552.1 366.8,543.8 366.9,567.6 367.0,554.6 367.1,548.0 367.2,567.2 367.3,555.2 367.3,554.4 367.4,551.1 367.5,557.0 367.6,555.3 367.7,554.3 367.8,559.8 367.9,552.5 368.0,548.5 368.1,547.0 368.2,557.0 368.3,554.9 368.4,550.6 368.5,558.7 368.6,556.4 368.7,549.6 368.8,545.3 368.9,549.9 369.0,546.8 369.0,552.0 369.1,554.2 369.2,555.3 369.3,541.0 369.4,549.8 369.5,554.5 369.6,555.1 369.7,553.6 369.8,550.2 369.9,552.7 370.0,557.9 370.1,551.0 370.2,548.8 370.3,555.9 370.4,556.7 370.5,546.7 370.6,549.2 370.7,545.2 370.7,551.8 370.8,554.5 370.9,551.3 371.0,547.6 371.1,547.4 371.2,552.8 371.3,557.2 371.4,553.7 371.5,553.0 371.6,559.9 371.7,551.4 371.8,551.2 371.9,547.7 372.0,559.7 372.1,558.1 372.2,552.4 372.3,554.1 372.3,547.0 372.4,548.9 372.5,553.5 372.6,556.0 372.7,539.9 372.8,560.1 372.9,556.4 373.0,546.5 373.1,553.9 373.2,550.0 373.3,548.8 373.4,549.5 373.5,549.4 373.6,552.8 373.7,553.2 373.8,557.4 373.9,551.3 374.0,548.1 374.0,553.1 374.1,554.8 374.2,552.7 374.3,558.7 374.4,550.6 374.5,545.3 374.6,555.2 374.7,555.5 374.8,552.0 374.9,552.5 375.0,546.5 375.1,551.2 375.2,553.0 375.3,551.1 375.4,544.8 375.5,552.5 375.6,547.4 375.7,553.6 375.7,552.7 375.8,555.3 375.9,547.3 376.0,552.9 376.1,553.8 376.2,552.9 376.3,557.9 376.4,546.5 376.5,556.2 376.6,557.3 376.7,552.1 376.8,546.7 376.9,551.6 377.0,552.2 377.1,552.8 377.2,557.8 377.3,555.3 377.4,543.9 377.4,557.3 377.5,542.3 377.6,548.0 377.7,542.5 377.8,553.9 377.9,549.0 378.0,557.7 378.1,547.8 378.2,552.6 378.3,560.1 378.4,550.2 378.5,558.4 378.6,553.6 378.7,552.4 378.8,544.4 378.9,551.8 379.0,561.5 379.1,551.7 379.1,554.5 379.2,559.8 379.3,548.6 379.4,552.6 379.5,560.0 379.6,556.7 379.7,562.2 379.8,565.7 379.9,562.3 380.0,559.7 380.1,560.7 380.2,552.3 380.3,561.9 380.4,555.4 380.5,564.6 380.6,556.4 380.7,564.5 380.7,557.6 380.8,557.9 380.9,552.9 381.0,561.8 381.1,561.7 381.2,564.8 381.3,556.6 381.4,553.1 381.5,564.1 381.6,548.7 381.7,555.4 381.8,564.1 381.9,559.5 382.0,554.3 382.1,559.0 382.2,566.1 382.3,559.5 382.4,558.6 382.4,565.3 382.5,557.6 382.6,561.0 382.7,566.0 382.8,553.0 382.9,557.0 383.0,563.6 383.1,560.0 383.2,568.3 383.3,559.9 383.4,560.8 383.5,554.0 383.6,555.5 383.7,567.0 383.8,557.1 383.9,561.3 384.0,558.9 384.1,570.7 384.1,552.9 384.2,562.7 384.3,560.2 384.4,555.6 384.5,558.9 384.6,563.0 384.7,573.0 384.8,566.3 384.9,563.2 385.0,561.4 385.1,554.1 385.2,554.3 385.3,562.9 385.4,553.8 385.5,565.7 385.6,563.1 385.7,567.1 385.8,562.3 385.8,556.8 385.9,566.2 386.0,556.3 386.1,561.0 386.2,560.0 386.3,557.2 386.4,560.2 386.5,561.2 386.6,557.0 386.7,567.5 386.8,558.5 386.9,559.0 387.0,563.0 387.1,559.3 387.2,560.3 387.3,561.4 387.4,552.8 387.5,568.9 387.5,555.9 387.6,552.7 387.7,562.0 387.8,562.2 387.9,561.3 388.0,556.5 388.1,556.2 388.2,560.5 388.3,559.9 388.4,564.8 388.5,560.1 388.6,562.7 388.7,560.0 388.8,552.2 388.9,556.1 389.0,566.9 389.1,561.4 389.1,565.9 389.2,560.3 389.3,560.1 389.4,558.0 389.5,565.4 389.6,567.4 389.7,556.4 389.8,561.7 389.9,557.1 390.0,561.0 390.1,553.7 390.2,554.1 390.3,562.9 390.4,561.4 390.5,559.9 390.6,566.9 390.7,557.0 390.8,559.6 390.8,565.9 390.9,560.3 391.0,557.8 391.1,564.7 391.2,559.6 391.3,558.6 391.4,554.6 391.5,553.3 391.6,552.7 391.7,555.6 391.8,558.6 391.9,561.6 392.0,553.5 392.1,561.1 392.2,566.3 392.3,566.6 392.4,557.7 392.5,572.4 392.5,563.8 392.6,565.2 392.7,568.2 392.8,555.8 392.9,558.5 393.0,560.6 393.1,562.0 393.2,555.5 393.3,564.6 393.4,557.9 393.5,562.0 393.6,563.6 393.7,557.6 393.8,567.0 393.9,556.7 394.0,551.0 394.1,565.6 394.2,560.1 394.2,553.1 394.3,558.9 394.4,562.1 394.5,559.8 394.6,563.6 394.7,556.3 394.8,560.6 394.9,558.4 395.0,558.7 395.1,561.9 395.2,565.2 395.3,559.3 395.4,558.5 395.5,563.6 395.6,561.4 395.7,550.0 395.8,559.5 395.8,557.8 395.9,555.5 396.0,557.2 396.1,556.9 396.2,568.9 396.3,557.4 396.4,558.2 396.5,551.2 396.6,558.8 396.7,563.5 396.8,557.1 396.9,562.3 397.0,561.2 397.1,559.8 397.2,573.0 397.3,556.5 397.4,561.5 397.5,554.2 397.5,564.4 397.6,557.2 397.7,557.6 397.8,563.7 397.9,557.2 398.0,564.3 398.1,551.9 398.2,564.2 398.3,556.9 398.4,551.0 398.5,565.2 398.6,568.4 398.7,562.4 398.8,568.3 398.9,564.7 399.0,557.1 399.1,568.2 399.2,560.2 399.2,565.8 399.3,562.5 399.4,557.2 399.5,559.1 399.6,555.6 399.7,563.0 399.8,554.5 399.9,569.8 400.0,561.2 400.1,553.4 400.2,561.5 400.3,555.4 400.4,566.8 400.5,562.4 400.6,555.6 400.7,566.6 400.8,564.9 400.9,562.6 400.9,554.9 401.0,555.7 401.1,571.2 401.2,552.2 401.3,561.6 401.4,561.1 401.5,554.4 401.6,553.3 401.7,552.3 401.8,564.8 401.9,555.6 402.0,564.2 402.1,562.8 402.2,560.2 402.3,558.3 402.4,557.5 402.5,560.9 402.6,557.3 402.6,553.8 402.7,558.5 402.8,568.2 402.9,566.4 403.0,557.6 403.1,552.5 403.2,554.5 403.3,556.0 403.4,561.2 403.5,559.9 403.6,565.0 403.7,568.3 403.8,559.7 403.9,565.2 404.0,562.4 404.1,556.8 404.2,558.3 404.2,556.3 404.3,551.8 404.4,564.8 404.5,565.6 404.6,563.7 404.7,559.7 404.8,561.8 404.9,562.8 405.0,561.8 405.1,559.2 405.2,560.8 405.3,561.1 405.4,565.4 405.5,566.2 405.6,556.0 405.7,573.3 405.8,563.8 405.9,558.2 405.9,554.3 406.0,563.3 406.1,566.3 406.2,557.7 406.3,559.7 406.4,569.3 406.5,565.9 406.6,564.8 406.7,564.4 406.8,571.0 406.9,559.3 407.0,563.0 407.1,559.1 407.2,556.3 407.3,554.2 407.4,558.6 407.5,557.8 407.6,558.6 407.6,564.1 407.7,559.1 407.8,557.3 407.9,559.4 408.0,558.6 408.1,560.1 408.2,566.9 408.3,559.2 408.4,561.8 408.5,560.4 408.6,558.4 408.7,562.9 408.8,563.3 408.9,561.3 409.0,564.9 409.1,561.8 409.2,565.8 409.3,558.8 409.3,564.8 409.4,563.7 409.5,560.3 409.6,558.7 409.7,557.7 409.8,556.4 409.9,558.6 410.0,558.8 410.1,559.4 410.2,570.2 410.3,560.2 410.4,556.4 410.5,567.2 410.6,565.3 410.7,557.9 410.8,564.2 410.9,562.3 411.0,564.9 411.0,558.7 411.1,561.5 411.2,559.8 411.3,558.0 411.4,560.6 411.5,567.1 411.6,559.3 411.7,557.6 411.8,557.5 411.9,563.2 412.0,559.7 412.1,554.6 412.2,554.7 412.3,558.5 412.4,563.7 412.5,566.7 412.6,565.0 412.6,559.7 412.7,562.1 412.8,565.1 412.9,558.0 413.0,546.2 413.1,567.6 413.2,565.6 413.3,562.7 413.4,566.3 413.5,564.0 413.6,557.6 413.7,554.8 413.8,559.3 413.9,555.9 414.0,558.3 414.1,564.0 414.2,554.4 414.3,559.9 414.3,569.7 414.4,560.7 414.5,554.3 414.6,561.8 414.7,559.5 414.8,565.6 414.9,558.5 415.0,567.7 415.1,566.1 415.2,569.6 415.3,563.1 415.4,568.1 415.5,551.6 415.6,555.1 415.7,562.1 415.8,560.6 415.9,558.4 416.0,562.6 416.0,562.7 416.1,563.8 416.2,553.4 416.3,564.9 416.4,563.7 416.5,559.6 416.6,557.6 416.7,563.9 416.8,560.4 416.9,560.1 417.0,565.1 417.1,568.4 417.2,560.8 417.3,558.6 417.4,561.3 417.5,559.1 417.6,554.5 417.7,564.3 417.7,562.5 417.8,556.3 417.9,559.2 418.0,559.9 418.1,556.5 418.2,565.4 418.3,562.4 418.4,555.5 418.5,552.7 418.6,569.5 418.7,550.7 418.8,565.1 418.9,563.2 419.0,564.0 419.1,556.2 419.2,559.9 419.3,559.4 419.3,568.6 419.4,562.0 419.5,554.0 419.6,563.0 419.7,565.2 419.8,565.7 419.9,559.4 420.0,561.2 420.1,557.5 420.2,560.1 420.3,563.0 420.4,563.6 420.5,553.1 420.6,561.3 420.7,562.9 420.8,562.3 420.9,548.5 421.0,559.1 421.0,565.6 421.1,568.4 421.2,560.9 421.3,561.2 421.4,554.9 421.5,558.8 421.6,560.0 421.7,569.7 421.8,549.5 421.9,566.1 422.0,565.7 422.1,566.2 422.2,555.8 422.3,561.1 422.4,559.7 422.5,562.5 422.6,558.6 422.7,557.2 422.7,557.2 422.8,555.1 422.9,566.3 423.0,555.9 423.1,556.6 423.2,565.0 423.3,559.1 423.4,559.5 423.5,564.9 423.6,560.3 423.7,562.9 423.8,559.9 423.9,549.9 424.0,556.6 424.1,561.7 424.2,558.2 424.3,565.4 424.4,557.9 424.4,558.8 424.5,557.5 424.6,558.3 424.7,569.4 424.8,556.6 424.9,551.4 425.0,555.8 425.1,551.5 425.2,559.6 425.3,559.8 425.4,557.9 425.5,556.5 425.6,573.0 425.7,549.5 425.8,559.1 425.9,556.8 426.0,567.7 426.1,559.3 426.1,560.7 426.2,555.7 426.3,559.3 426.4,564.8 426.5,555.0 426.6,560.9 426.7,560.0 426.8,563.9 426.9,558.5 427.0,560.2 427.1,559.0 427.2,568.3 427.3,566.0 427.4,560.3 427.5,563.8 427.6,556.2 427.7,560.4 427.7,560.6 427.8,561.5 427.9,567.8 428.0,559.3 428.1,558.4 428.2,563.1 428.3,562.0 428.4,567.3 428.5,575.2 428.6,564.0 428.7,559.1 428.8,558.2 428.9,566.6 429.0,554.9 429.1,558.1 429.2,561.4 429.3,561.5 429.4,557.2 429.4,567.8 429.5,566.1 429.6,566.8 429.7,558.2 429.8,555.7 429.9,562.6 430.0,559.2 430.1,559.0 430.2,558.8 430.3,565.7 430.4,556.8 430.5,575.2 430.6,549.4 430.7,558.2 430.8,559.3 430.9,557.0 431.0,559.9 431.1,558.6 431.1,552.7 431.2,561.7 431.3,570.2 431.4,553.5 431.5,556.5 431.6,554.7 431.7,560.6 431.8,553.6 431.9,560.4 432.0,561.0 432.1,559.4 432.2,563.3 432.3,551.8 432.4,550.7 432.5,560.0 432.6,562.6 432.7,554.5 432.8,545.2 432.8,561.9 432.9,561.8 433.0,543.1 433.1,560.3 433.2,554.1 433.3,545.6 433.4,563.4 433.5,559.3 433.6,569.3 433.7,558.3 433.8,555.8 433.9,562.8 434.0,568.8 434.1,562.4 434.2,556.0 434.3,557.9 434.4,555.4 434.5,550.2 434.5,554.0 434.6,557.7 434.7,553.4 434.8,560.7 434.9,551.9 435.0,558.0 435.1,548.4 435.2,545.3 435.3,561.4 435.4,556.9 435.5,553.2 435.6,560.0 435.7,571.0 435.8,558.5 435.9,563.2 436.0,553.8 436.1,557.0 436.1,555.7 436.2,569.3 436.3,562.1 436.4,550.2 436.5,546.8 436.6,571.2 436.7,560.4 436.8,557.2 436.9,554.0 437.0,556.2 437.1,552.0 437.2,554.4 437.3,549.4 437.4,556.1 437.5,553.7 437.6,563.0 437.7,558.7 437.8,546.7 437.8,553.6 437.9,563.0 438.0,556.3 438.1,554.0 438.2,561.2 438.3,559.3 438.4,551.2 438.5,560.5 438.6,557.3 438.7,550.1 438.8,553.8 438.9,558.7 439.0,552.4 439.1,556.6 439.2,559.9 439.3,555.1 439.4,551.6 439.5,552.2 439.5,554.6 439.6,573.7 439.7,567.7 439.8,555.3 439.9,557.8 440.0,557.6 440.1,564.3 440.2,547.0 440.3,561.0 440.4,555.7 440.5,554.0 440.6,546.9 440.7,561.3 440.8,561.4 440.9,559.0 441.0,555.5 441.1,549.8 441.2,553.3 441.2,562.5 441.3,558.1 441.4,563.8 441.5,558.7 441.6,563.3 441.7,565.1 441.8,564.7 441.9,550.9 442.0,561.8 442.1,557.6 442.2,568.0 442.3,559.5 442.4,564.8 442.5,554.7 442.6,561.3 442.7,555.4 442.8,553.9 442.8,559.6 442.9,558.4 443.0,561.2 443.1,548.1 443.2,549.7 443.3,567.3 443.4,554.1 443.5,557.3 443.6,561.8 443.7,563.9 443.8,564.6 443.9,552.7 444.0,562.4 444.1,559.4 444.2,554.9 444.3,557.7 444.4,561.7 444.5,562.7 444.5,556.4 444.6,563.4 444.7,549.5 444.8,557.1 444.9,545.7 445.0,568.8 445.1,563.0 445.2,556.8 445.3,558.1 445.4,559.5 445.5,560.3 445.6,552.4 445.7,557.6 445.8,565.0 445.9,564.0 446.0,557.7 446.1,563.9 446.2,567.7 446.2,557.2 446.3,553.9 446.4,554.0 446.5,566.6 446.6,561.5 446.7,560.0 446.8,557.1 446.9,567.4 447.0,561.8 447.1,564.7 447.2,561.2 447.3,554.4 447.4,568.0 447.5,559.6 447.6,565.3 447.7,563.6 447.8,559.3 447.9,567.9 447.9,566.4 448.0,564.7 448.1,569.6 448.2,560.9 448.3,565.8 448.4,561.4 448.5,562.2 448.6,566.8 448.7,556.8 448.8,565.9 448.9,559.7 449.0,567.7 449.1,557.4 449.2,561.8 449.3,568.9 449.4,564.8 449.5,567.4 449.6,562.4 449.6,570.7 449.7,564.4 449.8,570.0 449.9,561.7 450.0,560.5 450.1,567.5 450.2,561.0 450.3,565.2 450.4,572.0 450.5,562.9 450.6,559.9 450.7,567.5 450.8,559.5 450.9,563.6 451.0,562.1 451.1,563.2 451.2,562.1 451.2,553.0 451.3,565.7 451.4,568.5 451.5,568.4 451.6,565.4 451.7,566.2 451.8,558.3 451.9,559.7 452.0,570.6 452.1,561.6 452.2,557.6 452.3,563.0 452.4,561.6 452.5,565.2 452.6,566.2 452.7,558.2 452.8,564.6 452.9,567.9 452.9,565.6 453.0,561.7 453.1,567.8 453.2,565.0 453.3,558.3 453.4,558.1 453.5,565.6 453.6,558.3 453.7,559.1 453.8,565.6 453.9,563.4 454.0,559.9 454.1,563.2 454.2,560.5 454.3,567.9 454.4,562.7 454.5,572.4 454.6,570.4 454.6,568.3 454.7,565.8 454.8,564.8 454.9,561.2 455.0,570.1 455.1,574.8 455.2,563.1 455.3,563.8 455.4,550.5 455.5,562.6 455.6,559.4 455.7,573.3 455.8,558.9 455.9,564.4 456.0,568.1 456.1,566.5 456.2,558.8 456.3,565.2 456.3,566.0 456.4,564.1 456.5,563.7 456.6,554.2 456.7,564.7 456.8,560.4 456.9,566.8 457.0,558.2 457.1,557.3 457.2,564.5 457.3,562.8 457.4,557.8 457.5,561.7 457.6,561.0 457.7,564.1 457.8,564.0 457.9,557.7 458.0,566.7 458.0,568.7 458.1,556.1 458.2,561.3 458.3,568.4 458.4,557.6 458.5,559.0 458.6,557.3 458.7,569.9 458.8,567.3 458.9,558.9 459.0,567.1 459.1,567.5 459.2,567.6 459.3,568.3 459.4,568.6 459.5,562.6 459.6,569.2 459.6,561.9 459.7,573.8 459.8,561.9 459.9,566.5 460.0,572.0 460.1,563.7 460.2,565.4 460.3,565.3 460.4,563.8 460.5,568.1 460.6,570.7 460.7,562.0 460.8,571.2 460.9,560.4 461.0,563.4 461.1,555.7 461.2,557.3 461.3,567.8 461.3,559.6 461.4,561.6 461.5,556.3 461.6,568.3 461.7,561.0 461.8,560.2 461.9,573.0 462.0,565.7 462.1,565.7 462.2,560.5 462.3,573.2 462.4,563.6 462.5,568.3 462.6,567.6 462.7,559.8 462.8,564.6 462.9,566.9 463.0,568.4 463.0,567.0 463.1,562.0 463.2,566.5 463.3,568.8 463.4,558.7 463.5,565.4 463.6,566.1 463.7,568.6 463.8,564.4 463.9,565.7 464.0,552.8 464.1,559.7 464.2,555.8 464.3,565.0 464.4,570.0 464.5,567.9 464.6,562.3 464.7,571.3 464.7,565.9 464.8,567.2 464.9,564.0 465.0,566.8 465.1,562.5 465.2,566.8 465.3,566.7 465.4,561.4 465.5,569.9 465.6,566.3 465.7,560.1 465.8,555.8 465.9,562.8 466.0,568.1 466.1,561.8 466.2,568.8 466.3,565.0 466.3,563.5 466.4,565.3 466.5,565.0 466.6,562.2 466.7,563.5 466.8,564.2 466.9,561.3 467.0,572.4 467.1,565.4 467.2,566.8 467.3,566.9 467.4,566.0 467.5,561.2 467.6,556.5 467.7,559.4 467.8,569.7 467.9,564.1 468.0,554.8 468.0,561.6 468.1,564.4 468.2,557.7 468.3,560.0 468.4,561.2 468.5,570.3 468.6,561.8 468.7,561.2 468.8,554.8 468.9,566.6 469.0,566.3 469.1,563.3 469.2,561.2 469.3,564.6 469.4,562.2 469.5,563.7 469.6,566.7 469.7,561.7 469.7,559.8 469.8,563.6 469.9,556.8 470.0,556.6 470.1,567.5 470.2,554.5 470.3,553.7 470.4,557.5 470.5,559.6 470.6,558.2 470.7,564.7 470.8,560.6 470.9,549.6 471.0,556.0 471.1,559.5 471.2,543.5 471.3,563.0 471.4,562.3 471.4,557.6 471.5,558.4 471.6,548.2 471.7,559.4 471.8,561.2 471.9,550.6 472.0,560.5 472.1,566.1 472.2,569.5 472.3,562.1 472.4,559.4 472.5,560.4 472.6,554.6 472.7,559.6 472.8,561.8 472.9,553.5 473.0,555.8 473.1,560.4 473.1,555.5 473.2,566.8 473.3,552.2 473.4,559.3 473.5,560.6 473.6,563.5 473.7,555.1 473.8,553.7 473.9,558.6 474.0,557.8 474.1,557.5 474.2,564.5 474.3,555.1 474.4,565.4 474.5,561.3 474.6,567.0 474.7,562.5 474.7,563.6 474.8,560.3 474.9,560.2 475.0,549.4 475.1,567.9 475.2,569.1 475.3,557.3 475.4,565.3 475.5,557.8 475.6,564.6 475.7,554.5 475.8,559.7 475.9,562.6 476.0,558.0 476.1,564.6 476.2,553.8 476.3,556.4 476.4,566.3 476.4,554.6 476.5,557.3 476.6,549.6 476.7,554.5 476.8,557.4 476.9,568.7 477.0,557.9 477.1,564.4 477.2,561.1 477.3,557.4 477.4,555.4 477.5,568.8 477.6,557.3 477.7,555.3 477.8,549.6 477.9,559.3 478.0,559.8 478.1,561.3 478.1,552.8 478.2,551.2 478.3,549.2 478.4,556.4 478.5,554.9 478.6,556.5 478.7,562.7 478.8,555.2 478.9,563.0 479.0,546.3 479.1,565.1 479.2,558.8 479.3,556.1 479.4,558.7 479.5,557.9 479.6,562.9 479.7,558.2 479.8,569.5 479.8,549.5 479.9,556.0 480.0,557.8 480.1,563.0 480.2,549.3 480.3,555.8 480.4,570.7 480.5,559.6 480.6,569.5 480.7,552.7 480.8,560.1 480.9,562.1 481.0,555.9 481.1,557.2 481.2,555.4 481.3,561.8 481.4,564.5 481.5,567.6 481.5,562.2 481.6,560.4 481.7,552.0 481.8,576.6 481.9,572.9 482.0,548.1 482.1,564.3 482.2,561.2 482.3,558.2 482.4,556.1 482.5,563.8 482.6,565.1 482.7,568.0 482.8,555.5 482.9,558.0 483.0,565.4 483.1,561.8 483.1,559.3 483.2,559.7 483.3,564.5 483.4,555.4 483.5,552.5 483.6,566.5 483.7,563.0 483.8,554.3 483.9,558.9 484.0,561.7 484.1,567.5 484.2,562.9 484.3,561.3 484.4,554.7 484.5,560.2 484.6,552.5 484.7,562.5 484.8,572.9 484.8,555.4 484.9,566.0 485.0,571.0 485.1,549.4 485.2,564.6 485.3,557.3 485.4,561.8 485.5,557.9 485.6,560.3 485.7,563.7 485.8,559.2 485.9,562.2 486.0,562.5 486.1,562.2 486.2,559.2 486.3,557.9 486.4,556.8 486.5,570.5 486.5,551.5 486.6,571.7 486.7,564.3 486.8,567.5 486.9,559.4 487.0,567.9 487.1,560.1 487.2,555.0 487.3,559.3 487.4,554.7 487.5,574.0 487.6,564.4 487.7,561.4 487.8,560.6 487.9,571.1 488.0,568.7 488.1,564.0 488.2,559.3 488.2,561.3 488.3,567.8 488.4,555.6 488.5,561.5 488.6,561.1 488.7,556.0 488.8,565.9 488.9,559.4 489.0,556.3 489.1,554.5 489.2,560.7 489.3,552.1 489.4,556.1 489.5,559.1 489.6,556.4 489.7,558.9 489.8,561.6 489.8,547.4 489.9,562.5 490.0,556.8 490.1,558.5 490.2,563.1 490.3,562.9 490.4,555.7 490.5,553.0 490.6,558.3 490.7,545.7 490.8,562.4 490.9,552.1 491.0,558.7 491.1,556.3 491.2,567.1 491.3,567.4 491.4,555.1 491.5,566.0 491.5,558.0 491.6,556.5 491.7,561.2 491.8,554.9 491.9,559.2 492.0,551.2 492.1,556.0 492.2,562.9 492.3,554.7 492.4,568.5 492.5,564.3 492.6,554.7 492.7,562.2 492.8,557.4 492.9,566.3 493.0,567.5 493.1,555.6 493.2,550.2 493.2,569.6 493.3,557.0 493.4,556.9 493.5,561.6 493.6,551.2 493.7,577.5 493.8,559.0 493.9,555.0 494.0,576.0 494.1,576.1 494.2,563.2 494.3,563.9 494.4,566.2 494.5,555.2 494.6,541.7 494.7,566.2 494.8,558.1 494.9,560.1 494.9,563.1 495.0,565.3 495.1,569.8 495.2,560.5 495.3,554.7 495.4,563.0 495.5,564.6 495.6,563.8 495.7,568.0 495.8,565.3 495.9,565.4 496.0,580.3 496.1,553.9 496.2,575.1 496.3,553.7 496.4,551.3 496.5,560.4 496.6,572.6 496.6,563.4 496.7,566.9 496.8,541.4 496.9,560.6 497.0,558.1 497.1,561.2 497.2,564.6 497.3,568.0 497.4,566.5 497.5,563.9 497.6,568.9 497.7,554.9 497.8,555.0 497.9,557.5 498.0,558.2 498.1,555.5 498.2,560.5 498.2,564.9 498.3,565.8 498.4,559.4 498.5,558.3 498.6,558.4 498.7,557.6 498.8,561.9 498.9,551.0 499.0,556.4 499.1,557.2 499.2,578.2 499.3,557.9 499.4,575.6 499.5,560.9 499.6,553.3 499.7,567.6 499.8,579.7 499.9,561.5 499.9,555.7 500.0,564.4 500.1,564.5 500.2,565.4 500.3,563.1 500.4,571.6 500.5,565.0 500.6,562.1 500.7,565.3 500.8,551.5 500.9,556.2 501.0,567.6 501.1,557.9 501.2,556.9 501.3,564.2 501.4,571.7 501.5,560.9 501.6,556.2 501.6,558.5 501.7,559.4 501.8,567.0 501.9,553.1 502.0,563.0 502.1,565.8 502.2,559.5 502.3,556.2 502.4,559.3 502.5,578.2 502.6,563.5 502.7,566.8 502.8,551.2 502.9,558.5 503.0,553.8 503.1,562.0 503.2,557.0 503.3,564.1 503.3,559.0 503.4,567.1 503.5,560.9 503.6,559.7 503.7,559.2 503.8,556.2 503.9,560.5 504.0,565.6 504.1,553.7 504.2,563.7 504.3,562.0 504.4,556.9 504.5,576.1 504.6,573.9 504.7,568.6 504.8,557.3 504.9,558.5 505.0,548.7 505.0,563.3 505.1,552.0 505.2,561.1 505.3,561.6 505.4,547.7 505.5,566.3 505.6,566.0 505.7,563.1 505.8,563.1 505.9,558.6 506.0,564.8 506.1,561.3 506.2,559.5 506.3,555.9 506.4,557.1 506.5,559.3 506.6,567.4 506.6,564.2 506.7,552.5 506.8,567.1 506.9,567.5 507.0,560.8 507.1,565.6 507.2,553.7 507.3,554.3 507.4,553.7 507.5,564.9 507.6,562.4 507.7,546.6 507.8,559.7 507.9,549.9 508.0,562.7 508.1,559.5 508.2,565.5 508.3,559.9 508.3,560.4 508.4,567.7 508.5,573.4 508.6,562.5 508.7,570.5 508.8,574.7 508.9,566.2 509.0,554.7 509.1,566.5 509.2,558.4 509.3,561.0 509.4,568.5 509.5,563.6 509.6,558.2 509.7,551.2 509.8,566.9 509.9,560.9 510.0,563.1 510.0,553.8 510.1,554.3 510.2,565.4 510.3,559.1 510.4,563.4 510.5,564.8 510.6,570.6 510.7,571.0 510.8,555.7 510.9,551.4 511.0,560.7 511.1,564.6 511.2,556.7 511.3,569.1 511.4,562.0 511.5,563.1 511.6,561.9 511.7,562.4 511.7,562.6 511.8,564.1 511.9,560.3 512.0,561.3 512.1,566.6 512.2,563.7 512.3,565.6 512.4,564.3 512.5,559.9 512.6,566.0 512.7,558.3 512.8,567.8 512.9,549.4 513.0,568.1 513.1,557.6 513.2,568.4 513.3,560.7 513.3,561.7 513.4,559.4 513.5,556.5 513.6,575.1 513.7,566.1 513.8,557.3 513.9,552.8 514.0,565.5 514.1,560.6 514.2,564.9 514.3,565.7 514.4,574.3 514.5,567.1 514.6,554.0 514.7,569.3 514.8,559.8 514.9,560.6 515.0,579.7 515.0,562.9 515.1,558.1 515.2,555.1 515.3,559.0 515.4,557.6 515.5,570.7 515.6,562.5 515.7,570.4 515.8,572.1 515.9,555.0 516.0,555.8 516.1,555.3 516.2,558.0 516.3,568.2 516.4,558.8 516.5,559.9 516.6,562.9 516.7,565.4 516.7,558.5 516.8,566.6 516.9,552.5 517.0,575.4 517.1,572.3 517.2,566.6 517.3,571.1 517.4,566.6 517.5,563.5 517.6,560.1 517.7,570.0 517.8,553.6 517.9,568.5 518.0,564.1 518.1,579.3 518.2,560.8 518.3,571.7 518.4,571.5 518.4,557.7 518.5,566.3 518.6,557.4 518.7,560.7 518.8,566.9 518.9,558.6 519.0,564.8 519.1,562.0 519.2,558.1 519.3,570.1 519.4,561.3 519.5,563.9 519.6,568.4 519.7,553.4 519.8,551.9 519.9,568.5 520.0,569.0 520.1,568.7 520.1,562.8 520.2,568.7 520.3,560.4 520.4,573.0 520.5,562.7 520.6,569.7 520.7,558.3 520.8,571.0 520.9,568.3 521.0,558.9 521.1,568.6 521.2,550.0 521.3,561.5 521.4,569.2 521.5,566.0 521.6,565.7 521.7,558.8 521.7,560.8 521.8,563.5 521.9,572.8 522.0,571.0 522.1,566.1 522.2,565.1 522.3,569.5 522.4,566.0 522.5,568.4 522.6,572.3 522.7,566.3 522.8,564.7 522.9,565.9 523.0,568.6 523.1,570.2 523.2,566.8 523.3,566.5 523.4,564.3 523.4,564.9 523.5,562.3 523.6,572.9 523.7,571.9 523.8,562.9 523.9,561.3 524.0,571.8 524.1,574.6 524.2,563.9 524.3,566.1 524.4,569.9 524.5,570.5 524.6,577.8 524.7,567.0 524.8,563.0 524.9,574.0 525.0,568.2 525.1,564.2 525.1,563.5 525.2,564.4 525.3,567.5 525.4,567.9 525.5,563.7 525.6,565.1 525.7,560.5 525.8,571.1 525.9,571.9 526.0,564.4 526.1,559.5 526.2,567.6 526.3,560.8 526.4,568.4 526.5,566.1 526.6,563.1 526.7,563.7 526.8,567.6 526.8,563.3 526.9,559.3 527.0,567.9 527.1,572.6 527.2,567.4 527.3,566.3 527.4,569.1 527.5,572.4 527.6,561.0 527.7,563.0 527.8,563.7 527.9,567.4 528.0,564.2 528.1,565.5 528.2,563.9 528.3,562.1 528.4,566.1 528.4,565.8 528.5,572.4 528.6,569.5 528.7,568.0 528.8,559.0 528.9,567.5 529.0,559.3 529.1,559.3 529.2,555.3 529.3,563.9 529.4,567.2 529.5,568.6 529.6,568.9 529.7,574.6 529.8,569.1 529.9,568.4 530.0,566.6 530.1,563.0 530.1,573.1 530.2,568.4 530.3,566.0 530.4,565.0 530.5,556.0 530.6,568.7 530.7,566.8 530.8,558.5 530.9,574.1 531.0,567.4 531.1,560.9 531.2,565.6 531.3,564.1 531.4,558.9 531.5,570.6 531.6,562.7 531.7,569.3 531.8,566.1 531.8,557.9 531.9,562.5 532.0,563.5 532.1,577.4 532.2,574.3 532.3,565.9 532.4,570.1 532.5,572.6 532.6,571.9 532.7,566.4 532.8,562.7 532.9,565.1 533.0,566.6 533.1,564.4 533.2,574.4 533.3,560.6 533.4,568.6 533.5,565.8 533.5,559.4 533.6,571.3 533.7,562.5 533.8,570.0 533.9,563.6 534.0,575.3 534.1,573.7 534.2,560.9 534.3,561.8 534.4,570.3 534.5,568.7 534.6,566.0 534.7,567.9 534.8,567.6 534.9,566.1 535.0,562.0 535.1,570.8 535.2,566.1 535.2,561.6 535.3,566.1 535.4,572.1 535.5,565.8 535.6,558.1 535.7,565.3 535.8,562.0 535.9,567.2 536.0,564.2 536.1,566.3 536.2,566.5 536.3,563.6 536.4,560.0 536.5,575.1 536.6,565.8 536.7,572.7 536.8,554.1 536.8,570.8 536.9,557.3 537.0,572.8 537.1,568.3 537.2,570.4 537.3,570.2 537.4,567.3 537.5,563.9 537.6,562.8 537.7,559.3 537.8,563.4 537.9,568.6 538.0,565.4 538.1,566.8 538.2,566.0 538.3,564.3 538.4,570.4 538.5,579.8 538.5,558.9 538.6,573.2 538.7,569.5 538.8,562.3 538.9,575.1 539.0,563.4 539.1,571.3 539.2,565.5 539.3,567.0 539.4,569.5 539.5,569.0 539.6,570.7 539.7,562.7 539.8,561.7 539.9,565.5 540.0,567.3 540.1,572.7 540.2,566.9 540.2,563.4 540.3,573.3 540.4,565.0 540.5,565.4 540.6,564.2 540.7,556.3 540.8,558.9 540.9,570.8 541.0,568.1 541.1,570.3 541.2,570.5 541.3,562.4 541.4,560.0 541.5,565.2 541.6,564.8 541.7,567.2 541.8,568.7 541.9,567.5 541.9,565.9 542.0,567.4 542.1,565.9 542.2,563.5 542.3,569.6 542.4,564.6 542.5,567.7 542.6,560.8 542.7,567.0 542.8,560.3 542.9,576.7 543.0,564.2 543.1,562.3 543.2,557.6 543.3,561.2 543.4,573.8 543.5,575.2 543.6,566.5 543.6,567.4 543.7,563.9 543.8,569.0 543.9,560.7 544.0,565.8 544.1,564.8 544.2,561.2 544.3,563.1 544.4,571.3 544.5,567.0 544.6,571.4 544.7,567.2 544.8,565.3 544.9,570.4 545.0,555.6 545.1,567.7 545.2,565.1 545.2,562.1 545.3,571.7 545.4,569.0 545.5,563.9 545.6,564.3 545.7,564.3 545.8,567.4 545.9,563.7 546.0,565.9 546.1,571.5 546.2,567.7 546.3,569.7 546.4,563.0 546.5,563.9 546.6,562.9 546.7,565.8 546.8,566.7 546.9,558.5 546.9,579.8 547.0,577.1 547.1,558.3 547.2,571.5 547.3,564.5 547.4,563.0 547.5,563.1 547.6,560.1 547.7,564.1 547.8,563.1 547.9,560.4 548.0,563.7 548.1,566.1 548.2,559.3 548.3,567.9 548.4,565.0 548.5,564.7 548.6,564.1 548.6,558.5 548.7,570.0 548.8,569.5 548.9,563.0 549.0,561.4 549.1,562.1 549.2,566.5 549.3,568.6 549.4,566.7 549.5,568.6 549.6,565.8 549.7,567.9 549.8,574.7 549.9,567.5 550.0,560.2 550.1,566.0 550.2,572.2 550.3,560.4 550.3,568.0 550.4,573.0 550.5,568.8 550.6,571.9 550.7,575.6 550.8,569.0 550.9,563.5 551.0,560.6 551.1,574.6 551.2,566.1 551.3,568.3 551.4,573.3 551.5,580.5 551.6,567.0 551.7,563.5 551.8,569.7 551.9,574.1 551.9,561.6 552.0,561.3 552.1,574.5 552.2,567.8 552.3,569.4 552.4,574.5 552.5,568.4 552.6,565.5 552.7,569.3 552.8,564.2 552.9,569.0 553.0,564.7 553.1,568.5 553.2,562.1 553.3,562.9 553.4,564.9 553.5,568.8 553.6,574.3 553.6,568.2 553.7,563.4 553.8,559.8 553.9,563.7 554.0,559.9 554.1,570.7 554.2,560.8 554.3,564.9 554.4,570.2 554.5,564.1 554.6,568.4 554.7,577.1 554.8,562.7 554.9,568.9 555.0,569.0 555.1,565.6 555.2,562.7 555.3,569.8 555.3,564.2 555.4,566.7 555.5,576.1 555.6,561.2 555.7,560.7 555.8,574.2 555.9,562.9 556.0,556.0 556.1,571.2 556.2,563.2 556.3,564.2 556.4,567.5 556.5,566.2 556.6,561.3 556.7,564.1 556.8,571.6 556.9,568.7 557.0,556.5 557.0,565.9 557.1,558.0 557.2,560.3 557.3,563.3 557.4,573.5 557.5,568.9 557.6,560.4 557.7,571.4 557.8,566.0 557.9,572.3 558.0,566.2 558.1,560.7 558.2,567.7 558.3,575.0 558.4,565.3 558.5,568.7 558.6,565.4 558.7,560.3 558.7,568.0 558.8,567.4 558.9,562.8 559.0,566.7 559.1,563.2 559.2,571.0 559.3,567.0 559.4,560.0 559.5,573.1 559.6,557.7 559.7,561.6 559.8,567.2 559.9,564.7 560.0,569.4 560.1,563.6 560.2,570.7 560.3,571.7 560.3,568.5 560.4,569.2 560.5,560.9 560.6,577.7 560.7,565.4 560.8,563.4 560.9,559.7 561.0,566.5 561.1,565.8 561.2,560.1 561.3,561.2 561.4,567.7 561.5,560.3 561.6,556.4 561.7,563.8 561.8,568.2 561.9,571.0 562.0,567.6 562.0,558.1 562.1,563.7 562.2,562.0 562.3,567.5 562.4,558.2 562.5,564.9 562.6,571.4 562.7,568.0 562.8,565.7 562.9,568.9 563.0,566.6 563.1,569.5 563.2,568.3 563.3,566.5 563.4,565.9 563.5,562.7 563.6,569.6 563.7,567.4 563.7,564.1 563.8,570.8 563.9,569.2 564.0,559.6 564.1,563.7 564.2,560.7 564.3,565.6 564.4,559.2 564.5,563.2 564.6,568.6 564.7,565.5 564.8,566.5 564.9,572.7 565.0,574.4 565.1,570.1 565.2,569.5 565.3,565.2 565.4,566.7 565.4,572.8 565.5,556.2 565.6,563.3 565.7,565.4 565.8,571.5 565.9,563.0 566.0,573.1 566.1,574.7 566.2,567.3 566.3,561.9 566.4,560.2 566.5,568.1 566.6,575.3 566.7,562.4 566.8,573.7 566.9,572.2 567.0,559.8 567.1,562.0 567.1,570.0 567.2,571.2 567.3,575.5 567.4,563.6 567.5,566.5 567.6,569.4 567.7,575.8 567.8,571.3 567.9,571.8 568.0,562.1 568.1,568.8 568.2,564.5 568.3,560.4 568.4,567.7 568.5,581.2 568.6,574.1 568.7,565.4 568.7,570.6 568.8,576.6 568.9,570.0 569.0,578.0 569.1,573.7 569.2,553.6 569.3,569.4 569.4,567.0 569.5,562.1 569.6,562.9 569.7,567.5 569.8,567.7 569.9,567.6 570.0,574.7 570.1,567.5 570.2,567.5 570.3,567.6 570.4,564.7 570.4,567.0 570.5,581.3 570.6,554.5 570.7,566.1 570.8,570.0 570.9,565.2 571.0,571.8 571.1,567.3 571.2,570.5 571.3,572.3 571.4,563.0 571.5,568.4 571.6,565.9 571.7,568.8 571.8,566.2 571.9,569.1 572.0,563.9 572.1,565.0 572.1,568.3 572.2,566.6 572.3,567.1 572.4,561.3 572.5,562.1 572.6,570.3 572.7,562.9 572.8,567.7 572.9,560.9 573.0,565.1 573.1,568.0 573.2,560.4 573.3,559.4 573.4,563.6 573.5,561.9 573.6,557.5 573.7,561.6 573.8,565.2 573.8,566.7 573.9,565.3 574.0,567.6 574.1,564.4 574.2,570.6 574.3,566.3 574.4,570.7 574.5,568.6 574.6,566.4 574.7,571.0 574.8,560.0 574.9,557.7 575.0,565.9 575.1,558.0 575.2,564.5 575.3,555.2 575.4,564.3 575.4,558.5 575.5,575.1 575.6,565.2 575.7,564.4 575.8,572.1 575.9,565.9 576.0,570.1 576.1,557.8 576.2,566.9 576.3,566.7 576.4,557.3 576.5,553.9 576.6,568.6 576.7,559.9 576.8,564.5 576.9,572.2 577.0,560.7 577.1,564.2 577.1,563.8 577.2,560.0 577.3,568.7 577.4,558.6 577.5,567.3 577.6,567.8 577.7,561.7 577.8,571.3 577.9,570.1 578.0,567.1 578.1,562.8 578.2,569.3 578.3,565.9 578.4,561.0 578.5,567.1 578.6,562.4 578.7,565.4 578.8,565.4 578.8,568.2 578.9,567.8 579.0,565.8 579.1,568.2 579.2,573.3 579.3,558.1 579.4,558.0 579.5,558.1 579.6,563.7 579.7,567.8 579.8,562.4 579.9,568.1 580.0,570.5 580.1,562.1 580.2,563.3 580.3,569.0 580.4,567.8 580.5,567.1 580.5,573.8 580.6,559.2 580.7,570.4 580.8,562.3 580.9,561.7 581.0,563.8 581.1,565.0 581.2,568.9 581.3,568.6 581.4,563.4 581.5,573.5 581.6,559.1 581.7,574.4 581.8,569.3 581.9,568.5 582.0,571.5 582.1,572.2 582.2,570.1 582.2,559.4 582.3,561.8 582.4,567.4 582.5,566.6 582.6,566.7 582.7,559.6 582.8,565.6 582.9,573.7 583.0,567.2 583.1,572.4 583.2,562.1 583.3,572.6 583.4,574.3 583.5,565.3 583.6,571.9 583.7,566.5 583.8,569.0 583.8,567.5 583.9,564.8 584.0,564.3 584.1,566.4 584.2,563.7 584.3,561.1 584.4,559.9 584.5,567.0 584.6,569.6 584.7,569.0 584.8,573.4 584.9,558.8 585.0,566.0 585.1,569.3 585.2,562.4 585.3,572.7 585.4,562.8 585.5,576.4 585.5,562.8 585.6,559.5 585.7,565.3 585.8,571.4 585.9,561.2 586.0,567.5 586.1,561.0 586.2,557.4 586.3,564.6 586.4,570.3 586.5,566.3 586.6,564.4 586.7,556.7 586.8,565.9 586.9,569.0 587.0,575.6 587.1,566.4 587.2,567.9 587.2,562.2 587.3,561.6 587.4,572.2 587.5,569.9 587.6,565.7 587.7,565.3 587.8,566.0 587.9,561.9 588.0,564.4 588.1,571.0 588.2,556.3 588.3,571.8 588.4,572.1 588.5,567.6 588.6,573.7 588.7,558.2 588.8,561.0 588.9,561.6 588.9,563.4 589.0,561.9 589.1,558.7 589.2,563.0 589.3,561.6 589.4,559.2 589.5,568.6 589.6,573.6 589.7,567.7 589.8,567.3 589.9,567.8 590.0,574.7 590.1,569.0 590.2,568.9 590.3,566.6 590.4,561.2 590.5,572.9 590.6,572.9 590.6,568.1 590.7,567.3 590.8,573.1 590.9,571.4 591.0,565.1 591.1,565.2 591.2,571.1 591.3,571.7 591.4,563.0 591.5,577.7 591.6,560.9 591.7,563.0 591.8,565.5 591.9,570.4 592.0,565.9 592.1,563.4 592.2,571.2 592.2,566.2 592.3,568.0 592.4,568.9 592.5,562.3 592.6,562.2 592.7,566.6 592.8,564.7 592.9,564.9 593.0,568.4 593.1,564.8 593.2,561.6 593.3,573.0 593.4,563.9 593.5,567.3 593.6,560.2 593.7,569.4 593.8,561.7 593.9,566.9 593.9,571.7 594.0,566.1 594.1,565.2 594.2,574.0 594.3,569.9 594.4,572.1 594.5,561.2 594.6,565.9 594.7,566.1 594.8,575.7 594.9,571.3 595.0,563.3 595.1,569.4 595.2,566.0 595.3,567.5 595.4,562.7 595.5,570.2 595.6,569.1 595.6,565.5 595.7,566.1 595.8,575.1 595.9,565.5 596.0,574.4 596.1,562.6 596.2,558.8 596.3,562.9 596.4,560.9 596.5,568.2 596.6,566.6 596.7,560.7 596.8,564.3 596.9,561.1 597.0,565.3 597.1,575.9 597.2,572.2 597.3,558.9 597.3,568.1 597.4,565.1 597.5,558.7 597.6,569.3 597.7,556.0 597.8,562.4 597.9,562.5 598.0,566.3 598.1,559.1 598.2,566.5 598.3,559.1 598.4,572.2 598.5,572.9 598.6,567.4 598.7,550.3 598.8,576.8 598.9,556.5 598.9,565.9 599.0,575.2 599.1,564.2 599.2,561.9 599.3,567.4 599.4,558.8 599.5,563.0 599.6,563.8 599.7,568.4 599.8,562.3 599.9,564.0 600.0,558.4 600.1,565.3 600.2,569.9 600.3,560.4 600.4,570.6 600.5,574.2 600.6,569.5 600.6,568.4 600.7,575.1 600.8,570.9 600.9,565.1 601.0,568.4 601.1,567.9 601.2,570.2 601.3,559.7 601.4,557.8 601.5,561.7 601.6,561.3 601.7,569.8 601.8,575.7 601.9,562.4 602.0,565.3 602.1,565.3 602.2,568.2 602.3,569.7 602.3,568.6 602.4,559.8 602.5,563.2 602.6,562.9 602.7,567.5 602.8,568.3 602.9,570.1 603.0,563.7 603.1,564.4 603.2,560.6 603.3,571.2 603.4,568.8 603.5,566.7 603.6,573.1 603.7,565.8 603.8,566.5 603.9,567.0 604.0,569.2 604.0,572.0 604.1,566.5 604.2,564.8 604.3,570.7 604.4,567.8 604.5,559.6 604.6,560.5 604.7,570.1 604.8,573.1 604.9,569.2 605.0,565.7 605.1,565.6 605.2,563.9 605.3,560.7 605.4,562.3 605.5,566.1 605.6,561.7 605.7,572.1 605.7,566.9 605.8,566.1 605.9,558.0 606.0,566.4 606.1,563.9 606.2,570.3 606.3,559.1 606.4,557.0 606.5,565.3 606.6,565.2 606.7,564.9 606.8,570.9 606.9,563.1 607.0,565.6 607.1,570.6 607.2,578.2 607.3,573.6 607.3,565.4 607.4,567.3 607.5,572.8 607.6,574.3 607.7,569.2 607.8,568.7 607.9,559.5 608.0,562.9 608.1,571.4 608.2,567.5 608.3,565.2 608.4,563.8 608.5,568.2 608.6,563.8 608.7,568.4 608.8,555.5 608.9,573.1 609.0,565.0 609.0,567.9 609.1,585.1 609.2,576.9 609.3,563.0 609.4,564.7 609.5,563.3 609.6,569.2 609.7,561.6 609.8,568.7 609.9,572.0 610.0,572.5 610.1,565.4 610.2,572.4 610.3,563.9 610.4,563.0 610.5,576.3 610.6,577.2 610.7,561.9 610.7,557.6 610.8,562.9 610.9,567.8 611.0,567.1 611.1,571.5 611.2,563.2 611.3,573.9 611.4,576.5 611.5,562.6 611.6,577.2 611.7,565.2 611.8,563.5 611.9,568.7 612.0,567.4 612.1,566.0 612.2,571.8 612.3,562.3 612.4,568.4 612.4,561.7 612.5,568.4 612.6,565.9 612.7,565.4 612.8,568.5 612.9,566.3 613.0,569.1 613.1,555.4 613.2,558.9 613.3,567.9 613.4,567.8 613.5,572.2 613.6,572.4 613.7,560.3 613.8,563.4 613.9,556.1 614.0,567.4 614.1,560.8 614.1,569.0 614.2,568.5 614.3,559.6 614.4,571.9 614.5,563.8 614.6,568.3 614.7,569.0 614.8,570.3 614.9,561.8 615.0,566.0 615.1,560.6 615.2,566.3 615.3,571.2 615.4,569.6 615.5,567.5 615.6,580.4 615.7,559.7 615.7,553.7 615.8,570.7 615.9,555.1 616.0,569.6 616.1,565.0 616.2,563.2 616.3,562.8 616.4,564.7 616.5,570.0 616.6,561.0 616.7,561.0 616.8,563.9 616.9,573.2 617.0,570.4 617.1,564.9 617.2,557.1 617.3,569.7 617.4,575.6 617.4,568.3 617.5,554.6 617.6,567.0 617.7,571.8 617.8,563.6 617.9,566.1 618.0,566.2 618.1,564.8 618.2,568.2 618.3,573.6 618.4,570.3 618.5,573.4 618.6,566.7 618.7,567.6 618.8,558.9 618.9,571.2 619.0,565.5 619.1,567.4 619.1,570.2 619.2,566.2 619.3,575.2 619.4,570.4 619.5,567.0 619.6,561.8 619.7,559.8 619.8,573.0 619.9,574.6 620.0,566.8 620.1,572.3 620.2,552.5 620.3,563.4 620.4,569.0 620.5,572.0 620.6,566.7 620.7,565.6 620.8,566.0 620.8,568.0 620.9,562.5 621.0,564.2 621.1,563.4 621.2,569.2 621.3,566.1 621.4,560.7 621.5,558.4 621.6,567.8 621.7,559.4 621.8,568.4 621.9,577.3 622.0,557.4 622.1,567.3 622.2,568.1 622.3,565.8 622.4,568.0 622.4,572.4 622.5,564.3 622.6,566.5 622.7,571.9 622.8,566.9 622.9,559.2 623.0,568.0 623.1,569.6 623.2,562.5 623.3,563.3 623.4,564.9 623.5,563.9 623.6,563.8 623.7,564.6 623.8,567.0 623.9,568.0 624.0,567.9 624.1,568.7 624.1,573.3 624.2,567.3 624.3,561.4 624.4,565.8 624.5,557.5 624.6,570.6 624.7,575.9 624.8,562.5 624.9,572.5 625.0,570.0 625.1,565.2 625.2,565.7 625.3,563.7 625.4,566.8 625.5,564.0 625.6,575.3 625.7,562.0 625.8,571.4 625.8,572.6 625.9,559.6 626.0,564.2 626.1,575.0 626.2,568.5 626.3,570.3 626.4,570.0 626.5,563.7 626.6,566.1 626.7,554.7 626.8,570.5 626.9,569.8 627.0,569.9 627.1,569.3 627.2,570.1 627.3,559.9 627.4,558.1 627.5,563.4 627.5,561.1 627.6,571.7 627.7,563.3 627.8,567.9 627.9,560.6 628.0,572.3 628.1,572.0 628.2,555.0 628.3,568.4 628.4,564.5 628.5,566.3 628.6,565.9 628.7,563.0 628.8,572.4 628.9,564.5 629.0,558.6 629.1,566.0 629.2,567.0 629.2,557.2 629.3,565.2 629.4,565.8 629.5,567.1 629.6,568.6 629.7,563.3 629.8,569.8 629.9,567.6 630.0,560.8 630.1,564.9 630.2,568.3 630.3,564.4 630.4,567.4 630.5,559.5 630.6,560.6 630.7,571.8 630.8,567.8 630.8,564.9 630.9,567.0 631.0,570.0 631.1,569.0 631.2,567.4 631.3,563.5 631.4,556.8 631.5,565.6 631.6,564.9 631.7,573.7 631.8,568.0 631.9,572.3 632.0,563.4 632.1,568.3 632.2,567.6 632.3,562.4 632.4,563.6 632.5,562.7 632.5,572.1 632.6,569.1 632.7,560.2 632.8,559.3 632.9,568.3 633.0,564.0 633.1,566.4 633.2,572.4 633.3,571.4 633.4,570.2 633.5,563.8 633.6,566.9 633.7,570.3 633.8,566.3 633.9,562.3 634.0,560.7 634.1,568.0 634.2,562.2 634.2,564.9 634.3,562.8 634.4,570.5 634.5,571.8 634.6,576.2 634.7,560.0 634.8,568.9 634.9,569.7 635.0,559.2 635.1,572.8 635.2,576.3 635.3,572.5 635.4,564.8 635.5,559.6 635.6,566.6 635.7,572.6 635.8,568.9 635.9,566.0 635.9,574.1 636.0,570.2 636.1,571.7 636.2,562.2 636.3,571.2 636.4,564.8 636.5,568.0 636.6,565.0 636.7,567.7 636.8,564.9 636.9,567.5 637.0,554.3 637.1,559.6 637.2,575.7 637.3,563.2 637.4,563.5 637.5,565.7 637.6,555.7 637.6,568.1 637.7,562.8 637.8,567.9 637.9,577.7 638.0,564.2 638.1,561.7 638.2,573.2 638.3,563.8 638.4,572.0 638.5,569.7 638.6,569.8 638.7,566.6 638.8,560.9 638.9,558.1 639.0,565.3 639.1,559.1 639.2,564.1 639.2,560.8 639.3,563.8 639.4,565.2 639.5,568.6 639.6,564.1 639.7,567.7 639.8,570.6 639.9,564.3 640.0,571.3 640.1,570.2 640.2,558.0 640.3,565.7 640.4,574.3 640.5,571.5 640.6,562.4 640.7,576.2 640.8,563.2 640.9,561.3 640.9,572.2 641.0,561.6 641.1,564.2 641.2,564.8 641.3,570.9 641.4,567.3 641.5,569.6 641.6,566.0 641.7,557.5 641.8,568.2 641.9,563.6 642.0,566.9 642.1,564.4 642.2,570.5 642.3,565.3 642.4,557.8 642.5,561.8 642.6,562.6 642.6,561.7 642.7,578.3 642.8,561.2 642.9,563.2 643.0,561.8 643.1,558.0 643.2,567.8 643.3,563.8 643.4,572.3 643.5,573.2 643.6,562.8 643.7,555.2 643.8,563.2 643.9,569.4 644.0,563.9 644.1,563.6 644.2,566.7 644.3,565.6 644.3,561.9 644.4,569.0 644.5,561.0 644.6,572.0 644.7,574.9 644.8,572.5 644.9,561.3 645.0,560.6 645.1,569.3 645.2,566.7 645.3,560.7 645.4,565.5 645.5,563.9 645.6,565.4 645.7,567.4 645.8,563.5 645.9,561.7 645.9,555.1 646.0,572.6 646.1,560.8 646.2,574.6 646.3,565.6 646.4,567.6 646.5,564.1 646.6,566.1 646.7,569.6 646.8,554.8 646.9,573.7 647.0,570.5 647.1,558.8 647.2,571.4 647.3,561.6 647.4,565.2 647.5,566.4 647.6,561.4 647.6,563.4 647.7,583.6 647.8,562.3 647.9,557.2 648.0,574.0 648.1,570.3 648.2,563.1 648.3,562.3 648.4,572.7 648.5,570.4 648.6,564.1 648.7,564.8 648.8,568.6 648.9,568.8 649.0,566.7 649.1,567.9 649.2,564.9 649.3,560.5 649.3,568.4 649.4,569.9 649.5,566.9 649.6,563.9 649.7,563.5 649.8,563.8 649.9,570.3 650.0,565.5 650.1,573.3 650.2,565.8 650.3,561.2 650.4,569.4 650.5,566.3 650.6,560.2 650.7,569.2 650.8,569.5 650.9,573.1 651.0,569.1 651.0,564.0 651.1,568.9 651.2,563.7 651.3,571.5 651.4,574.1 651.5,566.8 651.6,557.8 651.7,566.7 651.8,568.2 651.9,568.2 652.0,562.7 652.1,572.7 652.2,572.7 652.3,556.6 652.4,567.3 652.5,570.9 652.6,571.8 652.7,568.7 652.7,571.7 652.8,563.1 652.9,562.9 653.0,564.3 653.1,569.7 653.2,572.8 653.3,566.5 653.4,566.1 653.5,567.7 653.6,563.3 653.7,568.3 653.8,568.0 653.9,570.2 654.0,564.4 654.1,570.8 654.2,566.1 654.3,564.6 654.3,562.1 654.4,570.2 654.5,566.1 654.6,566.4 654.7,566.8 654.8,558.7 654.9,566.5 655.0,566.0 655.1,571.9 655.2,570.0 655.3,569.3 655.4,577.1 655.5,564.9 655.6,563.2 655.7,566.2 655.8,563.8 655.9,562.9 656.0,577.4 656.0,575.2 656.1,566.3 656.2,565.3 656.3,560.2 656.4,567.4 656.5,564.0 656.6,561.1 656.7,566.2 656.8,566.0 656.9,564.2 657.0,559.7 657.1,568.5 657.2,562.8 657.3,562.0 657.4,570.2 657.5,559.5 657.6,562.9 657.7,569.1 657.7,569.4 657.8,567.3 657.9,558.9 658.0,563.5 658.1,568.4 658.2,562.1 658.3,560.6 658.4,563.4 658.5,561.6 658.6,567.0 658.7,562.8 658.8,565.6 658.9,564.0 659.0,572.1 659.1,571.1 659.2,565.1 659.3,559.3 659.4,569.0 659.4,575.9 659.5,565.3 659.6,565.1 659.7,561.9 659.8,572.1 659.9,571.1 660.0,568.4 660.1,575.8 660.2,559.9 660.3,555.3 660.4,572.0 660.5,568.9 660.6,569.1 660.7,569.0 660.8,565.4 660.9,558.9 661.0,564.4 661.1,569.5 661.1,573.3 661.2,566.5 661.3,574.2 661.4,568.5 661.5,562.2 661.6,563.3 661.7,555.4 661.8,569.5 661.9,564.4 662.0,566.2 662.1,574.8 662.2,556.9 662.3,562.2 662.4,565.0 662.5,564.2 662.6,573.7 662.7,572.4 662.7,569.4 662.8,566.3 662.9,568.0 663.0,564.3 663.1,572.7 663.2,573.6 663.3,572.3 663.4,562.2 663.5,571.2 663.6,566.9 663.7,575.9 663.8,572.2 663.9,567.6 664.0,564.2 664.1,568.7 664.2,564.3 664.3,564.4 664.4,570.1 664.4,567.0 664.5,566.5 664.6,559.0 664.7,559.2 664.8,560.1 664.9,559.6 665.0,569.6 665.1,570.3 665.2,566.8 665.3,559.2 665.4,562.5 665.5,565.8 665.6,566.6 665.7,565.6 665.8,579.1 665.9,568.1 666.0,571.4 666.1,576.1 666.1,560.0 666.2,559.7 666.3,570.2 666.4,561.5 666.5,569.6 666.6,572.1 666.7,564.9 666.8,567.7 666.9,567.3 667.0,574.4 667.1,583.0 667.2,566.1 667.3,568.4 667.4,567.6 667.5,567.4 667.6,567.0 667.7,574.0 667.8,564.5 667.8,568.0 667.9,566.0 668.0,568.9 668.1,558.4 668.2,571.6 668.3,563.7 668.4,567.4 668.5,578.1 668.6,561.3 668.7,568.2 668.8,565.1 668.9,565.6 669.0,565.4 669.1,565.1 669.2,574.7 669.3,563.0 669.4,575.8 669.4,568.6 669.5,562.8 669.6,559.8 669.7,571.5 669.8,566.8 669.9,570.9 670.0,575.7 670.1,563.3 670.2,565.3 670.3,565.3 670.4,560.2 670.5,566.1 670.6,560.2 670.7,562.8 670.8,563.3 670.9,563.1 671.0,566.5 671.1,571.1 671.1,567.8 671.2,555.3 671.3,571.2 671.4,564.2 671.5,563.2 671.6,569.9 671.7,560.9 671.8,561.6 671.9,565.0 672.0,572.6 672.1,566.3 672.2,571.8 672.3,567.2 672.4,567.5 672.5,562.2 672.6,565.4 672.7,562.9 672.8,564.8 672.8,570.8 672.9,569.1 673.0,567.0 673.1,570.3 673.2,562.5 673.3,578.8 673.4,573.6 673.5,567.9 673.6,565.8 673.7,568.4 673.8,564.4 673.9,565.2 674.0,561.9 674.1,565.7 674.2,566.0 674.3,575.0 674.4,568.3 674.5,561.7 674.5,564.9 674.6,569.2 674.7,569.8 674.8,573.6 674.9,574.3 675.0,570.0 675.1,567.5 675.2,561.5 675.3,571.1 675.4,567.8 675.5,565.8 675.6,565.3 675.7,570.8 675.8,570.5 675.9,563.6 676.0,576.0 676.1,569.7 676.2,559.8 676.2,578.3 676.3,567.5 676.4,565.1 676.5,565.5 676.6,571.7 676.7,564.6 676.8,566.0 676.9,558.1 677.0,567.5 677.1,565.8 677.2,566.3 677.3,573.5 677.4,567.8 677.5,567.5 677.6,566.4 677.7,565.6 677.8,565.8 677.8,573.8 677.9,573.4 678.0,566.9 678.1,569.8 678.2,575.0 678.3,568.9 678.4,566.8 678.5,567.8 678.6,562.7 678.7,570.8 678.8,563.3 678.9,561.0 679.0,571.5 679.1,560.2 679.2,564.4 679.3,559.5 679.4,559.1 679.5,570.8 679.5,561.0 679.6,570.1 679.7,563.5 679.8,565.3 679.9,568.0 680.0,573.1 680.1,568.3 680.2,563.2 680.3,569.5 680.4,570.7 680.5,573.6 680.6,565.2 680.7,564.3 680.8,562.0 680.9,563.2 681.0,573.0 681.1,573.5 681.2,562.0 681.2,571.0 681.3,557.2 681.4,566.5 681.5,560.2 681.6,563.2 681.7,575.3 681.8,569.0 681.9,568.0 682.0,573.1 682.1,564.3 682.2,571.0 682.3,570.2 682.4,573.0 682.5,568.9 682.6,565.3 682.7,568.6 682.8,561.0 682.9,573.0 682.9,573.2 683.0,568.5 683.1,567.1 683.2,571.2 683.3,572.0 683.4,570.0 683.5,560.4 683.6,574.5 683.7,569.5 683.8,564.0 683.9,566.4 684.0,563.9 684.1,571.4 684.2,564.5 684.3,570.5 684.4,568.2 684.5,569.0 684.6,572.5 684.6,570.1 684.7,570.7 684.8,563.8 684.9,565.1 685.0,559.6 685.1,573.9 685.2,563.4 685.3,565.3 685.4,563.4 685.5,565.2 685.6,574.6 685.7,561.7 685.8,566.9 685.9,563.2 686.0,566.9 686.1,568.8 686.2,569.8 686.2,567.1 686.3,569.4 686.4,564.9 686.5,578.6 686.6,571.3 686.7,571.0 686.8,563.2 686.9,563.8 687.0,568.6 687.1,571.3 687.2,574.5 687.3,567.6 687.4,560.5 687.5,571.3 687.6,562.9 687.7,570.1 687.8,571.2 687.9,573.1 687.9,573.0 688.0,567.1 688.1,572.3 688.2,568.8 688.3,577.6 688.4,566.9 688.5,568.5 688.6,576.9 688.7,564.6 688.8,573.1 688.9,561.9 689.0,573.0 689.1,563.4 689.2,577.7 689.3,573.3 689.4,572.2 689.5,575.7 689.6,564.3 689.6,571.7 689.7,570.0 689.8,570.2 689.9,565.3 690.0,570.5 690.1,574.1 690.2,567.6 690.3,563.3 690.4,560.3 690.5,575.4 690.6,563.8 690.7,570.2 690.8,579.0 690.9,570.3 691.0,575.0 691.1,570.9 691.2,571.6 691.3,572.6 691.3,568.6 691.4,572.0 691.5,572.5 691.6,565.0 691.7,571.4 691.8,571.5 691.9,571.7 692.0,569.1 692.1,567.7 692.2,565.7 692.3,566.3 692.4,570.5 692.5,572.2 692.6,564.9 692.7,564.4 692.8,572.4 692.9,575.9 692.9,566.9 693.0,570.8 693.1,575.6 693.2,563.1 693.3,572.4 693.4,571.9 693.5,574.0 693.6,570.4 693.7,573.8 693.8,564.9 693.9,563.9 694.0,570.7 694.1,565.8 694.2,571.4 694.3,574.0 694.4,568.6 694.5,572.6 694.6,569.0 694.6,567.6 694.7,567.5 694.8,571.5 694.9,577.8 695.0,566.1 695.1,564.7 695.2,568.1 695.3,561.8 695.4,572.1 695.5,576.5 695.6,563.6 695.7,568.9 695.8,563.5 695.9,569.9 696.0,569.2 696.1,575.2 696.2,569.8 696.3,574.0 696.3,565.5 696.4,572.9 696.5,568.3 696.6,562.4 696.7,568.0 696.8,568.4 696.9,566.2 697.0,569.6 697.1,565.3 697.2,570.6 697.3,563.0 697.4,574.9 697.5,569.0 697.6,567.2 697.7,567.2 697.8,569.3 697.9,566.5 698.0,568.6 698.0,566.9 698.1,572.7 698.2,568.6 698.3,573.3 698.4,565.2 698.5,571.2 698.6,579.7 698.7,566.9 698.8,566.2 698.9,565.3 699.0,566.2 699.1,561.6 699.2,576.5 699.3,570.4 699.4,568.6 699.5,571.6 699.6,577.6 699.7,564.7 699.7,570.2 699.8,571.8 699.9,568.5 700.0,580.6 700.1,563.3 700.2,566.8 700.3,565.2 700.4,570.4 700.5,570.6 700.6,577.6 700.7,563.8 700.8,573.8 700.9,571.5 701.0,573.2 701.1,567.7 701.2,567.7 701.3,572.8 701.3,565.2 701.4,566.5 701.5,573.0 701.6,568.0 701.7,575.1 701.8,568.3 701.9,570.6 702.0,564.0 702.1,571.6 702.2,557.9 702.3,564.0 702.4,573.8 702.5,569.4 702.6,572.6 702.7,563.2 702.8,571.5 702.9,571.2 703.0,567.5 703.0,566.3 703.1,571.3 703.2,572.7 703.3,571.2 703.4,569.1 703.5,571.3 703.6,569.6 703.7,562.8 703.8,572.4 703.9,568.9 704.0,568.8 704.1,574.0 704.2,567.0 704.3,569.7 704.4,566.1 704.5,557.6 704.6,567.3 704.7,563.0 704.7,561.7 704.8,572.4 704.9,576.3 705.0,582.1 705.1,573.3 705.2,568.8 705.3,564.7 705.4,570.2 705.5,572.7 705.6,579.2 705.7,568.6 705.8,577.3 705.9,572.4 706.0,567.0 706.1,576.1 706.2,570.8 706.3,567.4 706.4,569.6 706.4,573.4 706.5,567.3 706.6,564.7 706.7,571.3 706.8,569.5 706.9,566.1 707.0,565.2 707.1,574.5 707.2,567.2 707.3,566.4 707.4,560.9 707.5,567.0 707.6,571.2 707.7,570.9 707.8,563.9 707.9,579.0 708.0,561.9 708.1,570.1 708.1,559.1 708.2,567.6 708.3,570.2 708.4,573.5 708.5,576.0 708.6,566.8 708.7,563.5 708.8,571.3 708.9,571.9 709.0,568.4 709.1,575.7 709.2,569.4 709.3,575.2 709.4,563.6 709.5,570.0 709.6,575.0 709.7,567.9 709.7,578.1 709.8,570.9 709.9,580.5 710.0,570.6 710.1,566.8 710.2,567.7 710.3,571.3 710.4,568.3 710.5,563.4 710.6,568.3 710.7,572.0 710.8,569.0 710.9,567.7 711.0,579.6 711.1,570.2 711.2,574.6 711.3,568.3 711.4,567.6 711.4,575.3 711.5,571.4 711.6,567.5 711.7,561.8 711.8,569.0 711.9,577.1 712.0,575.5 712.1,573.3 712.2,570.3 712.3,570.7 712.4,570.6 712.5,563.7 712.6,567.2 712.7,570.5 712.8,575.7 712.9,574.9 713.0,571.5 713.1,569.1 713.1,569.6 713.2,561.3 713.3,575.3 713.4,570.1 713.5,571.8 713.6,572.3 713.7,570.5 713.8,576.1 713.9,576.2 714.0,579.0 714.1,573.3 714.2,567.8 714.3,571.7 714.4,573.6 714.5,573.4 714.6,575.2 714.7,578.6 714.8,571.4 714.8,569.5 714.9,584.3 715.0,567.8 715.1,570.0 715.2,573.5 715.3,578.5 715.4,572.4 715.5,566.7 715.6,574.8 715.7,572.4 715.8,568.9 715.9,567.6 716.0,570.4 716.1,569.6 716.2,569.0 716.3,572.6 716.4,568.3 716.4,569.0 716.5,572.8 716.6,565.5 716.7,569.6 716.8,575.1 716.9,569.6 717.0,575.6 717.1,567.5 717.2,567.4 717.3,564.9 717.4,566.5 717.5,573.0 717.6,568.2 717.7,565.8 717.8,570.7 717.9,568.7 718.0,569.0 718.1,570.9 718.1,574.1 718.2,570.5 718.3,572.5 718.4,572.2 718.5,573.4 718.6,566.8 718.7,564.8 718.8,566.8 718.9,571.8 719.0,577.5 719.1,571.5 719.2,565.5 719.3,571.7 719.4,569.2 719.5,560.1 719.6,566.9 719.7,563.5 719.8,573.8 719.8,568.1 719.9,579.1 720.0,570.2 720.1,573.3 720.2,568.3 720.3,572.8 720.4,570.5 720.5,570.7 720.6,571.3 720.7,567.2 720.8,572.9 720.9,576.0 721.0,570.7 721.1,570.5 721.2,571.8 721.3,569.9 721.4,564.6 721.5,570.8 721.5,569.1 721.6,571.1 721.7,572.4 721.8,574.6 721.9,569.8 722.0,562.7 722.1,578.3 722.2,568.2 722.3,581.7 722.4,569.9 722.5,576.4 722.6,563.8 722.7,570.3 722.8,572.0 722.9,576.3 723.0,565.6 723.1,568.0 723.2,566.9 723.2,568.0 723.3,576.3 723.4,572.4 723.5,570.1 723.6,571.4 723.7,566.9 723.8,579.7 723.9,572.4 724.0,567.2 724.1,574.2 724.2,570.9 724.3,578.8 724.4,571.5 724.5,576.3 724.6,578.6 724.7,574.3 724.8,569.4 724.8,575.8 724.9,569.0 725.0,565.2 725.1,584.1 725.2,574.6 725.3,573.9 725.4,571.5 725.5,563.6 725.6,570.1 725.7,568.2 725.8,565.9 725.9,568.9 726.0,562.4 726.1,567.9 726.2,578.5 726.3,569.3 726.4,568.1 726.5,577.8 726.5,572.9 726.6,568.3 726.7,575.7 726.8,573.7 726.9,575.5 727.0,567.7 727.1,570.3 727.2,570.5 727.3,569.8 727.4,566.5 727.5,570.6 727.6,567.7 727.7,573.0 727.8,574.6 727.9,564.6 728.0,576.4 728.1,568.1 728.2,566.3 728.2,573.1 728.3,568.2 728.4,569.0 728.5,572.8 728.6,571.7 728.7,558.8 728.8,575.1 728.9,574.2 729.0,568.4 729.1,565.1 729.2,572.6 729.3,575.2 729.4,573.3 729.5,572.3 729.6,571.5 729.7,577.9 729.8,573.3 729.9,567.7 729.9,573.7 730.0,571.0 730.1,575.9 730.2,578.3 730.3,573.9 730.4,561.6 730.5,567.5 730.6,570.3 730.7,576.1 730.8,567.6 730.9,568.2 731.0,573.1 731.1,575.6 731.2,562.2 731.3,579.1 731.4,572.0 731.5,575.7 731.6,567.5 731.6,574.9 731.7,573.0 731.8,568.5 731.9,572.3 732.0,570.4 732.1,567.7 732.2,573.6 732.3,570.3 732.4,576.0 732.5,570.4 732.6,570.3 732.7,573.7 732.8,576.1 732.9,576.0 733.0,575.4 733.1,572.1 733.2,572.6 733.2,583.3 733.3,571.3 733.4,577.9 733.5,565.3 733.6,575.4 733.7,565.8 733.8,575.2 733.9,572.5 734.0,576.1 734.1,575.0 734.2,572.2 734.3,570.7 734.4,574.7 734.5,567.3 734.6,573.7 734.7,576.8 734.8,566.6 734.9,577.5 734.9,577.3 735.0,571.3 735.1,569.1 735.2,576.9 735.3,573.8 735.4,571.7 735.5,570.7 735.6,575.5 735.7,573.6 735.8,570.4 735.9,570.1 736.0,578.6 736.1,568.4 736.2,561.9 736.3,572.1 736.4,567.3 736.5,572.0 736.6,573.7 736.6,569.3 736.7,576.8 736.8,572.8 736.9,571.4 737.0,578.0 737.1,576.3 737.2,576.3 737.3,572.9 737.4,572.0 737.5,568.6 737.6,574.7 737.7,572.4 737.8,568.6 737.9,567.0 738.0,576.0 738.1,570.1 738.2,563.7 738.3,573.0 738.3,576.7 738.4,568.3 738.5,566.2 738.6,574.5 738.7,579.5 738.8,567.1 738.9,572.0 739.0,576.8 739.1,575.8 739.2,579.4 739.3,570.1 739.4,568.0 739.5,573.1 739.6,570.4 739.7,569.5 739.8,575.9 739.9,573.3 739.9,572.0 740.0,574.2 740.1,574.7 740.2,572.4 740.3,576.3 740.4,568.0 740.5,570.9 740.6,572.6 740.7,573.5 740.8,577.6 740.9,572.6 741.0,577.7 741.1,574.4 741.2,571.7 741.3,574.0 741.4,573.2 741.5,573.8 741.6,563.7 741.6,569.1 741.7,568.9 741.8,570.7 741.9,568.8 742.0,569.9 742.1,576.4 742.2,574.5 742.3,568.9 742.4,571.8 742.5,569.6 742.6,574.2 742.7,574.7 742.8,573.0 742.9,569.9 743.0,573.6 743.1,565.6 743.2,577.4 743.3,562.1 743.3,567.9 743.4,567.4 743.5,568.6 743.6,569.6 743.7,583.3 743.8,578.7 743.9,577.2 744.0,569.4 744.1,576.4 744.2,567.6 744.3,572.9 744.4,571.1 744.5,571.3 744.6,569.1 744.7,569.6 744.8,568.5 744.9,562.5 745.0,577.0 745.0,570.2 745.1,568.5 745.2,577.6 745.3,566.0 745.4,573.8 745.5,572.4 745.6,570.5 745.7,568.7 745.8,570.7 745.9,568.5 746.0,570.9 746.1,575.2 746.2,572.4 746.3,576.2 746.4,572.9 746.5,577.2 746.6,580.9 746.7,572.0 746.7,569.9 746.8,567.3 746.9,568.4 747.0,577.0 747.1,576.5 747.2,571.2 747.3,579.6 747.4,577.7 747.5,568.2 747.6,569.7 747.7,564.4 747.8,577.0 747.9,576.2 748.0,568.4 748.1,568.8 748.2,576.1 748.3,569.9 748.3,576.3 748.4,571.6 748.5,566.0 748.6,562.8 748.7,577.5 748.8,567.5 748.9,572.4 749.0,578.0 749.1,573.0 749.2,571.7 749.3,564.6 749.4,569.7 749.5,575.7 749.6,575.1 749.7,572.6 749.8,568.3 749.9,576.7 750.0,568.0 750.0,574.3 750.1,577.6 750.2,576.6 750.3,571.7 750.4,576.4 750.5,569.6 750.6,573.4 750.7,572.5 750.8,569.4 750.9,571.8 751.0,569.6 751.1,571.1 751.2,564.4 751.3,573.5 751.4,568.7 751.5,575.6 751.6,572.0 751.7,571.7 751.7,569.9 751.8,571.7 751.9,570.7 752.0,571.5 752.1,578.2 752.2,582.0 752.3,572.3 752.4,579.7 752.5,577.0 752.6,576.1 752.7,572.8 752.8,571.3 752.9,576.7 753.0,571.4 753.1,577.2 753.2,575.1 753.3,577.0 753.4,563.9 753.4,570.7 753.5,575.5 753.6,573.6 753.7,577.2 753.8,572.0 753.9,570.5 754.0,564.2 754.1,574.3 754.2,574.0 754.3,570.4 754.4,573.0 754.5,567.7 754.6,574.3 754.7,572.7 754.8,574.7 754.9,572.4 755.0,573.8 755.1,570.3 755.1,578.5 755.2,574.5 755.3,570.0 755.4,575.4 755.5,573.5 755.6,563.3 755.7,573.5 755.8,579.8 755.9,580.7 756.0,575.5 756.1,576.0 756.2,568.8 756.3,570.3 756.4,563.3 756.5,570.4 756.6,578.0 756.7,579.0 756.7,567.0 756.8,574.1 756.9,572.2 757.0,569.8 757.1,566.5 757.2,574.3 757.3,576.0 757.4,576.4 757.5,573.5 757.6,565.2 757.7,579.5 757.8,569.6 757.9,570.9 758.0,575.9 758.1,567.7 758.2,571.6 758.3,571.2 758.4,576.2 758.4,564.5 758.5,573.6 758.6,571.9 758.7,575.9 758.8,562.9 758.9,565.5 759.0,568.9 759.1,576.2 759.2,575.9 759.3,571.6 759.4,573.5 759.5,571.5 759.6,574.9 759.7,566.0 759.8,574.5 759.9,578.8 760.0,573.1 760.1,571.1 760.1,573.3 760.2,576.7 760.3,574.9 760.4,575.6 760.5,573.2 760.6,568.9 760.7,566.9 760.8,576.0 760.9,576.3 761.0,575.0 761.1,569.0 761.2,566.6 761.3,573.7 761.4,569.4 761.5,576.5 761.6,568.2 761.7,572.6 761.8,573.1 761.8,572.6 761.9,571.7 762.0,576.3 762.1,569.7 762.2,575.7 762.3,575.1 762.4,575.5 762.5,570.9 762.6,570.6 762.7,574.6 762.8,576.9 762.9,568.1 763.0,573.0 763.1,569.6 763.2,575.7 763.3,569.8 763.4,573.3 763.4,567.8 763.5,568.8 763.6,578.7 763.7,564.8 763.8,568.6 763.9,573.8 764.0,571.1 764.1,574.2 764.2,571.6 764.3,571.1 764.4,580.7 764.5,567.8 764.6,576.3 764.7,577.1 764.8,577.3 764.9,574.9 765.0,564.0 765.1,567.1 765.1,570.4 765.2,573.1 765.3,572.2 765.4,569.4 765.5,574.6 765.6,572.2 765.7,576.5 765.8,578.4 765.9,570.4 766.0,586.5 766.1,581.6 766.2,574.9 766.3,566.8 766.4,561.5 766.5,566.4 766.6,573.4 766.7,571.0 766.8,581.4 766.8,575.4 766.9,577.0 767.0,572.2 767.1,564.9 767.2,574.8 767.3,571.8 767.4,570.1 767.5,580.0 767.6,571.1 767.7,571.8 767.8,570.5 767.9,568.6 768.0,574.8 768.1,566.1 768.2,574.5 768.3,573.3 768.4,571.3 768.5,572.9 768.5,567.5 768.6,573.3 768.7,571.4 768.8,564.1 768.9,565.5 769.0,567.9 769.1,569.1 769.2,567.4 769.3,576.0 769.4,571.6 769.5,570.4 769.6,573.5 769.7,568.5 769.8,573.9 769.9,571.6 770.0,573.6 770.1,568.9 770.2,572.0 770.2,575.3 770.3,573.9 770.4,576.2 770.5,577.0 770.6,573.0 770.7,571.8 770.8,571.8 770.9,568.3 771.0,570.8 771.1,569.3 771.2,572.0 771.3,574.0 771.4,559.6 771.5,572.1 771.6,564.9 771.7,565.6 771.8,571.0 771.8,574.8 771.9,579.1 772.0,569.2 772.1,567.2 772.2,579.4 772.3,568.3 772.4,567.3 772.5,571.1 772.6,576.8 772.7,572.3 772.8,567.6 772.9,573.7 773.0,570.5 773.1,566.7 773.2,580.6 773.3,564.4 773.4,577.4 773.5,572.8 773.5,574.3 773.6,573.9 773.7,566.6 773.8,571.0 773.9,568.5 774.0,569.1 774.1,573.1 774.2,569.8 774.3,568.7 774.4,575.6 774.5,573.0 774.6,569.4 774.7,568.9 774.8,577.1 774.9,572.1 775.0,577.8 775.1,577.9 775.2,573.9 775.2,576.8 775.3,571.1 775.4,576.4 775.5,576.4 775.6,573.2 775.7,576.1 775.8,573.7 775.9,572.8 776.0,570.2 776.1,570.7 776.2,569.2 776.3,574.7 776.4,574.6 776.5,577.3 776.6,573.4 776.7,578.7 776.8,574.8 776.9,569.6 776.9,572.0 777.0,573.0 777.1,569.5 777.2,577.7 777.3,567.2 777.4,574.8 777.5,572.8 777.6,567.0 777.7,566.1 777.8,574.6 777.9,578.5 778.0,577.1 778.1,583.5 778.2,576.3 778.3,574.3 778.4,575.2 778.5,580.9 778.5,574.9 778.6,567.8 778.7,574.1 778.8,571.6 778.9,579.5 779.0,573.1 779.1,567.3 779.2,570.3 779.3,564.8 779.4,576.8 779.5,575.4 779.6,570.8 779.7,585.1 779.8,572.7 779.9,574.4 780.0,572.0 780.1,574.9 780.2,567.3 780.2,564.5 780.3,574.2 780.4,571.4 780.5,569.0 780.6,578.8 780.7,572.6 780.8,574.7 780.9,573.0 781.0,571.4 781.1,571.3 781.2,574.9 781.3,566.9 781.4,576.5 781.5,568.8 781.6,576.3 781.7,561.9 781.8,575.9 781.9,575.5 781.9,580.0 782.0,567.6 782.1,572.6 782.2,576.3 782.3,573.5 782.4,573.7 782.5,570.8 782.6,578.0 782.7,572.8 782.8,574.0 782.9,572.0 783.0,576.3 783.1,572.6 783.2,574.4 783.3,571.6 783.4,567.7 783.5,564.8 783.6,579.7 783.6,577.6 783.7,568.4 783.8,571.0 783.9,578.5 784.0,569.1 784.1,573.2 784.2,565.9 784.3,569.9 784.4,584.8 784.5,573.9 784.6,570.3 784.7,568.5 784.8,569.9 784.9,577.8 785.0,567.8 785.1,580.1 785.2,568.0 785.3,572.8 785.3,574.0 785.4,569.0 785.5,576.0 785.6,570.5 785.7,569.3 785.8,566.3 785.9,573.8 786.0,574.2 786.1,568.9 786.2,575.4 786.3,578.0 786.4,570.0 786.5,576.1 786.6,575.2 786.7,576.6 786.8,576.1 786.9,577.4 786.9,576.6 787.0,569.5 787.1,578.3 787.2,571.4 787.3,568.2 787.4,577.4 787.5,562.5 787.6,573.3 787.7,577.6 787.8,574.2 787.9,565.8 788.0,566.3 788.1,566.3 788.2,570.2 788.3,569.1 788.4,574.2 788.5,578.4 788.6,576.5 788.6,574.0 788.7,578.4 788.8,573.5 788.9,568.0 789.0,571.6 789.1,573.0 789.2,572.5 789.3,574.4 789.4,581.6 789.5,578.6 789.6,566.2 789.7,572.6 789.8,572.9 789.9,571.8 790.0,569.7 790.1,569.8 790.2,570.9 790.3,578.7 790.3,578.0 790.4,564.5 790.5,573.3 790.6,574.5 790.7,569.6 790.8,566.7 790.9,578.1 791.0,572.6 791.1,575.1 791.2,568.1 791.3,571.6 791.4,567.7 791.5,574.3 791.6,571.0 791.7,576.5 791.8,570.1 791.9,574.5 792.0,572.9 792.0,574.4 792.1,572.1 792.2,577.1 792.3,575.1 792.4,575.2 792.5,566.9 792.6,574.7 792.7,579.6 792.8,566.7 792.9,576.3 793.0,566.8 793.1,574.7 793.2,572.1 793.3,573.6 793.4,565.7 793.5,568.1 793.6,578.3 793.7,567.8 793.7,572.5 793.8,573.3 793.9,577.4 794.0,573.9 794.1,571.3 794.2,575.7 794.3,575.7 794.4,579.6 794.5,571.0 794.6,576.2 794.7,584.9 794.8,576.6 794.9,576.8 795.0,576.2 795.1,569.5 795.2,575.8 795.3,576.4 795.3,574.0 795.4,576.2 795.5,574.2 795.6,574.7 795.7,573.9 795.8,574.4 795.9,569.4 796.0,571.0 796.1,569.1 796.2,569.6 796.3,573.1 796.4,572.3 796.5,575.3 796.6,579.3 796.7,576.5 796.8,575.4 796.9,581.1 797.0,573.6 797.0,569.9 797.1,578.9 797.2,575.3 797.3,573.4 797.4,576.6 797.5,569.5 797.6,573.4 797.7,565.1 797.8,575.2 797.9,566.4 798.0,570.5 798.1,572.8 798.2,576.6 798.3,571.3 798.4,574.8 798.5,571.2 798.6,574.8 798.7,574.5 798.7,571.6 798.8,579.3 798.9,568.6 799.0,574.3 799.1,572.4 799.2,572.3 799.3,574.9 799.4,575.0 799.5,575.1 799.6,573.8 799.7,572.7 799.8,573.4 799.9,581.3 800.0,575.0 800.1,576.6 800.2,570.7 800.3,576.9 800.4,565.3 800.4,574.8 800.5,568.0 800.6,573.5 800.7,578.4 800.8,581.5 800.9,571.4 801.0,572.8 801.1,573.4 801.2,568.0 801.3,569.2 801.4,583.5 801.5,573.9 801.6,574.4 801.7,575.0 801.8,575.4 801.9,573.2 802.0,580.2 802.0,576.1 802.1,573.6 802.2,575.6 802.3,571.5 802.4,566.6 802.5,566.9 802.6,567.6 802.7,571.2 802.8,575.4 802.9,574.4 803.0,571.0 803.1,584.2 803.2,585.9 803.3,578.8 803.4,576.2 803.5,573.2 803.6,574.1 803.7,569.1 803.7,564.3 803.8,573.9 803.9,572.3 804.0,567.4 804.1,568.2 804.2,571.5 804.3,573.8 804.4,581.7 804.5,571.7 804.6,580.5 804.7,567.8 804.8,569.6 804.9,578.1 805.0,576.8 805.1,573.2 805.2,568.5 805.3,574.1 805.4,571.3 805.4,572.0 805.5,571.1 805.6,578.3 805.7,579.5 805.8,577.8 805.9,580.4 806.0,575.2 806.1,568.3 806.2,567.5 806.3,571.4 806.4,572.2 806.5,574.5 806.6,573.2 806.7,572.4 806.8,584.2 806.9,567.3 807.0,571.2 807.1,583.1 807.1,573.8 807.2,570.0 807.3,574.7 807.4,570.6 807.5,575.7 807.6,571.3 807.7,570.7 807.8,571.8 807.9,561.3 808.0,573.5 808.1,576.8 808.2,575.4 808.3,571.0 808.4,577.6 808.5,571.3 808.6,568.3 808.7,572.0 808.8,573.1 808.8,577.8 808.9,567.2 809.0,572.4 809.1,575.2 809.2,569.9 809.3,577.2 809.4,570.9 809.5,571.6 809.6,567.1 809.7,576.1 809.8,569.4 809.9,568.8 810.0,579.5 810.1,568.4 810.2,570.3 810.3,576.8 810.4,575.9 810.4,568.9 810.5,567.7 810.6,573.1 810.7,573.3 810.8,569.9 810.9,573.3 811.0,573.5 811.1,568.0 811.2,568.2 811.3,573.4 811.4,568.9 811.5,571.8 811.6,574.9 811.7,570.4 811.8,570.8 811.9,573.3 812.0,573.5 812.1,571.8 812.1,573.6 812.2,574.3 812.3,576.5 812.4,572.6 812.5,566.5 812.6,571.9 812.7,574.2 812.8,575.4 812.9,573.1 813.0,573.8 813.1,573.0 813.2,571.9 813.3,572.7 813.4,575.5 813.5,572.9 813.6,575.8 813.7,570.5 813.8,582.4 813.8,581.0 813.9,574.9 814.0,573.6 814.1,565.8 814.2,572.3 814.3,573.7 814.4,577.2 814.5,569.3 814.6,578.2 814.7,578.8 814.8,570.9 814.9,570.0 815.0,572.3 815.1,573.2 815.2,572.8 815.3,581.3 815.4,575.8 815.5,570.4 815.5,575.6 815.6,584.2 815.7,567.6 815.8,567.1 815.9,570.1 816.0,574.2 816.1,577.2 816.2,573.9 816.3,575.9 816.4,565.8 816.5,573.0 816.6,577.1 816.7,574.4 816.8,570.5 816.9,582.2 817.0,576.5 817.1,574.6 817.2,576.2 817.2,571.8 817.3,571.4 817.4,578.1 817.5,572.9 817.6,566.0 817.7,570.8 817.8,572.7 817.9,575.7 818.0,578.7 818.1,568.8 818.2,573.5 818.3,572.3 818.4,570.2 818.5,575.9 818.6,577.2 818.7,573.1 818.8,570.2 818.8,577.9 818.9,570.8 819.0,568.6 819.1,572.0 819.2,577.1 819.3,576.1 819.4,576.1 819.5,563.7 819.6,578.3 819.7,573.5 819.8,568.5 819.9,576.1 820.0,570.8 820.1,577.9 820.2,574.4 820.3,567.5 820.4,572.3 820.5,574.3 820.5,580.6 820.6,579.5 820.7,573.7 820.8,566.9 820.9,567.3 821.0,572.3 821.1,569.9 821.2,571.0 821.3,572.6 821.4,576.3 821.5,572.0 821.6,569.4 821.7,566.1 821.8,572.9 821.9,575.3 822.0,567.7 822.1,567.3 822.2,574.1 822.2,575.4 822.3,569.6 822.4,570.5 822.5,576.2 822.6,574.7 822.7,565.7 822.8,572.5 822.9,571.5 823.0,575.5 823.1,573.1 823.2,572.6 823.3,570.4 823.4,573.9 823.5,572.5 823.6,574.1 823.7,567.2 823.8,573.7 823.9,569.3 823.9,573.3 824.0,565.2 824.1,580.3 824.2,573.8 824.3,574.3 824.4,577.1 824.5,570.8 824.6,575.3 824.7,573.0 824.8,574.9 824.9,570.7 825.0,568.4 825.1,574.8 825.2,569.6 825.3,568.0 825.4,570.7 825.5,572.2 825.5,569.4 825.6,572.7 825.7,568.6 825.8,576.8 825.9,573.1 826.0,580.2 826.1,570.7 826.2,570.0 826.3,572.5 826.4,572.7 826.5,573.6 826.6,577.2 826.7,573.4 826.8,574.4 826.9,570.5 827.0,576.2 827.1,575.0 827.2,576.5 827.2,579.1 827.3,566.0 827.4,574.1 827.5,576.2 827.6,570.3 827.7,568.8 827.8,566.2 827.9,573.5 828.0,568.5 828.1,575.1 828.2,573.3 828.3,572.7 828.4,574.6 828.5,568.9 828.6,566.6 828.7,573.1 828.8,572.3 828.9,570.8 828.9,574.6 829.0,577.2 829.1,573.2 829.2,569.5 829.3,572.5 829.4,575.9 829.5,573.1 829.6,572.6 829.7,566.4 829.8,570.4 829.9,571.8 830.0,570.7 830.1,572.5 830.2,569.1 830.3,578.9 830.4,572.1 830.5,564.0 830.6,578.5 830.6,572.0 830.7,584.0 830.8,569.0 830.9,566.7 831.0,568.0 831.1,569.6 831.2,570.0 831.3,566.5 831.4,574.1 831.5,571.6 831.6,581.0 831.7,570.5 831.8,574.3 831.9,570.2 832.0,572.8 832.1,569.9 832.2,573.0 832.3,569.9 832.3,567.1 832.4,568.3 832.5,577.5 832.6,574.9 832.7,573.6 832.8,569.2 832.9,574.9 833.0,572.4 833.1,580.5 833.2,571.5 833.3,576.0 833.4,575.3 833.5,574.1 833.6,570.9 833.7,566.8 833.8,582.5 833.9,571.3 833.9,577.2 834.0,568.5 834.1,572.9 834.2,574.8 834.3,574.8 834.4,575.8 834.5,571.5 834.6,579.1 834.7,570.6 834.8,578.6 834.9,576.5 835.0,574.3 835.1,568.5 835.2,575.5 835.3,577.0 835.4,571.4 835.5,574.5 835.6,571.8 835.6,571.1 835.7,581.4 835.8,563.0 835.9,572.6 836.0,573.8 836.1,580.0 836.2,571.6 836.3,569.4 836.4,579.5 836.5,571.9 836.6,574.0 836.7,576.3 836.8,574.9 836.9,570.2 837.0,574.4 837.1,565.2 837.2,573.1 837.3,573.6 837.3,572.7 837.4,570.4 837.5,570.3 837.6,569.7 837.7,571.9 837.8,571.4 837.9,566.5 838.0,570.3 838.1,571.6 838.2,571.5 838.3,569.3 838.4,565.1 838.5,570.5 838.6,575.9 838.7,576.7 838.8,585.5 838.9,569.2 839.0,574.6 839.0,574.1 839.1,575.5 839.2,572.8 839.3,575.6 839.4,569.7 839.5,572.9 839.6,570.5 839.7,572.3 839.8,572.5 839.9,569.6 840.0,571.6 840.1,575.4 840.2,568.8 840.3,572.2 840.4,582.8 840.5,571.4 840.6,578.5 840.7,573.6 840.7,573.6 840.8,570.5 840.9,571.6 841.0,563.7 841.1,578.8 841.2,577.3 841.3,578.8 841.4,573.7 841.5,569.0 841.6,578.0 841.7,576.1 841.8,574.5 841.9,578.7 842.0,575.4 842.1,570.8 842.2,571.6 842.3,573.2 842.3,575.6 842.4,576.2 842.5,575.2 842.6,564.3 842.7,568.9 842.8,582.2 842.9,568.6 843.0,566.3 843.1,572.9 843.2,579.0 843.3,567.6 843.4,565.5 843.5,575.9 843.6,566.3 843.7,571.8 843.8,566.4 843.9,572.0 844.0,576.0 844.0,574.1 844.1,576.0 844.2,568.0 844.3,566.3 844.4,571.2 844.5,574.3 844.6,570.1 844.7,573.3 844.8,571.3 844.9,576.2 845.0,573.3 845.1,567.1 845.2,574.4 845.3,575.2 845.4,573.9 845.5,568.5 845.6,570.2 845.7,578.4 845.7,577.1 845.8,571.4 845.9,580.5 846.0,567.2 846.1,568.1 846.2,571.9 846.3,578.5 846.4,567.9 846.5,566.9 846.6,577.2 846.7,566.0 846.8,577.0 846.9,571.2 847.0,572.9 847.1,572.9 847.2,574.9 847.3,568.9 847.4,577.6 847.4,570.6 847.5,579.5 847.6,576.4 847.7,567.4 847.8,575.1 847.9,577.1 848.0,575.7 848.1,569.0 848.2,577.8 848.3,563.4 848.4,577.0 848.5,574.5 848.6,579.2 848.7,571.2 848.8,572.8 848.9,573.7 849.0,577.8 849.0,567.8 849.1,574.6 849.2,571.9 849.3,574.7 849.4,568.1 849.5,579.4 849.6,578.0 849.7,566.0 849.8,573.6 849.9,575.1 850.0,573.1 850.1,579.4 850.2,575.5 850.3,578.7 850.4,574.3 850.5,569.5 850.6,572.6 850.7,566.5 850.7,578.2 850.8,568.0 850.9,578.2 851.0,580.8 851.1,570.6 851.2,577.4 851.3,575.2 851.4,567.8 851.5,578.7 851.6,572.9 851.7,574.7 851.8,574.5 851.9,570.8 852.0,573.5 852.1,579.6 852.2,570.3 852.3,576.1 852.4,574.6 852.4,577.8 852.5,567.2 852.6,570.1 852.7,571.7 852.8,572.8 852.9,574.7 853.0,567.3 853.1,577.0 853.2,571.4 853.3,568.4 853.4,574.7 853.5,574.5 853.6,574.8 853.7,567.5 853.8,565.7 853.9,572.1 854.0,565.9 854.1,573.3 854.1,566.1 854.2,575.2 854.3,567.7 854.4,571.1 854.5,575.1 854.6,578.6 854.7,568.4 854.8,573.5 854.9,570.4 855.0,574.2 855.1,573.5 855.2,569.4 855.3,575.7 855.4,568.4 855.5,575.1 855.6,571.4 855.7,580.5 855.8,566.2 855.8,576.5 855.9,574.9 856.0,572.3 856.1,572.8 856.2,572.6 856.3,569.2 856.4,570.5 856.5,566.5 856.6,563.0 856.7,573.9 856.8,573.6 856.9,572.1 857.0,571.0 857.1,572.0 857.2,566.5 857.3,576.6 857.4,573.7 857.4,575.6 857.5,564.9 857.6,573.7 857.7,572.3 857.8,574.1 857.9,565.8 858.0,570.3 858.1,575.6 858.2,576.1 858.3,566.1 858.4,572.4 858.5,572.6 858.6,576.2 858.7,561.9 858.8,573.3 858.9,567.2 859.0,571.0 859.1,569.8 859.1,575.5 859.2,576.2 859.3,573.4 859.4,577.1 859.5,577.6 859.6,573.9 859.7,573.9 859.8,568.5 859.9,570.9 860.0,579.5 860.1,574.8 860.2,576.9 860.3,573.5 860.4,568.5 860.5,570.8 860.6,570.4 860.7,568.9 860.8,577.3 860.8,579.1 860.9,564.8 861.0,572.5 861.1,579.8 861.2,574.8 861.3,574.8 861.4,571.4 861.5,574.1 861.6,572.9 861.7,571.0 861.8,569.8 861.9,578.1 862.0,572.1 862.1,574.7 862.2,574.7 862.3,573.5 862.4,571.6 862.5,573.2 862.5,571.7 862.6,571.1 862.7,573.2 862.8,577.0 862.9,576.9 863.0,580.4 863.1,570.5 863.2,573.4 863.3,563.5 863.4,575.4 863.5,563.9 863.6,572.0 863.7,572.0 863.8,568.0 863.9,578.1 864.0,571.3 864.1,569.5 864.2,572.6 864.2,581.9 864.3,581.7 864.4,573.0 864.5,568.1 864.6,569.4 864.7,570.2 864.8,571.2 864.9,575.4 865.0,565.9 865.1,570.9 865.2,568.3 865.3,568.7 865.4,571.0 865.5,572.9 865.6,574.5 865.7,571.3 865.8,576.4 865.8,568.1 865.9,565.8 866.0,576.0 866.1,567.5 866.2,575.5 866.3,573.9 866.4,579.9 866.5,577.4 866.6,572.3 866.7,578.8 866.8,573.2 866.9,575.7 867.0,569.6 867.1,575.9 867.2,572.1 867.3,574.8 867.4,577.1 867.5,573.7 867.5,570.8 867.6,576.5 867.7,582.1 867.8,572.1 867.9,577.7 868.0,571.3 868.1,569.2 868.2,573.7 868.3,572.4 868.4,570.1 868.5,574.2 868.6,575.3 868.7,568.0 868.8,571.9 868.9,578.8 869.0,572.8 869.1,570.3 869.2,570.1 869.2,572.7 869.3,564.4 869.4,575.3 869.5,573.2 869.6,570.4 869.7,575.3 869.8,575.5 869.9,577.1 870.0,574.0 870.1,569.5 870.2,571.9 870.3,572.5 870.4,570.6 870.5,575.3 870.6,567.6 870.7,576.4 870.8,574.7 870.9,569.5 870.9,571.7 871.0,572.6 871.1,567.6 871.2,568.5 871.3,572.8 871.4,574.4 871.5,572.3 871.6,568.2 871.7,579.6 871.8,569.3 871.9,572.5 872.0,574.8 872.1,573.7 872.2,567.4 872.3,570.4 872.4,574.5 872.5,573.2 872.5,590.3 872.6,575.4 872.7,573.3 872.8,581.1 872.9,575.4 873.0,571.8 873.1,574.7 873.2,571.8 873.3,577.5 873.4,573.7 873.5,573.6 873.6,568.7 873.7,567.3 873.8,574.2 873.9,578.1 874.0,573.9 874.1,574.3 874.2,579.9 874.2,573.3 874.3,571.5 874.4,569.6 874.5,568.8 874.6,570.7 874.7,575.7 874.8,576.5 874.9,575.2 875.0,572.8 875.1,576.3 875.2,577.7 875.3,567.1 875.4,573.3 875.5,574.5 875.6,572.3 875.7,570.8 875.8,581.0 875.9,568.6 875.9,573.4 876.0,569.7 876.1,575.5 876.2,574.3 876.3,566.2 876.4,572.6 876.5,578.5 876.6,571.6 876.7,572.2 876.8,576.8 876.9,572.9 877.0,575.7 877.1,571.8 877.2,572.2 877.3,566.6 877.4,573.2 877.5,567.9 877.6,580.4 877.6,566.8 877.7,566.5 877.8,566.9 877.9,572.9 878.0,575.6 878.1,568.6 878.2,571.9 878.3,584.5 878.4,576.7 878.5,573.5 878.6,576.3 878.7,572.7 878.8,568.8 878.9,570.7 879.0,569.8 879.1,575.1 879.2,571.3 879.3,569.5 879.3,571.4 879.4,574.4 879.5,578.7 879.6,570.6 879.7,572.8 879.8,574.7 879.9,572.9 880.0,570.6 880.1,576.0 880.2,570.1 880.3,567.1 880.4,578.4 880.5,569.2 880.6,569.9 880.7,571.0 880.8,569.8 880.9,567.9 880.9,569.3 881.0,575.6 881.1,571.8 881.2,569.2 881.3,573.2 881.4,571.0 881.5,573.8 881.6,565.9 881.7,572.6 881.8,571.7 881.9,570.9 882.0,577.1 882.1,573.0 882.2,571.9 882.3,568.4 882.4,573.0 882.5,572.7 882.6,565.2 882.6,573.8 882.7,578.6 882.8,576.3 882.9,574.8 883.0,571.1 883.1,570.8 883.2,575.7 883.3,565.2 883.4,572.5 883.5,573.1 883.6,576.0 883.7,571.3 883.8,574.8 883.9,564.7 884.0,568.4 884.1,571.1 884.2,571.0 884.3,572.7 884.3,578.3 884.4,568.5 884.5,564.8 884.6,570.4 884.7,577.0 884.8,567.3 884.9,569.5 885.0,570.2 885.1,572.9 885.2,566.5 885.3,579.0 885.4,584.2 885.5,570.8 885.6,577.0 885.7,571.8 885.8,573.9 885.9,566.0 886.0,572.7 886.0,570.0 886.1,564.1 886.2,567.3 886.3,570.8 886.4,576.1 886.5,576.2 886.6,571.1 886.7,570.9 886.8,576.2 886.9,572.6 887.0,573.8 887.1,572.8 887.2,572.2 887.3,568.5 887.4,571.2 887.5,572.9 887.6,571.8 887.7,573.3 887.7,568.7 887.8,566.3 887.9,569.2 888.0,569.8 888.1,566.8 888.2,569.4 888.3,571.1 888.4,570.2 888.5,573.8 888.6,569.7 888.7,571.3 888.8,576.5 888.9,569.9 889.0,572.4 889.1,570.1 889.2,574.1 889.3,565.8 889.3,566.0 889.4,570.5 889.5,568.2 889.6,571.1 889.7,575.3 889.8,577.1 889.9,575.0 890.0,574.6 890.1,575.1 890.2,578.5 890.3,572.0 890.4,563.7 890.5,566.3 890.6,566.9 890.7,564.2 890.8,565.7 890.9,566.8 891.0,564.3 891.0,573.2 891.1,576.7 891.2,565.2 891.3,580.0 891.4,571.1 891.5,572.7 891.6,567.4 891.7,576.4 891.8,567.0 891.9,575.7 892.0,573.0 892.1,573.4 892.2,579.6 892.3,568.4 892.4,575.1 892.5,567.4 892.6,563.1 892.7,569.6 892.7,569.7 892.8,580.0 892.9,576.1 893.0,569.1 893.1,574.2 893.2,574.4 893.3,576.0 893.4,575.1 893.5,577.0 893.6,573.8 893.7,568.1 893.8,573.9 893.9,572.7 894.0,572.1 894.1,567.8 894.2,565.5 894.3,576.4 894.4,575.2 894.4,569.2 894.5,572.2 894.6,572.2 894.7,574.1 894.8,570.4 894.9,570.8 895.0,578.3 895.1,570.3 895.2,571.6 895.3,570.2 895.4,579.4 895.5,574.9 895.6,575.1 895.7,574.3 895.8,574.9 895.9,578.5 896.0,568.4 896.0,564.8 896.1,572.7 896.2,569.1 896.3,569.8 896.4,575.3 896.5,571.4 896.6,568.7 896.7,579.1 896.8,573.5 896.9,572.2 897.0,572.8 897.1,573.6 897.2,572.7 897.3,570.1 897.4,572.2 897.5,572.6 897.6,574.3 897.7,569.9 897.7,577.8 897.8,573.2 897.9,575.8 898.0,568.4 898.1,572.2 898.2,571.8 898.3,578.3 898.4,574.2 898.5,564.3 898.6,575.4 898.7,571.5 898.8,576.7 898.9,573.4 899.0,578.1 899.1,574.8 899.2,573.3 899.3,578.2 899.4,566.7 899.4,573.7 899.5,573.1 899.6,570.2 899.7,578.6 899.8,570.7 899.9,571.9 900.0,570.4 900.1,575.0 900.2,570.7 900.3,566.2 900.4,577.6 900.5,575.6 900.6,569.7 900.7,568.6 900.8,569.7 900.9,575.7 901.0,570.4 901.1,573.0 901.1,570.7 901.2,564.8 901.3,572.3 901.4,576.2 901.5,575.6 901.6,570.2 901.7,570.2 901.8,576.1 901.9,566.2 902.0,571.0 902.1,573.1 902.2,572.5 902.3,580.0 902.4,579.3 902.5,571.9 902.6,573.9 902.7,574.1 902.8,568.2 902.8,568.0 902.9,573.3 903.0,572.3 903.1,576.7 903.2,575.7 903.3,574.7 903.4,572.9 903.5,573.0 903.6,569.9 133.1,543.4 133.0,546.0 133.2,549.0 133.1,552.0 133.0,555.5 133.3,558.0 163.2,604.8 644.6,595.8 766.7,594.2" fill="none" stroke="none" marker-start="url(#mc)" marker-mid="url(#mc)" marker-end="url(#mc)"/>
<rect x="937.5" y="64.5" width="138" height="86" fill="#fff" stroke="#262626" stroke-width="1" shape-rendering="crispEdges"/>
<polyline points="977.5,81.3" fill="none" stroke="none" marker-start="url(#mx)" marker-mid="url(#mx)" marker-end="url(#mx)"/>
<polyline points="977.5,107.4" fill="none" stroke="none" marker-start="url(#mp)" marker-mid="url(#mp)" marker-end="url(#mp)"/>
<polyline points="977.5,133.3" fill="none" stroke="none" marker-start="url(#mc)" marker-mid="url(#mc)" marker-end="url(#mc)"/>
<g>
<circle cx="936" cy="26" r="21" fill="#1a3f9e"/>
<path d="M913 31.5C925 30 943 24 964 8C958 17 948 25 938 28.5C930 31 921 32 913 31.5Z" fill="#ee2e24"/>
<path d="M924 13C932 16 942 25 946 33" stroke="#fff" stroke-width="0.8" fill="none" opacity=".85"/>
<g fill="#fff"><circle cx="927" cy="12" r=".7"/><circle cx="941" cy="10" r=".6"/><circle cx="923" cy="38" r=".6"/><circle cx="947" cy="37" r=".7"/><circle cx="931" cy="41" r=".5"/><circle cx="950" cy="17" r=".5"/><circle cx="944" cy="41" r=".5"/></g>
</g>
</svg>
<div class="t" style="left:304.31px;top:3.80px;font-size:23.3px;font-weight:700;color:#000;transform:rotate(0.03deg) scaleX(1.1484);">AIRS Channel 754 NEdT (@250K)</div>
<div class="t" style="left:377.92px;top:33.75px;font-size:23.3px;font-weight:700;color:#000;transform:rotate(0.03deg) scaleX(1.2204);">[M-08, 898.586 cm-1]</div>
<div class="t" style="left:40.80px;top:650.84px;font-size:23.3px;transform:rotate(-89.97deg) scaleX(1.1156);">Noise Equivalent Delta Temperature (K)</div>
<div class="t" style="left:73.74px;top:76.90px;font-size:22.3px;transform:rotate(0.03deg) scaleX(1.0350);">0.45</div>
<div class="t" style="left:86.09px;top:171.90px;font-size:22.3px;transform:rotate(0.03deg) scaleX(1.0350);">0.4</div>
<div class="t" style="left:73.74px;top:267.90px;font-size:22.3px;transform:rotate(0.03deg) scaleX(1.0350);">0.35</div>
<div class="t" style="left:86.39px;top:362.90px;font-size:22.3px;transform:rotate(0.03deg) scaleX(1.0350);">0.3</div>
<div class="t" style="left:73.74px;top:457.90px;font-size:22.3px;transform:rotate(0.03deg) scaleX(1.0350);">0.25</div>
<div class="t" style="left:87.01px;top:552.90px;font-size:22.3px;transform:rotate(0.03deg) scaleX(1.0350);">0.2</div>
<div class="t" style="left:73.74px;top:648.90px;font-size:22.3px;transform:rotate(0.03deg) scaleX(1.0350);">0.15</div>
<div class="t" style="left:86.64px;top:743.90px;font-size:22.3px;transform:rotate(0.03deg) scaleX(1.0350);">0.1</div>
<div class="t" style="left:111.95px;top:789.50px;font-size:22.3px;transform:rotate(0.03deg) scaleX(1.0720);">2003</div>
<div class="t" style="left:179.91px;top:789.50px;font-size:22.3px;transform:rotate(0.03deg) scaleX(1.0720);">2005</div>
<div class="t" style="left:248.93px;top:789.50px;font-size:22.3px;transform:rotate(0.03deg) scaleX(1.0720);">2007</div>
<div class="t" style="left:316.92px;top:789.50px;font-size:22.3px;transform:rotate(0.03deg) scaleX(1.0720);">2009</div>
<div class="t" style="left:386.77px;top:789.50px;font-size:22.3px;transform:rotate(0.03deg) scaleX(1.0720);">2011</div>
<div class="t" style="left:454.95px;top:789.50px;font-size:22.3px;transform:rotate(0.03deg) scaleX(1.0720);">2013</div>
<div class="t" style="left:522.91px;top:789.50px;font-size:22.3px;transform:rotate(0.03deg) scaleX(1.0720);">2015</div>
<div class="t" style="left:591.93px;top:789.50px;font-size:22.3px;transform:rotate(0.03deg) scaleX(1.0720);">2017</div>
<div class="t" style="left:659.92px;top:789.50px;font-size:22.3px;transform:rotate(0.03deg) scaleX(1.0720);">2019</div>
<div class="t" style="left:728.81px;top:789.50px;font-size:22.3px;transform:rotate(0.03deg) scaleX(1.0720);">2021</div>
<div class="t" style="left:796.95px;top:789.50px;font-size:22.3px;transform:rotate(0.03deg) scaleX(1.0720);">2023</div>
<div class="t" style="left:865.91px;top:789.50px;font-size:22.3px;transform:rotate(0.03deg) scaleX(1.0720);">2025</div>
<div class="t" style="left:1014.86px;top:71.80px;font-size:19.3px;color:#000;transform:rotate(0.03deg) scaleX(1.0550);">Mean</div>
<div class="t" style="left:1014.81px;top:97.70px;font-size:19.3px;color:#000;transform:rotate(0.03deg) scaleX(1.0897);">Max</div>
<div class="t" style="left:1014.85px;top:123.60px;font-size:19.3px;color:#000;transform:rotate(0.03deg) scaleX(1.0593);">Min</div>
<div class="t" style="left:965.34px;top:13.30px;font-size:13.2px;font-weight:700;color:#000;transform:rotate(0.03deg) scaleX(1.0701);">Jet Propulsion Laboratory</div>
<div class="t" style="left:966.13px;top:29.00px;font-size:11.3px;color:#000;transform:rotate(0.03deg) scaleX(1.0634);">California Institute of Technology</div>
<div class="t" style="left:917.50px;top:21.20px;font-size:11.5px;font-weight:700;color:#fff;font-family:'Liberation Serif',serif;transform:rotate(0.03deg) scaleX(1.2388);">NASA</div>
</body></html>
